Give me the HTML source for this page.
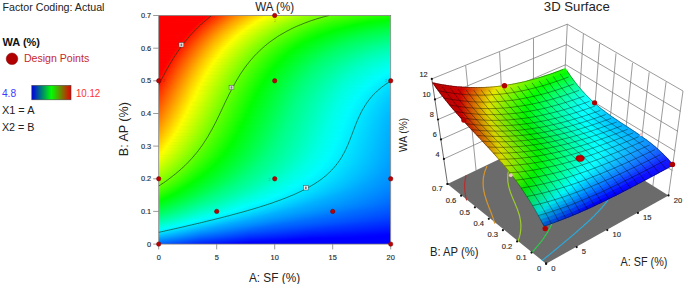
<!DOCTYPE html>
<html><head><meta charset="utf-8"><style>
html,body{margin:0;padding:0;background:#fff;}
body{width:685px;height:284px;overflow:hidden;}
svg{display:block;font-family:"Liberation Sans",sans-serif;}
</style></head><body>
<svg width="685" height="284" viewBox="0 0 685 284">
<defs><linearGradient id="g0"><stop offset="0.000" stop-color="#ff0000"/><stop offset="0.207" stop-color="#ff0000"/><stop offset="0.362" stop-color="#ffa200"/><stop offset="0.474" stop-color="#feff00"/><stop offset="0.621" stop-color="#9eff00"/><stop offset="0.776" stop-color="#57ff00"/><stop offset="0.948" stop-color="#29ff00"/><stop offset="1.000" stop-color="#20ff00"/></linearGradient><linearGradient id="g1"><stop offset="0.000" stop-color="#ff0000"/><stop offset="0.207" stop-color="#ff0400"/><stop offset="0.336" stop-color="#ff9000"/><stop offset="0.457" stop-color="#fffa00"/><stop offset="0.491" stop-color="#eaff00"/><stop offset="0.638" stop-color="#8eff00"/><stop offset="0.802" stop-color="#47ff00"/><stop offset="0.974" stop-color="#1cff00"/><stop offset="1.000" stop-color="#18ff00"/></linearGradient><linearGradient id="g2"><stop offset="0.000" stop-color="#ff0000"/><stop offset="0.198" stop-color="#ff0000"/><stop offset="0.328" stop-color="#ff8e00"/><stop offset="0.457" stop-color="#feff00"/><stop offset="0.603" stop-color="#9aff00"/><stop offset="0.759" stop-color="#4fff00"/><stop offset="0.931" stop-color="#1dff00"/><stop offset="1.000" stop-color="#10ff00"/></linearGradient><linearGradient id="g3"><stop offset="0.000" stop-color="#ff0000"/><stop offset="0.190" stop-color="#ff0000"/><stop offset="0.353" stop-color="#ffad00"/><stop offset="0.448" stop-color="#feff00"/><stop offset="0.595" stop-color="#98ff00"/><stop offset="0.750" stop-color="#4cff00"/><stop offset="0.922" stop-color="#17ff00"/><stop offset="1.000" stop-color="#09ff00"/></linearGradient><linearGradient id="g4"><stop offset="0.000" stop-color="#ff0000"/><stop offset="0.190" stop-color="#ff0200"/><stop offset="0.319" stop-color="#ff9200"/><stop offset="0.440" stop-color="#ffff00"/><stop offset="0.586" stop-color="#97ff00"/><stop offset="0.741" stop-color="#49ff00"/><stop offset="0.914" stop-color="#12ff00"/><stop offset="1.000" stop-color="#01ff00"/></linearGradient><linearGradient id="g5"><stop offset="0.000" stop-color="#ff0000"/><stop offset="0.181" stop-color="#ff0000"/><stop offset="0.328" stop-color="#ffa100"/><stop offset="0.431" stop-color="#ffff00"/><stop offset="0.578" stop-color="#96ff00"/><stop offset="0.733" stop-color="#45ff00"/><stop offset="0.905" stop-color="#0cff00"/><stop offset="0.991" stop-color="#00ff05"/><stop offset="1.000" stop-color="#00ff06"/></linearGradient><linearGradient id="g6"><stop offset="0.000" stop-color="#ff0000"/><stop offset="0.181" stop-color="#ff0400"/><stop offset="0.310" stop-color="#ff9600"/><stop offset="0.422" stop-color="#fffe00"/><stop offset="0.578" stop-color="#90ff00"/><stop offset="0.733" stop-color="#3fff00"/><stop offset="0.905" stop-color="#05ff00"/><stop offset="1.000" stop-color="#00ff0e"/></linearGradient><linearGradient id="g7"><stop offset="0.000" stop-color="#ff0000"/><stop offset="0.172" stop-color="#ff0000"/><stop offset="0.310" stop-color="#ff9c00"/><stop offset="0.414" stop-color="#fffc00"/><stop offset="0.578" stop-color="#89ff00"/><stop offset="0.733" stop-color="#38ff00"/><stop offset="0.897" stop-color="#01ff00"/><stop offset="1.000" stop-color="#00ff15"/></linearGradient><linearGradient id="g8"><stop offset="0.000" stop-color="#ff0000"/><stop offset="0.164" stop-color="#ff0000"/><stop offset="0.190" stop-color="#ff1a00"/><stop offset="0.319" stop-color="#ffaa00"/><stop offset="0.414" stop-color="#fcff00"/><stop offset="0.560" stop-color="#8eff00"/><stop offset="0.716" stop-color="#39ff00"/><stop offset="0.871" stop-color="#01ff00"/><stop offset="1.000" stop-color="#00ff1c"/></linearGradient><linearGradient id="g9"><stop offset="0.000" stop-color="#ff0000"/><stop offset="0.164" stop-color="#ff0000"/><stop offset="0.293" stop-color="#ff9600"/><stop offset="0.405" stop-color="#fdff00"/><stop offset="0.552" stop-color="#8eff00"/><stop offset="0.707" stop-color="#37ff00"/><stop offset="0.853" stop-color="#00ff01"/><stop offset="1.000" stop-color="#00ff23"/></linearGradient><linearGradient id="g10"><stop offset="0.000" stop-color="#ff0000"/><stop offset="0.155" stop-color="#ff0000"/><stop offset="0.198" stop-color="#ff3000"/><stop offset="0.336" stop-color="#ffc700"/><stop offset="0.397" stop-color="#ffff00"/><stop offset="0.543" stop-color="#8eff00"/><stop offset="0.698" stop-color="#35ff00"/><stop offset="0.836" stop-color="#00ff02"/><stop offset="1.000" stop-color="#00ff2a"/></linearGradient><linearGradient id="g11"><stop offset="0.000" stop-color="#ff0000"/><stop offset="0.155" stop-color="#ff0000"/><stop offset="0.284" stop-color="#ff9800"/><stop offset="0.388" stop-color="#fffd00"/><stop offset="0.552" stop-color="#82ff00"/><stop offset="0.707" stop-color="#2bff00"/><stop offset="0.819" stop-color="#00ff02"/><stop offset="1.000" stop-color="#00ff31"/></linearGradient><linearGradient id="g12"><stop offset="0.000" stop-color="#ff0000"/><stop offset="0.147" stop-color="#ff0000"/><stop offset="0.207" stop-color="#ff4600"/><stop offset="0.345" stop-color="#ffda00"/><stop offset="0.388" stop-color="#fbff00"/><stop offset="0.534" stop-color="#88ff00"/><stop offset="0.690" stop-color="#2dff00"/><stop offset="0.802" stop-color="#00ff02"/><stop offset="0.983" stop-color="#00ff34"/><stop offset="1.000" stop-color="#00ff38"/></linearGradient><linearGradient id="g13"><stop offset="0.000" stop-color="#ff0000"/><stop offset="0.147" stop-color="#ff0000"/><stop offset="0.276" stop-color="#ff9a00"/><stop offset="0.379" stop-color="#feff00"/><stop offset="0.526" stop-color="#88ff00"/><stop offset="0.681" stop-color="#2cff00"/><stop offset="0.784" stop-color="#00ff02"/><stop offset="0.966" stop-color="#00ff37"/><stop offset="1.000" stop-color="#00ff3e"/></linearGradient><linearGradient id="g14"><stop offset="0.000" stop-color="#ff0000"/><stop offset="0.138" stop-color="#ff0000"/><stop offset="0.172" stop-color="#ff2700"/><stop offset="0.302" stop-color="#ffba00"/><stop offset="0.371" stop-color="#fffe00"/><stop offset="0.526" stop-color="#83ff00"/><stop offset="0.681" stop-color="#26ff00"/><stop offset="0.767" stop-color="#00ff01"/><stop offset="0.948" stop-color="#00ff3a"/><stop offset="1.000" stop-color="#00ff45"/></linearGradient><linearGradient id="g15"><stop offset="0.000" stop-color="#ff0000"/><stop offset="0.138" stop-color="#ff0000"/><stop offset="0.267" stop-color="#ff9b00"/><stop offset="0.362" stop-color="#fffb00"/><stop offset="0.534" stop-color="#77ff00"/><stop offset="0.690" stop-color="#1cff00"/><stop offset="0.759" stop-color="#00ff03"/><stop offset="0.940" stop-color="#00ff3e"/><stop offset="1.000" stop-color="#00ff4b"/></linearGradient><linearGradient id="g16"><stop offset="0.000" stop-color="#ff0000"/><stop offset="0.129" stop-color="#ff0000"/><stop offset="0.155" stop-color="#ff1c00"/><stop offset="0.284" stop-color="#ffb300"/><stop offset="0.362" stop-color="#feff00"/><stop offset="0.509" stop-color="#84ff00"/><stop offset="0.664" stop-color="#24ff00"/><stop offset="0.741" stop-color="#00ff02"/><stop offset="0.914" stop-color="#00ff3e"/><stop offset="1.000" stop-color="#00ff51"/></linearGradient><linearGradient id="g17"><stop offset="0.000" stop-color="#ff0000"/><stop offset="0.129" stop-color="#ff0000"/><stop offset="0.267" stop-color="#ffa500"/><stop offset="0.353" stop-color="#fffd00"/><stop offset="0.509" stop-color="#7fff00"/><stop offset="0.664" stop-color="#1eff00"/><stop offset="0.733" stop-color="#00ff03"/><stop offset="0.905" stop-color="#00ff41"/><stop offset="1.000" stop-color="#00ff58"/></linearGradient><linearGradient id="g18"><stop offset="0.000" stop-color="#ff0000"/><stop offset="0.121" stop-color="#ff0000"/><stop offset="0.138" stop-color="#ff1000"/><stop offset="0.267" stop-color="#ffab00"/><stop offset="0.353" stop-color="#fcff00"/><stop offset="0.500" stop-color="#80ff00"/><stop offset="0.655" stop-color="#1eff00"/><stop offset="0.716" stop-color="#00ff01"/><stop offset="0.888" stop-color="#00ff42"/><stop offset="1.000" stop-color="#00ff5e"/></linearGradient><linearGradient id="g19"><stop offset="0.000" stop-color="#ff0000"/><stop offset="0.121" stop-color="#ff0000"/><stop offset="0.267" stop-color="#ffb000"/><stop offset="0.345" stop-color="#ffff00"/><stop offset="0.491" stop-color="#82ff00"/><stop offset="0.647" stop-color="#1dff00"/><stop offset="0.707" stop-color="#00ff02"/><stop offset="0.879" stop-color="#00ff45"/><stop offset="1.000" stop-color="#00ff64"/></linearGradient><linearGradient id="g20"><stop offset="0.000" stop-color="#ff0000"/><stop offset="0.121" stop-color="#ff0300"/><stop offset="0.250" stop-color="#ffa200"/><stop offset="0.336" stop-color="#fffc00"/><stop offset="0.509" stop-color="#70ff00"/><stop offset="0.664" stop-color="#0fff00"/><stop offset="0.698" stop-color="#00ff03"/><stop offset="0.871" stop-color="#00ff48"/><stop offset="1.000" stop-color="#00ff69"/></linearGradient><linearGradient id="g21"><stop offset="0.000" stop-color="#ff0000"/><stop offset="0.112" stop-color="#ff0000"/><stop offset="0.267" stop-color="#ffb900"/><stop offset="0.336" stop-color="#fdff00"/><stop offset="0.483" stop-color="#7eff00"/><stop offset="0.638" stop-color="#18ff00"/><stop offset="0.690" stop-color="#00ff04"/><stop offset="0.862" stop-color="#00ff4b"/><stop offset="1.000" stop-color="#00ff6f"/></linearGradient><linearGradient id="g22"><stop offset="0.000" stop-color="#ff0000"/><stop offset="0.112" stop-color="#ff0100"/><stop offset="0.241" stop-color="#ffa200"/><stop offset="0.328" stop-color="#fffd00"/><stop offset="0.491" stop-color="#73ff00"/><stop offset="0.647" stop-color="#0eff00"/><stop offset="0.681" stop-color="#00ff04"/><stop offset="0.853" stop-color="#00ff4d"/><stop offset="1.000" stop-color="#00ff75"/></linearGradient><linearGradient id="g23"><stop offset="0.000" stop-color="#ff0000"/><stop offset="0.103" stop-color="#ff0000"/><stop offset="0.138" stop-color="#ff2800"/><stop offset="0.267" stop-color="#ffc300"/><stop offset="0.328" stop-color="#fdff00"/><stop offset="0.474" stop-color="#7bff00"/><stop offset="0.629" stop-color="#13ff00"/><stop offset="0.672" stop-color="#00ff05"/><stop offset="0.845" stop-color="#00ff4f"/><stop offset="1.000" stop-color="#00ff7a"/></linearGradient><linearGradient id="g24"><stop offset="0.000" stop-color="#ff0000"/><stop offset="0.103" stop-color="#ff0000"/><stop offset="0.241" stop-color="#ffab00"/><stop offset="0.319" stop-color="#fffe00"/><stop offset="0.474" stop-color="#77ff00"/><stop offset="0.629" stop-color="#0eff00"/><stop offset="0.664" stop-color="#00ff05"/><stop offset="0.836" stop-color="#00ff51"/><stop offset="1.000" stop-color="#00ff80"/></linearGradient><linearGradient id="g25"><stop offset="0.000" stop-color="#ff0000"/><stop offset="0.103" stop-color="#ff0400"/><stop offset="0.233" stop-color="#ffa600"/><stop offset="0.319" stop-color="#fcff00"/><stop offset="0.466" stop-color="#79ff00"/><stop offset="0.621" stop-color="#0fff00"/><stop offset="0.655" stop-color="#00ff05"/><stop offset="0.828" stop-color="#00ff53"/><stop offset="1.000" stop-color="#00ff85"/></linearGradient><linearGradient id="g26"><stop offset="0.000" stop-color="#ff0000"/><stop offset="0.095" stop-color="#ff0000"/><stop offset="0.250" stop-color="#ffbe00"/><stop offset="0.310" stop-color="#fffe00"/><stop offset="0.466" stop-color="#75ff00"/><stop offset="0.621" stop-color="#0aff00"/><stop offset="0.647" stop-color="#00ff05"/><stop offset="0.819" stop-color="#00ff55"/><stop offset="1.000" stop-color="#00ff8a"/></linearGradient><linearGradient id="g27"><stop offset="0.000" stop-color="#ff0000"/><stop offset="0.095" stop-color="#ff0100"/><stop offset="0.224" stop-color="#ffa500"/><stop offset="0.310" stop-color="#fcff00"/><stop offset="0.457" stop-color="#77ff00"/><stop offset="0.612" stop-color="#0bff00"/><stop offset="0.638" stop-color="#00ff05"/><stop offset="0.810" stop-color="#00ff56"/><stop offset="1.000" stop-color="#00ff90"/></linearGradient><linearGradient id="g28"><stop offset="0.000" stop-color="#ff0000"/><stop offset="0.086" stop-color="#ff0000"/><stop offset="0.112" stop-color="#ff1d00"/><stop offset="0.241" stop-color="#ffbd00"/><stop offset="0.302" stop-color="#fffe00"/><stop offset="0.457" stop-color="#73ff00"/><stop offset="0.612" stop-color="#06ff00"/><stop offset="0.655" stop-color="#00ff13"/><stop offset="0.828" stop-color="#00ff62"/><stop offset="1.000" stop-color="#00ff95"/></linearGradient><linearGradient id="g29"><stop offset="0.000" stop-color="#ff0000"/><stop offset="0.086" stop-color="#ff0000"/><stop offset="0.233" stop-color="#ffb700"/><stop offset="0.302" stop-color="#fcff00"/><stop offset="0.448" stop-color="#75ff00"/><stop offset="0.603" stop-color="#07ff00"/><stop offset="0.638" stop-color="#00ff0d"/><stop offset="0.810" stop-color="#00ff60"/><stop offset="1.000" stop-color="#00ff9a"/></linearGradient><linearGradient id="g30"><stop offset="0.000" stop-color="#ff0000"/><stop offset="0.086" stop-color="#ff0300"/><stop offset="0.216" stop-color="#ffa800"/><stop offset="0.293" stop-color="#fffd00"/><stop offset="0.448" stop-color="#71ff00"/><stop offset="0.603" stop-color="#03ff00"/><stop offset="0.802" stop-color="#00ff61"/><stop offset="0.991" stop-color="#00ff9d"/><stop offset="1.000" stop-color="#00ff9f"/></linearGradient><linearGradient id="g31"><stop offset="0.000" stop-color="#ff0000"/><stop offset="0.078" stop-color="#ff0000"/><stop offset="0.241" stop-color="#ffca00"/><stop offset="0.293" stop-color="#fdff00"/><stop offset="0.440" stop-color="#74ff00"/><stop offset="0.595" stop-color="#04ff00"/><stop offset="0.802" stop-color="#00ff65"/><stop offset="0.991" stop-color="#00ffa1"/><stop offset="1.000" stop-color="#00ffa3"/></linearGradient><linearGradient id="g32"><stop offset="0.000" stop-color="#ff0000"/><stop offset="0.078" stop-color="#ff0000"/><stop offset="0.216" stop-color="#ffb000"/><stop offset="0.284" stop-color="#fffd00"/><stop offset="0.448" stop-color="#69ff00"/><stop offset="0.595" stop-color="#00ff00"/><stop offset="0.759" stop-color="#00ff57"/><stop offset="0.940" stop-color="#00ff98"/><stop offset="1.000" stop-color="#00ffa8"/></linearGradient><linearGradient id="g33"><stop offset="0.000" stop-color="#ff0000"/><stop offset="0.078" stop-color="#ff0400"/><stop offset="0.207" stop-color="#ffaa00"/><stop offset="0.284" stop-color="#fdff00"/><stop offset="0.431" stop-color="#73ff00"/><stop offset="0.586" stop-color="#01ff00"/><stop offset="0.767" stop-color="#00ff5f"/><stop offset="0.957" stop-color="#00ffa2"/><stop offset="1.000" stop-color="#00ffad"/></linearGradient><linearGradient id="g34"><stop offset="0.000" stop-color="#ff0000"/><stop offset="0.069" stop-color="#ff0000"/><stop offset="0.233" stop-color="#ffcc00"/><stop offset="0.276" stop-color="#fffb00"/><stop offset="0.448" stop-color="#61ff00"/><stop offset="0.578" stop-color="#03ff00"/><stop offset="0.776" stop-color="#00ff67"/><stop offset="0.966" stop-color="#00ffa8"/><stop offset="1.000" stop-color="#00ffb1"/></linearGradient><linearGradient id="g35"><stop offset="0.000" stop-color="#ff0000"/><stop offset="0.069" stop-color="#ff0000"/><stop offset="0.198" stop-color="#ffa800"/><stop offset="0.276" stop-color="#ffff00"/><stop offset="0.422" stop-color="#73ff00"/><stop offset="0.569" stop-color="#05ff00"/><stop offset="0.612" stop-color="#00ff16"/><stop offset="0.784" stop-color="#00ff6f"/><stop offset="0.974" stop-color="#00ffaf"/><stop offset="1.000" stop-color="#00ffb6"/></linearGradient><linearGradient id="g36"><stop offset="0.000" stop-color="#ff0000"/><stop offset="0.069" stop-color="#ff0400"/><stop offset="0.198" stop-color="#ffac00"/><stop offset="0.267" stop-color="#fffa00"/><stop offset="0.302" stop-color="#e0ff00"/><stop offset="0.448" stop-color="#5aff00"/><stop offset="0.569" stop-color="#01ff00"/><stop offset="0.750" stop-color="#00ff63"/><stop offset="0.940" stop-color="#00ffaa"/><stop offset="1.000" stop-color="#00ffba"/></linearGradient><linearGradient id="g37"><stop offset="0.000" stop-color="#ff0000"/><stop offset="0.060" stop-color="#ff0000"/><stop offset="0.224" stop-color="#ffce00"/><stop offset="0.267" stop-color="#fffe00"/><stop offset="0.422" stop-color="#6cff00"/><stop offset="0.560" stop-color="#03ff00"/><stop offset="0.759" stop-color="#00ff6b"/><stop offset="0.948" stop-color="#00ffb0"/><stop offset="1.000" stop-color="#00ffbe"/></linearGradient><linearGradient id="g38"><stop offset="0.000" stop-color="#ff0000"/><stop offset="0.060" stop-color="#ff0000"/><stop offset="0.190" stop-color="#ffa900"/><stop offset="0.267" stop-color="#fdff00"/><stop offset="0.414" stop-color="#6fff00"/><stop offset="0.560" stop-color="#00ff00"/><stop offset="0.724" stop-color="#00ff5f"/><stop offset="0.905" stop-color="#00ffa7"/><stop offset="1.000" stop-color="#00ffc2"/></linearGradient><linearGradient id="g39"><stop offset="0.000" stop-color="#ff0000"/><stop offset="0.060" stop-color="#ff0400"/><stop offset="0.190" stop-color="#ffad00"/><stop offset="0.259" stop-color="#fffc00"/><stop offset="0.431" stop-color="#5dff00"/><stop offset="0.552" stop-color="#02ff00"/><stop offset="0.733" stop-color="#00ff67"/><stop offset="0.914" stop-color="#00ffae"/><stop offset="1.000" stop-color="#00ffc7"/></linearGradient><linearGradient id="g40"><stop offset="0.000" stop-color="#ff0000"/><stop offset="0.052" stop-color="#ff0000"/><stop offset="0.216" stop-color="#ffcf00"/><stop offset="0.259" stop-color="#ffff00"/><stop offset="0.405" stop-color="#70ff00"/><stop offset="0.543" stop-color="#04ff00"/><stop offset="0.690" stop-color="#00ff54"/><stop offset="0.871" stop-color="#00ffa3"/><stop offset="1.000" stop-color="#00ffcb"/></linearGradient><linearGradient id="g41"><stop offset="0.000" stop-color="#ff0000"/><stop offset="0.052" stop-color="#ff0000"/><stop offset="0.190" stop-color="#ffb400"/><stop offset="0.259" stop-color="#fbff00"/><stop offset="0.405" stop-color="#6cff00"/><stop offset="0.543" stop-color="#01ff00"/><stop offset="0.716" stop-color="#00ff65"/><stop offset="0.897" stop-color="#00ffb0"/><stop offset="1.000" stop-color="#00ffcf"/></linearGradient><linearGradient id="g42"><stop offset="0.000" stop-color="#ff0000"/><stop offset="0.052" stop-color="#ff0400"/><stop offset="0.181" stop-color="#ffae00"/><stop offset="0.250" stop-color="#fffd00"/><stop offset="0.414" stop-color="#61ff00"/><stop offset="0.534" stop-color="#03ff00"/><stop offset="0.733" stop-color="#00ff71"/><stop offset="0.922" stop-color="#00ffbc"/><stop offset="1.000" stop-color="#00ffd2"/></linearGradient><linearGradient id="g43"><stop offset="0.000" stop-color="#ff0000"/><stop offset="0.043" stop-color="#ff0000"/><stop offset="0.207" stop-color="#ffd000"/><stop offset="0.250" stop-color="#fdff00"/><stop offset="0.397" stop-color="#6dff00"/><stop offset="0.534" stop-color="#00ff00"/><stop offset="0.698" stop-color="#00ff63"/><stop offset="0.879" stop-color="#00ffb1"/><stop offset="1.000" stop-color="#00ffd6"/></linearGradient><linearGradient id="g44"><stop offset="0.000" stop-color="#ff0000"/><stop offset="0.043" stop-color="#ff0000"/><stop offset="0.181" stop-color="#ffb500"/><stop offset="0.241" stop-color="#fffa00"/><stop offset="0.310" stop-color="#bbff00"/><stop offset="0.457" stop-color="#37ff00"/><stop offset="0.534" stop-color="#00ff03"/><stop offset="0.698" stop-color="#00ff66"/><stop offset="0.879" stop-color="#00ffb5"/><stop offset="1.000" stop-color="#00ffda"/></linearGradient><linearGradient id="g45"><stop offset="0.000" stop-color="#ff0000"/><stop offset="0.043" stop-color="#ff0300"/><stop offset="0.172" stop-color="#ffae00"/><stop offset="0.241" stop-color="#fffe00"/><stop offset="0.397" stop-color="#67ff00"/><stop offset="0.526" stop-color="#00ff00"/><stop offset="0.690" stop-color="#00ff65"/><stop offset="0.871" stop-color="#00ffb5"/><stop offset="1.000" stop-color="#00ffdd"/></linearGradient><linearGradient id="g46"><stop offset="0.000" stop-color="#ff0000"/><stop offset="0.034" stop-color="#ff0000"/><stop offset="0.060" stop-color="#ff1f00"/><stop offset="0.198" stop-color="#ffd000"/><stop offset="0.241" stop-color="#fdff00"/><stop offset="0.388" stop-color="#6bff00"/><stop offset="0.517" stop-color="#03ff00"/><stop offset="0.707" stop-color="#00ff71"/><stop offset="0.888" stop-color="#00ffbf"/><stop offset="1.000" stop-color="#00ffe1"/></linearGradient><linearGradient id="g47"><stop offset="0.000" stop-color="#ff0000"/><stop offset="0.034" stop-color="#ff0000"/><stop offset="0.190" stop-color="#ffc900"/><stop offset="0.233" stop-color="#fffb00"/><stop offset="0.405" stop-color="#59ff00"/><stop offset="0.517" stop-color="#00ff00"/><stop offset="0.681" stop-color="#00ff67"/><stop offset="0.862" stop-color="#00ffb8"/><stop offset="1.000" stop-color="#00ffe4"/></linearGradient><linearGradient id="g48"><stop offset="0.000" stop-color="#ff0000"/><stop offset="0.034" stop-color="#ff0100"/><stop offset="0.164" stop-color="#ffae00"/><stop offset="0.233" stop-color="#fffe00"/><stop offset="0.388" stop-color="#65ff00"/><stop offset="0.509" stop-color="#03ff00"/><stop offset="0.707" stop-color="#00ff77"/><stop offset="0.897" stop-color="#00ffc8"/><stop offset="1.000" stop-color="#00ffe8"/></linearGradient><linearGradient id="g49"><stop offset="0.000" stop-color="#ff0000"/><stop offset="0.034" stop-color="#ff0500"/><stop offset="0.164" stop-color="#ffb100"/><stop offset="0.233" stop-color="#fdff00"/><stop offset="0.379" stop-color="#6aff00"/><stop offset="0.509" stop-color="#00ff00"/><stop offset="0.672" stop-color="#00ff68"/><stop offset="0.853" stop-color="#00ffbb"/><stop offset="1.000" stop-color="#00ffeb"/></linearGradient><linearGradient id="g50"><stop offset="0.000" stop-color="#ff0000"/><stop offset="0.026" stop-color="#ff0000"/><stop offset="0.190" stop-color="#ffd300"/><stop offset="0.224" stop-color="#fffb00"/><stop offset="0.405" stop-color="#50ff00"/><stop offset="0.509" stop-color="#00ff03"/><stop offset="0.672" stop-color="#00ff6b"/><stop offset="0.853" stop-color="#00ffbe"/><stop offset="1.000" stop-color="#00ffee"/></linearGradient><linearGradient id="g51"><stop offset="0.000" stop-color="#ff0000"/><stop offset="0.026" stop-color="#ff0000"/><stop offset="0.164" stop-color="#ffb700"/><stop offset="0.224" stop-color="#fffe00"/><stop offset="0.379" stop-color="#64ff00"/><stop offset="0.500" stop-color="#01ff00"/><stop offset="0.672" stop-color="#00ff6e"/><stop offset="0.853" stop-color="#00ffc1"/><stop offset="1.000" stop-color="#00fff1"/></linearGradient><linearGradient id="g52"><stop offset="0.000" stop-color="#ff0000"/><stop offset="0.026" stop-color="#ff0300"/><stop offset="0.155" stop-color="#ffb000"/><stop offset="0.224" stop-color="#fdff00"/><stop offset="0.371" stop-color="#69ff00"/><stop offset="0.500" stop-color="#00ff02"/><stop offset="0.664" stop-color="#00ff6c"/><stop offset="0.845" stop-color="#00ffc1"/><stop offset="1.000" stop-color="#00fff5"/></linearGradient><linearGradient id="g53"><stop offset="0.000" stop-color="#ff0000"/><stop offset="0.017" stop-color="#ff0000"/><stop offset="0.043" stop-color="#ff1f00"/><stop offset="0.181" stop-color="#ffd200"/><stop offset="0.216" stop-color="#fffa00"/><stop offset="0.276" stop-color="#c2ff00"/><stop offset="0.422" stop-color="#39ff00"/><stop offset="0.491" stop-color="#02ff00"/><stop offset="0.672" stop-color="#00ff73"/><stop offset="0.853" stop-color="#00ffc7"/><stop offset="1.000" stop-color="#00fff8"/></linearGradient><linearGradient id="g54"><stop offset="0.000" stop-color="#ff0000"/><stop offset="0.017" stop-color="#ff0000"/><stop offset="0.172" stop-color="#ffcb00"/><stop offset="0.216" stop-color="#fffd00"/><stop offset="0.371" stop-color="#63ff00"/><stop offset="0.491" stop-color="#00ff01"/><stop offset="0.655" stop-color="#00ff6c"/><stop offset="0.836" stop-color="#00ffc3"/><stop offset="1.000" stop-color="#00fffb"/></linearGradient><linearGradient id="g55"><stop offset="0.000" stop-color="#ff0000"/><stop offset="0.017" stop-color="#ff0100"/><stop offset="0.147" stop-color="#ffaf00"/><stop offset="0.216" stop-color="#feff00"/><stop offset="0.362" stop-color="#68ff00"/><stop offset="0.483" stop-color="#03ff00"/><stop offset="0.681" stop-color="#00ff7d"/><stop offset="0.871" stop-color="#00ffd3"/><stop offset="1.000" stop-color="#00fffd"/></linearGradient><linearGradient id="g56"><stop offset="0.000" stop-color="#ff0000"/><stop offset="0.017" stop-color="#ff0400"/><stop offset="0.147" stop-color="#ffb200"/><stop offset="0.207" stop-color="#fffa00"/><stop offset="0.233" stop-color="#e8ff00"/><stop offset="0.379" stop-color="#56ff00"/><stop offset="0.483" stop-color="#01ff00"/><stop offset="0.655" stop-color="#00ff71"/><stop offset="0.836" stop-color="#00ffc8"/><stop offset="1.000" stop-color="#00feff"/></linearGradient><linearGradient id="g57"><stop offset="0.000" stop-color="#ff0000"/><stop offset="0.017" stop-color="#ff0800"/><stop offset="0.155" stop-color="#ffbf00"/><stop offset="0.207" stop-color="#fffc00"/><stop offset="0.371" stop-color="#5bff00"/><stop offset="0.483" stop-color="#00ff02"/><stop offset="0.647" stop-color="#00ff6f"/><stop offset="0.828" stop-color="#00ffc7"/><stop offset="0.991" stop-color="#00feff"/><stop offset="1.000" stop-color="#00fbff"/></linearGradient><linearGradient id="g58"><stop offset="0.000" stop-color="#ff0000"/><stop offset="0.009" stop-color="#ff0000"/><stop offset="0.155" stop-color="#ffc200"/><stop offset="0.207" stop-color="#ffff00"/><stop offset="0.353" stop-color="#68ff00"/><stop offset="0.474" stop-color="#02ff00"/><stop offset="0.664" stop-color="#00ff7b"/><stop offset="0.853" stop-color="#00ffd4"/><stop offset="0.983" stop-color="#00fdff"/><stop offset="1.000" stop-color="#00f8ff"/></linearGradient><linearGradient id="g59"><stop offset="0.000" stop-color="#ff0000"/><stop offset="0.009" stop-color="#ff0200"/><stop offset="0.147" stop-color="#ffbb00"/><stop offset="0.207" stop-color="#fcff00"/><stop offset="0.353" stop-color="#65ff00"/><stop offset="0.474" stop-color="#00ff00"/><stop offset="0.638" stop-color="#00ff6f"/><stop offset="0.819" stop-color="#00ffc9"/><stop offset="0.974" stop-color="#00fdff"/><stop offset="1.000" stop-color="#00f6ff"/></linearGradient><linearGradient id="g60"><stop offset="0.000" stop-color="#ff0000"/><stop offset="0.017" stop-color="#ff1200"/><stop offset="0.155" stop-color="#ffc800"/><stop offset="0.198" stop-color="#fffb00"/><stop offset="0.371" stop-color="#53ff00"/><stop offset="0.474" stop-color="#00ff03"/><stop offset="0.638" stop-color="#00ff71"/><stop offset="0.819" stop-color="#00ffcb"/><stop offset="0.966" stop-color="#00feff"/><stop offset="1.000" stop-color="#00f3ff"/></linearGradient><linearGradient id="g61"><stop offset="0.000" stop-color="#ff0000"/><stop offset="0.164" stop-color="#ffd600"/><stop offset="0.198" stop-color="#fffe00"/><stop offset="0.353" stop-color="#60ff00"/><stop offset="0.466" stop-color="#02ff00"/><stop offset="0.647" stop-color="#00ff78"/><stop offset="0.828" stop-color="#00ffd1"/><stop offset="0.957" stop-color="#00feff"/><stop offset="1.000" stop-color="#00f1ff"/></linearGradient><linearGradient id="g62"><stop offset="0.000" stop-color="#ff0000"/><stop offset="0.147" stop-color="#ffc400"/><stop offset="0.198" stop-color="#fdff00"/><stop offset="0.345" stop-color="#66ff00"/><stop offset="0.466" stop-color="#00ff01"/><stop offset="0.629" stop-color="#00ff70"/><stop offset="0.810" stop-color="#00ffcc"/><stop offset="0.948" stop-color="#00feff"/><stop offset="1.000" stop-color="#00eeff"/></linearGradient><linearGradient id="g63"><stop offset="0.000" stop-color="#ff0200"/><stop offset="0.138" stop-color="#ffbc00"/><stop offset="0.190" stop-color="#fff900"/><stop offset="0.216" stop-color="#e7ff00"/><stop offset="0.362" stop-color="#54ff00"/><stop offset="0.466" stop-color="#00ff03"/><stop offset="0.629" stop-color="#00ff72"/><stop offset="0.810" stop-color="#00ffce"/><stop offset="0.948" stop-color="#00fcff"/><stop offset="1.000" stop-color="#00ecff"/></linearGradient><linearGradient id="g64"><stop offset="0.000" stop-color="#ff0500"/><stop offset="0.138" stop-color="#ffbf00"/><stop offset="0.190" stop-color="#fffc00"/><stop offset="0.362" stop-color="#51ff00"/><stop offset="0.457" stop-color="#01ff00"/><stop offset="0.638" stop-color="#00ff7a"/><stop offset="0.819" stop-color="#00ffd4"/><stop offset="0.940" stop-color="#00fdff"/><stop offset="1.000" stop-color="#00eaff"/></linearGradient><linearGradient id="g65"><stop offset="0.000" stop-color="#ff0900"/><stop offset="0.138" stop-color="#ffc100"/><stop offset="0.190" stop-color="#ffff00"/><stop offset="0.336" stop-color="#67ff00"/><stop offset="0.457" stop-color="#00ff01"/><stop offset="0.621" stop-color="#00ff72"/><stop offset="0.802" stop-color="#00ffcf"/><stop offset="0.931" stop-color="#00fdff"/><stop offset="1.000" stop-color="#00e7ff"/></linearGradient><linearGradient id="g66"><stop offset="0.000" stop-color="#ff0c00"/><stop offset="0.138" stop-color="#ffc400"/><stop offset="0.190" stop-color="#fdff00"/><stop offset="0.336" stop-color="#64ff00"/><stop offset="0.457" stop-color="#00ff03"/><stop offset="0.621" stop-color="#00ff74"/><stop offset="0.802" stop-color="#00ffd1"/><stop offset="0.931" stop-color="#00fbff"/><stop offset="1.000" stop-color="#00e5ff"/></linearGradient><linearGradient id="g67"><stop offset="0.000" stop-color="#ff0f00"/><stop offset="0.138" stop-color="#ffc700"/><stop offset="0.181" stop-color="#fffa00"/><stop offset="0.224" stop-color="#d3ff00"/><stop offset="0.371" stop-color="#43ff00"/><stop offset="0.448" stop-color="#02ff00"/><stop offset="0.629" stop-color="#00ff7b"/><stop offset="0.819" stop-color="#00ffda"/><stop offset="0.922" stop-color="#00fcff"/><stop offset="1.000" stop-color="#00e3ff"/></linearGradient><linearGradient id="g68"><stop offset="0.000" stop-color="#ff1200"/><stop offset="0.138" stop-color="#ffca00"/><stop offset="0.181" stop-color="#fffd00"/><stop offset="0.345" stop-color="#58ff00"/><stop offset="0.448" stop-color="#00ff00"/><stop offset="0.612" stop-color="#00ff72"/><stop offset="0.793" stop-color="#00ffd1"/><stop offset="0.914" stop-color="#00fdff"/><stop offset="1.000" stop-color="#00e1ff"/></linearGradient><linearGradient id="g69"><stop offset="0.000" stop-color="#ff1500"/><stop offset="0.138" stop-color="#ffcc00"/><stop offset="0.181" stop-color="#ffff00"/><stop offset="0.328" stop-color="#66ff00"/><stop offset="0.448" stop-color="#00ff02"/><stop offset="0.612" stop-color="#00ff74"/><stop offset="0.793" stop-color="#00ffd3"/><stop offset="0.914" stop-color="#00fbff"/><stop offset="1.000" stop-color="#00dfff"/></linearGradient><linearGradient id="g70"><stop offset="0.000" stop-color="#ff1800"/><stop offset="0.138" stop-color="#ffcf00"/><stop offset="0.181" stop-color="#fcff00"/><stop offset="0.328" stop-color="#63ff00"/><stop offset="0.440" stop-color="#02ff00"/><stop offset="0.629" stop-color="#00ff80"/><stop offset="0.819" stop-color="#00ffe0"/><stop offset="0.905" stop-color="#00fdff"/><stop offset="1.000" stop-color="#00ddff"/></linearGradient><linearGradient id="g71"><stop offset="0.000" stop-color="#ff1b00"/><stop offset="0.138" stop-color="#ffd200"/><stop offset="0.172" stop-color="#fffb00"/><stop offset="0.250" stop-color="#aeff00"/><stop offset="0.397" stop-color="#24ff00"/><stop offset="0.440" stop-color="#00ff00"/><stop offset="0.612" stop-color="#00ff78"/><stop offset="0.802" stop-color="#00ffda"/><stop offset="0.897" stop-color="#00feff"/><stop offset="1.000" stop-color="#00dbff"/></linearGradient><linearGradient id="g72"><stop offset="0.000" stop-color="#ff1e00"/><stop offset="0.138" stop-color="#ffd400"/><stop offset="0.172" stop-color="#fffd00"/><stop offset="0.336" stop-color="#57ff00"/><stop offset="0.440" stop-color="#00ff02"/><stop offset="0.603" stop-color="#00ff74"/><stop offset="0.784" stop-color="#00ffd4"/><stop offset="0.897" stop-color="#00fcff"/><stop offset="1.000" stop-color="#00d9ff"/></linearGradient><linearGradient id="g73"><stop offset="0.000" stop-color="#ff2100"/><stop offset="0.138" stop-color="#ffd700"/><stop offset="0.172" stop-color="#feff00"/><stop offset="0.319" stop-color="#65ff00"/><stop offset="0.431" stop-color="#03ff00"/><stop offset="0.629" stop-color="#00ff86"/><stop offset="0.819" stop-color="#00ffe5"/><stop offset="0.897" stop-color="#00faff"/><stop offset="1.000" stop-color="#00d7ff"/></linearGradient><linearGradient id="g74"><stop offset="0.000" stop-color="#ff2500"/><stop offset="0.138" stop-color="#ffda00"/><stop offset="0.172" stop-color="#fcff00"/><stop offset="0.319" stop-color="#63ff00"/><stop offset="0.431" stop-color="#01ff00"/><stop offset="0.612" stop-color="#00ff7d"/><stop offset="0.802" stop-color="#00ffdf"/><stop offset="0.888" stop-color="#00fcff"/><stop offset="1.000" stop-color="#00d6ff"/></linearGradient><linearGradient id="g75"><stop offset="0.000" stop-color="#ff2800"/><stop offset="0.138" stop-color="#ffdc00"/><stop offset="0.164" stop-color="#fffb00"/><stop offset="0.250" stop-color="#a5ff00"/><stop offset="0.405" stop-color="#15ff00"/><stop offset="0.431" stop-color="#00ff01"/><stop offset="0.595" stop-color="#00ff74"/><stop offset="0.776" stop-color="#00ffd5"/><stop offset="0.879" stop-color="#00feff"/><stop offset="1.000" stop-color="#00d4ff"/></linearGradient><linearGradient id="g76"><stop offset="0.000" stop-color="#ff2b00"/><stop offset="0.138" stop-color="#ffdf00"/><stop offset="0.164" stop-color="#fffd00"/><stop offset="0.328" stop-color="#57ff00"/><stop offset="0.431" stop-color="#00ff02"/><stop offset="0.595" stop-color="#00ff76"/><stop offset="0.784" stop-color="#00ffdb"/><stop offset="0.879" stop-color="#00fcff"/><stop offset="1.000" stop-color="#00d2ff"/></linearGradient><linearGradient id="g77"><stop offset="0.000" stop-color="#ff2e00"/><stop offset="0.138" stop-color="#ffe100"/><stop offset="0.164" stop-color="#feff00"/><stop offset="0.310" stop-color="#65ff00"/><stop offset="0.422" stop-color="#03ff00"/><stop offset="0.612" stop-color="#00ff82"/><stop offset="0.802" stop-color="#00ffe4"/><stop offset="0.879" stop-color="#00faff"/><stop offset="1.000" stop-color="#00d1ff"/></linearGradient><linearGradient id="g78"><stop offset="0.000" stop-color="#ff3100"/><stop offset="0.138" stop-color="#ffe400"/><stop offset="0.164" stop-color="#fcff00"/><stop offset="0.310" stop-color="#63ff00"/><stop offset="0.422" stop-color="#01ff00"/><stop offset="0.595" stop-color="#00ff79"/><stop offset="0.784" stop-color="#00ffde"/><stop offset="0.871" stop-color="#00fcff"/><stop offset="1.000" stop-color="#00cfff"/></linearGradient><linearGradient id="g79"><stop offset="0.000" stop-color="#ff3300"/><stop offset="0.138" stop-color="#ffe600"/><stop offset="0.164" stop-color="#faff00"/><stop offset="0.310" stop-color="#61ff00"/><stop offset="0.422" stop-color="#00ff01"/><stop offset="0.586" stop-color="#00ff75"/><stop offset="0.776" stop-color="#00ffdb"/><stop offset="0.871" stop-color="#00fbff"/><stop offset="1.000" stop-color="#00ceff"/></linearGradient><linearGradient id="g80"><stop offset="0.000" stop-color="#ff3600"/><stop offset="0.138" stop-color="#ffe900"/><stop offset="0.155" stop-color="#fffd00"/><stop offset="0.319" stop-color="#57ff00"/><stop offset="0.422" stop-color="#00ff03"/><stop offset="0.586" stop-color="#00ff77"/><stop offset="0.776" stop-color="#00ffdd"/><stop offset="0.862" stop-color="#00fdff"/><stop offset="1.000" stop-color="#00ccff"/></linearGradient><linearGradient id="g81"><stop offset="0.000" stop-color="#ff3900"/><stop offset="0.138" stop-color="#ffeb00"/><stop offset="0.155" stop-color="#ffff00"/><stop offset="0.302" stop-color="#65ff00"/><stop offset="0.414" stop-color="#02ff00"/><stop offset="0.603" stop-color="#00ff83"/><stop offset="0.793" stop-color="#00ffe6"/><stop offset="0.862" stop-color="#00fbff"/><stop offset="1.000" stop-color="#00cbff"/></linearGradient><linearGradient id="g82"><stop offset="0.000" stop-color="#ff3c00"/><stop offset="0.138" stop-color="#ffee00"/><stop offset="0.155" stop-color="#fcff00"/><stop offset="0.302" stop-color="#63ff00"/><stop offset="0.414" stop-color="#01ff00"/><stop offset="0.586" stop-color="#00ff7a"/><stop offset="0.776" stop-color="#00ffdf"/><stop offset="0.853" stop-color="#00feff"/><stop offset="1.000" stop-color="#00c9ff"/></linearGradient><linearGradient id="g83"><stop offset="0.000" stop-color="#ff3f00"/><stop offset="0.138" stop-color="#fff000"/><stop offset="0.155" stop-color="#faff00"/><stop offset="0.302" stop-color="#61ff00"/><stop offset="0.414" stop-color="#00ff01"/><stop offset="0.586" stop-color="#00ff7b"/><stop offset="0.776" stop-color="#00ffe1"/><stop offset="0.853" stop-color="#00fcff"/><stop offset="1.000" stop-color="#00c8ff"/></linearGradient><linearGradient id="g84"><stop offset="0.000" stop-color="#ff4200"/><stop offset="0.138" stop-color="#fff200"/><stop offset="0.155" stop-color="#f8ff00"/><stop offset="0.302" stop-color="#5fff00"/><stop offset="0.414" stop-color="#00ff03"/><stop offset="0.586" stop-color="#00ff7d"/><stop offset="0.776" stop-color="#00ffe2"/><stop offset="0.853" stop-color="#00fbff"/><stop offset="1.000" stop-color="#00c7ff"/></linearGradient><linearGradient id="g85"><stop offset="0.000" stop-color="#ff4500"/><stop offset="0.138" stop-color="#fff500"/><stop offset="0.147" stop-color="#ffff00"/><stop offset="0.293" stop-color="#65ff00"/><stop offset="0.405" stop-color="#03ff00"/><stop offset="0.595" stop-color="#00ff83"/><stop offset="0.784" stop-color="#00ffe7"/><stop offset="0.845" stop-color="#00fdff"/><stop offset="1.000" stop-color="#00c5ff"/></linearGradient><linearGradient id="g86"><stop offset="0.000" stop-color="#ff4800"/><stop offset="0.138" stop-color="#fff700"/><stop offset="0.155" stop-color="#f3ff00"/><stop offset="0.302" stop-color="#5bff00"/><stop offset="0.405" stop-color="#01ff00"/><stop offset="0.586" stop-color="#00ff80"/><stop offset="0.776" stop-color="#00ffe4"/><stop offset="0.845" stop-color="#00fcff"/><stop offset="1.000" stop-color="#00c4ff"/></linearGradient><linearGradient id="g87"><stop offset="0.000" stop-color="#ff4b00"/><stop offset="0.138" stop-color="#fffa00"/><stop offset="0.172" stop-color="#ddff00"/><stop offset="0.319" stop-color="#49ff00"/><stop offset="0.405" stop-color="#00ff01"/><stop offset="0.578" stop-color="#00ff7c"/><stop offset="0.767" stop-color="#00ffe2"/><stop offset="0.845" stop-color="#00fbff"/><stop offset="1.000" stop-color="#00c3ff"/></linearGradient><linearGradient id="g88"><stop offset="0.000" stop-color="#ff4e00"/><stop offset="0.138" stop-color="#fffc00"/><stop offset="0.310" stop-color="#4fff00"/><stop offset="0.405" stop-color="#00ff02"/><stop offset="0.578" stop-color="#00ff7d"/><stop offset="0.767" stop-color="#00ffe3"/><stop offset="0.836" stop-color="#00fdff"/><stop offset="1.000" stop-color="#00c2ff"/></linearGradient><linearGradient id="g89"><stop offset="0.000" stop-color="#ff5100"/><stop offset="0.138" stop-color="#ffff00"/><stop offset="0.293" stop-color="#5dff00"/><stop offset="0.397" stop-color="#03ff00"/><stop offset="0.595" stop-color="#00ff89"/><stop offset="0.784" stop-color="#00ffec"/><stop offset="0.836" stop-color="#00fcff"/><stop offset="1.000" stop-color="#00c1ff"/></linearGradient><linearGradient id="g90"><stop offset="0.000" stop-color="#ff5400"/><stop offset="0.129" stop-color="#fff700"/><stop offset="0.138" stop-color="#fdff00"/><stop offset="0.284" stop-color="#64ff00"/><stop offset="0.397" stop-color="#01ff00"/><stop offset="0.578" stop-color="#00ff80"/><stop offset="0.767" stop-color="#00ffe5"/><stop offset="0.836" stop-color="#00fbff"/><stop offset="1.000" stop-color="#00c0ff"/></linearGradient><linearGradient id="g91"><stop offset="0.000" stop-color="#ff5700"/><stop offset="0.129" stop-color="#fff900"/><stop offset="0.155" stop-color="#e7ff00"/><stop offset="0.302" stop-color="#52ff00"/><stop offset="0.397" stop-color="#00ff00"/><stop offset="0.569" stop-color="#00ff7b"/><stop offset="0.759" stop-color="#00ffe2"/><stop offset="0.828" stop-color="#00feff"/><stop offset="1.000" stop-color="#00bfff"/></linearGradient><linearGradient id="g92"><stop offset="0.000" stop-color="#ff5a00"/><stop offset="0.129" stop-color="#fffc00"/><stop offset="0.302" stop-color="#50ff00"/><stop offset="0.397" stop-color="#00ff02"/><stop offset="0.569" stop-color="#00ff7d"/><stop offset="0.759" stop-color="#00ffe3"/><stop offset="0.828" stop-color="#00fdff"/><stop offset="1.000" stop-color="#00beff"/></linearGradient><linearGradient id="g93"><stop offset="0.000" stop-color="#ff5d00"/><stop offset="0.129" stop-color="#fffe00"/><stop offset="0.284" stop-color="#5eff00"/><stop offset="0.388" stop-color="#03ff00"/><stop offset="0.586" stop-color="#00ff89"/><stop offset="0.776" stop-color="#00ffec"/><stop offset="0.828" stop-color="#00fcff"/><stop offset="1.000" stop-color="#00bdff"/></linearGradient><linearGradient id="g94"><stop offset="0.000" stop-color="#ff5f00"/><stop offset="0.121" stop-color="#fff700"/><stop offset="0.129" stop-color="#fdff00"/><stop offset="0.276" stop-color="#64ff00"/><stop offset="0.388" stop-color="#02ff00"/><stop offset="0.578" stop-color="#00ff85"/><stop offset="0.767" stop-color="#00ffe9"/><stop offset="0.828" stop-color="#00fbff"/><stop offset="1.000" stop-color="#00bcff"/></linearGradient><linearGradient id="g95"><stop offset="0.000" stop-color="#ff6200"/><stop offset="0.121" stop-color="#fff900"/><stop offset="0.147" stop-color="#e7ff00"/><stop offset="0.293" stop-color="#52ff00"/><stop offset="0.388" stop-color="#00ff00"/><stop offset="0.560" stop-color="#00ff7b"/><stop offset="0.750" stop-color="#00ffe2"/><stop offset="0.819" stop-color="#00fdff"/><stop offset="1.000" stop-color="#00bbff"/></linearGradient><linearGradient id="g96"><stop offset="0.000" stop-color="#ff6500"/><stop offset="0.121" stop-color="#fffc00"/><stop offset="0.302" stop-color="#48ff00"/><stop offset="0.388" stop-color="#00ff02"/><stop offset="0.560" stop-color="#00ff7c"/><stop offset="0.750" stop-color="#00ffe3"/><stop offset="0.819" stop-color="#00fcff"/><stop offset="1.000" stop-color="#00baff"/></linearGradient><linearGradient id="g97"><stop offset="0.000" stop-color="#ff6800"/><stop offset="0.121" stop-color="#fffe00"/><stop offset="0.276" stop-color="#5eff00"/><stop offset="0.388" stop-color="#00ff03"/><stop offset="0.560" stop-color="#00ff7e"/><stop offset="0.750" stop-color="#00ffe4"/><stop offset="0.819" stop-color="#00fcff"/><stop offset="1.000" stop-color="#00b9ff"/></linearGradient><linearGradient id="g98"><stop offset="0.000" stop-color="#ff6b00"/><stop offset="0.121" stop-color="#fdff00"/><stop offset="0.267" stop-color="#64ff00"/><stop offset="0.379" stop-color="#02ff00"/><stop offset="0.569" stop-color="#00ff84"/><stop offset="0.767" stop-color="#00ffed"/><stop offset="0.819" stop-color="#00fbff"/><stop offset="1.000" stop-color="#00b8ff"/></linearGradient><linearGradient id="g99"><stop offset="0.000" stop-color="#ff6e00"/><stop offset="0.112" stop-color="#fff900"/><stop offset="0.138" stop-color="#e8ff00"/><stop offset="0.284" stop-color="#52ff00"/><stop offset="0.379" stop-color="#01ff00"/><stop offset="0.560" stop-color="#00ff80"/><stop offset="0.750" stop-color="#00ffe6"/><stop offset="0.810" stop-color="#00fdff"/><stop offset="1.000" stop-color="#00b8ff"/></linearGradient><linearGradient id="g100"><stop offset="0.000" stop-color="#ff7100"/><stop offset="0.112" stop-color="#fffc00"/><stop offset="0.293" stop-color="#49ff00"/><stop offset="0.379" stop-color="#00ff01"/><stop offset="0.552" stop-color="#00ff7c"/><stop offset="0.741" stop-color="#00ffe3"/><stop offset="0.810" stop-color="#00fdff"/><stop offset="1.000" stop-color="#00b7ff"/></linearGradient><linearGradient id="g101"><stop offset="0.000" stop-color="#ff7400"/><stop offset="0.112" stop-color="#fffe00"/><stop offset="0.267" stop-color="#5fff00"/><stop offset="0.379" stop-color="#00ff03"/><stop offset="0.552" stop-color="#00ff7d"/><stop offset="0.741" stop-color="#00ffe4"/><stop offset="0.810" stop-color="#00fcff"/><stop offset="1.000" stop-color="#00b6ff"/></linearGradient><linearGradient id="g102"><stop offset="0.000" stop-color="#ff7700"/><stop offset="0.112" stop-color="#fdff00"/><stop offset="0.259" stop-color="#65ff00"/><stop offset="0.371" stop-color="#03ff00"/><stop offset="0.569" stop-color="#00ff89"/><stop offset="0.767" stop-color="#00fff0"/><stop offset="0.810" stop-color="#00fbff"/><stop offset="1.000" stop-color="#00b5ff"/></linearGradient><linearGradient id="g103"><stop offset="0.000" stop-color="#ff7a00"/><stop offset="0.103" stop-color="#fff900"/><stop offset="0.129" stop-color="#e7ff00"/><stop offset="0.276" stop-color="#53ff00"/><stop offset="0.371" stop-color="#01ff00"/><stop offset="0.552" stop-color="#00ff7f"/><stop offset="0.750" stop-color="#00ffe9"/><stop offset="0.810" stop-color="#00faff"/><stop offset="1.000" stop-color="#00b5ff"/></linearGradient><linearGradient id="g104"><stop offset="0.000" stop-color="#ff7d00"/><stop offset="0.103" stop-color="#fffc00"/><stop offset="0.276" stop-color="#51ff00"/><stop offset="0.371" stop-color="#00ff01"/><stop offset="0.543" stop-color="#00ff7b"/><stop offset="0.733" stop-color="#00ffe2"/><stop offset="0.802" stop-color="#00fdff"/><stop offset="1.000" stop-color="#00b4ff"/></linearGradient><linearGradient id="g105"><stop offset="0.000" stop-color="#ff8000"/><stop offset="0.103" stop-color="#fffe00"/><stop offset="0.259" stop-color="#5fff00"/><stop offset="0.371" stop-color="#00ff02"/><stop offset="0.543" stop-color="#00ff7c"/><stop offset="0.741" stop-color="#00ffe7"/><stop offset="0.802" stop-color="#00fcff"/><stop offset="1.000" stop-color="#00b3ff"/></linearGradient><linearGradient id="g106"><stop offset="0.000" stop-color="#ff8300"/><stop offset="0.103" stop-color="#fdff00"/><stop offset="0.250" stop-color="#65ff00"/><stop offset="0.362" stop-color="#03ff00"/><stop offset="0.569" stop-color="#00ff8d"/><stop offset="0.767" stop-color="#00fff4"/><stop offset="0.802" stop-color="#00fbff"/><stop offset="1.000" stop-color="#00b3ff"/></linearGradient><linearGradient id="g107"><stop offset="0.000" stop-color="#ff8600"/><stop offset="0.095" stop-color="#fffa00"/><stop offset="0.129" stop-color="#ddff00"/><stop offset="0.284" stop-color="#43ff00"/><stop offset="0.362" stop-color="#01ff00"/><stop offset="0.552" stop-color="#00ff84"/><stop offset="0.750" stop-color="#00ffed"/><stop offset="0.802" stop-color="#00fbff"/><stop offset="1.000" stop-color="#00b2ff"/></linearGradient><linearGradient id="g108"><stop offset="0.000" stop-color="#ff8900"/><stop offset="0.095" stop-color="#fffc00"/><stop offset="0.267" stop-color="#51ff00"/><stop offset="0.362" stop-color="#00ff00"/><stop offset="0.534" stop-color="#00ff7b"/><stop offset="0.733" stop-color="#00ffe6"/><stop offset="0.793" stop-color="#00feff"/><stop offset="1.000" stop-color="#00b1ff"/></linearGradient><linearGradient id="g109"><stop offset="0.000" stop-color="#ff8d00"/><stop offset="0.095" stop-color="#ffff00"/><stop offset="0.241" stop-color="#67ff00"/><stop offset="0.362" stop-color="#00ff02"/><stop offset="0.534" stop-color="#00ff7c"/><stop offset="0.733" stop-color="#00ffe6"/><stop offset="0.793" stop-color="#00fdff"/><stop offset="1.000" stop-color="#00b1ff"/></linearGradient><linearGradient id="g110"><stop offset="0.000" stop-color="#ff9000"/><stop offset="0.095" stop-color="#fcff00"/><stop offset="0.241" stop-color="#65ff00"/><stop offset="0.353" stop-color="#03ff00"/><stop offset="0.560" stop-color="#00ff8d"/><stop offset="0.759" stop-color="#00fff3"/><stop offset="0.802" stop-color="#00f9ff"/><stop offset="1.000" stop-color="#00b0ff"/></linearGradient><linearGradient id="g111"><stop offset="0.000" stop-color="#ff9300"/><stop offset="0.086" stop-color="#fffb00"/><stop offset="0.241" stop-color="#63ff00"/><stop offset="0.353" stop-color="#02ff00"/><stop offset="0.543" stop-color="#00ff83"/><stop offset="0.741" stop-color="#00ffec"/><stop offset="0.793" stop-color="#00fbff"/><stop offset="1.000" stop-color="#00b0ff"/></linearGradient><linearGradient id="g112"><stop offset="0.000" stop-color="#ff9600"/><stop offset="0.086" stop-color="#fffe00"/><stop offset="0.250" stop-color="#58ff00"/><stop offset="0.353" stop-color="#00ff00"/><stop offset="0.526" stop-color="#00ff7a"/><stop offset="0.724" stop-color="#00ffe5"/><stop offset="0.793" stop-color="#00fbff"/><stop offset="1.000" stop-color="#00afff"/></linearGradient><linearGradient id="g113"><stop offset="0.000" stop-color="#ff9900"/><stop offset="0.086" stop-color="#feff00"/><stop offset="0.233" stop-color="#66ff00"/><stop offset="0.353" stop-color="#00ff02"/><stop offset="0.526" stop-color="#00ff7b"/><stop offset="0.724" stop-color="#00ffe6"/><stop offset="0.793" stop-color="#00faff"/><stop offset="1.000" stop-color="#00afff"/></linearGradient><linearGradient id="g114"><stop offset="0.000" stop-color="#ff9c00"/><stop offset="0.078" stop-color="#fff900"/><stop offset="0.103" stop-color="#e8ff00"/><stop offset="0.259" stop-color="#4cff00"/><stop offset="0.353" stop-color="#00ff04"/><stop offset="0.526" stop-color="#00ff7c"/><stop offset="0.724" stop-color="#00ffe6"/><stop offset="0.784" stop-color="#00fdff"/><stop offset="1.000" stop-color="#00aeff"/></linearGradient><linearGradient id="g115"><stop offset="0.000" stop-color="#ffa000"/><stop offset="0.078" stop-color="#fffc00"/><stop offset="0.250" stop-color="#52ff00"/><stop offset="0.345" stop-color="#01ff00"/><stop offset="0.534" stop-color="#00ff83"/><stop offset="0.733" stop-color="#00ffeb"/><stop offset="0.784" stop-color="#00fcff"/><stop offset="1.000" stop-color="#00aeff"/></linearGradient><linearGradient id="g116"><stop offset="0.000" stop-color="#ffa300"/><stop offset="0.078" stop-color="#ffff00"/><stop offset="0.224" stop-color="#68ff00"/><stop offset="0.345" stop-color="#00ff00"/><stop offset="0.517" stop-color="#00ff7a"/><stop offset="0.716" stop-color="#00ffe4"/><stop offset="0.784" stop-color="#00fcff"/><stop offset="1.000" stop-color="#00adff"/></linearGradient><linearGradient id="g117"><stop offset="0.000" stop-color="#ffa600"/><stop offset="0.078" stop-color="#fcff00"/><stop offset="0.233" stop-color="#5eff00"/><stop offset="0.345" stop-color="#00ff02"/><stop offset="0.517" stop-color="#00ff7b"/><stop offset="0.716" stop-color="#00ffe5"/><stop offset="0.784" stop-color="#00fbff"/><stop offset="1.000" stop-color="#00adff"/></linearGradient><linearGradient id="g118"><stop offset="0.000" stop-color="#ffaa00"/><stop offset="0.069" stop-color="#fffb00"/><stop offset="0.250" stop-color="#4cff00"/><stop offset="0.336" stop-color="#03ff00"/><stop offset="0.543" stop-color="#00ff8c"/><stop offset="0.750" stop-color="#00fff5"/><stop offset="0.793" stop-color="#00f7ff"/><stop offset="1.000" stop-color="#00acff"/></linearGradient><linearGradient id="g119"><stop offset="0.000" stop-color="#ffad00"/><stop offset="0.069" stop-color="#fffe00"/><stop offset="0.224" stop-color="#61ff00"/><stop offset="0.336" stop-color="#01ff00"/><stop offset="0.526" stop-color="#00ff83"/><stop offset="0.724" stop-color="#00ffea"/><stop offset="0.776" stop-color="#00fdff"/><stop offset="1.000" stop-color="#00acff"/></linearGradient><linearGradient id="g120"><stop offset="0.000" stop-color="#ffb000"/><stop offset="0.069" stop-color="#fdff00"/><stop offset="0.224" stop-color="#5fff00"/><stop offset="0.336" stop-color="#00ff01"/><stop offset="0.509" stop-color="#00ff79"/><stop offset="0.707" stop-color="#00ffe3"/><stop offset="0.776" stop-color="#00fcff"/><stop offset="1.000" stop-color="#00abff"/></linearGradient><linearGradient id="g121"><stop offset="0.000" stop-color="#ffb400"/><stop offset="0.060" stop-color="#fffb00"/><stop offset="0.155" stop-color="#9eff00"/><stop offset="0.310" stop-color="#12ff00"/><stop offset="0.336" stop-color="#00ff03"/><stop offset="0.509" stop-color="#00ff7b"/><stop offset="0.707" stop-color="#00ffe4"/><stop offset="0.776" stop-color="#00fcff"/><stop offset="1.000" stop-color="#00abff"/></linearGradient><linearGradient id="g122"><stop offset="0.000" stop-color="#ffb700"/><stop offset="0.060" stop-color="#fffe00"/><stop offset="0.224" stop-color="#5aff00"/><stop offset="0.328" stop-color="#02ff00"/><stop offset="0.526" stop-color="#00ff87"/><stop offset="0.724" stop-color="#00ffed"/><stop offset="0.776" stop-color="#00fbff"/><stop offset="1.000" stop-color="#00aaff"/></linearGradient><linearGradient id="g123"><stop offset="0.000" stop-color="#ffbb00"/><stop offset="0.060" stop-color="#fdff00"/><stop offset="0.216" stop-color="#5fff00"/><stop offset="0.328" stop-color="#00ff00"/><stop offset="0.500" stop-color="#00ff78"/><stop offset="0.698" stop-color="#00ffe2"/><stop offset="0.767" stop-color="#00feff"/><stop offset="1.000" stop-color="#00aaff"/></linearGradient><linearGradient id="g124"><stop offset="0.000" stop-color="#ffbe00"/><stop offset="0.052" stop-color="#fffa00"/><stop offset="0.112" stop-color="#c2ff00"/><stop offset="0.267" stop-color="#2fff00"/><stop offset="0.328" stop-color="#00ff02"/><stop offset="0.500" stop-color="#00ff7a"/><stop offset="0.698" stop-color="#00ffe3"/><stop offset="0.767" stop-color="#00fdff"/><stop offset="1.000" stop-color="#00aaff"/></linearGradient><linearGradient id="g125"><stop offset="0.000" stop-color="#ffc200"/><stop offset="0.052" stop-color="#fffe00"/><stop offset="0.216" stop-color="#5aff00"/><stop offset="0.319" stop-color="#03ff00"/><stop offset="0.526" stop-color="#00ff8b"/><stop offset="0.733" stop-color="#00fff3"/><stop offset="0.776" stop-color="#00f9ff"/><stop offset="1.000" stop-color="#00a9ff"/></linearGradient><linearGradient id="g126"><stop offset="0.000" stop-color="#ffc500"/><stop offset="0.052" stop-color="#fdff00"/><stop offset="0.207" stop-color="#60ff00"/><stop offset="0.319" stop-color="#01ff00"/><stop offset="0.500" stop-color="#00ff7d"/><stop offset="0.698" stop-color="#00ffe5"/><stop offset="0.767" stop-color="#00fcff"/><stop offset="1.000" stop-color="#00a9ff"/></linearGradient><linearGradient id="g127"><stop offset="0.000" stop-color="#ffc900"/><stop offset="0.043" stop-color="#fffb00"/><stop offset="0.147" stop-color="#96ff00"/><stop offset="0.302" stop-color="#0cff00"/><stop offset="0.319" stop-color="#00ff01"/><stop offset="0.491" stop-color="#00ff79"/><stop offset="0.690" stop-color="#00ffe2"/><stop offset="0.767" stop-color="#00fbff"/><stop offset="1.000" stop-color="#00a8ff"/></linearGradient><linearGradient id="g128"><stop offset="0.000" stop-color="#ffcc00"/><stop offset="0.043" stop-color="#fffe00"/><stop offset="0.207" stop-color="#5bff00"/><stop offset="0.310" stop-color="#03ff00"/><stop offset="0.517" stop-color="#00ff8a"/><stop offset="0.724" stop-color="#00fff2"/><stop offset="0.767" stop-color="#00faff"/><stop offset="1.000" stop-color="#00a8ff"/></linearGradient><linearGradient id="g129"><stop offset="0.000" stop-color="#ffd000"/><stop offset="0.043" stop-color="#fcff00"/><stop offset="0.198" stop-color="#60ff00"/><stop offset="0.310" stop-color="#01ff00"/><stop offset="0.500" stop-color="#00ff81"/><stop offset="0.698" stop-color="#00ffe7"/><stop offset="0.759" stop-color="#00fdff"/><stop offset="1.000" stop-color="#00a7ff"/></linearGradient><linearGradient id="g130"><stop offset="0.000" stop-color="#ffd400"/><stop offset="0.034" stop-color="#fffb00"/><stop offset="0.216" stop-color="#4eff00"/><stop offset="0.310" stop-color="#00ff01"/><stop offset="0.483" stop-color="#00ff78"/><stop offset="0.681" stop-color="#00ffe1"/><stop offset="0.759" stop-color="#00fcff"/><stop offset="1.000" stop-color="#00a7ff"/></linearGradient><linearGradient id="g131"><stop offset="0.000" stop-color="#ffd800"/><stop offset="0.034" stop-color="#ffff00"/><stop offset="0.190" stop-color="#62ff00"/><stop offset="0.302" stop-color="#03ff00"/><stop offset="0.509" stop-color="#00ff89"/><stop offset="0.716" stop-color="#00fff1"/><stop offset="0.759" stop-color="#00fbff"/><stop offset="1.000" stop-color="#00a7ff"/></linearGradient><linearGradient id="g132"><stop offset="0.000" stop-color="#ffdb00"/><stop offset="0.034" stop-color="#fbff00"/><stop offset="0.190" stop-color="#5fff00"/><stop offset="0.302" stop-color="#01ff00"/><stop offset="0.491" stop-color="#00ff80"/><stop offset="0.698" stop-color="#00ffea"/><stop offset="0.759" stop-color="#00faff"/><stop offset="1.000" stop-color="#00a6ff"/></linearGradient><linearGradient id="g133"><stop offset="0.000" stop-color="#ffdf00"/><stop offset="0.026" stop-color="#fffd00"/><stop offset="0.198" stop-color="#55ff00"/><stop offset="0.302" stop-color="#00ff01"/><stop offset="0.483" stop-color="#00ff7d"/><stop offset="0.681" stop-color="#00ffe4"/><stop offset="0.750" stop-color="#00fdff"/><stop offset="1.000" stop-color="#00a6ff"/></linearGradient><linearGradient id="g134"><stop offset="0.000" stop-color="#ffe300"/><stop offset="0.026" stop-color="#feff00"/><stop offset="0.181" stop-color="#61ff00"/><stop offset="0.293" stop-color="#03ff00"/><stop offset="0.500" stop-color="#00ff89"/><stop offset="0.707" stop-color="#00fff0"/><stop offset="0.750" stop-color="#00fcff"/><stop offset="1.000" stop-color="#00a5ff"/></linearGradient><linearGradient id="g135"><stop offset="0.000" stop-color="#ffe700"/><stop offset="0.026" stop-color="#faff00"/><stop offset="0.181" stop-color="#5eff00"/><stop offset="0.293" stop-color="#00ff00"/><stop offset="0.474" stop-color="#00ff7b"/><stop offset="0.672" stop-color="#00ffe2"/><stop offset="0.750" stop-color="#00fbff"/><stop offset="1.000" stop-color="#00a5ff"/></linearGradient><linearGradient id="g136"><stop offset="0.000" stop-color="#ffeb00"/><stop offset="0.017" stop-color="#fffe00"/><stop offset="0.172" stop-color="#63ff00"/><stop offset="0.293" stop-color="#00ff02"/><stop offset="0.474" stop-color="#00ff7d"/><stop offset="0.681" stop-color="#00ffe7"/><stop offset="0.750" stop-color="#00faff"/><stop offset="1.000" stop-color="#00a4ff"/></linearGradient><linearGradient id="g137"><stop offset="0.000" stop-color="#ffef00"/><stop offset="0.017" stop-color="#fcff00"/><stop offset="0.172" stop-color="#60ff00"/><stop offset="0.284" stop-color="#02ff00"/><stop offset="0.483" stop-color="#00ff84"/><stop offset="0.690" stop-color="#00ffec"/><stop offset="0.741" stop-color="#00fdff"/><stop offset="1.000" stop-color="#00a4ff"/></linearGradient><linearGradient id="g138"><stop offset="0.000" stop-color="#fff300"/><stop offset="0.017" stop-color="#f8ff00"/><stop offset="0.172" stop-color="#5dff00"/><stop offset="0.284" stop-color="#00ff01"/><stop offset="0.466" stop-color="#00ff7b"/><stop offset="0.672" stop-color="#00ffe5"/><stop offset="0.741" stop-color="#00fcff"/><stop offset="1.000" stop-color="#00a3ff"/></linearGradient><linearGradient id="g139"><stop offset="0.000" stop-color="#fff700"/><stop offset="0.017" stop-color="#f4ff00"/><stop offset="0.172" stop-color="#5aff00"/><stop offset="0.284" stop-color="#00ff03"/><stop offset="0.466" stop-color="#00ff7d"/><stop offset="0.672" stop-color="#00ffe7"/><stop offset="0.741" stop-color="#00fbff"/><stop offset="1.000" stop-color="#00a3ff"/></linearGradient><linearGradient id="g140"><stop offset="0.000" stop-color="#fffb00"/><stop offset="0.181" stop-color="#4fff00"/><stop offset="0.276" stop-color="#01ff00"/><stop offset="0.466" stop-color="#00ff7f"/><stop offset="0.672" stop-color="#00ffe8"/><stop offset="0.733" stop-color="#00fdff"/><stop offset="1.000" stop-color="#00a2ff"/></linearGradient><linearGradient id="g141"><stop offset="0.000" stop-color="#feff00"/><stop offset="0.155" stop-color="#63ff00"/><stop offset="0.276" stop-color="#00ff02"/><stop offset="0.457" stop-color="#00ff7c"/><stop offset="0.664" stop-color="#00ffe5"/><stop offset="0.733" stop-color="#00fcff"/><stop offset="1.000" stop-color="#00a2ff"/></linearGradient><linearGradient id="g142"><stop offset="0.000" stop-color="#faff00"/><stop offset="0.155" stop-color="#5fff00"/><stop offset="0.267" stop-color="#02ff00"/><stop offset="0.466" stop-color="#00ff83"/><stop offset="0.672" stop-color="#00ffea"/><stop offset="0.733" stop-color="#00fbff"/><stop offset="1.000" stop-color="#00a1ff"/></linearGradient><linearGradient id="g143"><stop offset="0.000" stop-color="#f6ff00"/><stop offset="0.155" stop-color="#5cff00"/><stop offset="0.267" stop-color="#00ff01"/><stop offset="0.448" stop-color="#00ff7b"/><stop offset="0.655" stop-color="#00ffe4"/><stop offset="0.724" stop-color="#00fdff"/><stop offset="1.000" stop-color="#00a1ff"/></linearGradient><linearGradient id="g144"><stop offset="0.000" stop-color="#f1ff00"/><stop offset="0.155" stop-color="#58ff00"/><stop offset="0.259" stop-color="#03ff00"/><stop offset="0.466" stop-color="#00ff87"/><stop offset="0.672" stop-color="#00ffed"/><stop offset="0.724" stop-color="#00fcff"/><stop offset="1.000" stop-color="#00a0ff"/></linearGradient><linearGradient id="g145"><stop offset="0.000" stop-color="#edff00"/><stop offset="0.155" stop-color="#55ff00"/><stop offset="0.259" stop-color="#00ff00"/><stop offset="0.440" stop-color="#00ff7a"/><stop offset="0.647" stop-color="#00ffe3"/><stop offset="0.724" stop-color="#00fbff"/><stop offset="1.000" stop-color="#00a0ff"/></linearGradient><linearGradient id="g146"><stop offset="0.000" stop-color="#e9ff00"/><stop offset="0.155" stop-color="#51ff00"/><stop offset="0.259" stop-color="#00ff03"/><stop offset="0.440" stop-color="#00ff7c"/><stop offset="0.647" stop-color="#00ffe5"/><stop offset="0.716" stop-color="#00fdff"/><stop offset="1.000" stop-color="#009fff"/></linearGradient><linearGradient id="g147"><stop offset="0.000" stop-color="#e4ff00"/><stop offset="0.155" stop-color="#4eff00"/><stop offset="0.250" stop-color="#00ff00"/><stop offset="0.431" stop-color="#00ff7a"/><stop offset="0.638" stop-color="#00ffe3"/><stop offset="0.716" stop-color="#00fcff"/><stop offset="1.000" stop-color="#009eff"/></linearGradient><linearGradient id="g148"><stop offset="0.000" stop-color="#dfff00"/><stop offset="0.155" stop-color="#4aff00"/><stop offset="0.250" stop-color="#00ff03"/><stop offset="0.431" stop-color="#00ff7c"/><stop offset="0.638" stop-color="#00ffe4"/><stop offset="0.716" stop-color="#00faff"/><stop offset="1.000" stop-color="#009eff"/></linearGradient><linearGradient id="g149"><stop offset="0.000" stop-color="#dbff00"/><stop offset="0.155" stop-color="#46ff00"/><stop offset="0.241" stop-color="#00ff00"/><stop offset="0.422" stop-color="#00ff79"/><stop offset="0.621" stop-color="#00ffde"/><stop offset="0.707" stop-color="#00fcff"/><stop offset="1.000" stop-color="#009dff"/></linearGradient><linearGradient id="g150"><stop offset="0.000" stop-color="#d6ff00"/><stop offset="0.155" stop-color="#43ff00"/><stop offset="0.241" stop-color="#00ff03"/><stop offset="0.422" stop-color="#00ff7c"/><stop offset="0.629" stop-color="#00ffe4"/><stop offset="0.707" stop-color="#00fbff"/><stop offset="1.000" stop-color="#009cff"/></linearGradient><linearGradient id="g151"><stop offset="0.000" stop-color="#d1ff00"/><stop offset="0.155" stop-color="#3fff00"/><stop offset="0.233" stop-color="#00ff00"/><stop offset="0.414" stop-color="#00ff79"/><stop offset="0.612" stop-color="#00ffde"/><stop offset="0.698" stop-color="#00fdff"/><stop offset="0.991" stop-color="#009eff"/><stop offset="1.000" stop-color="#009cff"/></linearGradient><linearGradient id="g152"><stop offset="0.000" stop-color="#cdff00"/><stop offset="0.155" stop-color="#3bff00"/><stop offset="0.233" stop-color="#00ff03"/><stop offset="0.414" stop-color="#00ff7c"/><stop offset="0.621" stop-color="#00ffe3"/><stop offset="0.698" stop-color="#00fbff"/><stop offset="0.991" stop-color="#009dff"/><stop offset="1.000" stop-color="#009bff"/></linearGradient><linearGradient id="g153"><stop offset="0.000" stop-color="#c8ff00"/><stop offset="0.155" stop-color="#37ff00"/><stop offset="0.224" stop-color="#00ff00"/><stop offset="0.397" stop-color="#00ff74"/><stop offset="0.595" stop-color="#00ffda"/><stop offset="0.690" stop-color="#00fdff"/><stop offset="0.983" stop-color="#009fff"/><stop offset="1.000" stop-color="#009aff"/></linearGradient><linearGradient id="g154"><stop offset="0.000" stop-color="#c3ff00"/><stop offset="0.155" stop-color="#33ff00"/><stop offset="0.224" stop-color="#00ff04"/><stop offset="0.405" stop-color="#00ff7c"/><stop offset="0.612" stop-color="#00ffe3"/><stop offset="0.690" stop-color="#00fbff"/><stop offset="0.983" stop-color="#009eff"/><stop offset="1.000" stop-color="#0099ff"/></linearGradient><linearGradient id="g155"><stop offset="0.000" stop-color="#beff00"/><stop offset="0.155" stop-color="#2fff00"/><stop offset="0.216" stop-color="#00ff01"/><stop offset="0.388" stop-color="#00ff75"/><stop offset="0.586" stop-color="#00ffda"/><stop offset="0.681" stop-color="#00fdff"/><stop offset="0.974" stop-color="#009fff"/><stop offset="1.000" stop-color="#0098ff"/></linearGradient><linearGradient id="g156"><stop offset="0.000" stop-color="#b9ff00"/><stop offset="0.155" stop-color="#2bff00"/><stop offset="0.207" stop-color="#02ff00"/><stop offset="0.405" stop-color="#00ff82"/><stop offset="0.612" stop-color="#00ffe7"/><stop offset="0.681" stop-color="#00fbff"/><stop offset="0.974" stop-color="#009fff"/><stop offset="1.000" stop-color="#0098ff"/></linearGradient><linearGradient id="g157"><stop offset="0.000" stop-color="#b4ff00"/><stop offset="0.155" stop-color="#27ff00"/><stop offset="0.207" stop-color="#00ff02"/><stop offset="0.379" stop-color="#00ff76"/><stop offset="0.578" stop-color="#00ffda"/><stop offset="0.672" stop-color="#00fdff"/><stop offset="0.966" stop-color="#00a0ff"/><stop offset="1.000" stop-color="#0097ff"/></linearGradient><linearGradient id="g158"><stop offset="0.000" stop-color="#aeff00"/><stop offset="0.155" stop-color="#22ff00"/><stop offset="0.198" stop-color="#00ff00"/><stop offset="0.379" stop-color="#00ff79"/><stop offset="0.578" stop-color="#00ffdd"/><stop offset="0.672" stop-color="#00fbff"/><stop offset="0.966" stop-color="#009fff"/><stop offset="1.000" stop-color="#0096ff"/></linearGradient><linearGradient id="g159"><stop offset="0.000" stop-color="#a9ff00"/><stop offset="0.155" stop-color="#1eff00"/><stop offset="0.198" stop-color="#00ff04"/><stop offset="0.371" stop-color="#00ff77"/><stop offset="0.569" stop-color="#00ffdb"/><stop offset="0.664" stop-color="#00fdff"/><stop offset="0.957" stop-color="#00a0ff"/><stop offset="1.000" stop-color="#0095ff"/></linearGradient><linearGradient id="g160"><stop offset="0.000" stop-color="#a4ff00"/><stop offset="0.155" stop-color="#1aff00"/><stop offset="0.190" stop-color="#00ff01"/><stop offset="0.362" stop-color="#00ff75"/><stop offset="0.560" stop-color="#00ffda"/><stop offset="0.655" stop-color="#00feff"/><stop offset="0.940" stop-color="#00a4ff"/><stop offset="1.000" stop-color="#0094ff"/></linearGradient><linearGradient id="g161"><stop offset="0.000" stop-color="#9eff00"/><stop offset="0.155" stop-color="#15ff00"/><stop offset="0.181" stop-color="#01ff00"/><stop offset="0.371" stop-color="#00ff7d"/><stop offset="0.569" stop-color="#00ffe0"/><stop offset="0.655" stop-color="#00fcff"/><stop offset="0.940" stop-color="#00a3ff"/><stop offset="1.000" stop-color="#0093ff"/></linearGradient><linearGradient id="g162"><stop offset="0.000" stop-color="#99ff00"/><stop offset="0.155" stop-color="#11ff00"/><stop offset="0.181" stop-color="#00ff03"/><stop offset="0.353" stop-color="#00ff76"/><stop offset="0.552" stop-color="#00ffdb"/><stop offset="0.647" stop-color="#00fdff"/><stop offset="0.931" stop-color="#00a4ff"/><stop offset="1.000" stop-color="#0092ff"/></linearGradient><linearGradient id="g163"><stop offset="0.000" stop-color="#94ff00"/><stop offset="0.155" stop-color="#0cff00"/><stop offset="0.172" stop-color="#00ff01"/><stop offset="0.345" stop-color="#00ff75"/><stop offset="0.543" stop-color="#00ffda"/><stop offset="0.647" stop-color="#00fbff"/><stop offset="0.931" stop-color="#00a3ff"/><stop offset="1.000" stop-color="#0091ff"/></linearGradient><linearGradient id="g164"><stop offset="0.000" stop-color="#8eff00"/><stop offset="0.155" stop-color="#08ff00"/><stop offset="0.172" stop-color="#00ff06"/><stop offset="0.345" stop-color="#00ff78"/><stop offset="0.543" stop-color="#00ffdc"/><stop offset="0.638" stop-color="#00fcff"/><stop offset="0.922" stop-color="#00a4ff"/><stop offset="1.000" stop-color="#0090ff"/></linearGradient><linearGradient id="g165"><stop offset="0.000" stop-color="#88ff00"/><stop offset="0.155" stop-color="#03ff00"/><stop offset="0.362" stop-color="#00ff86"/><stop offset="0.569" stop-color="#00ffea"/><stop offset="0.629" stop-color="#00fdff"/><stop offset="0.914" stop-color="#00a5ff"/><stop offset="1.000" stop-color="#008fff"/></linearGradient><linearGradient id="g166"><stop offset="0.000" stop-color="#83ff00"/><stop offset="0.147" stop-color="#05ff00"/><stop offset="0.190" stop-color="#00ff1b"/><stop offset="0.371" stop-color="#00ff8e"/><stop offset="0.578" stop-color="#00fff0"/><stop offset="0.629" stop-color="#00fbff"/><stop offset="0.914" stop-color="#00a3ff"/><stop offset="1.000" stop-color="#008dff"/></linearGradient><linearGradient id="g167"><stop offset="0.000" stop-color="#7dff00"/><stop offset="0.147" stop-color="#00ff00"/><stop offset="0.319" stop-color="#00ff74"/><stop offset="0.517" stop-color="#00ffd9"/><stop offset="0.621" stop-color="#00fbff"/><stop offset="0.905" stop-color="#00a4ff"/><stop offset="1.000" stop-color="#008cff"/></linearGradient><linearGradient id="g168"><stop offset="0.000" stop-color="#77ff00"/><stop offset="0.138" stop-color="#02ff00"/><stop offset="0.328" stop-color="#00ff7d"/><stop offset="0.526" stop-color="#00ffe0"/><stop offset="0.612" stop-color="#00fcff"/><stop offset="0.888" stop-color="#00a7ff"/><stop offset="1.000" stop-color="#008bff"/></linearGradient><linearGradient id="g169"><stop offset="0.000" stop-color="#71ff00"/><stop offset="0.129" stop-color="#03ff00"/><stop offset="0.336" stop-color="#00ff86"/><stop offset="0.534" stop-color="#00ffe6"/><stop offset="0.603" stop-color="#00fdff"/><stop offset="0.879" stop-color="#00a8ff"/><stop offset="1.000" stop-color="#008aff"/></linearGradient><linearGradient id="g170"><stop offset="0.000" stop-color="#6bff00"/><stop offset="0.129" stop-color="#00ff02"/><stop offset="0.302" stop-color="#00ff76"/><stop offset="0.500" stop-color="#00ffdb"/><stop offset="0.595" stop-color="#00fdff"/><stop offset="0.871" stop-color="#00a8ff"/><stop offset="1.000" stop-color="#0088ff"/></linearGradient><linearGradient id="g171"><stop offset="0.000" stop-color="#65ff00"/><stop offset="0.121" stop-color="#00ff01"/><stop offset="0.293" stop-color="#00ff75"/><stop offset="0.491" stop-color="#00ffda"/><stop offset="0.586" stop-color="#00feff"/><stop offset="0.862" stop-color="#00a9ff"/><stop offset="1.000" stop-color="#0087ff"/></linearGradient><linearGradient id="g172"><stop offset="0.000" stop-color="#5eff00"/><stop offset="0.112" stop-color="#01ff00"/><stop offset="0.293" stop-color="#00ff7a"/><stop offset="0.491" stop-color="#00ffde"/><stop offset="0.586" stop-color="#00fbff"/><stop offset="0.862" stop-color="#00a7ff"/><stop offset="1.000" stop-color="#0086ff"/></linearGradient><linearGradient id="g173"><stop offset="0.000" stop-color="#58ff00"/><stop offset="0.103" stop-color="#02ff00"/><stop offset="0.293" stop-color="#00ff7e"/><stop offset="0.491" stop-color="#00ffe1"/><stop offset="0.578" stop-color="#00fbff"/><stop offset="0.853" stop-color="#00a7ff"/><stop offset="1.000" stop-color="#0084ff"/></linearGradient><linearGradient id="g174"><stop offset="0.000" stop-color="#52ff00"/><stop offset="0.095" stop-color="#03ff00"/><stop offset="0.293" stop-color="#00ff83"/><stop offset="0.491" stop-color="#00ffe4"/><stop offset="0.569" stop-color="#00fbff"/><stop offset="0.836" stop-color="#00aaff"/><stop offset="1.000" stop-color="#0083ff"/></linearGradient><linearGradient id="g175"><stop offset="0.000" stop-color="#4bff00"/><stop offset="0.095" stop-color="#00ff03"/><stop offset="0.267" stop-color="#00ff78"/><stop offset="0.457" stop-color="#00ffd9"/><stop offset="0.560" stop-color="#00fbff"/><stop offset="0.828" stop-color="#00aaff"/><stop offset="1.000" stop-color="#0081ff"/></linearGradient><linearGradient id="g176"><stop offset="0.000" stop-color="#45ff00"/><stop offset="0.086" stop-color="#00ff02"/><stop offset="0.259" stop-color="#00ff78"/><stop offset="0.448" stop-color="#00ffd9"/><stop offset="0.552" stop-color="#00fbff"/><stop offset="0.819" stop-color="#00aaff"/><stop offset="1.000" stop-color="#0080ff"/></linearGradient><linearGradient id="g177"><stop offset="0.000" stop-color="#3eff00"/><stop offset="0.078" stop-color="#00ff02"/><stop offset="0.250" stop-color="#00ff78"/><stop offset="0.440" stop-color="#00ffd9"/><stop offset="0.543" stop-color="#00fbff"/><stop offset="0.810" stop-color="#00aaff"/><stop offset="1.000" stop-color="#007eff"/></linearGradient><linearGradient id="g178"><stop offset="0.000" stop-color="#38ff00"/><stop offset="0.069" stop-color="#00ff01"/><stop offset="0.241" stop-color="#00ff77"/><stop offset="0.431" stop-color="#00ffd9"/><stop offset="0.534" stop-color="#00fbff"/><stop offset="0.793" stop-color="#00acff"/><stop offset="1.000" stop-color="#007cff"/></linearGradient><linearGradient id="g179"><stop offset="0.000" stop-color="#31ff00"/><stop offset="0.060" stop-color="#00ff01"/><stop offset="0.233" stop-color="#00ff77"/><stop offset="0.422" stop-color="#00ffda"/><stop offset="0.517" stop-color="#00feff"/><stop offset="0.776" stop-color="#00aeff"/><stop offset="1.000" stop-color="#007aff"/></linearGradient><linearGradient id="g180"><stop offset="0.000" stop-color="#2aff00"/><stop offset="0.052" stop-color="#00ff00"/><stop offset="0.224" stop-color="#00ff78"/><stop offset="0.414" stop-color="#00ffda"/><stop offset="0.509" stop-color="#00fdff"/><stop offset="0.767" stop-color="#00adff"/><stop offset="1.000" stop-color="#0079ff"/></linearGradient><linearGradient id="g181"><stop offset="0.000" stop-color="#23ff00"/><stop offset="0.043" stop-color="#00ff00"/><stop offset="0.216" stop-color="#00ff78"/><stop offset="0.405" stop-color="#00ffdb"/><stop offset="0.500" stop-color="#00fdff"/><stop offset="0.750" stop-color="#00afff"/><stop offset="1.000" stop-color="#0077ff"/></linearGradient><linearGradient id="g182"><stop offset="0.000" stop-color="#1cff00"/><stop offset="0.034" stop-color="#00ff00"/><stop offset="0.207" stop-color="#00ff78"/><stop offset="0.397" stop-color="#00ffdb"/><stop offset="0.491" stop-color="#00fcff"/><stop offset="0.741" stop-color="#00afff"/><stop offset="1.000" stop-color="#0075ff"/></linearGradient><linearGradient id="g183"><stop offset="0.000" stop-color="#15ff00"/><stop offset="0.026" stop-color="#00ff00"/><stop offset="0.190" stop-color="#00ff73"/><stop offset="0.379" stop-color="#00ffd8"/><stop offset="0.483" stop-color="#00fbff"/><stop offset="0.733" stop-color="#00aeff"/><stop offset="1.000" stop-color="#0073ff"/></linearGradient><linearGradient id="g184"><stop offset="0.000" stop-color="#0eff00"/><stop offset="0.017" stop-color="#00ff00"/><stop offset="0.181" stop-color="#00ff74"/><stop offset="0.371" stop-color="#00ffd9"/><stop offset="0.466" stop-color="#00feff"/><stop offset="0.707" stop-color="#00b1ff"/><stop offset="1.000" stop-color="#0071ff"/></linearGradient><linearGradient id="g185"><stop offset="0.000" stop-color="#06ff00"/><stop offset="0.017" stop-color="#00ff08"/><stop offset="0.181" stop-color="#00ff7a"/><stop offset="0.371" stop-color="#00ffde"/><stop offset="0.457" stop-color="#00fdff"/><stop offset="0.698" stop-color="#00b1ff"/><stop offset="1.000" stop-color="#006fff"/></linearGradient><linearGradient id="g186"><stop offset="0.000" stop-color="#00ff01"/><stop offset="0.164" stop-color="#00ff75"/><stop offset="0.345" stop-color="#00ffd7"/><stop offset="0.448" stop-color="#00fbff"/><stop offset="0.690" stop-color="#00afff"/><stop offset="1.000" stop-color="#006dff"/></linearGradient><linearGradient id="g187"><stop offset="0.000" stop-color="#00ff09"/><stop offset="0.164" stop-color="#00ff7c"/><stop offset="0.353" stop-color="#00ffe0"/><stop offset="0.431" stop-color="#00feff"/><stop offset="0.672" stop-color="#00b1ff"/><stop offset="1.000" stop-color="#006bff"/></linearGradient><linearGradient id="g188"><stop offset="0.000" stop-color="#00ff10"/><stop offset="0.164" stop-color="#00ff82"/><stop offset="0.353" stop-color="#00ffe5"/><stop offset="0.422" stop-color="#00fcff"/><stop offset="0.655" stop-color="#00b2ff"/><stop offset="1.000" stop-color="#0068ff"/></linearGradient><linearGradient id="g189"><stop offset="0.000" stop-color="#00ff18"/><stop offset="0.164" stop-color="#00ff89"/><stop offset="0.353" stop-color="#00ffea"/><stop offset="0.414" stop-color="#00fbff"/><stop offset="0.647" stop-color="#00b0ff"/><stop offset="1.000" stop-color="#0066ff"/></linearGradient><linearGradient id="g190"><stop offset="0.000" stop-color="#00ff20"/><stop offset="0.164" stop-color="#00ff8f"/><stop offset="0.353" stop-color="#00fff0"/><stop offset="0.397" stop-color="#00fcff"/><stop offset="0.629" stop-color="#00b1ff"/><stop offset="1.000" stop-color="#0064ff"/></linearGradient><linearGradient id="g191"><stop offset="0.000" stop-color="#00ff28"/><stop offset="0.172" stop-color="#00ff9b"/><stop offset="0.362" stop-color="#00fff9"/><stop offset="0.405" stop-color="#00f4ff"/><stop offset="0.638" stop-color="#00abff"/><stop offset="1.000" stop-color="#0061ff"/></linearGradient><linearGradient id="g192"><stop offset="0.000" stop-color="#00ff30"/><stop offset="0.172" stop-color="#00ffa2"/><stop offset="0.362" stop-color="#00fffe"/><stop offset="0.595" stop-color="#00b2ff"/><stop offset="0.931" stop-color="#006bff"/><stop offset="1.000" stop-color="#005fff"/></linearGradient><linearGradient id="g193"><stop offset="0.000" stop-color="#00ff38"/><stop offset="0.172" stop-color="#00ffa8"/><stop offset="0.345" stop-color="#00fffd"/><stop offset="0.603" stop-color="#00abff"/><stop offset="0.948" stop-color="#0065ff"/><stop offset="1.000" stop-color="#005cff"/></linearGradient><linearGradient id="g194"><stop offset="0.000" stop-color="#00ff40"/><stop offset="0.172" stop-color="#00ffaf"/><stop offset="0.336" stop-color="#00ffff"/><stop offset="0.560" stop-color="#00b3ff"/><stop offset="0.871" stop-color="#0070ff"/><stop offset="1.000" stop-color="#005aff"/></linearGradient><linearGradient id="g195"><stop offset="0.000" stop-color="#00ff48"/><stop offset="0.172" stop-color="#00ffb6"/><stop offset="0.328" stop-color="#00fdff"/><stop offset="0.543" stop-color="#00b3ff"/><stop offset="0.845" stop-color="#0071ff"/><stop offset="1.000" stop-color="#0057ff"/></linearGradient><linearGradient id="g196"><stop offset="0.000" stop-color="#00ff50"/><stop offset="0.172" stop-color="#00ffbd"/><stop offset="0.310" stop-color="#00feff"/><stop offset="0.526" stop-color="#00b3ff"/><stop offset="0.819" stop-color="#0072ff"/><stop offset="1.000" stop-color="#0054ff"/></linearGradient><linearGradient id="g197"><stop offset="0.000" stop-color="#00ff59"/><stop offset="0.172" stop-color="#00ffc5"/><stop offset="0.293" stop-color="#00ffff"/><stop offset="0.509" stop-color="#00b3ff"/><stop offset="0.793" stop-color="#0073ff"/><stop offset="1.000" stop-color="#0052ff"/></linearGradient><linearGradient id="g198"><stop offset="0.000" stop-color="#00ff61"/><stop offset="0.172" stop-color="#00ffcc"/><stop offset="0.284" stop-color="#00fcff"/><stop offset="0.500" stop-color="#00b0ff"/><stop offset="0.784" stop-color="#0071ff"/><stop offset="1.000" stop-color="#004fff"/></linearGradient><linearGradient id="g199"><stop offset="0.000" stop-color="#00ff6a"/><stop offset="0.172" stop-color="#00ffd3"/><stop offset="0.267" stop-color="#00fdff"/><stop offset="0.474" stop-color="#00b2ff"/><stop offset="0.741" stop-color="#0075ff"/><stop offset="1.000" stop-color="#004cff"/></linearGradient><linearGradient id="g200"><stop offset="0.000" stop-color="#00ff73"/><stop offset="0.172" stop-color="#00ffdb"/><stop offset="0.250" stop-color="#00feff"/><stop offset="0.457" stop-color="#00b2ff"/><stop offset="0.724" stop-color="#0074ff"/><stop offset="1.000" stop-color="#0049ff"/></linearGradient><linearGradient id="g201"><stop offset="0.000" stop-color="#00ff7c"/><stop offset="0.172" stop-color="#00ffe2"/><stop offset="0.241" stop-color="#00fbff"/><stop offset="0.448" stop-color="#00afff"/><stop offset="0.707" stop-color="#0073ff"/><stop offset="1.000" stop-color="#0046ff"/></linearGradient><linearGradient id="g202"><stop offset="0.000" stop-color="#00ff85"/><stop offset="0.172" stop-color="#00ffea"/><stop offset="0.224" stop-color="#00fbff"/><stop offset="0.431" stop-color="#00aeff"/><stop offset="0.690" stop-color="#0071ff"/><stop offset="1.000" stop-color="#0043ff"/></linearGradient><linearGradient id="g203"><stop offset="0.000" stop-color="#00ff8e"/><stop offset="0.172" stop-color="#00fff2"/><stop offset="0.207" stop-color="#00fcff"/><stop offset="0.405" stop-color="#00b0ff"/><stop offset="0.655" stop-color="#0073ff"/><stop offset="1.000" stop-color="#003fff"/></linearGradient><linearGradient id="g204"><stop offset="0.000" stop-color="#00ff97"/><stop offset="0.172" stop-color="#00fffa"/><stop offset="0.233" stop-color="#00e9ff"/><stop offset="0.440" stop-color="#009fff"/><stop offset="0.707" stop-color="#0065ff"/><stop offset="1.000" stop-color="#003cff"/></linearGradient><linearGradient id="g205"><stop offset="0.000" stop-color="#00ffa0"/><stop offset="0.164" stop-color="#00fffd"/><stop offset="0.379" stop-color="#00abff"/><stop offset="0.621" stop-color="#0070ff"/><stop offset="1.000" stop-color="#0039ff"/></linearGradient><linearGradient id="g206"><stop offset="0.000" stop-color="#00ffaa"/><stop offset="0.147" stop-color="#00fffd"/><stop offset="0.362" stop-color="#00aaff"/><stop offset="0.603" stop-color="#006eff"/><stop offset="1.000" stop-color="#0035ff"/></linearGradient><linearGradient id="g207"><stop offset="0.000" stop-color="#00ffb3"/><stop offset="0.138" stop-color="#00fdff"/><stop offset="0.328" stop-color="#00aeff"/><stop offset="0.560" stop-color="#0071ff"/><stop offset="0.922" stop-color="#003bff"/><stop offset="1.000" stop-color="#0032ff"/></linearGradient><linearGradient id="g208"><stop offset="0.000" stop-color="#00ffbd"/><stop offset="0.121" stop-color="#00fdff"/><stop offset="0.310" stop-color="#00adff"/><stop offset="0.534" stop-color="#0070ff"/><stop offset="0.871" stop-color="#003dff"/><stop offset="1.000" stop-color="#002eff"/></linearGradient><linearGradient id="g209"><stop offset="0.000" stop-color="#00ffc7"/><stop offset="0.103" stop-color="#00fdff"/><stop offset="0.293" stop-color="#00abff"/><stop offset="0.517" stop-color="#006eff"/><stop offset="0.836" stop-color="#003dff"/><stop offset="1.000" stop-color="#002bff"/></linearGradient><linearGradient id="g210"><stop offset="0.000" stop-color="#00ffd1"/><stop offset="0.086" stop-color="#00fcff"/><stop offset="0.276" stop-color="#00aaff"/><stop offset="0.500" stop-color="#006bff"/><stop offset="0.810" stop-color="#003bff"/><stop offset="1.000" stop-color="#0027ff"/></linearGradient><linearGradient id="g211"><stop offset="0.000" stop-color="#00ffdb"/><stop offset="0.069" stop-color="#00fcff"/><stop offset="0.250" stop-color="#00abff"/><stop offset="0.466" stop-color="#006cff"/><stop offset="0.759" stop-color="#003cff"/><stop offset="1.000" stop-color="#0023ff"/></linearGradient><linearGradient id="g212"><stop offset="0.000" stop-color="#00ffe5"/><stop offset="0.052" stop-color="#00fcff"/><stop offset="0.233" stop-color="#00a9ff"/><stop offset="0.448" stop-color="#0069ff"/><stop offset="0.733" stop-color="#003aff"/><stop offset="1.000" stop-color="#001fff"/></linearGradient><linearGradient id="g213"><stop offset="0.000" stop-color="#00ffef"/><stop offset="0.034" stop-color="#00fbff"/><stop offset="0.216" stop-color="#00a8ff"/><stop offset="0.422" stop-color="#0068ff"/><stop offset="0.698" stop-color="#0039ff"/><stop offset="1.000" stop-color="#001bff"/></linearGradient><linearGradient id="g214"><stop offset="0.000" stop-color="#00fffa"/><stop offset="0.043" stop-color="#00edff"/><stop offset="0.224" stop-color="#009cff"/><stop offset="0.440" stop-color="#005dff"/><stop offset="0.724" stop-color="#0031ff"/><stop offset="1.000" stop-color="#0017ff"/></linearGradient><linearGradient id="g215"><stop offset="0.000" stop-color="#00faff"/><stop offset="0.181" stop-color="#00a3ff"/><stop offset="0.388" stop-color="#0062ff"/><stop offset="0.647" stop-color="#0034ff"/><stop offset="1.000" stop-color="#0013ff"/></linearGradient><linearGradient id="g216"><stop offset="0.000" stop-color="#00efff"/><stop offset="0.181" stop-color="#009aff"/><stop offset="0.388" stop-color="#005bff"/><stop offset="0.647" stop-color="#002eff"/><stop offset="1.000" stop-color="#000fff"/></linearGradient><linearGradient id="g217"><stop offset="0.000" stop-color="#00e5ff"/><stop offset="0.181" stop-color="#0091ff"/><stop offset="0.388" stop-color="#0053ff"/><stop offset="0.655" stop-color="#0027ff"/><stop offset="1.000" stop-color="#000aff"/></linearGradient><linearGradient id="g218"><stop offset="0.000" stop-color="#00daff"/><stop offset="0.181" stop-color="#0088ff"/><stop offset="0.388" stop-color="#004bff"/><stop offset="0.655" stop-color="#0021ff"/><stop offset="1.000" stop-color="#0006ff"/></linearGradient><linearGradient id="g219"><stop offset="0.000" stop-color="#00cfff"/><stop offset="0.181" stop-color="#007eff"/><stop offset="0.388" stop-color="#0043ff"/><stop offset="0.655" stop-color="#001bff"/><stop offset="1.000" stop-color="#0001ff"/></linearGradient><linearGradient id="g220"><stop offset="0.000" stop-color="#00c4ff"/><stop offset="0.181" stop-color="#0075ff"/><stop offset="0.388" stop-color="#003bff"/><stop offset="0.655" stop-color="#0015ff"/><stop offset="1.000" stop-color="#0000ff"/></linearGradient><linearGradient id="g221"><stop offset="0.000" stop-color="#00b8ff"/><stop offset="0.181" stop-color="#006bff"/><stop offset="0.388" stop-color="#0033ff"/><stop offset="0.655" stop-color="#000eff"/><stop offset="0.940" stop-color="#0000ff"/><stop offset="1.000" stop-color="#0000ff"/></linearGradient><linearGradient id="g222"><stop offset="0.000" stop-color="#00adff"/><stop offset="0.181" stop-color="#0061ff"/><stop offset="0.388" stop-color="#002bff"/><stop offset="0.664" stop-color="#0007ff"/><stop offset="0.905" stop-color="#0000ff"/><stop offset="1.000" stop-color="#0000ff"/></linearGradient><linearGradient id="g223"><stop offset="0.000" stop-color="#00a2ff"/><stop offset="0.181" stop-color="#0057ff"/><stop offset="0.388" stop-color="#0022ff"/><stop offset="0.664" stop-color="#0000ff"/><stop offset="1.000" stop-color="#0000ff"/></linearGradient><linearGradient id="g224"><stop offset="0.000" stop-color="#0096ff"/><stop offset="0.181" stop-color="#004dff"/><stop offset="0.397" stop-color="#0018ff"/><stop offset="0.612" stop-color="#0000ff"/><stop offset="1.000" stop-color="#0000ff"/></linearGradient><linearGradient id="g225"><stop offset="0.000" stop-color="#008aff"/><stop offset="0.181" stop-color="#0043ff"/><stop offset="0.397" stop-color="#0010ff"/><stop offset="0.543" stop-color="#0000ff"/><stop offset="1.000" stop-color="#0000ff"/></linearGradient><linearGradient id="g226"><stop offset="0.000" stop-color="#007eff"/><stop offset="0.181" stop-color="#0039ff"/><stop offset="0.397" stop-color="#0007ff"/><stop offset="0.509" stop-color="#0000ff"/><stop offset="1.000" stop-color="#0000ff"/></linearGradient><linearGradient id="g227"><stop offset="0.000" stop-color="#0072ff"/><stop offset="0.181" stop-color="#002eff"/><stop offset="0.388" stop-color="#0000ff"/><stop offset="1.000" stop-color="#0000ff"/></linearGradient><linearGradient id="g228"><stop offset="0.000" stop-color="#0066ff"/><stop offset="0.181" stop-color="#0024ff"/><stop offset="0.345" stop-color="#0000ff"/><stop offset="1.000" stop-color="#0000ff"/></linearGradient><clipPath id="c2"><rect x="158.7" y="15.5" width="232.0" height="228.6"/></clipPath><linearGradient id="lg"><stop offset="0" stop-color="#0000e6"/><stop offset=".5" stop-color="#00ff00"/><stop offset="1" stop-color="#e60000"/></linearGradient></defs>
<g clip-path="url(#c2)"><rect x="158.7" y="15" width="232.0" height="1" fill="url(#g0)"/><rect x="158.7" y="16" width="232.0" height="1" fill="url(#g1)"/><rect x="158.7" y="17" width="232.0" height="1" fill="url(#g2)"/><rect x="158.7" y="18" width="232.0" height="1" fill="url(#g3)"/><rect x="158.7" y="19" width="232.0" height="1" fill="url(#g4)"/><rect x="158.7" y="20" width="232.0" height="1" fill="url(#g5)"/><rect x="158.7" y="21" width="232.0" height="1" fill="url(#g6)"/><rect x="158.7" y="22" width="232.0" height="1" fill="url(#g7)"/><rect x="158.7" y="23" width="232.0" height="1" fill="url(#g8)"/><rect x="158.7" y="24" width="232.0" height="1" fill="url(#g9)"/><rect x="158.7" y="25" width="232.0" height="1" fill="url(#g10)"/><rect x="158.7" y="26" width="232.0" height="1" fill="url(#g11)"/><rect x="158.7" y="27" width="232.0" height="1" fill="url(#g12)"/><rect x="158.7" y="28" width="232.0" height="1" fill="url(#g13)"/><rect x="158.7" y="29" width="232.0" height="1" fill="url(#g14)"/><rect x="158.7" y="30" width="232.0" height="1" fill="url(#g15)"/><rect x="158.7" y="31" width="232.0" height="1" fill="url(#g16)"/><rect x="158.7" y="32" width="232.0" height="1" fill="url(#g17)"/><rect x="158.7" y="33" width="232.0" height="1" fill="url(#g18)"/><rect x="158.7" y="34" width="232.0" height="1" fill="url(#g19)"/><rect x="158.7" y="35" width="232.0" height="1" fill="url(#g20)"/><rect x="158.7" y="36" width="232.0" height="1" fill="url(#g21)"/><rect x="158.7" y="37" width="232.0" height="1" fill="url(#g22)"/><rect x="158.7" y="38" width="232.0" height="1" fill="url(#g23)"/><rect x="158.7" y="39" width="232.0" height="1" fill="url(#g24)"/><rect x="158.7" y="40" width="232.0" height="1" fill="url(#g25)"/><rect x="158.7" y="41" width="232.0" height="1" fill="url(#g26)"/><rect x="158.7" y="42" width="232.0" height="1" fill="url(#g27)"/><rect x="158.7" y="43" width="232.0" height="1" fill="url(#g28)"/><rect x="158.7" y="44" width="232.0" height="1" fill="url(#g29)"/><rect x="158.7" y="45" width="232.0" height="1" fill="url(#g30)"/><rect x="158.7" y="46" width="232.0" height="1" fill="url(#g31)"/><rect x="158.7" y="47" width="232.0" height="1" fill="url(#g32)"/><rect x="158.7" y="48" width="232.0" height="1" fill="url(#g33)"/><rect x="158.7" y="49" width="232.0" height="1" fill="url(#g34)"/><rect x="158.7" y="50" width="232.0" height="1" fill="url(#g35)"/><rect x="158.7" y="51" width="232.0" height="1" fill="url(#g36)"/><rect x="158.7" y="52" width="232.0" height="1" fill="url(#g37)"/><rect x="158.7" y="53" width="232.0" height="1" fill="url(#g38)"/><rect x="158.7" y="54" width="232.0" height="1" fill="url(#g39)"/><rect x="158.7" y="55" width="232.0" height="1" fill="url(#g40)"/><rect x="158.7" y="56" width="232.0" height="1" fill="url(#g41)"/><rect x="158.7" y="57" width="232.0" height="1" fill="url(#g42)"/><rect x="158.7" y="58" width="232.0" height="1" fill="url(#g43)"/><rect x="158.7" y="59" width="232.0" height="1" fill="url(#g44)"/><rect x="158.7" y="60" width="232.0" height="1" fill="url(#g45)"/><rect x="158.7" y="61" width="232.0" height="1" fill="url(#g46)"/><rect x="158.7" y="62" width="232.0" height="1" fill="url(#g47)"/><rect x="158.7" y="63" width="232.0" height="1" fill="url(#g48)"/><rect x="158.7" y="64" width="232.0" height="1" fill="url(#g49)"/><rect x="158.7" y="65" width="232.0" height="1" fill="url(#g50)"/><rect x="158.7" y="66" width="232.0" height="1" fill="url(#g51)"/><rect x="158.7" y="67" width="232.0" height="1" fill="url(#g52)"/><rect x="158.7" y="68" width="232.0" height="1" fill="url(#g53)"/><rect x="158.7" y="69" width="232.0" height="1" fill="url(#g54)"/><rect x="158.7" y="70" width="232.0" height="1" fill="url(#g55)"/><rect x="158.7" y="71" width="232.0" height="1" fill="url(#g56)"/><rect x="158.7" y="72" width="232.0" height="1" fill="url(#g57)"/><rect x="158.7" y="73" width="232.0" height="1" fill="url(#g58)"/><rect x="158.7" y="74" width="232.0" height="1" fill="url(#g59)"/><rect x="158.7" y="75" width="232.0" height="1" fill="url(#g60)"/><rect x="158.7" y="76" width="232.0" height="1" fill="url(#g61)"/><rect x="158.7" y="77" width="232.0" height="1" fill="url(#g62)"/><rect x="158.7" y="78" width="232.0" height="1" fill="url(#g63)"/><rect x="158.7" y="79" width="232.0" height="1" fill="url(#g64)"/><rect x="158.7" y="80" width="232.0" height="1" fill="url(#g65)"/><rect x="158.7" y="81" width="232.0" height="1" fill="url(#g66)"/><rect x="158.7" y="82" width="232.0" height="1" fill="url(#g67)"/><rect x="158.7" y="83" width="232.0" height="1" fill="url(#g68)"/><rect x="158.7" y="84" width="232.0" height="1" fill="url(#g69)"/><rect x="158.7" y="85" width="232.0" height="1" fill="url(#g70)"/><rect x="158.7" y="86" width="232.0" height="1" fill="url(#g71)"/><rect x="158.7" y="87" width="232.0" height="1" fill="url(#g72)"/><rect x="158.7" y="88" width="232.0" height="1" fill="url(#g73)"/><rect x="158.7" y="89" width="232.0" height="1" fill="url(#g74)"/><rect x="158.7" y="90" width="232.0" height="1" fill="url(#g75)"/><rect x="158.7" y="91" width="232.0" height="1" fill="url(#g76)"/><rect x="158.7" y="92" width="232.0" height="1" fill="url(#g77)"/><rect x="158.7" y="93" width="232.0" height="1" fill="url(#g78)"/><rect x="158.7" y="94" width="232.0" height="1" fill="url(#g79)"/><rect x="158.7" y="95" width="232.0" height="1" fill="url(#g80)"/><rect x="158.7" y="96" width="232.0" height="1" fill="url(#g81)"/><rect x="158.7" y="97" width="232.0" height="1" fill="url(#g82)"/><rect x="158.7" y="98" width="232.0" height="1" fill="url(#g83)"/><rect x="158.7" y="99" width="232.0" height="1" fill="url(#g84)"/><rect x="158.7" y="100" width="232.0" height="1" fill="url(#g85)"/><rect x="158.7" y="101" width="232.0" height="1" fill="url(#g86)"/><rect x="158.7" y="102" width="232.0" height="1" fill="url(#g87)"/><rect x="158.7" y="103" width="232.0" height="1" fill="url(#g88)"/><rect x="158.7" y="104" width="232.0" height="1" fill="url(#g89)"/><rect x="158.7" y="105" width="232.0" height="1" fill="url(#g90)"/><rect x="158.7" y="106" width="232.0" height="1" fill="url(#g91)"/><rect x="158.7" y="107" width="232.0" height="1" fill="url(#g92)"/><rect x="158.7" y="108" width="232.0" height="1" fill="url(#g93)"/><rect x="158.7" y="109" width="232.0" height="1" fill="url(#g94)"/><rect x="158.7" y="110" width="232.0" height="1" fill="url(#g95)"/><rect x="158.7" y="111" width="232.0" height="1" fill="url(#g96)"/><rect x="158.7" y="112" width="232.0" height="1" fill="url(#g97)"/><rect x="158.7" y="113" width="232.0" height="1" fill="url(#g98)"/><rect x="158.7" y="114" width="232.0" height="1" fill="url(#g99)"/><rect x="158.7" y="115" width="232.0" height="1" fill="url(#g100)"/><rect x="158.7" y="116" width="232.0" height="1" fill="url(#g101)"/><rect x="158.7" y="117" width="232.0" height="1" fill="url(#g102)"/><rect x="158.7" y="118" width="232.0" height="1" fill="url(#g103)"/><rect x="158.7" y="119" width="232.0" height="1" fill="url(#g104)"/><rect x="158.7" y="120" width="232.0" height="1" fill="url(#g105)"/><rect x="158.7" y="121" width="232.0" height="1" fill="url(#g106)"/><rect x="158.7" y="122" width="232.0" height="1" fill="url(#g107)"/><rect x="158.7" y="123" width="232.0" height="1" fill="url(#g108)"/><rect x="158.7" y="124" width="232.0" height="1" fill="url(#g109)"/><rect x="158.7" y="125" width="232.0" height="1" fill="url(#g110)"/><rect x="158.7" y="126" width="232.0" height="1" fill="url(#g111)"/><rect x="158.7" y="127" width="232.0" height="1" fill="url(#g112)"/><rect x="158.7" y="128" width="232.0" height="1" fill="url(#g113)"/><rect x="158.7" y="129" width="232.0" height="1" fill="url(#g114)"/><rect x="158.7" y="130" width="232.0" height="1" fill="url(#g115)"/><rect x="158.7" y="131" width="232.0" height="1" fill="url(#g116)"/><rect x="158.7" y="132" width="232.0" height="1" fill="url(#g117)"/><rect x="158.7" y="133" width="232.0" height="1" fill="url(#g118)"/><rect x="158.7" y="134" width="232.0" height="1" fill="url(#g119)"/><rect x="158.7" y="135" width="232.0" height="1" fill="url(#g120)"/><rect x="158.7" y="136" width="232.0" height="1" fill="url(#g121)"/><rect x="158.7" y="137" width="232.0" height="1" fill="url(#g122)"/><rect x="158.7" y="138" width="232.0" height="1" fill="url(#g123)"/><rect x="158.7" y="139" width="232.0" height="1" fill="url(#g124)"/><rect x="158.7" y="140" width="232.0" height="1" fill="url(#g125)"/><rect x="158.7" y="141" width="232.0" height="1" fill="url(#g126)"/><rect x="158.7" y="142" width="232.0" height="1" fill="url(#g127)"/><rect x="158.7" y="143" width="232.0" height="1" fill="url(#g128)"/><rect x="158.7" y="144" width="232.0" height="1" fill="url(#g129)"/><rect x="158.7" y="145" width="232.0" height="1" fill="url(#g130)"/><rect x="158.7" y="146" width="232.0" height="1" fill="url(#g131)"/><rect x="158.7" y="147" width="232.0" height="1" fill="url(#g132)"/><rect x="158.7" y="148" width="232.0" height="1" fill="url(#g133)"/><rect x="158.7" y="149" width="232.0" height="1" fill="url(#g134)"/><rect x="158.7" y="150" width="232.0" height="1" fill="url(#g135)"/><rect x="158.7" y="151" width="232.0" height="1" fill="url(#g136)"/><rect x="158.7" y="152" width="232.0" height="1" fill="url(#g137)"/><rect x="158.7" y="153" width="232.0" height="1" fill="url(#g138)"/><rect x="158.7" y="154" width="232.0" height="1" fill="url(#g139)"/><rect x="158.7" y="155" width="232.0" height="1" fill="url(#g140)"/><rect x="158.7" y="156" width="232.0" height="1" fill="url(#g141)"/><rect x="158.7" y="157" width="232.0" height="1" fill="url(#g142)"/><rect x="158.7" y="158" width="232.0" height="1" fill="url(#g143)"/><rect x="158.7" y="159" width="232.0" height="1" fill="url(#g144)"/><rect x="158.7" y="160" width="232.0" height="1" fill="url(#g145)"/><rect x="158.7" y="161" width="232.0" height="1" fill="url(#g146)"/><rect x="158.7" y="162" width="232.0" height="1" fill="url(#g147)"/><rect x="158.7" y="163" width="232.0" height="1" fill="url(#g148)"/><rect x="158.7" y="164" width="232.0" height="1" fill="url(#g149)"/><rect x="158.7" y="165" width="232.0" height="1" fill="url(#g150)"/><rect x="158.7" y="166" width="232.0" height="1" fill="url(#g151)"/><rect x="158.7" y="167" width="232.0" height="1" fill="url(#g152)"/><rect x="158.7" y="168" width="232.0" height="1" fill="url(#g153)"/><rect x="158.7" y="169" width="232.0" height="1" fill="url(#g154)"/><rect x="158.7" y="170" width="232.0" height="1" fill="url(#g155)"/><rect x="158.7" y="171" width="232.0" height="1" fill="url(#g156)"/><rect x="158.7" y="172" width="232.0" height="1" fill="url(#g157)"/><rect x="158.7" y="173" width="232.0" height="1" fill="url(#g158)"/><rect x="158.7" y="174" width="232.0" height="1" fill="url(#g159)"/><rect x="158.7" y="175" width="232.0" height="1" fill="url(#g160)"/><rect x="158.7" y="176" width="232.0" height="1" fill="url(#g161)"/><rect x="158.7" y="177" width="232.0" height="1" fill="url(#g162)"/><rect x="158.7" y="178" width="232.0" height="1" fill="url(#g163)"/><rect x="158.7" y="179" width="232.0" height="1" fill="url(#g164)"/><rect x="158.7" y="180" width="232.0" height="1" fill="url(#g165)"/><rect x="158.7" y="181" width="232.0" height="1" fill="url(#g166)"/><rect x="158.7" y="182" width="232.0" height="1" fill="url(#g167)"/><rect x="158.7" y="183" width="232.0" height="1" fill="url(#g168)"/><rect x="158.7" y="184" width="232.0" height="1" fill="url(#g169)"/><rect x="158.7" y="185" width="232.0" height="1" fill="url(#g170)"/><rect x="158.7" y="186" width="232.0" height="1" fill="url(#g171)"/><rect x="158.7" y="187" width="232.0" height="1" fill="url(#g172)"/><rect x="158.7" y="188" width="232.0" height="1" fill="url(#g173)"/><rect x="158.7" y="189" width="232.0" height="1" fill="url(#g174)"/><rect x="158.7" y="190" width="232.0" height="1" fill="url(#g175)"/><rect x="158.7" y="191" width="232.0" height="1" fill="url(#g176)"/><rect x="158.7" y="192" width="232.0" height="1" fill="url(#g177)"/><rect x="158.7" y="193" width="232.0" height="1" fill="url(#g178)"/><rect x="158.7" y="194" width="232.0" height="1" fill="url(#g179)"/><rect x="158.7" y="195" width="232.0" height="1" fill="url(#g180)"/><rect x="158.7" y="196" width="232.0" height="1" fill="url(#g181)"/><rect x="158.7" y="197" width="232.0" height="1" fill="url(#g182)"/><rect x="158.7" y="198" width="232.0" height="1" fill="url(#g183)"/><rect x="158.7" y="199" width="232.0" height="1" fill="url(#g184)"/><rect x="158.7" y="200" width="232.0" height="1" fill="url(#g185)"/><rect x="158.7" y="201" width="232.0" height="1" fill="url(#g186)"/><rect x="158.7" y="202" width="232.0" height="1" fill="url(#g187)"/><rect x="158.7" y="203" width="232.0" height="1" fill="url(#g188)"/><rect x="158.7" y="204" width="232.0" height="1" fill="url(#g189)"/><rect x="158.7" y="205" width="232.0" height="1" fill="url(#g190)"/><rect x="158.7" y="206" width="232.0" height="1" fill="url(#g191)"/><rect x="158.7" y="207" width="232.0" height="1" fill="url(#g192)"/><rect x="158.7" y="208" width="232.0" height="1" fill="url(#g193)"/><rect x="158.7" y="209" width="232.0" height="1" fill="url(#g194)"/><rect x="158.7" y="210" width="232.0" height="1" fill="url(#g195)"/><rect x="158.7" y="211" width="232.0" height="1" fill="url(#g196)"/><rect x="158.7" y="212" width="232.0" height="1" fill="url(#g197)"/><rect x="158.7" y="213" width="232.0" height="1" fill="url(#g198)"/><rect x="158.7" y="214" width="232.0" height="1" fill="url(#g199)"/><rect x="158.7" y="215" width="232.0" height="1" fill="url(#g200)"/><rect x="158.7" y="216" width="232.0" height="1" fill="url(#g201)"/><rect x="158.7" y="217" width="232.0" height="1" fill="url(#g202)"/><rect x="158.7" y="218" width="232.0" height="1" fill="url(#g203)"/><rect x="158.7" y="219" width="232.0" height="1" fill="url(#g204)"/><rect x="158.7" y="220" width="232.0" height="1" fill="url(#g205)"/><rect x="158.7" y="221" width="232.0" height="1" fill="url(#g206)"/><rect x="158.7" y="222" width="232.0" height="1" fill="url(#g207)"/><rect x="158.7" y="223" width="232.0" height="1" fill="url(#g208)"/><rect x="158.7" y="224" width="232.0" height="1" fill="url(#g209)"/><rect x="158.7" y="225" width="232.0" height="1" fill="url(#g210)"/><rect x="158.7" y="226" width="232.0" height="1" fill="url(#g211)"/><rect x="158.7" y="227" width="232.0" height="1" fill="url(#g212)"/><rect x="158.7" y="228" width="232.0" height="1" fill="url(#g213)"/><rect x="158.7" y="229" width="232.0" height="1" fill="url(#g214)"/><rect x="158.7" y="230" width="232.0" height="1" fill="url(#g215)"/><rect x="158.7" y="231" width="232.0" height="1" fill="url(#g216)"/><rect x="158.7" y="232" width="232.0" height="1" fill="url(#g217)"/><rect x="158.7" y="233" width="232.0" height="1" fill="url(#g218)"/><rect x="158.7" y="234" width="232.0" height="1" fill="url(#g219)"/><rect x="158.7" y="235" width="232.0" height="1" fill="url(#g220)"/><rect x="158.7" y="236" width="232.0" height="1" fill="url(#g221)"/><rect x="158.7" y="237" width="232.0" height="1" fill="url(#g222)"/><rect x="158.7" y="238" width="232.0" height="1" fill="url(#g223)"/><rect x="158.7" y="239" width="232.0" height="1" fill="url(#g224)"/><rect x="158.7" y="240" width="232.0" height="1" fill="url(#g225)"/><rect x="158.7" y="241" width="232.0" height="1" fill="url(#g226)"/><rect x="158.7" y="242" width="232.0" height="1" fill="url(#g227)"/><rect x="158.7" y="243" width="232.0" height="1" fill="url(#g228)"/></g>
<path d="M158.7,232.4 L161.6,231.7 L163.6,231.3 L166.1,230.7 L168.4,230.2 L170.4,229.8 L173.3,229.1 L175.2,228.7 L178.1,228.0 L180.1,227.6 L183.0,226.9 L184.9,226.5 L187.2,225.9 L189.8,225.3 L191.7,224.9 L194.6,224.2 L196.6,223.7 L199.5,223.1 L201.4,222.6 L203.5,222.1 L206.3,221.4 L208.2,220.9 L211.1,220.2 L213.1,219.8 L215.2,219.2 L217.9,218.5 L219.9,218.1 L222.8,217.3 L224.7,216.8 L226.6,216.3 L229.6,215.6 L231.5,215.0 L233.8,214.4 L236.4,213.7 L238.3,213.2 L240.8,212.5 L243.2,211.9 L245.1,211.3 L247.6,210.6 L249.9,209.9 L251.9,209.4 L254.1,208.7 L256.7,207.9 L258.7,207.3 L260.6,206.7 L263.4,205.8 L265.5,205.2 L267.4,204.5 L269.4,203.9 L272.1,203.0 L274.2,202.2 L276.2,201.5 L278.1,200.8 L280.1,200.1 L282.7,199.1 L284.9,198.3 L286.8,197.5 L288.8,196.7 L290.7,195.9 L292.7,195.1 L294.6,194.3 L296.5,193.4 L298.6,192.4 L300.6,191.5 L302.5,190.5 L304.4,189.6 L306.2,188.6 L308.2,187.6 L310.1,186.5 L312.1,185.3 L314.0,184.2 L316.0,182.9 L317.5,181.9 L318.9,181.0 L320.8,179.6 L322.8,178.1 L324.0,177.1 L325.7,175.8 L327.4,174.3 L328.6,173.2 L330.4,171.4 L331.5,170.3 L333.2,168.5 L334.4,167.1 L335.6,165.7 L337.1,163.8 L338.3,162.2 L339.3,160.8 L340.5,159.0 L341.7,157.1 L342.8,155.1 L343.9,153.2 L344.9,151.3 L345.8,149.4 L346.7,147.5 L347.5,145.6 L348.4,143.7 L349.1,141.8 L349.9,139.8 L350.9,137.3 L351.7,135.1 L352.5,133.1 L353.2,131.2 L353.9,129.3 L354.8,127.0 L355.7,124.5 L356.5,122.6 L357.3,120.7 L358.1,118.8 L359.0,116.9 L359.9,115.0 L360.8,113.1 L361.8,111.1 L362.9,109.2 L364.0,107.3 L365.2,105.4 L366.4,103.5 L367.4,102.1 L368.5,100.6 L370.0,98.7 L371.3,97.1 L372.4,95.8 L374.2,93.9 L375.2,93.0 L377.1,91.1 L378.2,90.1 L380.0,88.6 L381.7,87.2 L382.9,86.3 L384.9,84.8 L386.8,83.5 L388.5,82.5 L390.0,81.5" fill="none" stroke="#143214" stroke-opacity=".8" stroke-width=".8"/>
<path d="M158.7,186.0 L160.6,184.8 L162.0,183.8 L163.6,182.8 L165.5,181.5 L167.4,180.1 L168.8,179.1 L170.3,177.9 L172.3,176.4 L173.8,175.2 L175.2,174.1 L177.1,172.5 L178.5,171.4 L180.1,170.0 L181.7,168.5 L183.0,167.4 L184.8,165.7 L185.9,164.6 L187.7,162.8 L188.8,161.6 L190.4,159.9 L191.7,158.5 L193.0,157.1 L194.6,155.1 L195.6,154.0 L197.0,152.3 L198.5,150.4 L199.5,149.0 L200.6,147.5 L202.0,145.6 L203.3,143.7 L204.3,142.1 L205.3,140.6 L206.4,138.9 L207.6,137.0 L208.7,135.1 L209.8,133.1 L210.9,131.2 L212.0,129.3 L213.0,127.4 L214.0,125.5 L215.0,123.6 L216.0,121.7 L216.9,119.8 L217.8,117.8 L218.8,115.9 L219.7,114.0 L220.6,112.1 L221.5,110.2 L222.4,108.3 L223.3,106.4 L224.2,104.5 L225.1,102.5 L226.0,100.6 L227.0,98.7 L227.9,96.8 L228.8,94.9 L229.8,93.0 L230.8,91.1 L231.8,89.1 L232.8,87.2 L233.8,85.3 L234.9,83.4 L235.9,81.5 L237.1,79.6 L238.2,77.7 L239.3,75.9 L240.2,74.4 L241.2,72.9 L242.5,71.0 L243.8,69.1 L245.1,67.3 L246.1,66.0 L247.4,64.3 L248.9,62.4 L249.9,61.1 L251.3,59.5 L252.9,57.7 L253.8,56.6 L255.6,54.7 L256.7,53.6 L258.5,51.8 L259.7,50.7 L261.5,49.0 L262.6,48.0 L264.5,46.3 L265.9,45.2 L267.4,43.9 L269.4,42.4 L270.8,41.3 L272.3,40.3 L274.2,38.9 L276.2,37.6 L277.7,36.5 L279.3,35.6 L281.0,34.5 L283.0,33.4 L284.9,32.3 L286.8,31.2 L288.8,30.2 L290.7,29.2 L292.7,28.2 L294.6,27.3 L296.5,26.4 L298.5,25.6 L300.4,24.8 L302.4,24.0 L304.4,23.2 L307.0,22.2 L309.2,21.4 L311.1,20.7 L313.0,20.1 L315.4,19.3 L317.9,18.5 L319.8,18.0 L321.8,17.4 L324.7,16.6 L326.6,16.1 L329.0,15.5" fill="none" stroke="#143214" stroke-opacity=".8" stroke-width=".8"/>
<path d="M158.7,85.1 L159.7,83.1 L160.6,81.2 L161.6,79.3 L162.6,77.4 L163.6,75.6 L164.5,73.7 L165.5,71.9 L166.5,70.0 L167.6,68.1 L168.7,66.2 L169.8,64.3 L170.9,62.4 L172.0,60.5 L173.2,58.5 L174.2,56.9 L175.2,55.4 L176.3,53.8 L177.6,51.8 L178.9,49.9 L180.1,48.3 L181.0,46.9 L182.3,45.2 L183.8,43.2 L184.9,41.8 L186.1,40.4 L187.7,38.5 L188.8,37.1 L190.1,35.6 L191.7,33.8 L192.7,32.7 L194.5,30.8 L195.6,29.7 L197.4,27.9 L198.5,26.8 L200.4,25.1 L201.4,24.1 L203.4,22.4 L204.6,21.2 L206.3,19.9 L208.1,18.4 L209.3,17.4 L211.1,16.0" fill="none" stroke="#143214" stroke-opacity=".8" stroke-width=".8"/>
<rect x="179.0" y="42.6" width="4.8" height="4.4" fill="#f6f6f6" stroke="#444" stroke-width=".5"/><rect x="180.5" y="43.6" width="1.8" height="2.4" fill="#777"/>
<rect x="229.1" y="85.3" width="4.8" height="4.4" fill="#f6f6f6" stroke="#444" stroke-width=".5"/><rect x="230.6" y="86.3" width="1.8" height="2.4" fill="#777"/>
<rect x="303.4" y="185.6" width="4.8" height="4.4" fill="#f6f6f6" stroke="#444" stroke-width=".5"/><rect x="304.9" y="186.6" width="1.8" height="2.4" fill="#777"/>
<rect x="158.7" y="15.5" width="232.0" height="228.6" fill="none" stroke="#808080" stroke-width=".8"/>
<text x="151.2" y="246.7" font-size="7.4" fill="#2a2a2a" text-anchor="end" stroke="#2a2a2a" stroke-width=".15">0</text>
<text x="151.2" y="214.043" font-size="7.4" fill="#2a2a2a" text-anchor="end" stroke="#2a2a2a" stroke-width=".15">0.1</text>
<text x="151.2" y="181.386" font-size="7.4" fill="#2a2a2a" text-anchor="end" stroke="#2a2a2a" stroke-width=".15">0.2</text>
<text x="151.2" y="148.729" font-size="7.4" fill="#2a2a2a" text-anchor="end" stroke="#2a2a2a" stroke-width=".15">0.3</text>
<text x="151.2" y="116.071" font-size="7.4" fill="#2a2a2a" text-anchor="end" stroke="#2a2a2a" stroke-width=".15">0.4</text>
<text x="151.2" y="83.4143" font-size="7.4" fill="#2a2a2a" text-anchor="end" stroke="#2a2a2a" stroke-width=".15">0.5</text>
<text x="151.2" y="50.7571" font-size="7.4" fill="#2a2a2a" text-anchor="end" stroke="#2a2a2a" stroke-width=".15">0.6</text>
<text x="151.2" y="18.1" font-size="7.4" fill="#2a2a2a" text-anchor="end" stroke="#2a2a2a" stroke-width=".15">0.7</text>
<text x="158.7" y="260.2" font-size="7.4" fill="#2a2a2a" text-anchor="middle" stroke="#2a2a2a" stroke-width=".15">0</text>
<text x="216.7" y="260.2" font-size="7.4" fill="#2a2a2a" text-anchor="middle" stroke="#2a2a2a" stroke-width=".15">5</text>
<text x="274.7" y="260.2" font-size="7.4" fill="#2a2a2a" text-anchor="middle" stroke="#2a2a2a" stroke-width=".15">10</text>
<text x="332.7" y="260.2" font-size="7.4" fill="#2a2a2a" text-anchor="middle" stroke="#2a2a2a" stroke-width=".15">15</text>
<text x="390.7" y="260.2" font-size="7.4" fill="#2a2a2a" text-anchor="middle" stroke="#2a2a2a" stroke-width=".15">20</text>
<path d="M153.2,244.1H158.7M153.2,211.4H158.7M153.2,178.8H158.7M153.2,146.1H158.7M153.2,113.5H158.7M153.2,80.8H158.7M153.2,48.2H158.7M153.2,15.5H158.7M158.7,244.1V249.4M216.7,244.1V249.4M274.7,244.1V249.4M332.7,244.1V249.4M390.7,244.1V249.4" stroke="#808080" stroke-width=".8" fill="none"/>
<circle cx="274.7" cy="15.5" r="2.2" fill="#c00000" stroke="#6a0000" stroke-width=".5"/>
<circle cx="158.7" cy="80.8" r="2.2" fill="#c00000" stroke="#6a0000" stroke-width=".5"/>
<circle cx="274.7" cy="80.8" r="2.2" fill="#c00000" stroke="#6a0000" stroke-width=".5"/>
<circle cx="390.7" cy="80.8" r="2.2" fill="#c00000" stroke="#6a0000" stroke-width=".5"/>
<circle cx="158.7" cy="178.8" r="2.2" fill="#c00000" stroke="#6a0000" stroke-width=".5"/>
<circle cx="274.7" cy="178.8" r="2.2" fill="#c00000" stroke="#6a0000" stroke-width=".5"/>
<circle cx="390.7" cy="178.8" r="2.2" fill="#c00000" stroke="#6a0000" stroke-width=".5"/>
<circle cx="216.7" cy="211.4" r="2.2" fill="#c00000" stroke="#6a0000" stroke-width=".5"/>
<circle cx="332.7" cy="211.4" r="2.2" fill="#c00000" stroke="#6a0000" stroke-width=".5"/>
<circle cx="158.7" cy="244.1" r="2.2" fill="#c00000" stroke="#6a0000" stroke-width=".5"/>
<circle cx="390.7" cy="244.1" r="2.2" fill="#c00000" stroke="#6a0000" stroke-width=".5"/>
<text x="275" y="21.8" font-size="4" fill="#000" fill-opacity=".35" text-anchor="middle">2</text>
<text x="269.6" y="180.5" font-size="4" fill="#000" fill-opacity=".35" text-anchor="middle">2</text>
<text x="386.2" y="81.5" font-size="4" fill="#000" fill-opacity=".35" text-anchor="middle">2</text>
<text x="164.2" y="82.2" font-size="4" fill="#000" fill-opacity=".35" text-anchor="middle">2</text>
<text x="274.7" y="10.8" font-size="12" fill="#222" text-anchor="middle" textLength="39" lengthAdjust="spacingAndGlyphs">WA (%)</text>
<text x="274.5" y="281.5" font-size="12.3" fill="#222" text-anchor="middle" textLength="51.2" lengthAdjust="spacingAndGlyphs">A: SF (%)</text>
<text transform="translate(127.8,129.2) rotate(-90)" font-size="12.5" fill="#222" text-anchor="middle" textLength="54" lengthAdjust="spacingAndGlyphs">B: AP (%)</text>
<text x="2.5" y="11.1" font-size="11.2" fill="#222" textLength="102" lengthAdjust="spacingAndGlyphs">Factor Coding: Actual</text>
<text x="2.5" y="46" font-size="11" fill="#111" font-weight="bold" textLength="37.5" lengthAdjust="spacingAndGlyphs">WA (%)</text>
<circle cx="12" cy="58.8" r="5.8" fill="#b00000" stroke="#800000" stroke-width=".5"/>
<text x="23.9" y="62" font-size="10.7" fill="#c8282d" textLength="65.3" lengthAdjust="spacingAndGlyphs">Design Points</text>
<rect x="31.8" y="85.4" width="39.2" height="14.4" fill="url(#lg)" stroke="#444" stroke-width=".6"/>
<text x="1.9" y="96.5" font-size="10" fill="#3c3cff" textLength="14.2" lengthAdjust="spacingAndGlyphs">4.8</text>
<text x="75.9" y="96.5" font-size="10" fill="#ff3232" textLength="24.4" lengthAdjust="spacingAndGlyphs">10.12</text>
<text x="1.9" y="113.9" font-size="10" fill="#222" textLength="32.6" lengthAdjust="spacingAndGlyphs">X1 = A</text>
<text x="1.9" y="130.7" font-size="10" fill="#222" textLength="32.6" lengthAdjust="spacingAndGlyphs">X2 = B</text>
<line x1="476.1" y1="170.7" x2="465.7" y2="65.7" stroke="#7a7a7a" stroke-width="0.75"/>
<line x1="504.8" y1="157.1" x2="499.6" y2="52.1" stroke="#7a7a7a" stroke-width="0.75"/>
<line x1="533.4" y1="143.2" x2="533.5" y2="38.3" stroke="#7a7a7a" stroke-width="0.75"/>
<line x1="652.8" y1="186.2" x2="666.1" y2="81.8" stroke="#7a7a7a" stroke-width="0.75"/>
<line x1="637.3" y1="176.9" x2="649.2" y2="72.4" stroke="#7a7a7a" stroke-width="0.75"/>
<line x1="622.0" y1="167.5" x2="632.5" y2="63.0" stroke="#7a7a7a" stroke-width="0.75"/>
<line x1="606.8" y1="158.0" x2="616.0" y2="53.4" stroke="#7a7a7a" stroke-width="0.75"/>
<line x1="591.7" y1="148.4" x2="599.6" y2="43.8" stroke="#7a7a7a" stroke-width="0.75"/>
<line x1="576.8" y1="138.7" x2="583.4" y2="34.0" stroke="#7a7a7a" stroke-width="0.75"/>
<line x1="443.9" y1="158.9" x2="563.6" y2="103.9" stroke="#7a7a7a" stroke-width="0.75"/>
<line x1="563.6" y1="103.9" x2="672.4" y2="170.5" stroke="#7a7a7a" stroke-width="0.75"/>
<line x1="441.0" y1="139.4" x2="564.7" y2="84.5" stroke="#7a7a7a" stroke-width="0.75"/>
<line x1="564.7" y1="84.5" x2="675.2" y2="151.1" stroke="#7a7a7a" stroke-width="0.75"/>
<line x1="438.0" y1="119.5" x2="565.7" y2="64.7" stroke="#7a7a7a" stroke-width="0.75"/>
<line x1="565.7" y1="64.7" x2="677.9" y2="131.4" stroke="#7a7a7a" stroke-width="0.75"/>
<line x1="435.0" y1="99.4" x2="566.6" y2="44.6" stroke="#7a7a7a" stroke-width="0.75"/>
<line x1="566.6" y1="44.6" x2="680.5" y2="111.4" stroke="#7a7a7a" stroke-width="0.75"/>
<line x1="431.8" y1="78.9" x2="567.3" y2="24.2" stroke="#7a7a7a" stroke-width="0.75"/>
<line x1="567.3" y1="24.2" x2="683.0" y2="91.0" stroke="#7a7a7a" stroke-width="0.75"/>
<line x1="562.1" y1="128.9" x2="567.3" y2="24.2" stroke="#7a7a7a" stroke-width="0.75"/>
<line x1="668.5" y1="195.4" x2="683.0" y2="91.0" stroke="#7a7a7a" stroke-width="0.75"/>
<line x1="447.5" y1="184.0" x2="431.8" y2="78.9" stroke="#444" stroke-width="0.8"/>
<polygon points="546.1,263.7 668.5,195.4 562.1,128.9 447.5,184.0" fill="#6b6b6b"/>
<path d="M542.0,260.6 L543.0,259.8 L544.5,258.6 L545.5,257.7 L547.0,256.6 L548.1,255.7 L549.4,254.6 L550.6,253.6 L551.8,252.7 L553.1,251.6 L554.1,250.7 L555.6,249.5 L556.6,248.7 L558.1,247.5 L559.1,246.6 L560.6,245.4 L561.6,244.6 L563.1,243.3 L564.1,242.5 L565.5,241.3 L566.6,240.4 L567.7,239.5 L569.0,238.4 L570.0,237.5 L571.5,236.3 L572.5,235.4 L573.9,234.2 L574.9,233.4 L576.2,232.3 L577.3,231.3 L578.3,230.4 L579.7,229.1 L580.7,228.3 L582.0,227.1 L583.1,226.2 L584.0,225.3 L585.5,224.0 L586.4,223.2 L587.4,222.3 L588.7,221.0 L589.6,220.2 L590.7,219.2 L591.9,218.0 L592.8,217.1 L593.8,216.2 L595.1,214.9 L595.9,214.0 L596.8,213.1 L597.9,212.0 L599.0,210.8 L599.8,209.9 L600.7,209.0 L601.5,208.1 L602.5,206.9 L603.5,205.7 L604.3,204.8 L605.0,203.8 L605.8,202.9 L606.5,201.9 L607.2,200.9 L607.9,199.9 L608.6,198.9 L609.2,197.8 L609.8,196.8 L610.4,195.7 L610.9,194.6 L611.3,193.8 L611.7,192.9 L612.1,191.7 L612.4,190.6 L612.6,189.8 L612.9,188.7 L613.0,187.7 L613.1,186.7 L613.1,185.8 L613.1,184.5 L613.0,183.7 L612.9,182.7 L612.6,181.6 L612.3,180.5 L611.9,179.5 L611.5,178.5 L611.0,177.5 L610.5,176.5 L609.9,175.5 L609.3,174.6 L608.7,173.7 L608.1,172.8 L607.2,171.6 L606.5,170.5 L605.8,169.6 L605.2,168.7 L604.5,167.7 L603.6,166.5 L603.0,165.5 L602.4,164.5 L601.9,163.6 L601.4,162.6 L600.9,161.6 L600.5,160.6 L600.1,159.5 L599.8,158.5 L599.7,157.7 L599.5,156.8 L599.4,155.6 L599.4,154.7 L599.4,153.7" fill="none" stroke="#2ea8d8" stroke-width="1.2"/>
<path d="M531.7,252.8 L532.6,251.9 L533.4,250.9 L534.2,250.0 L535.1,249.0 L536.0,247.9 L537.0,246.7 L537.9,245.7 L538.7,244.7 L539.4,243.7 L540.2,242.7 L541.0,241.8 L541.7,240.8 L542.5,239.8 L543.2,238.8 L543.9,237.8 L544.6,236.7 L545.3,235.7 L546.0,234.7 L546.7,233.6 L547.3,232.6 L548.0,231.5 L548.6,230.4 L549.2,229.3 L549.8,228.2 L550.2,227.3 L550.6,226.4 L551.1,225.4 L551.6,224.2 L552.0,223.1 L552.3,222.3 L552.7,221.2 L553.1,220.0 L553.3,219.2 L553.6,218.1 L553.8,217.0 L554.0,216.1 L554.1,214.9 L554.2,214.0 L554.3,212.9 L554.4,211.9 L554.4,210.9 L554.3,209.7 L554.2,208.8 L554.1,207.8 L554.0,206.6 L553.8,205.5 L553.6,204.6 L553.3,203.7 L553.0,202.6 L552.7,201.5 L552.3,200.5 L551.9,199.4 L551.5,198.3 L551.1,197.3 L550.6,196.2 L550.1,195.2 L549.7,194.2 L549.2,193.2 L548.7,192.2 L548.1,191.1 L547.6,189.9 L547.0,188.8 L546.5,187.7 L546.0,186.6 L545.5,185.6 L545.0,184.6 L544.6,183.5 L544.2,182.5 L543.7,181.4 L543.4,180.4 L543.0,179.4 L542.8,178.5 L542.5,177.6 L542.3,176.5 L542.0,175.4 L541.8,174.2 L541.7,173.4 L541.6,172.5 L541.6,171.2 L541.5,170.4 L541.6,169.4 L541.6,168.3 L541.7,167.4 L541.9,166.3 L542.1,165.4 L542.3,164.5 L542.6,163.3 L542.8,162.5 L543.2,161.6 L543.6,160.4 L544.1,159.4 L544.5,158.6 L544.9,157.8 L545.4,156.8 L546.0,155.8 L546.6,154.8 L547.3,153.9 L548.0,153.0 L548.6,152.0 L549.4,151.1 L550.2,150.1 L551.2,149.0 L552.0,148.1 L552.8,147.3 L553.7,146.5 L554.8,145.4 L555.8,144.5 L556.6,143.7 L557.9,142.6 L558.9,141.8 L559.8,141.0 L561.2,139.9 L562.1,139.2 L563.5,138.1 L564.5,137.4 L566.0,136.3 L567.2,135.4 L568.5,134.6" fill="none" stroke="#2ec84a" stroke-width="1.2"/>
<path d="M517.7,241.9 L518.2,240.8 L518.4,240.0 L518.8,238.8 L519.2,237.7 L519.4,236.9 L519.7,235.6 L520.0,234.7 L520.2,233.6 L520.4,232.5 L520.5,231.6 L520.7,230.4 L520.7,229.4 L520.8,228.3 L520.9,227.2 L520.9,226.4 L520.9,225.1 L520.8,224.1 L520.8,223.2 L520.6,222.0 L520.5,220.7 L520.3,219.9 L520.2,219.0 L519.9,217.8 L519.7,216.6 L519.4,215.5 L519.1,214.4 L518.7,213.3 L518.4,212.3 L518.1,211.2 L517.7,210.2 L517.3,209.1 L516.9,208.1 L516.4,207.0 L516.0,205.9 L515.5,204.7 L515.1,203.6 L514.6,202.5 L514.1,201.5 L513.7,200.4 L513.3,199.4 L512.8,198.3 L512.4,197.3 L511.9,196.2 L511.5,195.1 L511.1,194.1 L510.7,193.0 L510.3,191.9 L510.0,190.8 L509.6,189.7 L509.3,188.7 L509.1,187.8 L508.9,186.9 L508.6,185.8 L508.4,184.7 L508.2,183.5 L508.0,182.5 L507.9,181.7 L507.8,180.5 L507.8,179.4 L507.7,178.6 L507.7,177.5 L507.8,176.4 L507.8,175.5 L507.9,174.4 L508.0,173.5 L508.2,172.4 L508.4,171.5 L508.6,170.5 L508.9,169.4 L509.1,168.6 L509.5,167.5 L509.9,166.4 L510.2,165.6 L510.6,164.8 L511.1,163.7 L511.6,162.7 L512.2,161.6 L512.7,160.7 L513.2,159.8 L513.8,158.9 L514.5,158.0 L515.1,157.0 L515.9,156.0 L516.6,155.0 L517.4,154.1 L518.1,153.3 L518.9,152.4 L519.7,151.6 L520.5,150.7 L521.7,149.5 L522.5,148.7" fill="none" stroke="#9ccc2c" stroke-width="1.2"/>
<path d="M494.8,223.6 L494.5,222.6 L494.2,221.6 L493.9,220.6 L493.5,219.5 L493.2,218.4 L492.8,217.3 L492.4,216.2 L492.0,215.1 L491.6,214.0 L491.2,212.9 L490.8,211.8 L490.3,210.7 L489.9,209.6 L489.4,208.5 L489.0,207.4 L488.6,206.3 L488.2,205.1 L487.7,204.0 L487.3,203.0 L487.0,201.9 L486.6,200.8 L486.2,199.8 L485.9,198.7 L485.6,197.7 L485.3,196.6 L484.9,195.5 L484.6,194.4 L484.4,193.2 L484.1,192.1 L483.9,191.1 L483.7,190.2 L483.6,189.2 L483.4,188.0 L483.3,186.8 L483.2,186.0 L483.2,185.0 L483.1,183.7 L483.1,182.9 L483.1,181.8 L483.2,180.7 L483.2,179.9 L483.3,178.6 L483.4,177.9 L483.6,176.6 L483.8,175.9 L484.0,174.7 L484.2,173.8 L484.5,172.9 L484.8,171.7 L485.1,170.8 L485.4,169.9 L485.9,168.8 L486.3,167.8 L486.6,167.0 L487.1,166.1" fill="none" stroke="#d8952a" stroke-width="1.2"/>
<path d="M466.7,200.4 L466.4,199.3 L466.1,198.2 L465.8,197.0 L465.6,195.9 L465.4,194.8 L465.3,193.9 L465.1,192.9 L465.0,191.7 L464.8,190.5 L464.8,189.7 L464.7,188.7 L464.7,187.4 L464.6,186.5 L464.6,185.5 L464.7,184.3 L464.7,183.6 L464.8,182.3 L464.9,181.4 L465.1,180.3 L465.2,179.4 L465.4,178.2 L465.6,177.5 L465.9,176.2 L466.1,175.4" fill="none" stroke="#b43030" stroke-width="1.2"/>
<path d="M571.8,82.3 574.6,81.1 572.5,78.2 569.7,79.4" fill="#08ff5f"/>
<path d="M570.0,80.0 572.8,78.8 570.8,75.8 567.9,76.9" fill="#06ff45"/>
<path d="M573.5,84.6 576.3,83.4 574.2,80.5 571.4,81.7" fill="#0aff77"/>
<path d="M575.2,86.7 578.1,85.6 576.0,82.8 573.2,84.0" fill="#0cff8e"/>
<path d="M568.3,77.5 571.1,76.4 569.0,73.2 566.2,74.4" fill="#04ff29"/>
<path d="M577.0,88.8 579.8,87.7 577.7,85.0 574.9,86.2" fill="#0dffa3"/>
<path d="M566.6,75.0 569.4,73.9 567.3,70.7 564.5,71.8" fill="#01ff0b"/>
<path d="M578.7,90.9 581.6,89.7 579.5,87.1 576.6,88.3" fill="#0effb6"/>
<path d="M564.8,72.4 567.6,71.3 565.6,68.0 562.7,69.1" fill="#12fd00"/>
<path d="M580.5,92.9 583.3,91.7 581.2,89.1 578.4,90.3" fill="#0fffc8"/>
<path d="M582.2,94.8 585.1,93.6 583.0,91.1 580.1,92.3" fill="#10ffd8"/>
<path d="M569.4,83.2 572.3,82.0 570.2,79.1 567.3,80.2" fill="#08ff5b"/>
<path d="M567.7,80.8 570.5,79.7 568.4,76.7 565.6,77.8" fill="#06ff41"/>
<path d="M571.2,85.4 574.0,84.3 571.9,81.4 569.1,82.6" fill="#0aff73"/>
<path d="M566.0,78.4 568.8,77.3 566.7,74.2 563.9,75.3" fill="#03ff25"/>
<path d="M572.9,87.6 575.8,86.4 573.7,83.7 570.8,84.8" fill="#0cff89"/>
<path d="M564.2,75.9 567.0,74.8 565.0,71.6 562.1,72.7" fill="#01ff08"/>
<path d="M574.7,89.7 577.5,88.5 575.4,85.9 572.6,87.0" fill="#0dff9e"/>
<path d="M584.0,96.6 586.8,95.4 584.7,93.0 581.9,94.2" fill="#10ffe7"/>
<path d="M562.5,73.3 565.3,72.2 563.2,68.9 560.4,70.0" fill="#15fd00"/>
<path d="M576.4,91.7 579.3,90.6 577.2,88.0 574.3,89.1" fill="#0effb1"/>
<path d="M585.8,98.4 588.6,97.2 586.5,94.9 583.7,96.1" fill="#10fff4"/>
<path d="M578.2,93.7 581.0,92.5 578.9,90.0 576.1,91.2" fill="#0fffc2"/>
<path d="M579.9,95.6 582.8,94.4 580.7,92.0 577.8,93.1" fill="#0fffd2"/>
<path d="M567.1,84.0 569.9,82.9 567.9,79.9 565.0,81.1" fill="#08ff56"/>
<path d="M565.4,81.7 568.2,80.5 566.1,77.5 563.3,78.7" fill="#06ff3d"/>
<path d="M568.8,86.3 571.7,85.1 569.6,82.3 566.8,83.4" fill="#0aff6e"/>
<path d="M587.5,100.1 590.4,98.9 588.3,96.7 585.4,97.9" fill="#10ffff"/>
<path d="M563.6,79.3 566.4,78.1 564.4,75.0 561.5,76.2" fill="#03ff21"/>
<path d="M570.6,88.4 573.4,87.3 571.3,84.5 568.5,85.7" fill="#0bff84"/>
<path d="M561.9,76.8 564.7,75.7 562.6,72.5 559.8,73.6" fill="#01ff04"/>
<path d="M572.3,90.5 575.2,89.4 573.1,86.7 570.2,87.9" fill="#0dff99"/>
<path d="M581.7,97.4 584.5,96.3 582.4,93.9 579.6,95.1" fill="#0fffe1"/>
<path d="M560.1,74.2 563.0,73.1 560.9,69.8 558.1,70.9" fill="#19fd00"/>
<path d="M574.1,92.6 576.9,91.4 574.8,88.8 572.0,90.0" fill="#0dffac"/>
<path d="M589.3,101.8 592.1,100.6 590.0,98.4 587.2,99.6" fill="#10ffff"/>
<path d="M583.4,99.2 586.3,98.1 584.2,95.7 581.3,96.9" fill="#0fffee"/>
<path d="M575.8,94.5 578.7,93.4 576.6,90.8 573.7,92.0" fill="#0effbd"/>
<path d="M564.8,84.8 567.6,83.7 565.5,80.8 562.7,81.9" fill="#08ff52"/>
<path d="M563.0,82.5 565.9,81.4 563.8,78.4 560.9,79.5" fill="#05ff38"/>
<path d="M591.1,103.4 593.9,102.3 591.8,100.1 588.9,101.3" fill="#0fffff"/>
<path d="M577.6,96.4 580.4,95.3 578.3,92.8 575.5,94.0" fill="#0fffcd"/>
<path d="M566.5,87.1 569.4,86.0 567.3,83.1 564.4,84.3" fill="#09ff69"/>
<path d="M561.3,80.1 564.1,79.0 562.0,75.9 559.2,77.0" fill="#03ff1d"/>
<path d="M585.2,101.0 588.1,99.8 585.9,97.5 583.1,98.7" fill="#0ffffa"/>
<path d="M568.3,89.3 571.1,88.1 569.0,85.4 566.2,86.5" fill="#0bff7f"/>
<path d="M559.5,77.6 562.4,76.5 560.3,73.3 557.5,74.5" fill="#01ff00"/>
<path d="M570.0,91.3 572.9,90.2 570.8,87.5 567.9,88.7" fill="#0cff93"/>
<path d="M579.4,98.3 582.2,97.1 580.1,94.7 577.3,95.9" fill="#0fffdb"/>
<path d="M557.8,75.1 560.6,74.0 558.5,70.7 555.7,71.8" fill="#1cfd00"/>
<path d="M571.8,93.4 574.6,92.2 572.5,89.6 569.7,90.8" fill="#0dffa6"/>
<path d="M592.8,105.0 595.7,103.8 593.6,101.7 590.7,102.9" fill="#0efdff"/>
<path d="M587.0,102.6 589.8,101.5 587.7,99.3 584.9,100.4" fill="#0fffff"/>
<path d="M581.1,100.1 584.0,98.9 581.9,96.6 579.0,97.7" fill="#0fffe8"/>
<path d="M573.5,95.3 576.4,94.2 574.3,91.7 571.4,92.8" fill="#0effb7"/>
<path d="M560.7,83.3 563.5,82.2 561.4,79.2 558.6,80.3" fill="#05ff33"/>
<path d="M562.4,85.7 565.3,84.6 563.2,81.6 560.3,82.7" fill="#07ff4c"/>
<path d="M588.8,104.3 591.6,103.1 589.5,100.9 586.6,102.1" fill="#0effff"/>
<path d="M575.3,97.2 578.1,96.1 576.0,93.6 573.2,94.8" fill="#0effc7"/>
<path d="M558.9,80.9 561.8,79.8 559.7,76.8 556.9,77.9" fill="#03ff18"/>
<path d="M564.2,87.9 567.0,86.8 564.9,84.0 562.1,85.1" fill="#09ff64"/>
<path d="M594.6,106.6 597.5,105.4 595.4,103.3 592.5,104.5" fill="#0ef4ff"/>
<path d="M582.9,101.8 585.7,100.6 583.6,98.4 580.8,99.5" fill="#0ffff4"/>
<path d="M557.2,78.5 560.0,77.4 557.9,74.2 555.1,75.3" fill="#05ff00"/>
<path d="M565.9,90.1 568.8,89.0 566.7,86.2 563.8,87.3" fill="#0aff79"/>
<path d="M567.7,92.1 570.5,91.0 568.4,88.4 565.6,89.5" fill="#0cff8e"/>
<path d="M555.5,75.9 558.3,74.8 556.2,71.5 553.4,72.6" fill="#20fc00"/>
<path d="M577.0,99.1 579.9,97.9 577.8,95.5 574.9,96.7" fill="#0effd5"/>
<path d="M569.4,94.2 572.3,93.1 570.2,90.5 567.3,91.6" fill="#0cffa0"/>
<path d="M590.5,105.9 593.4,104.7 591.3,102.6 588.4,103.8" fill="#0effff"/>
<path d="M584.7,103.5 587.5,102.3 585.4,100.1 582.6,101.3" fill="#0effff"/>
<path d="M596.4,108.1 599.3,106.9 597.1,104.9 594.3,106.1" fill="#0decff"/>
<path d="M578.8,100.9 581.7,99.7 579.6,97.4 576.7,98.5" fill="#0effe2"/>
<path d="M571.2,96.1 574.1,95.0 571.9,92.5 569.1,93.6" fill="#0dffb1"/>
<path d="M558.4,84.1 561.2,83.1 559.1,80.1 556.3,81.2" fill="#05ff2e"/>
<path d="M560.1,86.5 562.9,85.4 560.9,82.5 558.0,83.5" fill="#07ff47"/>
<path d="M556.6,81.8 559.4,80.7 557.4,77.6 554.5,78.7" fill="#03ff13"/>
<path d="M561.9,88.7 564.7,87.6 562.6,84.8 559.8,85.9" fill="#09ff5e"/>
<path d="M586.4,105.1 589.3,103.9 587.2,101.8 584.3,102.9" fill="#0effff"/>
<path d="M573.0,98.0 575.8,96.9 573.7,94.5 570.9,95.6" fill="#0effc0"/>
<path d="M592.3,107.4 595.2,106.2 593.0,104.2 590.2,105.3" fill="#0df9ff"/>
<path d="M554.9,79.3 557.7,78.2 555.6,75.0 552.8,76.1" fill="#09ff00"/>
<path d="M580.6,102.6 583.4,101.4 581.3,99.2 578.5,100.3" fill="#0effee"/>
<path d="M563.6,90.8 566.5,89.8 564.4,87.0 561.5,88.1" fill="#0aff74"/>
<path d="M598.2,109.5 601.1,108.3 598.9,106.3 596.1,107.6" fill="#0ce4ff"/>
<path d="M553.1,76.7 555.9,75.7 553.9,72.4 551.0,73.5" fill="#24fc00"/>
<path d="M565.4,92.9 568.2,91.8 566.1,89.2 563.3,90.3" fill="#0bff87"/>
<path d="M574.7,99.9 577.6,98.8 575.5,96.4 572.6,97.5" fill="#0effce"/>
<path d="M567.1,95.0 570.0,93.9 567.9,91.3 565.0,92.4" fill="#0cff9a"/>
<path d="M588.2,106.7 591.1,105.5 589.0,103.4 586.1,104.6" fill="#0dffff"/>
<path d="M582.4,104.3 585.2,103.1 583.1,100.9 580.2,102.1" fill="#0efff8"/>
<path d="M594.1,108.9 597.0,107.7 594.8,105.7 592.0,106.9" fill="#0cf1ff"/>
<path d="M576.5,101.7 579.3,100.5 577.2,98.2 574.4,99.3" fill="#0effdb"/>
<path d="M568.9,96.9 571.7,95.8 569.6,93.3 566.8,94.4" fill="#0dffaa"/>
<path d="M600.0,110.9 602.9,109.7 600.7,107.8 597.9,109.0" fill="#0bddff"/>
<path d="M556.0,84.9 558.9,83.9 556.8,80.9 553.9,81.9" fill="#04ff29"/>
<path d="M557.8,87.2 560.6,86.2 558.5,83.3 555.7,84.3" fill="#06ff41"/>
<path d="M554.3,82.5 557.1,81.5 555.0,78.4 552.2,79.5" fill="#02ff0e"/>
<path d="M559.5,89.5 562.4,88.4 560.3,85.6 557.4,86.6" fill="#08ff58"/>
<path d="M584.1,105.9 587.0,104.7 584.9,102.6 582.0,103.7" fill="#0dffff"/>
<path d="M570.6,98.8 573.5,97.7 571.4,95.3 568.5,96.4" fill="#0dffba"/>
<path d="M590.0,108.2 592.9,107.0 590.7,105.0 587.9,106.2" fill="#0dffff"/>
<path d="M552.5,80.1 555.3,79.0 553.3,75.8 550.4,76.9" fill="#0eff00"/>
<path d="M561.3,91.6 564.1,90.5 562.0,87.8 559.2,88.9" fill="#09ff6d"/>
<path d="M578.3,103.4 581.1,102.3 579.0,100.0 576.1,101.1" fill="#0dffe7"/>
<path d="M595.9,110.4 598.8,109.2 596.6,107.2 593.8,108.4" fill="#0ce9ff"/>
<path d="M550.8,77.5 553.6,76.5 551.5,73.2 548.7,74.3" fill="#29fc00"/>
<path d="M563.0,93.7 565.9,92.6 563.8,90.0 560.9,91.0" fill="#0aff81"/>
<path d="M572.4,100.6 575.3,99.5 573.2,97.2 570.3,98.3" fill="#0dffc8"/>
<path d="M601.8,112.3 604.7,111.1 602.5,109.2 599.7,110.5" fill="#0ad7ff"/>
<path d="M564.8,95.7 567.6,94.6 565.5,92.1 562.7,93.1" fill="#0bff93"/>
<path d="M585.9,107.5 588.8,106.3 586.6,104.2 583.8,105.4" fill="#0dffff"/>
<path d="M580.0,105.1 582.9,103.9 580.8,101.7 577.9,102.8" fill="#0dfff1"/>
<path d="M591.8,109.7 594.6,108.5 592.5,106.5 589.7,107.7" fill="#0cf7ff"/>
<path d="M574.2,102.4 577.0,101.3 574.9,99.0 572.1,100.1" fill="#0dffd4"/>
<path d="M566.6,97.7 569.4,96.6 567.3,94.1 564.5,95.2" fill="#0cffa4"/>
<path d="M597.7,111.8 600.5,110.6 598.4,108.7 595.5,109.9" fill="#0be3ff"/>
<path d="M553.7,85.7 556.5,84.7 554.4,81.7 551.6,82.7" fill="#04ff23"/>
<path d="M555.4,88.0 558.3,86.9 556.2,84.0 553.3,85.1" fill="#06ff3b"/>
<path d="M551.9,83.3 554.8,82.3 552.7,79.2 549.8,80.2" fill="#02ff08"/>
<path d="M557.2,90.2 560.0,89.2 557.9,86.3 555.1,87.4" fill="#08ff52"/>
<path d="M550.2,80.9 553.0,79.8 550.9,76.6 548.1,77.7" fill="#13fe00"/>
<path d="M581.8,106.7 584.7,105.6 582.5,103.4 579.7,104.5" fill="#0dfffb"/>
<path d="M568.3,99.6 571.2,98.5 569.1,96.0 566.2,97.1" fill="#0cffb3"/>
<path d="M587.7,109.0 590.5,107.9 588.4,105.8 585.6,107.0" fill="#0cffff"/>
<path d="M603.6,113.7 606.5,112.5 604.3,110.6 601.5,111.8" fill="#0ad1ff"/>
<path d="M559.0,92.4 561.8,91.3 559.7,88.6 556.9,89.6" fill="#09ff67"/>
<path d="M575.9,104.2 578.8,103.0 576.7,100.8 573.8,101.9" fill="#0dffe0"/>
<path d="M548.4,78.3 551.2,77.3 549.2,74.0 546.3,75.1" fill="#2efc00"/>
<path d="M593.6,111.2 596.4,110.0 594.3,108.0 591.4,109.2" fill="#0befff"/>
<path d="M560.7,94.5 563.6,93.4 561.5,90.7 558.6,91.8" fill="#0aff7a"/>
<path d="M570.1,101.4 572.9,100.3 570.8,97.9 568.0,99.0" fill="#0cffc1"/>
<path d="M599.5,113.2 602.3,112.0 600.2,110.1 597.3,111.3" fill="#0adcff"/>
<path d="M562.5,96.5 565.3,95.4 563.2,92.8 560.4,93.9" fill="#0bff8c"/>
<path d="M583.6,108.3 586.4,107.1 584.3,105.0 581.5,106.2" fill="#0cffff"/>
<path d="M577.7,105.8 580.6,104.7 578.5,102.5 575.6,103.6" fill="#0cffea"/>
<path d="M589.5,110.5 592.3,109.4 590.2,107.3 587.3,108.5" fill="#0bfcff"/>
<path d="M605.4,115.0 608.3,113.8 606.1,112.0 603.3,113.2" fill="#09ccff"/>
<path d="M571.9,103.2 574.7,102.1 572.6,99.8 569.7,100.9" fill="#0cffcd"/>
<path d="M564.2,98.4 567.1,97.4 565.0,94.8 562.1,95.9" fill="#0bff9d"/>
<path d="M595.4,112.6 598.2,111.4 596.1,109.5 593.2,110.7" fill="#0ae8ff"/>
<path d="M551.3,86.4 554.2,85.4 552.1,82.4 549.2,83.5" fill="#04ff1c"/>
<path d="M549.6,84.1 552.4,83.0 550.3,80.0 547.5,81.0" fill="#01ff02"/>
<path d="M553.1,88.7 555.9,87.7 553.8,84.8 551.0,85.8" fill="#05ff34"/>
<path d="M547.8,81.6 550.7,80.6 548.6,77.4 545.7,78.5" fill="#18fe00"/>
<path d="M554.9,91.0 557.7,89.9 555.6,87.1 552.8,88.1" fill="#07ff4b"/>
<path d="M579.5,107.5 582.3,106.3 580.2,104.2 577.4,105.3" fill="#0cfff3"/>
<path d="M566.0,100.3 568.8,99.3 566.7,96.8 563.9,97.9" fill="#0cffac"/>
<path d="M601.3,114.5 604.1,113.3 602.0,111.5 599.1,112.7" fill="#09d7ff"/>
<path d="M585.4,109.8 588.2,108.7 586.1,106.6 583.2,107.8" fill="#0bffff"/>
<path d="M556.6,93.1 559.5,92.1 557.4,89.3 554.5,90.4" fill="#08ff60"/>
<path d="M546.1,79.1 548.9,78.1 546.8,74.8 544.0,75.8" fill="#33fb00"/>
<path d="M573.6,104.9 576.5,103.8 574.4,101.6 571.5,102.6" fill="#0cffd9"/>
<path d="M591.3,112.0 594.1,110.8 592.0,108.8 589.1,110.0" fill="#0af5ff"/>
<path d="M558.4,95.2 561.2,94.2 559.1,91.5 556.3,92.5" fill="#09ff73"/>
<path d="M567.8,102.2 570.6,101.1 568.5,98.7 565.7,99.8" fill="#0cffb9"/>
<path d="M607.2,116.3 610.1,115.1 607.9,113.3 605.1,114.5" fill="#08c7ff"/>
<path d="M597.2,114.0 600.0,112.8 597.9,110.9 595.0,112.1" fill="#09e2ff"/>
<path d="M560.1,97.2 563.0,96.2 560.9,93.6 558.0,94.6" fill="#0aff85"/>
<path d="M581.3,109.1 584.1,107.9 582.0,105.8 579.1,106.9" fill="#0bfffc"/>
<path d="M575.4,106.6 578.3,105.5 576.1,103.3 573.3,104.4" fill="#0cffe3"/>
<path d="M587.2,111.3 590.0,110.2 587.9,108.1 585.0,109.3" fill="#0bffff"/>
<path d="M603.1,115.9 606.0,114.6 603.8,112.8 600.9,114.0" fill="#08d1ff"/>
<path d="M569.5,103.9 572.4,102.9 570.3,100.5 567.4,101.6" fill="#0cffc6"/>
<path d="M561.9,99.2 564.8,98.1 562.7,95.6 559.8,96.6" fill="#0bff95"/>
<path d="M593.1,113.4 595.9,112.2 593.8,110.3 590.9,111.5" fill="#0aeeff"/>
<path d="M549.0,87.2 551.8,86.2 549.7,83.2 546.9,84.2" fill="#03ff16"/>
<path d="M547.2,84.8 550.1,83.8 548.0,80.7 545.1,81.7" fill="#06ff01"/>
<path d="M550.8,89.5 553.6,88.5 551.5,85.6 548.7,86.6" fill="#05ff2e"/>
<path d="M545.5,82.3 548.3,81.3 546.2,78.2 543.4,79.2" fill="#1efe00"/>
<path d="M552.5,91.7 555.4,90.7 553.3,87.9 550.4,88.9" fill="#06ff44"/>
<path d="M599.0,115.4 601.8,114.2 599.7,112.3 596.8,113.5" fill="#08dcff"/>
<path d="M577.2,108.2 580.0,107.1 577.9,105.0 575.0,106.1" fill="#0bffec"/>
<path d="M583.0,110.6 585.9,109.5 583.8,107.4 580.9,108.5" fill="#0bffff"/>
<path d="M563.7,101.1 566.5,100.0 564.4,97.5 561.6,98.6" fill="#0bffa4"/>
<path d="M609.0,117.6 611.9,116.4 609.7,114.6 606.9,115.8" fill="#07c3ff"/>
<path d="M543.7,79.8 546.6,78.8 544.5,75.6 541.6,76.6" fill="#38fb00"/>
<path d="M554.3,93.8 557.1,92.8 555.0,90.1 552.2,91.1" fill="#08ff58"/>
<path d="M571.3,105.7 574.2,104.6 572.0,102.3 569.2,103.4" fill="#0bffd1"/>
<path d="M588.9,112.8 591.8,111.6 589.7,109.6 586.8,110.8" fill="#0afbff"/>
<path d="M556.0,95.9 558.9,94.9 556.8,92.2 553.9,93.2" fill="#09ff6c"/>
<path d="M604.9,117.2 607.8,115.9 605.6,114.1 602.7,115.4" fill="#07cdff"/>
<path d="M594.8,114.8 597.7,113.6 595.6,111.7 592.7,112.9" fill="#09e8ff"/>
<path d="M565.4,102.9 568.3,101.8 566.2,99.4 563.3,100.5" fill="#0bffb2"/>
<path d="M557.8,97.9 560.7,96.9 558.6,94.3 555.7,95.3" fill="#09ff7d"/>
<path d="M578.9,109.8 581.8,108.7 579.7,106.6 576.8,107.7" fill="#0bfff4"/>
<path d="M573.1,107.3 575.9,106.3 573.8,104.0 571.0,105.1" fill="#0bffdb"/>
<path d="M584.8,112.1 587.7,111.0 585.6,108.9 582.7,110.1" fill="#0affff"/>
<path d="M600.8,116.7 603.6,115.5 601.5,113.7 598.6,114.9" fill="#08d7ff"/>
<path d="M567.2,104.7 570.1,103.6 568.0,101.3 565.1,102.3" fill="#0bffbe"/>
<path d="M590.7,114.2 593.6,113.0 591.5,111.1 588.6,112.3" fill="#09f4ff"/>
<path d="M559.6,99.9 562.4,98.8 560.3,96.3 557.5,97.3" fill="#0aff8d"/>
<path d="M610.8,118.9 613.7,117.6 611.6,115.9 608.7,117.1" fill="#07c0ff"/>
<path d="M546.7,87.9 549.5,86.9 547.4,83.9 544.6,84.9" fill="#02ff0e"/>
<path d="M544.9,85.5 547.7,84.5 545.6,81.5 542.8,82.4" fill="#0cff00"/>
<path d="M548.4,90.2 551.3,89.2 549.2,86.3 546.3,87.3" fill="#04ff26"/>
<path d="M543.1,83.1 546.0,82.1 543.9,78.9 541.0,79.9" fill="#24fd00"/>
<path d="M550.2,92.4 553.0,91.4 550.9,88.6 548.1,89.6" fill="#06ff3c"/>
<path d="M596.6,116.2 599.5,115.0 597.4,113.1 594.5,114.3" fill="#08e2ff"/>
<path d="M574.8,109.0 577.7,107.9 575.6,105.7 572.7,106.8" fill="#0affe4"/>
<path d="M606.7,118.5 609.6,117.2 607.4,115.5 604.6,116.7" fill="#07c9ff"/>
<path d="M580.7,111.4 583.6,110.2 581.5,108.2 578.6,109.3" fill="#0afffc"/>
<path d="M541.4,80.5 544.2,79.6 542.1,76.3 539.3,77.3" fill="#3efb00"/>
<path d="M561.3,101.8 564.2,100.7 562.1,98.3 559.2,99.3" fill="#0aff9c"/>
<path d="M551.9,94.5 554.8,93.5 552.7,90.8 549.8,91.8" fill="#07ff51"/>
<path d="M569.0,106.4 571.8,105.3 569.7,103.1 566.9,104.1" fill="#0bffc9"/>
<path d="M586.6,113.6 589.5,112.4 587.4,110.4 584.5,111.6" fill="#09ffff"/>
<path d="M553.7,96.6 556.6,95.6 554.5,92.9 551.6,93.9" fill="#08ff64"/>
<path d="M602.6,118.0 605.4,116.8 603.3,115.0 600.4,116.2" fill="#07d3ff"/>
<path d="M592.5,115.6 595.4,114.4 593.3,112.5 590.4,113.7" fill="#08eeff"/>
<path d="M563.1,103.6 566.0,102.6 563.9,100.2 561.0,101.2" fill="#0affa9"/>
<path d="M612.7,120.1 615.5,118.9 613.4,117.1 610.5,118.4" fill="#06bcff"/>
<path d="M555.5,98.6 558.3,97.6 556.2,95.0 553.4,96.0" fill="#09ff75"/>
<path d="M576.6,110.6 579.5,109.5 577.4,107.4 574.5,108.4" fill="#0affec"/>
<path d="M570.7,108.1 573.6,107.0 571.5,104.8 568.6,105.9" fill="#0affd3"/>
<path d="M582.5,112.9 585.4,111.7 583.3,109.7 580.4,110.8" fill="#09ffff"/>
<path d="M598.4,117.5 601.3,116.3 599.2,114.5 596.3,115.7" fill="#07ddff"/>
<path d="M608.5,119.7 611.4,118.5 609.2,116.7 606.4,118.0" fill="#06c5ff"/>
<path d="M588.4,115.0 591.3,113.8 589.1,111.9 586.3,113.1" fill="#08faff"/>
<path d="M564.9,105.4 567.7,104.3 565.6,102.0 562.8,103.0" fill="#0affb6"/>
<path d="M557.2,100.6 560.1,99.6 558.0,97.0 555.1,98.0" fill="#09ff85"/>
<path d="M544.3,88.6 547.2,87.6 545.1,84.6 542.2,85.6" fill="#02ff07"/>
<path d="M542.5,86.2 545.4,85.2 543.3,82.2 540.4,83.1" fill="#12ff00"/>
<path d="M546.1,90.8 548.9,89.9 546.8,87.0 544.0,88.0" fill="#04ff1e"/>
<path d="M540.8,83.8 543.6,82.8 541.5,79.6 538.7,80.6" fill="#2bfd00"/>
<path d="M547.8,93.1 550.7,92.1 548.6,89.3 545.7,90.2" fill="#05ff34"/>
<path d="M594.3,117.0 597.2,115.8 595.1,113.9 592.2,115.1" fill="#07e8ff"/>
<path d="M604.4,119.3 607.3,118.1 605.1,116.3 602.2,117.5" fill="#06cfff"/>
<path d="M539.0,81.2 541.8,80.3 539.7,77.0 536.9,78.0" fill="#44fa00"/>
<path d="M572.5,109.7 575.4,108.6 573.3,106.5 570.4,107.5" fill="#0affdc"/>
<path d="M578.4,112.1 581.3,111.0 579.1,108.9 576.3,110.0" fill="#09fff4"/>
<path d="M559.0,102.5 561.9,101.4 559.8,99.0 556.9,100.0" fill="#09ff94"/>
<path d="M549.6,95.2 552.5,94.2 550.4,91.5 547.5,92.5" fill="#06ff49"/>
<path d="M584.3,114.3 587.2,113.2 585.0,111.2 582.2,112.4" fill="#08ffff"/>
<path d="M566.6,107.1 569.5,106.1 567.4,103.8 564.5,104.8" fill="#0affc1"/>
<path d="M614.5,121.3 617.4,120.1 615.2,118.4 612.3,119.6" fill="#06baff"/>
<path d="M551.4,97.3 554.2,96.3 552.1,93.6 549.3,94.6" fill="#07ff5b"/>
<path d="M600.3,118.8 603.1,117.6 601.0,115.8 598.1,117.0" fill="#06d9ff"/>
<path d="M590.2,116.4 593.1,115.2 590.9,113.3 588.1,114.5" fill="#08f4ff"/>
<path d="M560.8,104.3 563.6,103.3 561.5,100.9 558.7,101.9" fill="#09ffa1"/>
<path d="M610.3,121.0 613.2,119.7 611.0,118.0 608.2,119.2" fill="#06c2ff"/>
<path d="M553.1,99.3 556.0,98.3 553.9,95.7 551.0,96.7" fill="#08ff6d"/>
<path d="M574.3,111.3 577.2,110.2 575.0,108.1 572.2,109.2" fill="#09ffe4"/>
<path d="M580.2,113.6 583.1,112.5 580.9,110.5 578.1,111.6" fill="#08fffa"/>
<path d="M568.4,108.8 571.3,107.7 569.2,105.5 566.3,106.6" fill="#09ffcb"/>
<path d="M596.1,118.3 599.0,117.1 596.9,115.3 594.0,116.5" fill="#07e3ff"/>
<path d="M606.2,120.6 609.1,119.3 606.9,117.6 604.0,118.8" fill="#06cbff"/>
<path d="M586.1,115.8 589.0,114.6 586.8,112.7 584.0,113.8" fill="#08ffff"/>
<path d="M562.5,106.1 565.4,105.1 563.3,102.7 560.4,103.7" fill="#09ffad"/>
<path d="M554.9,101.2 557.8,100.3 555.7,97.7 552.8,98.7" fill="#08ff7d"/>
<path d="M542.0,89.2 544.8,88.3 542.7,85.3 539.9,86.3" fill="#03ff01"/>
<path d="M540.2,86.9 543.0,85.9 540.9,82.9 538.1,83.8" fill="#19fe00"/>
<path d="M616.3,122.6 619.2,121.3 617.0,119.6 614.1,120.9" fill="#05b7ff"/>
<path d="M543.7,91.5 546.6,90.6 544.5,87.7 541.6,88.6" fill="#03ff16"/>
<path d="M538.4,84.4 541.3,83.5 539.2,80.3 536.3,81.3" fill="#32fc00"/>
<path d="M592.0,117.8 594.9,116.6 592.7,114.7 589.9,115.9" fill="#07eeff"/>
<path d="M602.1,120.1 604.9,118.9 602.8,117.1 599.9,118.3" fill="#06d5ff"/>
<path d="M545.5,93.7 548.3,92.8 546.2,90.0 543.4,90.9" fill="#04ff2c"/>
<path d="M536.6,81.9 539.5,81.0 537.4,77.7 534.5,78.7" fill="#4bfa00"/>
<path d="M576.1,112.8 578.9,111.8 576.8,109.7 574.0,110.8" fill="#08ffec"/>
<path d="M570.2,110.4 573.1,109.4 570.9,107.2 568.1,108.3" fill="#09ffd4"/>
<path d="M556.7,103.1 559.5,102.1 557.4,99.7 554.6,100.7" fill="#08ff8b"/>
<path d="M612.2,122.2 615.0,120.9 612.9,119.2 610.0,120.5" fill="#05bfff"/>
<path d="M547.3,95.9 550.1,94.9 548.0,92.2 545.2,93.1" fill="#05ff40"/>
<path d="M582.0,115.1 584.8,114.0 582.7,112.0 579.8,113.1" fill="#08ffff"/>
<path d="M564.3,107.8 567.2,106.8 565.1,104.5 562.2,105.5" fill="#09ffb8"/>
<path d="M597.9,119.7 600.8,118.5 598.7,116.6 595.8,117.8" fill="#06dfff"/>
<path d="M549.0,97.9 551.9,97.0 549.8,94.3 546.9,95.3" fill="#06ff53"/>
<path d="M587.9,117.2 590.8,116.0 588.6,114.1 585.7,115.3" fill="#07faff"/>
<path d="M608.0,121.8 610.9,120.6 608.7,118.9 605.9,120.1" fill="#05c8ff"/>
<path d="M558.4,105.0 561.3,104.0 559.2,101.6 556.3,102.6" fill="#08ff98"/>
<path d="M572.0,112.0 574.8,111.0 572.7,108.8 569.8,109.9" fill="#08ffdc"/>
<path d="M550.8,100.0 553.7,99.0 551.6,96.4 548.7,97.4" fill="#07ff64"/>
<path d="M577.9,114.4 580.7,113.3 578.6,111.2 575.7,112.3" fill="#08fff2"/>
<path d="M618.1,123.8 621.0,122.5 618.8,120.8 616.0,122.1" fill="#05b5ff"/>
<path d="M566.1,109.5 569.0,108.5 566.8,106.2 564.0,107.3" fill="#09ffc2"/>
<path d="M593.8,119.1 596.7,118.0 594.5,116.1 591.7,117.3" fill="#06e9ff"/>
<path d="M603.9,121.4 606.7,120.2 604.6,118.4 601.7,119.6" fill="#05d1ff"/>
<path d="M583.8,116.5 586.6,115.4 584.5,113.5 581.6,114.6" fill="#07ffff"/>
<path d="M560.2,106.8 563.1,105.8 561.0,103.4 558.1,104.4" fill="#08ffa4"/>
<path d="M552.6,101.9 555.4,100.9 553.3,98.4 550.5,99.4" fill="#07ff74"/>
<path d="M614.0,123.4 616.9,122.2 614.7,120.5 611.8,121.7" fill="#05bdff"/>
<path d="M537.8,87.5 540.7,86.6 538.6,83.5 535.7,84.5" fill="#21fe00"/>
<path d="M539.6,89.9 542.5,89.0 540.4,86.0 537.5,86.9" fill="#0aff00"/>
<path d="M536.1,85.1 538.9,84.2 536.8,81.0 534.0,81.9" fill="#39fb00"/>
<path d="M541.4,92.2 544.2,91.2 542.1,88.3 539.3,89.3" fill="#02ff0e"/>
<path d="M599.7,120.9 602.6,119.7 600.5,118.0 597.6,119.2" fill="#05dbff"/>
<path d="M589.7,118.6 592.5,117.4 590.4,115.5 587.5,116.7" fill="#06f5ff"/>
<path d="M534.3,82.6 537.1,81.7 535.0,78.4 532.2,79.3" fill="#52f900"/>
<path d="M543.1,94.4 546.0,93.4 543.9,90.6 541.0,91.6" fill="#03ff23"/>
<path d="M573.7,113.6 576.6,112.5 574.5,110.4 571.6,111.5" fill="#08ffe3"/>
<path d="M567.9,111.1 570.7,110.1 568.6,107.9 565.7,108.9" fill="#08ffcb"/>
<path d="M609.8,123.1 612.7,121.8 610.5,120.1 607.7,121.3" fill="#05c5ff"/>
<path d="M554.3,103.8 557.2,102.8 555.1,100.4 552.2,101.3" fill="#07ff82"/>
<path d="M579.6,115.8 582.5,114.7 580.4,112.7 577.5,113.8" fill="#07fff8"/>
<path d="M544.9,96.5 547.8,95.6 545.7,92.8 542.8,93.8" fill="#05ff37"/>
<path d="M562.0,108.5 564.8,107.5 562.7,105.2 559.9,106.2" fill="#08ffaf"/>
<path d="M595.6,120.5 598.5,119.3 596.3,117.5 593.5,118.6" fill="#05e5ff"/>
<path d="M620.0,125.0 622.8,123.7 620.7,122.0 617.8,123.3" fill="#05b3ff"/>
<path d="M585.5,117.9 588.4,116.8 586.3,114.9 583.4,116.0" fill="#06ffff"/>
<path d="M546.7,98.6 549.5,97.6 547.4,95.0 544.6,95.9" fill="#05ff4a"/>
<path d="M605.7,122.7 608.6,121.4 606.4,119.7 603.5,120.9" fill="#05ceff"/>
<path d="M556.1,105.6 559.0,104.7 556.9,102.3 554.0,103.2" fill="#08ff8f"/>
<path d="M615.8,124.7 618.7,123.4 616.5,121.7 613.6,123.0" fill="#05bbff"/>
<path d="M569.6,112.7 572.5,111.7 570.4,109.5 567.5,110.6" fill="#07ffd3"/>
<path d="M548.4,100.6 551.3,99.7 549.2,97.1 546.3,98.0" fill="#06ff5b"/>
<path d="M575.5,115.1 578.4,114.0 576.3,112.0 573.4,113.0" fill="#07ffea"/>
<path d="M591.5,119.9 594.3,118.8 592.2,116.9 589.3,118.1" fill="#06f0ff"/>
<path d="M563.7,110.2 566.6,109.2 564.5,106.9 561.6,107.9" fill="#08ffb9"/>
<path d="M601.5,122.2 604.4,121.0 602.3,119.3 599.4,120.5" fill="#05d7ff"/>
<path d="M581.4,117.3 584.3,116.2 582.2,114.2 579.3,115.3" fill="#06fffd"/>
<path d="M611.6,124.3 614.5,123.0 612.4,121.3 609.5,122.6" fill="#05c3ff"/>
<path d="M557.9,107.4 560.7,106.4 558.6,104.1 555.8,105.1" fill="#07ff9b"/>
<path d="M550.2,102.5 553.1,101.6 551.0,99.1 548.1,100.0" fill="#06ff6b"/>
<path d="M535.5,88.1 538.3,87.3 536.2,84.2 533.4,85.1" fill="#28fd00"/>
<path d="M537.3,90.5 540.1,89.6 538.0,86.6 535.1,87.5" fill="#12ff00"/>
<path d="M533.7,85.7 536.6,84.8 534.4,81.7 531.6,82.6" fill="#40fb00"/>
<path d="M597.4,121.8 600.3,120.6 598.1,118.8 595.3,120.0" fill="#05e1ff"/>
<path d="M539.0,92.8 541.9,91.9 539.8,89.0 536.9,89.9" fill="#01ff05"/>
<path d="M587.3,119.3 590.2,118.2 588.1,116.3 585.2,117.4" fill="#06fbff"/>
<path d="M531.9,83.2 534.8,82.3 532.7,79.1 529.8,80.0" fill="#59f800"/>
<path d="M540.8,95.0 543.7,94.1 541.6,91.3 538.7,92.2" fill="#03ff1a"/>
<path d="M621.8,126.2 624.7,124.9 622.5,123.2 619.6,124.5" fill="#05b2ff"/>
<path d="M607.5,123.9 610.4,122.7 608.2,121.0 605.3,122.2" fill="#05cbff"/>
<path d="M571.4,114.3 574.3,113.2 572.2,111.1 569.3,112.2" fill="#07ffdb"/>
<path d="M565.5,111.8 568.4,110.8 566.3,108.6 563.4,109.6" fill="#07ffc2"/>
<path d="M552.0,104.4 554.9,103.5 552.8,101.0 549.9,102.0" fill="#07ff79"/>
<path d="M577.3,116.6 580.2,115.5 578.1,113.5 575.2,114.6" fill="#06ffef"/>
<path d="M542.6,97.1 545.4,96.2 543.3,93.5 540.5,94.4" fill="#04ff2e"/>
<path d="M559.6,109.1 562.5,108.2 560.4,105.9 557.5,106.9" fill="#07ffa6"/>
<path d="M593.3,121.2 596.2,120.1 594.0,118.3 591.1,119.4" fill="#05ecff"/>
<path d="M617.6,125.9 620.5,124.6 618.3,122.9 615.5,124.2" fill="#05b9ff"/>
<path d="M603.4,123.5 606.2,122.3 604.1,120.5 601.2,121.7" fill="#05d4ff"/>
<path d="M583.2,118.7 586.1,117.6 584.0,115.7 581.1,116.8" fill="#06ffff"/>
<path d="M544.3,99.2 547.2,98.3 545.1,95.6 542.2,96.5" fill="#04ff40"/>
<path d="M553.8,106.3 556.6,105.3 554.5,102.9 551.7,103.9" fill="#07ff86"/>
<path d="M613.5,125.5 616.4,124.3 614.2,122.6 611.3,123.8" fill="#05c1ff"/>
<path d="M567.3,113.4 570.2,112.4 568.1,110.2 565.2,111.3" fill="#07ffca"/>
<path d="M589.1,120.7 592.0,119.5 589.9,117.7 587.0,118.8" fill="#05f7ff"/>
<path d="M546.1,101.2 549.0,100.3 546.9,97.7 544.0,98.6" fill="#05ff51"/>
<path d="M573.2,115.8 576.1,114.7 574.0,112.7 571.1,113.8" fill="#06ffe1"/>
<path d="M599.2,123.0 602.1,121.8 599.9,120.1 597.1,121.3" fill="#04deff"/>
<path d="M561.4,110.8 564.3,109.8 562.2,107.6 559.3,108.6" fill="#07ffb0"/>
<path d="M579.1,118.0 582.0,116.9 579.9,115.0 577.0,116.1" fill="#06fff5"/>
<path d="M609.3,125.2 612.2,123.9 610.0,122.2 607.2,123.4" fill="#04c9ff"/>
<path d="M623.6,127.4 626.5,126.1 624.3,124.4 621.4,125.7" fill="#05b0ff"/>
<path d="M555.5,108.1 558.4,107.1 556.3,104.8 553.4,105.7" fill="#06ff92"/>
<path d="M547.9,103.2 550.7,102.2 548.6,99.7 545.8,100.6" fill="#05ff61"/>
<path d="M533.1,88.7 536.0,87.9 533.9,84.8 531.0,85.7" fill="#31fc00"/>
<path d="M534.9,91.1 537.8,90.2 535.6,87.3 532.8,88.1" fill="#1afe00"/>
<path d="M595.1,122.6 598.0,121.4 595.8,119.6 592.9,120.8" fill="#04e8ff"/>
<path d="M531.3,86.3 534.2,85.5 532.1,82.3 529.2,83.2" fill="#48fa00"/>
<path d="M585.0,120.1 587.9,119.0 585.8,117.1 582.9,118.2" fill="#05ffff"/>
<path d="M536.7,93.4 539.5,92.5 537.4,89.6 534.6,90.5" fill="#05ff00"/>
<path d="M619.5,127.1 622.3,125.8 620.2,124.1 617.3,125.4" fill="#05b7ff"/>
<path d="M605.2,124.8 608.1,123.5 605.9,121.8 603.0,123.0" fill="#04d1ff"/>
<path d="M529.6,83.8 532.4,83.0 530.3,79.7 527.4,80.6" fill="#60f800"/>
<path d="M538.4,95.6 541.3,94.7 539.2,91.9 536.3,92.8" fill="#02ff11"/>
<path d="M569.1,115.0 572.0,113.9 569.8,111.8 567.0,112.9" fill="#06ffd2"/>
<path d="M563.2,112.5 566.1,111.5 564.0,109.3 561.1,110.3" fill="#06ffb9"/>
<path d="M575.0,117.3 577.9,116.2 575.7,114.2 572.9,115.3" fill="#06ffe7"/>
<path d="M549.6,105.1 552.5,104.1 550.4,101.7 547.5,102.6" fill="#06ff6f"/>
<path d="M615.3,126.7 618.2,125.5 616.0,123.8 613.1,125.0" fill="#05bfff"/>
<path d="M540.2,97.7 543.1,96.8 541.0,94.1 538.1,95.0" fill="#03ff24"/>
<path d="M590.9,122.0 593.8,120.9 591.7,119.0 588.8,120.2" fill="#04f2ff"/>
<path d="M557.3,109.8 560.2,108.8 558.1,106.5 555.2,107.5" fill="#06ff9d"/>
<path d="M601.0,124.3 603.9,123.1 601.8,121.4 598.9,122.6" fill="#04dbff"/>
<path d="M580.9,119.4 583.8,118.3 581.6,116.4 578.8,117.5" fill="#05fff9"/>
<path d="M542.0,99.8 544.9,98.9 542.8,96.2 539.9,97.1" fill="#03ff37"/>
<path d="M611.1,126.4 614.0,125.1 611.9,123.4 609.0,124.7" fill="#04c7ff"/>
<path d="M625.5,128.6 628.3,127.2 626.2,125.6 623.3,126.9" fill="#05afff"/>
<path d="M551.4,106.9 554.3,106.0 552.2,103.6 549.3,104.5" fill="#06ff7c"/>
<path d="M586.8,121.4 589.7,120.3 587.6,118.5 584.7,119.6" fill="#04fdff"/>
<path d="M596.9,123.8 599.8,122.7 597.6,120.9 594.7,122.1" fill="#04e4ff"/>
<path d="M565.0,114.1 567.8,113.1 565.7,110.9 562.9,111.9" fill="#06ffc1"/>
<path d="M570.9,116.5 573.7,115.4 571.6,113.4 568.7,114.4" fill="#05ffd8"/>
<path d="M543.8,101.8 546.6,100.9 544.5,98.3 541.7,99.2" fill="#04ff47"/>
<path d="M559.1,111.5 562.0,110.5 559.8,108.3 557.0,109.2" fill="#06ffa7"/>
<path d="M621.3,128.3 624.2,127.0 622.0,125.3 619.1,126.6" fill="#05b6ff"/>
<path d="M607.0,126.0 609.9,124.8 607.7,123.0 604.8,124.3" fill="#04cfff"/>
<path d="M576.8,118.7 579.6,117.7 577.5,115.7 574.6,116.8" fill="#05ffec"/>
<path d="M553.2,108.7 556.1,107.7 554.0,105.4 551.1,106.3" fill="#05ff88"/>
<path d="M592.7,123.3 595.6,122.2 593.5,120.4 590.6,121.5" fill="#04eeff"/>
<path d="M545.5,103.8 548.4,102.9 546.3,100.3 543.4,101.2" fill="#04ff57"/>
<path d="M530.8,89.3 533.6,88.5 531.5,85.4 528.6,86.3" fill="#39fb00"/>
<path d="M617.1,128.0 620.0,126.7 617.8,125.0 615.0,126.3" fill="#05bdff"/>
<path d="M532.5,91.7 535.4,90.8 533.3,87.9 530.4,88.7" fill="#23fd00"/>
<path d="M582.7,120.8 585.6,119.7 583.4,117.8 580.6,118.9" fill="#04fffd"/>
<path d="M529.0,86.9 531.8,86.1 529.7,82.9 526.9,83.8" fill="#50f900"/>
<path d="M602.8,125.6 605.7,124.4 603.6,122.6 600.7,123.8" fill="#04d8ff"/>
<path d="M534.3,94.0 537.2,93.1 535.1,90.2 532.2,91.1" fill="#0eff00"/>
<path d="M527.2,84.4 530.0,83.6 527.9,80.3 525.1,81.2" fill="#68f700"/>
<path d="M566.7,115.6 569.6,114.6 567.5,112.5 564.6,113.5" fill="#05ffc8"/>
<path d="M536.1,96.2 538.9,95.3 536.8,92.5 534.0,93.4" fill="#01ff07"/>
<path d="M560.8,113.1 563.7,112.1 561.6,110.0 558.7,110.9" fill="#05ffaf"/>
<path d="M613.0,127.6 615.9,126.3 613.7,124.6 610.8,125.9" fill="#04c5ff"/>
<path d="M572.6,118.0 575.5,116.9 573.4,114.9 570.5,116.0" fill="#05ffde"/>
<path d="M627.3,129.8 630.2,128.4 628.0,126.8 625.1,128.1" fill="#06adff"/>
<path d="M547.3,105.7 550.2,104.7 548.1,102.3 545.2,103.2" fill="#05ff65"/>
<path d="M588.6,122.8 591.5,121.6 589.4,119.8 586.5,120.9" fill="#04f9ff"/>
<path d="M598.7,125.1 601.6,123.9 599.4,122.2 596.5,123.4" fill="#04e1ff"/>
<path d="M537.9,98.3 540.7,97.4 538.6,94.7 535.8,95.6" fill="#02ff1a"/>
<path d="M555.0,110.4 557.8,109.5 555.7,107.2 552.9,108.1" fill="#05ff93"/>
<path d="M578.6,120.2 581.4,119.1 579.3,117.1 576.4,118.2" fill="#04fff1"/>
<path d="M623.1,129.5 626.0,128.2 623.8,126.5 620.9,127.8" fill="#05b4ff"/>
<path d="M608.8,127.2 611.7,126.0 609.5,124.3 606.6,125.5" fill="#04cdff"/>
<path d="M539.6,100.4 542.5,99.5 540.4,96.8 537.5,97.7" fill="#03ff2c"/>
<path d="M549.1,107.5 551.9,106.6 549.8,104.2 547.0,105.1" fill="#05ff72"/>
<path d="M594.5,124.6 597.4,123.5 595.3,121.7 592.4,122.8" fill="#04ebff"/>
<path d="M584.5,122.2 587.4,121.1 585.2,119.2 582.3,120.3" fill="#04ffff"/>
<path d="M562.6,114.7 565.5,113.7 563.4,111.6 560.5,112.6" fill="#05ffb7"/>
<path d="M619.0,129.2 621.8,127.9 619.7,126.2 616.8,127.5" fill="#05bcff"/>
<path d="M568.5,117.2 571.4,116.1 569.3,114.1 566.4,115.1" fill="#05ffcf"/>
<path d="M604.7,126.8 607.5,125.6 605.4,123.9 602.5,125.1" fill="#04d5ff"/>
<path d="M541.4,102.4 544.3,101.5 542.2,98.9 539.3,99.8" fill="#03ff3d"/>
<path d="M556.7,112.1 559.6,111.2 557.5,108.9 554.6,109.9" fill="#05ff9d"/>
<path d="M574.4,119.4 577.3,118.4 575.2,116.4 572.3,117.5" fill="#04ffe3"/>
<path d="M614.8,128.8 617.7,127.5 615.5,125.9 612.6,127.1" fill="#04c3ff"/>
<path d="M590.4,124.1 593.3,123.0 591.2,121.1 588.3,122.3" fill="#03f5ff"/>
<path d="M629.1,131.0 632.0,129.6 629.8,128.0 627.0,129.3" fill="#06acff"/>
<path d="M550.8,109.3 553.7,108.4 551.6,106.0 548.7,106.9" fill="#04ff7e"/>
<path d="M600.5,126.4 603.4,125.2 601.2,123.4 598.4,124.6" fill="#03deff"/>
<path d="M580.3,121.6 583.2,120.5 581.1,118.6 578.2,119.6" fill="#04fff5"/>
<path d="M543.2,104.3 546.0,103.5 543.9,100.9 541.1,101.8" fill="#03ff4c"/>
<path d="M528.4,89.9 531.2,89.1 529.1,86.0 526.3,86.8" fill="#42fa00"/>
<path d="M530.2,92.2 533.0,91.4 530.9,88.4 528.1,89.3" fill="#2cfc00"/>
<path d="M526.6,87.5 529.5,86.7 527.4,83.5 524.5,84.3" fill="#58f900"/>
<path d="M531.9,94.5 534.8,93.7 532.7,90.8 529.8,91.6" fill="#17fe00"/>
<path d="M524.8,85.0 527.7,84.2 525.6,80.9 522.7,81.7" fill="#70f600"/>
<path d="M610.6,128.5 613.5,127.2 611.4,125.5 608.5,126.8" fill="#04cbff"/>
<path d="M625.0,130.7 627.8,129.4 625.7,127.7 622.8,129.0" fill="#06b3ff"/>
<path d="M564.4,116.3 567.3,115.3 565.2,113.2 562.3,114.2" fill="#04ffbf"/>
<path d="M533.7,96.7 536.6,95.9 534.5,93.1 531.6,93.9" fill="#03ff00"/>
<path d="M558.5,113.8 561.4,112.8 559.3,110.6 556.4,111.6" fill="#04ffa5"/>
<path d="M570.3,118.7 573.2,117.6 571.1,115.6 568.2,116.6" fill="#04ffd5"/>
<path d="M586.3,123.5 589.2,122.4 587.0,120.6 584.1,121.7" fill="#03ffff"/>
<path d="M596.4,125.9 599.2,124.7 597.1,123.0 594.2,124.1" fill="#03e8ff"/>
<path d="M544.9,106.2 547.8,105.4 545.7,102.9 542.8,103.8" fill="#04ff5b"/>
<path d="M535.5,98.9 538.4,98.0 536.3,95.3 533.4,96.1" fill="#01ff10"/>
<path d="M552.6,111.0 555.5,110.1 553.4,107.8 550.5,108.7" fill="#04ff89"/>
<path d="M620.8,130.4 623.7,129.1 621.5,127.4 618.6,128.7" fill="#05baff"/>
<path d="M576.2,120.9 579.1,119.8 577.0,117.9 574.1,118.9" fill="#03ffe8"/>
<path d="M606.5,128.1 609.4,126.8 607.2,125.1 604.3,126.3" fill="#04d3ff"/>
<path d="M537.3,100.9 540.1,100.1 538.0,97.4 535.2,98.3" fill="#01ff22"/>
<path d="M592.2,125.4 595.1,124.3 593.0,122.5 590.1,123.6" fill="#03f2ff"/>
<path d="M582.1,122.9 585.0,121.8 582.9,120.0 580.0,121.0" fill="#03fff9"/>
<path d="M616.6,130.0 619.5,128.8 617.3,127.1 614.4,128.4" fill="#05c1ff"/>
<path d="M631.0,132.2 633.9,130.8 631.7,129.2 628.8,130.5" fill="#07abff"/>
<path d="M546.7,108.1 549.6,107.2 547.5,104.8 544.6,105.7" fill="#04ff67"/>
<path d="M602.3,127.7 605.2,126.4 603.1,124.7 600.2,125.9" fill="#03dcff"/>
<path d="M560.3,115.4 563.2,114.4 561.1,112.3 558.2,113.2" fill="#04ffad"/>
<path d="M566.2,117.8 569.1,116.8 567.0,114.8 564.1,115.8" fill="#04ffc5"/>
<path d="M539.0,102.9 541.9,102.1 539.8,99.5 536.9,100.3" fill="#02ff32"/>
<path d="M554.4,112.7 557.3,111.8 555.2,109.5 552.3,110.5" fill="#04ff92"/>
<path d="M572.1,120.1 575.0,119.1 572.9,117.1 570.0,118.1" fill="#03ffda"/>
<path d="M612.5,129.7 615.3,128.4 613.2,126.7 610.3,128.0" fill="#04c9ff"/>
<path d="M626.8,131.9 629.7,130.6 627.5,128.9 624.6,130.2" fill="#06b2ff"/>
<path d="M588.1,124.9 591.0,123.7 588.8,121.9 585.9,123.0" fill="#03fcff"/>
<path d="M598.2,127.2 601.1,126.0 598.9,124.3 596.0,125.4" fill="#03e5ff"/>
<path d="M578.0,122.3 580.9,121.2 578.8,119.3 575.9,120.4" fill="#03ffec"/>
<path d="M548.5,109.9 551.4,109.0 549.3,106.6 546.4,107.5" fill="#03ff73"/>
<path d="M526.0,90.4 528.9,89.6 526.8,86.6 523.9,87.4" fill="#4bfa00"/>
<path d="M540.8,104.9 543.7,104.0 541.6,101.5 538.7,102.4" fill="#02ff42"/>
<path d="M524.2,88.0 527.1,87.2 525.0,84.1 522.1,84.9" fill="#61f800"/>
<path d="M527.8,92.8 530.7,92.0 528.6,89.0 525.7,89.8" fill="#35fb00"/>
<path d="M622.6,131.6 625.5,130.3 623.3,128.6 620.4,129.9" fill="#06b9ff"/>
<path d="M608.3,129.3 611.2,128.1 609.0,126.4 606.1,127.6" fill="#04d1ff"/>
<path d="M522.4,85.5 525.3,84.7 523.2,81.5 520.3,82.3" fill="#79f600"/>
<path d="M529.6,95.0 532.4,94.2 530.3,91.4 527.5,92.2" fill="#21fd00"/>
<path d="M562.1,116.9 564.9,116.0 562.8,113.9 559.9,114.8" fill="#03ffb5"/>
<path d="M583.9,124.3 586.8,123.2 584.7,121.3 581.8,122.4" fill="#03fffc"/>
<path d="M594.0,126.7 596.9,125.5 594.8,123.8 591.9,124.9" fill="#03eeff"/>
<path d="M568.0,119.3 570.9,118.3 568.7,116.3 565.8,117.3" fill="#03ffcb"/>
<path d="M556.2,114.4 559.0,113.4 556.9,111.2 554.1,112.2" fill="#03ff9b"/>
<path d="M531.4,97.3 534.2,96.4 532.1,93.6 529.2,94.4" fill="#0dfe00"/>
<path d="M618.4,131.3 621.3,130.0 619.2,128.3 616.3,129.6" fill="#05c0ff"/>
<path d="M632.8,133.4 635.7,132.1 633.5,130.4 630.6,131.7" fill="#08a9ff"/>
<path d="M604.1,128.9 607.0,127.7 604.9,126.0 602.0,127.2" fill="#03daff"/>
<path d="M542.6,106.8 545.5,105.9 543.4,103.5 540.5,104.3" fill="#02ff50"/>
<path d="M573.9,121.6 576.8,120.5 574.7,118.6 571.8,119.6" fill="#03ffdf"/>
<path d="M533.1,99.4 536.0,98.6 533.9,95.8 531.0,96.7" fill="#00ff05"/>
<path d="M550.3,111.6 553.1,110.7 551.0,108.4 548.2,109.3" fill="#03ff7e"/>
<path d="M628.6,133.1 631.5,131.8 629.3,130.1 626.4,131.4" fill="#07b0ff"/>
<path d="M614.3,130.9 617.2,129.6 615.0,128.0 612.1,129.2" fill="#05c7ff"/>
<path d="M589.9,126.2 592.8,125.0 590.6,123.2 587.7,124.4" fill="#03f9ff"/>
<path d="M579.8,123.6 582.7,122.6 580.6,120.7 577.7,121.8" fill="#02fff0"/>
<path d="M534.9,101.5 537.8,100.6 535.7,98.0 532.8,98.8" fill="#00ff17"/>
<path d="M600.0,128.5 602.9,127.3 600.7,125.5 597.8,126.7" fill="#03e2ff"/>
<path d="M544.4,108.6 547.2,107.8 545.1,105.4 542.3,106.2" fill="#02ff5d"/>
<path d="M563.8,118.5 566.7,117.5 564.6,115.4 561.7,116.4" fill="#03ffbb"/>
<path d="M557.9,116.0 560.8,115.0 558.7,112.9 555.8,113.8" fill="#03ffa3"/>
<path d="M624.5,132.8 627.3,131.5 625.2,129.8 622.3,131.1" fill="#06b7ff"/>
<path d="M610.1,130.6 613.0,129.3 610.8,127.6 608.0,128.8" fill="#04cfff"/>
<path d="M569.7,120.8 572.6,119.8 570.5,117.8 567.6,118.8" fill="#02ffd0"/>
<path d="M552.0,113.3 554.9,112.4 552.8,110.1 549.9,111.1" fill="#03ff88"/>
<path d="M536.7,103.5 539.6,102.7 537.5,100.1 534.6,100.9" fill="#01ff27"/>
<path d="M585.7,125.6 588.6,124.5 586.5,122.7 583.6,123.8" fill="#02ffff"/>
<path d="M595.8,128.0 598.7,126.8 596.6,125.1 593.7,126.2" fill="#03ecff"/>
<path d="M634.6,134.7 637.5,133.3 635.4,131.6 632.5,133.0" fill="#09a7ff"/>
<path d="M575.7,123.0 578.6,121.9 576.4,120.0 573.5,121.0" fill="#02ffe3"/>
<path d="M620.3,132.5 623.2,131.2 621.0,129.5 618.1,130.8" fill="#06beff"/>
<path d="M606.0,130.2 608.8,128.9 606.7,127.2 603.8,128.4" fill="#04d7ff"/>
<path d="M546.1,110.4 549.0,109.6 546.9,107.2 544.0,108.1" fill="#02ff68"/>
<path d="M523.6,90.9 526.5,90.2 524.4,87.1 521.5,87.9" fill="#54f900"/>
<path d="M538.5,105.4 541.3,104.6 539.2,102.1 536.4,102.9" fill="#01ff36"/>
<path d="M521.8,88.5 524.7,87.8 522.6,84.6 519.7,85.4" fill="#6af700"/>
<path d="M525.4,93.3 528.3,92.5 526.2,89.5 523.3,90.3" fill="#3ffa00"/>
<path d="M520.0,86.0 522.9,85.3 520.8,82.0 517.9,82.8" fill="#82f500"/>
<path d="M527.2,95.6 530.1,94.8 528.0,91.9 525.1,92.7" fill="#2afc00"/>
<path d="M591.7,127.5 594.6,126.3 592.4,124.5 589.5,125.7" fill="#02f5ff"/>
<path d="M630.5,134.4 633.4,133.0 631.2,131.3 628.3,132.7" fill="#08aeff"/>
<path d="M581.6,125.0 584.5,123.9 582.4,122.1 579.5,123.1" fill="#02fff3"/>
<path d="M616.1,132.2 619.0,130.9 616.8,129.2 613.9,130.4" fill="#05c6ff"/>
<path d="M559.7,117.6 562.6,116.6 560.5,114.5 557.6,115.4" fill="#02ffaa"/>
<path d="M565.6,120.0 568.5,119.0 566.4,117.0 563.5,117.9" fill="#02ffc1"/>
<path d="M553.8,115.0 556.7,114.0 554.6,111.8 551.7,112.8" fill="#02ff91"/>
<path d="M601.8,129.7 604.7,128.5 602.5,126.8 599.6,128.0" fill="#03e0ff"/>
<path d="M529.0,97.8 531.9,97.0 529.8,94.2 526.9,94.9" fill="#17fd00"/>
<path d="M571.5,122.2 574.4,121.2 572.3,119.2 569.4,120.3" fill="#02ffd5"/>
<path d="M540.2,107.3 543.1,106.5 541.0,104.0 538.1,104.9" fill="#01ff44"/>
<path d="M626.3,134.1 629.2,132.7 627.0,131.0 624.1,132.4" fill="#07b6ff"/>
<path d="M547.9,112.2 550.8,111.3 548.7,109.0 545.8,109.9" fill="#02ff73"/>
<path d="M611.9,131.8 614.8,130.5 612.7,128.8 609.8,130.1" fill="#04ceff"/>
<path d="M530.8,99.9 533.6,99.1 531.5,96.4 528.7,97.2" fill="#05fe00"/>
<path d="M587.5,126.9 590.4,125.8 588.3,124.0 585.4,125.1" fill="#02ffff"/>
<path d="M597.6,129.3 600.5,128.1 598.4,126.3 595.5,127.5" fill="#03e9ff"/>
<path d="M577.5,124.4 580.4,123.3 578.2,121.4 575.3,122.5" fill="#02ffe7"/>
<path d="M636.5,135.9 639.4,134.6 637.2,132.8 634.3,134.2" fill="#0aa5ff"/>
<path d="M532.5,102.0 535.4,101.2 533.3,98.5 530.4,99.3" fill="#00fe0c"/>
<path d="M622.1,133.7 625.0,132.4 622.8,130.7 619.9,132.0" fill="#06bdff"/>
<path d="M607.8,131.4 610.7,130.2 608.5,128.4 605.6,129.7" fill="#04d6ff"/>
<path d="M542.0,109.2 544.9,108.3 542.8,105.9 539.9,106.8" fill="#01ff51"/>
<path d="M561.5,119.1 564.4,118.1 562.3,116.1 559.4,117.0" fill="#02ffb1"/>
<path d="M555.6,116.6 558.5,115.7 556.4,113.5 553.5,114.4" fill="#02ff99"/>
<path d="M567.4,121.4 570.3,120.4 568.2,118.5 565.3,119.5" fill="#02ffc6"/>
<path d="M583.4,126.4 586.3,125.2 584.2,123.4 581.3,124.5" fill="#02fff7"/>
<path d="M593.5,128.8 596.4,127.6 594.2,125.8 591.3,127.0" fill="#02f3ff"/>
<path d="M632.3,135.6 635.2,134.3 633.0,132.6 630.1,133.9" fill="#09adff"/>
<path d="M549.7,113.9 552.6,113.0 550.5,110.7 547.6,111.6" fill="#02ff7d"/>
<path d="M534.3,104.0 537.2,103.2 535.1,100.6 532.2,101.4" fill="#00ff1c"/>
<path d="M617.9,133.4 620.8,132.1 618.7,130.4 615.8,131.7" fill="#06c4ff"/>
<path d="M603.6,131.0 606.5,129.8 604.4,128.0 601.5,129.2" fill="#03deff"/>
<path d="M573.3,123.6 576.2,122.6 574.1,120.7 571.2,121.7" fill="#01ffd9"/>
<path d="M628.1,135.3 631.0,134.0 628.8,132.3 625.9,133.6" fill="#08b4ff"/>
<path d="M543.8,111.0 546.7,110.1 544.6,107.8 541.7,108.6" fill="#01ff5d"/>
<path d="M613.8,133.0 616.7,131.8 614.5,130.1 611.6,131.3" fill="#05ccff"/>
<path d="M521.2,91.4 524.1,90.7 522.0,87.6 519.1,88.4" fill="#5ef800"/>
<path d="M519.5,89.0 522.3,88.3 520.2,85.1 517.3,85.9" fill="#74f600"/>
<path d="M536.1,106.0 539.0,105.1 536.9,102.6 534.0,103.4" fill="#00ff2b"/>
<path d="M589.3,128.2 592.2,127.1 590.1,125.3 587.2,126.4" fill="#02fdff"/>
<path d="M523.0,93.8 525.9,93.0 523.8,90.1 520.9,90.8" fill="#49f900"/>
<path d="M579.2,125.7 582.2,124.6 580.0,122.8 577.1,123.8" fill="#01ffea"/>
<path d="M517.7,86.5 520.5,85.8 518.4,82.5 515.5,83.3" fill="#8bf400"/>
<path d="M599.4,130.5 602.3,129.3 600.2,127.6 597.3,128.8" fill="#03e7ff"/>
<path d="M524.8,96.0 527.7,95.3 525.6,92.4 522.7,93.2" fill="#35fa00"/>
<path d="M557.4,118.2 560.3,117.2 558.2,115.1 555.3,116.0" fill="#01ffa0"/>
<path d="M638.3,137.2 641.2,135.8 639.0,134.1 636.1,135.5" fill="#0ba3ff"/>
<path d="M563.3,120.6 566.2,119.6 564.1,117.6 561.2,118.6" fill="#01ffb7"/>
<path d="M551.5,115.5 554.4,114.6 552.3,112.4 549.4,113.3" fill="#01ff86"/>
<path d="M623.9,135.0 626.8,133.7 624.7,132.0 621.8,133.3" fill="#07bbff"/>
<path d="M526.6,98.3 529.5,97.5 527.4,94.7 524.5,95.4" fill="#22fc00"/>
<path d="M609.6,132.7 612.5,131.4 610.3,129.7 607.4,130.9" fill="#04d4ff"/>
<path d="M569.2,122.9 572.1,121.9 570.0,119.9 567.1,120.9" fill="#01ffcb"/>
<path d="M537.9,107.9 540.8,107.0 538.7,104.6 535.8,105.4" fill="#00ff39"/>
<path d="M585.2,127.7 588.1,126.6 586.0,124.7 583.1,125.9" fill="#01fffa"/>
<path d="M545.5,112.7 548.4,111.9 546.3,109.6 543.4,110.4" fill="#01ff68"/>
<path d="M634.1,136.9 637.0,135.5 634.8,133.8 632.0,135.2" fill="#0aaaff"/>
<path d="M595.3,130.1 598.2,128.9 596.0,127.1 593.2,128.3" fill="#02f0ff"/>
<path d="M528.4,100.4 531.3,99.6 529.2,96.9 526.3,97.6" fill="#10fc00"/>
<path d="M619.8,134.6 622.7,133.3 620.5,131.6 617.6,132.9" fill="#06c3ff"/>
<path d="M575.1,125.0 578.0,124.0 575.9,122.1 573.0,123.1" fill="#01ffdd"/>
<path d="M605.4,132.2 608.3,131.0 606.2,129.3 603.3,130.5" fill="#04dcff"/>
<path d="M530.2,102.5 533.1,101.7 531.0,99.0 528.1,99.8" fill="#00fd01"/>
<path d="M630.0,136.6 632.9,135.2 630.7,133.5 627.8,134.8" fill="#09b2ff"/>
<path d="M559.1,119.7 562.0,118.8 559.9,116.7 557.0,117.6" fill="#01ffa6"/>
<path d="M553.2,117.2 556.1,116.3 554.0,114.1 551.1,115.0" fill="#01ff8e"/>
<path d="M539.6,109.7 542.5,108.9 540.4,106.5 537.5,107.3" fill="#00ff45"/>
<path d="M615.6,134.3 618.5,133.0 616.3,131.3 613.4,132.6" fill="#05caff"/>
<path d="M591.1,129.5 594.0,128.4 591.9,126.6 589.0,127.8" fill="#02faff"/>
<path d="M581.0,127.1 583.9,126.0 581.8,124.1 578.9,125.2" fill="#01ffee"/>
<path d="M565.1,122.1 568.0,121.1 565.8,119.1 562.9,120.1" fill="#01ffbc"/>
<path d="M640.2,138.5 643.1,137.1 640.9,135.4 638.0,136.8" fill="#0ca0ff"/>
<path d="M601.3,131.8 604.2,130.6 602.0,128.9 599.1,130.1" fill="#03e5ff"/>
<path d="M547.3,114.4 550.2,113.6 548.1,111.3 545.2,112.2" fill="#01ff71"/>
<path d="M531.9,104.5 534.8,103.7 532.7,101.1 529.8,101.9" fill="#00fe11"/>
<path d="M571.0,124.3 573.9,123.3 571.8,121.4 568.9,122.4" fill="#01ffd0"/>
<path d="M625.8,136.3 628.7,134.9 626.5,133.2 623.6,134.5" fill="#08b9ff"/>
<path d="M611.4,133.9 614.3,132.6 612.2,130.9 609.3,132.2" fill="#05d2ff"/>
<path d="M587.0,129.0 589.9,127.9 587.8,126.1 584.9,127.2" fill="#01fffd"/>
<path d="M636.0,138.2 638.9,136.8 636.7,135.1 633.8,136.4" fill="#0ba8ff"/>
<path d="M541.4,111.5 544.3,110.7 542.2,108.3 539.3,109.1" fill="#00ff51"/>
<path d="M597.1,131.3 600.0,130.2 597.9,128.4 595.0,129.6" fill="#02eeff"/>
<path d="M576.9,126.4 579.8,125.4 577.7,123.5 574.8,124.5" fill="#01ffe1"/>
<path d="M518.9,91.9 521.7,91.2 519.6,88.1 516.7,88.8" fill="#68f700"/>
<path d="M517.1,89.5 519.9,88.8 517.8,85.6 515.0,86.3" fill="#7df500"/>
<path d="M533.7,106.4 536.6,105.7 534.5,103.1 531.6,103.9" fill="#00fe20"/>
<path d="M621.6,135.9 624.5,134.6 622.3,132.9 619.4,134.2" fill="#07c1ff"/>
<path d="M520.7,94.2 523.5,93.5 521.4,90.5 518.5,91.3" fill="#53f800"/>
<path d="M515.3,87.0 518.1,86.3 516.0,83.0 513.1,83.7" fill="#94f300"/>
<path d="M555.0,118.7 557.9,117.8 555.8,115.7 552.9,116.6" fill="#00ff95"/>
<path d="M560.9,121.2 563.8,120.3 561.7,118.2 558.8,119.2" fill="#00ffac"/>
<path d="M607.2,133.5 610.1,132.3 608.0,130.5 605.1,131.8" fill="#04daff"/>
<path d="M522.4,96.5 525.3,95.8 523.2,92.9 520.3,93.6" fill="#3ff900"/>
<path d="M549.1,116.1 552.0,115.2 549.9,113.0 547.0,113.9" fill="#00ff7a"/>
<path d="M631.8,137.9 634.7,136.5 632.5,134.8 629.6,136.1" fill="#0ab0ff"/>
<path d="M566.8,123.5 569.7,122.5 567.6,120.6 564.7,121.6" fill="#00ffc1"/>
<path d="M524.2,98.7 527.1,98.0 525.0,95.2 522.1,95.9" fill="#2cfa00"/>
<path d="M582.8,128.4 585.7,127.3 583.6,125.5 580.7,126.6" fill="#01fff1"/>
<path d="M617.4,135.5 620.3,134.2 618.1,132.5 615.2,133.8" fill="#06c8ff"/>
<path d="M592.9,130.8 595.9,129.7 593.7,127.9 590.8,129.1" fill="#02f7ff"/>
<path d="M642.0,139.9 644.9,138.4 642.7,136.7 639.8,138.1" fill="#0d9dff"/>
<path d="M535.5,108.3 538.4,107.6 536.3,105.1 533.4,105.9" fill="#00fe2d"/>
<path d="M543.2,113.3 546.1,112.4 544.0,110.1 541.1,110.9" fill="#00ff5c"/>
<path d="M603.1,133.1 606.0,131.9 603.8,130.1 600.9,131.3" fill="#03e3ff"/>
<path d="M572.8,125.7 575.7,124.7 573.6,122.8 570.6,123.8" fill="#00ffd4"/>
<path d="M526.0,100.9 528.9,100.1 526.8,97.4 523.9,98.1" fill="#1afb00"/>
<path d="M627.6,137.5 630.5,136.2 628.3,134.4 625.4,135.8" fill="#09b7ff"/>
<path d="M613.2,135.2 616.1,133.9 614.0,132.2 611.1,133.4" fill="#05d0ff"/>
<path d="M637.8,139.5 640.7,138.1 638.5,136.3 635.6,137.7" fill="#0ca5ff"/>
<path d="M588.8,130.3 591.7,129.2 589.6,127.4 586.7,128.5" fill="#01ffff"/>
<path d="M527.8,102.9 530.7,102.2 528.6,99.5 525.7,100.3" fill="#0afc00"/>
<path d="M556.8,120.3 559.7,119.4 557.6,117.3 554.7,118.2" fill="#00ff9c"/>
<path d="M578.7,127.8 581.6,126.7 579.5,124.9 576.6,125.9" fill="#00ffe5"/>
<path d="M550.9,117.7 553.8,116.8 551.7,114.7 548.8,115.6" fill="#00ff82"/>
<path d="M598.9,132.6 601.8,131.4 599.7,129.7 596.8,130.9" fill="#03ebff"/>
<path d="M562.7,122.7 565.6,121.7 563.5,119.7 560.6,120.7" fill="#00ffb2"/>
<path d="M537.3,110.2 540.2,109.4 538.1,107.0 535.2,107.8" fill="#00fe3a"/>
<path d="M623.4,137.2 626.3,135.9 624.1,134.1 621.2,135.4" fill="#08bfff"/>
<path d="M545.0,115.0 547.9,114.1 545.8,111.9 542.9,112.7" fill="#00fe66"/>
<path d="M609.1,134.8 612.0,133.5 609.8,131.8 606.9,133.0" fill="#04d8ff"/>
<path d="M568.6,125.0 571.5,124.0 569.4,122.0 566.5,123.0" fill="#00ffc6"/>
<path d="M633.6,139.2 636.5,137.8 634.3,136.0 631.4,137.4" fill="#0badff"/>
<path d="M529.6,105.0 532.5,104.2 530.4,101.6 527.5,102.3" fill="#00fc06"/>
<path d="M643.8,141.2 646.7,139.8 644.5,138.0 641.6,139.4" fill="#0e99ff"/>
<path d="M584.6,129.7 587.6,128.6 585.4,126.8 582.5,127.9" fill="#01fff4"/>
<path d="M619.2,136.8 622.1,135.5 620.0,133.8 617.1,135.1" fill="#07c7ff"/>
<path d="M594.8,132.1 597.7,131.0 595.5,129.2 592.6,130.3" fill="#02f5ff"/>
<path d="M574.6,127.1 577.5,126.1 575.3,124.2 572.4,125.2" fill="#00ffd8"/>
<path d="M539.0,112.0 541.9,111.2 539.9,108.8 536.9,109.6" fill="#00fe46"/>
<path d="M604.9,134.3 607.8,133.1 605.6,131.4 602.7,132.6" fill="#04e1ff"/>
<path d="M629.4,138.8 632.3,137.5 630.2,135.7 627.3,137.1" fill="#0ab5ff"/>
<path d="M516.5,92.3 519.4,91.6 517.2,88.6 514.4,89.3" fill="#72f500"/>
<path d="M514.7,89.9 517.6,89.2 515.4,86.1 512.6,86.8" fill="#88f400"/>
<path d="M531.3,106.9 534.2,106.2 532.2,103.6 529.2,104.4" fill="#00fd14"/>
<path d="M518.3,94.7 521.2,94.0 519.0,91.0 516.2,91.7" fill="#5df700"/>
<path d="M552.6,119.3 555.6,118.4 553.5,116.3 550.5,117.2" fill="#00fe8a"/>
<path d="M558.6,121.8 561.5,120.9 559.4,118.8 556.5,119.8" fill="#00fea2"/>
<path d="M512.9,87.4 515.8,86.7 513.6,83.5 510.7,84.2" fill="#9ef200"/>
<path d="M639.6,140.9 642.5,139.5 640.4,137.7 637.5,139.1" fill="#0da2ff"/>
<path d="M615.1,136.4 618.0,135.2 615.8,133.4 612.9,134.7" fill="#06ceff"/>
<path d="M520.1,96.9 522.9,96.2 520.8,93.4 517.9,94.1" fill="#4af800"/>
<path d="M546.7,116.6 549.6,115.8 547.5,113.6 544.6,114.4" fill="#00fe6f"/>
<path d="M564.5,124.2 567.4,123.2 565.3,121.2 562.4,122.2" fill="#00feb7"/>
<path d="M590.6,131.6 593.5,130.5 591.4,128.7 588.5,129.8" fill="#01feff"/>
<path d="M580.5,129.1 583.4,128.0 581.3,126.2 578.4,127.3" fill="#00ffe8"/>
<path d="M600.7,133.9 603.6,132.7 601.5,130.9 598.6,132.1" fill="#03e9ff"/>
<path d="M521.8,99.2 524.7,98.5 522.6,95.6 519.7,96.3" fill="#37f900"/>
<path d="M625.2,138.5 628.2,137.1 626.0,135.4 623.1,136.7" fill="#09bdff"/>
<path d="M570.4,126.4 573.3,125.4 571.2,123.4 568.3,124.5" fill="#00ffca"/>
<path d="M533.1,108.8 536.0,108.1 533.9,105.6 531.0,106.3" fill="#00fd22"/>
<path d="M540.8,113.8 543.7,113.0 541.6,110.6 538.7,111.4" fill="#00fe51"/>
<path d="M635.4,140.5 638.4,139.1 636.2,137.3 633.3,138.7" fill="#0caaff"/>
<path d="M610.9,136.0 613.8,134.8 611.6,133.0 608.7,134.3" fill="#05d7ff"/>
<path d="M645.7,142.6 648.6,141.2 646.4,139.3 643.5,140.7" fill="#0f95ff"/>
<path d="M523.6,101.3 526.5,100.6 524.4,97.8 521.5,98.5" fill="#26fa00"/>
<path d="M586.4,131.0 589.4,129.9 587.2,128.1 584.3,129.2" fill="#01fff7"/>
<path d="M621.1,138.1 624.0,136.8 621.8,135.0 618.9,136.3" fill="#08c5ff"/>
<path d="M596.6,133.4 599.5,132.2 597.3,130.5 594.4,131.6" fill="#02f2ff"/>
<path d="M576.3,128.5 579.3,127.4 577.1,125.5 574.2,126.6" fill="#00ffdb"/>
<path d="M554.4,120.9 557.3,120.0 555.2,117.9 552.3,118.8" fill="#00fe91"/>
<path d="M525.4,103.4 528.3,102.7 526.2,100.0 523.3,100.7" fill="#15fb00"/>
<path d="M560.3,123.3 563.3,122.4 561.2,120.4 558.2,121.3" fill="#00fea7"/>
<path d="M548.5,118.3 551.4,117.4 549.3,115.2 546.4,116.1" fill="#00fe77"/>
<path d="M631.3,140.2 634.2,138.8 632.0,137.0 629.1,138.4" fill="#0bb2ff"/>
<path d="M606.7,135.6 609.6,134.4 607.5,132.6 604.6,133.9" fill="#04dfff"/>
<path d="M641.5,142.2 644.4,140.8 642.2,139.0 639.3,140.4" fill="#0e9eff"/>
<path d="M534.9,110.7 537.8,109.9 535.7,107.5 532.8,108.2" fill="#00fd2f"/>
<path d="M566.3,125.6 569.2,124.6 567.1,122.7 564.2,123.6" fill="#00febc"/>
<path d="M616.9,137.7 619.8,136.4 617.6,134.7 614.7,136.0" fill="#07ccff"/>
<path d="M542.6,115.5 545.5,114.7 543.4,112.4 540.5,113.2" fill="#00fd5a"/>
<path d="M582.3,130.5 585.2,129.4 583.1,127.5 580.2,128.6" fill="#00ffeb"/>
<path d="M592.4,132.9 595.3,131.7 593.2,130.0 590.3,131.1" fill="#02fcff"/>
<path d="M527.2,105.4 530.1,104.7 528.0,102.1 525.1,102.8" fill="#06fb00"/>
<path d="M627.1,139.8 630.0,138.4 627.8,136.7 624.9,138.0" fill="#0abaff"/>
<path d="M602.5,135.2 605.5,134.0 603.3,132.2 600.4,133.4" fill="#03e7ff"/>
<path d="M572.2,127.8 575.1,126.7 573.0,124.8 570.1,125.9" fill="#00fece"/>
<path d="M647.5,144.0 650.4,142.6 648.2,140.7 645.3,142.1" fill="#1190ff"/>
<path d="M637.3,141.9 640.2,140.5 638.0,138.6 635.1,140.0" fill="#0da7ff"/>
<path d="M612.7,137.3 615.6,136.0 613.5,134.3 610.5,135.6" fill="#06d5ff"/>
<path d="M536.7,112.5 539.6,111.7 537.5,109.3 534.6,110.1" fill="#00fd3a"/>
<path d="M514.1,92.7 517.0,92.1 514.9,89.0 512.0,89.7" fill="#7df400"/>
<path d="M512.3,90.3 515.2,89.7 513.0,86.5 510.2,87.2" fill="#92f300"/>
<path d="M556.2,122.4 559.1,121.5 557.0,119.4 554.1,120.3" fill="#00fd97"/>
<path d="M550.3,119.9 553.2,119.0 551.1,116.9 548.2,117.7" fill="#00fd7f"/>
<path d="M529.0,107.4 531.9,106.6 529.8,104.1 526.9,104.8" fill="#00fb09"/>
<path d="M515.9,95.1 518.8,94.4 516.7,91.4 513.8,92.1" fill="#68f600"/>
<path d="M588.3,132.4 591.2,131.2 589.0,129.4 586.1,130.6" fill="#01fffa"/>
<path d="M622.9,139.4 625.8,138.1 623.6,136.3 620.7,137.6" fill="#09c2ff"/>
<path d="M510.5,87.8 513.4,87.2 511.2,83.9 508.3,84.6" fill="#a8f100"/>
<path d="M578.1,129.8 581.1,128.8 578.9,126.9 576.0,128.0" fill="#00ffdf"/>
<path d="M562.1,124.8 565.0,123.8 562.9,121.8 560.0,122.8" fill="#00fead"/>
<path d="M598.4,134.7 601.3,133.5 599.1,131.7 596.2,132.9" fill="#03f0ff"/>
<path d="M544.4,117.2 547.3,116.3 545.2,114.1 542.3,114.9" fill="#00fd64"/>
<path d="M517.7,97.4 520.6,96.7 518.5,93.8 515.6,94.5" fill="#55f700"/>
<path d="M633.1,141.5 636.0,140.1 633.8,138.3 630.9,139.7" fill="#0cafff"/>
<path d="M643.3,143.7 646.2,142.2 644.0,140.3 641.1,141.8" fill="#0f99ff"/>
<path d="M608.5,136.9 611.4,135.6 609.3,133.9 606.4,135.1" fill="#05ddff"/>
<path d="M568.1,127.0 571.0,126.0 568.9,124.1 565.9,125.1" fill="#00fec0"/>
<path d="M519.5,99.6 522.4,98.9 520.3,96.1 517.3,96.7" fill="#42f800"/>
<path d="M618.7,139.0 621.6,137.7 619.5,135.9 616.5,137.2" fill="#08caff"/>
<path d="M530.7,109.3 533.7,108.5 531.6,106.0 528.6,106.8" fill="#00fb16"/>
<path d="M538.4,114.3 541.4,113.5 539.3,111.1 536.4,111.9" fill="#00fc45"/>
<path d="M649.3,145.5 652.2,144.0 650.0,142.1 647.1,143.6" fill="#128aff"/>
<path d="M584.1,131.8 587.0,130.7 584.9,128.9 582.0,130.0" fill="#00ffee"/>
<path d="M594.2,134.2 597.1,133.0 595.0,131.3 592.1,132.4" fill="#02faff"/>
<path d="M628.9,141.1 631.8,139.8 629.6,138.0 626.7,139.3" fill="#0bb7ff"/>
<path d="M521.2,101.7 524.1,101.0 522.0,98.3 519.1,99.0" fill="#31f900"/>
<path d="M639.1,143.3 642.0,141.8 639.8,140.0 636.9,141.4" fill="#0ea3ff"/>
<path d="M574.0,129.1 576.9,128.1 574.8,126.2 571.9,127.3" fill="#00fed2"/>
<path d="M604.4,136.5 607.3,135.2 605.1,133.5 602.2,134.7" fill="#04e5ff"/>
<path d="M552.1,121.4 555.0,120.5 552.9,118.4 550.0,119.3" fill="#00fd86"/>
<path d="M558.0,123.9 560.9,123.0 558.8,121.0 555.9,121.9" fill="#00fd9d"/>
<path d="M614.5,138.6 617.4,137.3 615.3,135.6 612.4,136.8" fill="#07d2ff"/>
<path d="M546.1,118.8 549.1,118.0 547.0,115.8 544.0,116.6" fill="#00fd6c"/>
<path d="M523.0,103.8 525.9,103.1 523.8,100.4 520.9,101.1" fill="#21f900"/>
<path d="M532.5,111.1 535.4,110.4 533.3,108.0 530.4,108.7" fill="#00fb23"/>
<path d="M563.9,126.2 566.8,125.3 564.7,123.3 561.8,124.3" fill="#00fdb1"/>
<path d="M645.1,145.1 648.0,143.6 645.8,141.7 642.9,143.2" fill="#1194ff"/>
<path d="M624.7,140.7 627.6,139.4 625.5,137.6 622.6,138.9" fill="#0ac0ff"/>
<path d="M590.1,133.7 593.0,132.5 590.8,130.7 587.9,131.9" fill="#01fffd"/>
<path d="M579.9,131.2 582.9,130.1 580.7,128.3 577.8,129.3" fill="#00ffe2"/>
<path d="M634.9,142.9 637.8,141.5 635.6,139.6 632.7,141.0" fill="#0dabff"/>
<path d="M540.2,116.0 543.1,115.2 541.0,112.9 538.1,113.7" fill="#00fc4f"/>
<path d="M600.2,136.0 603.1,134.8 601.0,133.0 598.0,134.2" fill="#03eeff"/>
<path d="M569.8,128.4 572.8,127.4 570.6,125.5 567.7,126.5" fill="#00fec4"/>
<path d="M610.4,138.2 613.3,136.9 611.1,135.2 608.2,136.4" fill="#06dbff"/>
<path d="M524.8,105.8 527.7,105.1 525.6,102.5 522.7,103.2" fill="#11fa00"/>
<path d="M651.1,147.0 654.0,145.5 651.9,143.6 648.9,145.0" fill="#1384ff"/>
<path d="M620.5,140.3 623.4,139.0 621.3,137.2 618.4,138.5" fill="#09c8ff"/>
<path d="M640.9,144.7 643.8,143.3 641.7,141.4 638.8,142.8" fill="#109eff"/>
<path d="M630.7,142.5 633.6,141.1 631.5,139.3 628.6,140.6" fill="#0cb4ff"/>
<path d="M585.9,133.1 588.8,132.0 586.7,130.2 583.8,131.3" fill="#00fff1"/>
<path d="M534.3,112.9 537.2,112.2 535.1,109.8 532.2,110.6" fill="#00fb2e"/>
<path d="M596.0,135.5 598.9,134.3 596.8,132.5 593.9,133.7" fill="#02f7ff"/>
<path d="M553.8,123.0 556.8,122.1 554.7,120.0 551.7,120.9" fill="#00fc8c"/>
<path d="M575.8,130.5 578.7,129.5 576.6,127.6 573.7,128.6" fill="#00fed5"/>
<path d="M547.9,120.4 550.8,119.5 548.7,117.4 545.8,118.2" fill="#00fc73"/>
<path d="M511.7,93.1 514.6,92.5 512.5,89.4 509.6,90.1" fill="#87f300"/>
<path d="M509.9,90.7 512.8,90.1 510.6,86.9 507.7,87.6" fill="#9df100"/>
<path d="M559.8,125.4 562.7,124.4 560.6,122.4 557.7,123.4" fill="#00fda2"/>
<path d="M526.6,107.8 529.5,107.1 527.4,104.5 524.5,105.2" fill="#03fa00"/>
<path d="M606.2,137.8 609.1,136.5 606.9,134.7 604.0,136.0" fill="#05e3ff"/>
<path d="M513.5,95.5 516.4,94.8 514.3,91.9 511.4,92.5" fill="#73f400"/>
<path d="M508.1,88.2 511.0,87.6 508.8,84.4 505.9,85.0" fill="#b2ef00"/>
<path d="M646.9,146.6 649.8,145.1 647.7,143.2 644.8,144.6" fill="#128eff"/>
<path d="M542.0,117.7 544.9,116.8 542.8,114.6 539.9,115.4" fill="#00fc58"/>
<path d="M616.4,139.9 619.3,138.6 617.1,136.8 614.2,138.1" fill="#08d0ff"/>
<path d="M515.3,97.7 518.2,97.1 516.1,94.2 513.2,94.8" fill="#60f600"/>
<path d="M565.7,127.6 568.6,126.7 566.5,124.7 563.6,125.7" fill="#00fdb6"/>
<path d="M626.5,142.1 629.5,140.7 627.3,138.9 624.4,140.3" fill="#0bbdff"/>
<path d="M636.7,144.3 639.7,142.9 637.5,141.0 634.6,142.4" fill="#0ea7ff"/>
<path d="M652.9,148.5 655.8,147.1 653.7,145.0 650.8,146.5" fill="#147cff"/>
<path d="M591.9,135.0 594.8,133.8 592.6,132.0 589.7,133.2" fill="#02ffff"/>
<path d="M581.7,132.5 584.7,131.4 582.5,129.6 579.6,130.7" fill="#00ffe5"/>
<path d="M517.1,100.0 520.0,99.3 517.9,96.5 515.0,97.1" fill="#4ef700"/>
<path d="M602.0,137.3 604.9,136.1 602.8,134.3 599.9,135.5" fill="#04ecff"/>
<path d="M536.1,114.7 539.0,114.0 536.9,111.6 534.0,112.4" fill="#00fb39"/>
<path d="M528.4,109.7 531.3,109.0 529.2,106.5 526.3,107.2" fill="#00fa0a"/>
<path d="M571.6,129.8 574.6,128.8 572.4,126.9 569.5,127.9" fill="#00fdc8"/>
<path d="M612.2,139.5 615.1,138.2 612.9,136.4 610.0,137.7" fill="#07d9ff"/>
<path d="M642.8,146.1 645.7,144.7 643.5,142.8 640.6,144.2" fill="#1199ff"/>
<path d="M518.8,102.1 521.8,101.4 519.7,98.7 516.7,99.3" fill="#3df700"/>
<path d="M622.4,141.7 625.3,140.3 623.1,138.5 620.2,139.9" fill="#0ac5ff"/>
<path d="M632.6,143.9 635.5,142.5 633.3,140.6 630.4,142.0" fill="#0db0ff"/>
<path d="M549.7,122.0 552.6,121.1 550.5,119.0 547.6,119.9" fill="#00fc7a"/>
<path d="M555.6,124.5 558.5,123.6 556.4,121.5 553.5,122.4" fill="#00fc92"/>
<path d="M543.8,119.3 546.7,118.5 544.6,116.3 541.7,117.1" fill="#00fb60"/>
<path d="M587.7,134.4 590.6,133.3 588.5,131.5 585.6,132.6" fill="#01fff4"/>
<path d="M648.8,148.1 651.7,146.6 649.5,144.6 646.6,146.1" fill="#1388ff"/>
<path d="M597.8,136.8 600.8,135.6 598.6,133.8 595.7,135.0" fill="#03f5ff"/>
<path d="M561.6,126.8 564.5,125.9 562.4,123.9 559.4,124.8" fill="#00fca7"/>
<path d="M577.6,131.9 580.5,130.8 578.4,129.0 575.5,130.0" fill="#00fed9"/>
<path d="M520.6,104.2 523.5,103.5 521.4,100.8 518.5,101.5" fill="#2df800"/>
<path d="M530.1,111.6 533.1,110.8 531.0,108.4 528.0,109.1" fill="#00fa17"/>
<path d="M654.7,150.1 657.6,148.6 655.5,146.6 652.6,148.1" fill="#1474ff"/>
<path d="M608.0,139.1 610.9,137.8 608.8,136.0 605.8,137.3" fill="#06e1ff"/>
<path d="M638.6,145.7 641.5,144.3 639.3,142.4 636.4,143.8" fill="#10a2ff"/>
<path d="M537.8,116.4 540.8,115.7 538.7,113.4 535.8,114.2" fill="#00fb43"/>
<path d="M618.2,141.3 621.1,139.9 618.9,138.1 616.0,139.4" fill="#09ceff"/>
<path d="M567.5,129.1 570.4,128.1 568.3,126.2 565.4,127.1" fill="#00fdba"/>
<path d="M628.4,143.5 631.3,142.1 629.1,140.2 626.2,141.6" fill="#0cb9ff"/>
<path d="M522.4,106.2 525.3,105.5 523.2,102.9 520.3,103.6" fill="#1df800"/>
<path d="M583.5,133.8 586.5,132.7 584.3,130.9 581.4,132.0" fill="#00ffe8"/>
<path d="M593.7,136.3 596.6,135.1 594.4,133.3 591.5,134.5" fill="#02ffff"/>
<path d="M644.6,147.6 647.5,146.2 645.3,144.2 642.4,145.7" fill="#1292ff"/>
<path d="M603.8,138.6 606.7,137.4 604.6,135.6 601.7,136.8" fill="#05eaff"/>
<path d="M573.4,131.2 576.4,130.1 574.2,128.3 571.3,129.3" fill="#00fdcc"/>
<path d="M551.5,123.5 554.4,122.6 552.3,120.6 549.4,121.4" fill="#00fb81"/>
<path d="M614.0,140.8 616.9,139.5 614.7,137.7 611.8,139.0" fill="#08d6ff"/>
<path d="M531.9,113.4 534.8,112.7 532.7,110.3 529.8,111.0" fill="#00fa22"/>
<path d="M634.4,145.3 637.3,143.9 635.1,142.0 632.2,143.4" fill="#0facff"/>
<path d="M650.6,149.6 653.5,148.2 651.3,146.1 648.4,147.6" fill="#1480ff"/>
<path d="M545.5,120.9 548.5,120.1 546.4,117.9 543.5,118.7" fill="#00fb68"/>
<path d="M624.2,143.0 627.1,141.7 624.9,139.9 622.0,141.2" fill="#0bc2ff"/>
<path d="M557.4,126.0 560.3,125.0 558.2,123.0 555.3,123.9" fill="#00fc97"/>
<path d="M656.5,151.8 659.5,150.2 657.3,148.1 654.4,149.6" fill="#156aff"/>
<path d="M507.5,91.1 510.4,90.5 508.2,87.3 505.3,87.9" fill="#a7f000"/>
<path d="M509.3,93.5 512.2,92.9 510.1,89.8 507.1,90.4" fill="#93f200"/>
<path d="M524.2,108.2 527.1,107.5 525.0,104.9 522.1,105.6" fill="#0ff900"/>
<path d="M505.6,88.6 508.5,88.0 506.4,84.8 503.5,85.3" fill="#bdee00"/>
<path d="M511.1,95.8 514.0,95.2 511.9,92.2 509.0,92.9" fill="#7ff300"/>
<path d="M539.6,118.1 542.5,117.3 540.5,115.1 537.5,115.9" fill="#00fb4c"/>
<path d="M563.3,128.3 566.3,127.3 564.2,125.4 561.2,126.3" fill="#00fcab"/>
<path d="M589.5,135.7 592.4,134.6 590.3,132.8 587.4,133.9" fill="#01fff8"/>
<path d="M579.4,133.2 582.3,132.1 580.2,130.3 577.3,131.4" fill="#00fedc"/>
<path d="M599.7,138.1 602.6,136.9 600.4,135.1 597.5,136.3" fill="#04f3ff"/>
<path d="M512.9,98.1 515.8,97.5 513.7,94.6 510.8,95.2" fill="#6cf400"/>
<path d="M640.4,147.2 643.3,145.7 641.1,143.8 638.2,145.2" fill="#119dff"/>
<path d="M609.8,140.4 612.7,139.1 610.6,137.3 607.7,138.6" fill="#07dfff"/>
<path d="M630.2,144.9 633.1,143.5 630.9,141.6 628.0,143.0" fill="#0db5ff"/>
<path d="M620.0,142.6 622.9,141.3 620.7,139.5 617.8,140.8" fill="#0acbff"/>
<path d="M569.3,130.4 572.2,129.4 570.1,127.6 567.2,128.5" fill="#00fdbe"/>
<path d="M514.7,100.3 517.6,99.7 515.5,96.9 512.5,97.5" fill="#5af500"/>
<path d="M646.4,149.2 649.3,147.7 647.1,145.7 644.2,147.1" fill="#138bff"/>
<path d="M533.7,115.2 536.6,114.4 534.5,112.1 531.6,112.8" fill="#00fa2d"/>
<path d="M526.0,110.1 528.9,109.4 526.8,106.9 523.9,107.6" fill="#02f900"/>
<path d="M658.3,153.4 661.2,151.9 659.1,149.8 656.2,151.3" fill="#1660ff"/>
<path d="M652.4,151.2 655.3,149.7 653.1,147.7 650.2,149.1" fill="#1577ff"/>
<path d="M585.3,135.2 588.3,134.0 586.1,132.2 583.2,133.3" fill="#00ffec"/>
<path d="M516.4,102.5 519.4,101.8 517.3,99.1 514.3,99.7" fill="#49f600"/>
<path d="M595.5,137.6 598.4,136.4 596.3,134.6 593.3,135.8" fill="#03fcff"/>
<path d="M547.3,122.5 550.3,121.6 548.2,119.5 545.2,120.4" fill="#00fb6f"/>
<path d="M553.3,125.0 556.2,124.1 554.1,122.1 551.2,123.0" fill="#00fb87"/>
<path d="M636.2,146.7 639.1,145.3 636.9,143.4 634.0,144.8" fill="#10a7ff"/>
<path d="M605.6,139.9 608.6,138.7 606.4,136.9 603.5,138.1" fill="#05e8ff"/>
<path d="M575.2,132.5 578.1,131.5 576.0,129.6 573.1,130.7" fill="#00fdcf"/>
<path d="M559.2,127.4 562.1,126.5 560.0,124.5 557.1,125.4" fill="#00fb9c"/>
<path d="M615.8,142.2 618.7,140.9 616.6,139.1 613.7,140.3" fill="#09d3ff"/>
<path d="M541.4,119.8 544.3,119.0 542.2,116.8 539.3,117.6" fill="#00fa54"/>
<path d="M626.0,144.4 628.9,143.1 626.8,141.2 623.8,142.6" fill="#0cbeff"/>
<path d="M518.2,104.6 521.2,103.9 519.1,101.2 516.1,101.9" fill="#39f600"/>
<path d="M642.2,148.7 645.1,147.2 642.9,145.3 640.0,146.7" fill="#1296ff"/>
<path d="M527.7,112.0 530.7,111.3 528.6,108.8 525.7,109.5" fill="#00f90a"/>
<path d="M565.1,129.7 568.1,128.7 565.9,126.8 563.0,127.7" fill="#00fcb0"/>
<path d="M660.1,155.2 663.0,153.6 660.9,151.4 658.0,152.9" fill="#1654ff"/>
<path d="M535.5,116.9 538.4,116.1 536.3,113.8 533.4,114.6" fill="#00fa37"/>
<path d="M591.3,137.1 594.2,135.9 592.1,134.1 589.2,135.2" fill="#02fffb"/>
<path d="M648.2,150.7 651.1,149.3 648.9,147.2 646.0,148.7" fill="#1483ff"/>
<path d="M581.2,134.5 584.1,133.5 582.0,131.6 579.1,132.7" fill="#00fedf"/>
<path d="M601.5,139.4 604.4,138.2 602.2,136.4 599.3,137.6" fill="#04f1ff"/>
<path d="M654.2,152.9 657.1,151.4 654.9,149.3 652.0,150.7" fill="#156dff"/>
<path d="M632.0,146.3 634.9,144.9 632.8,143.0 629.9,144.4" fill="#0fb0ff"/>
<path d="M611.6,141.7 614.6,140.4 612.4,138.6 609.5,139.9" fill="#08dcff"/>
<path d="M621.8,144.0 624.7,142.6 622.6,140.8 619.7,142.1" fill="#0bc7ff"/>
<path d="M520.0,106.6 522.9,105.9 520.8,103.3 517.9,104.0" fill="#2af700"/>
<path d="M571.1,131.8 574.0,130.8 571.9,128.9 569.0,129.9" fill="#00fdc2"/>
<path d="M549.1,124.0 552.0,123.2 549.9,121.1 547.0,121.9" fill="#00fa75"/>
<path d="M638.0,148.2 640.9,146.8 638.8,144.8 635.9,146.2" fill="#11a1ff"/>
<path d="M555.0,126.5 558.0,125.6 555.9,123.6 552.9,124.5" fill="#00fb8c"/>
<path d="M661.9,157.0 664.8,155.4 662.7,153.1 659.8,154.7" fill="#1647ff"/>
<path d="M543.2,121.4 546.1,120.6 544.0,118.4 541.1,119.2" fill="#00fa5c"/>
<path d="M529.5,113.8 532.5,113.1 530.4,110.7 527.4,111.4" fill="#00f916"/>
<path d="M587.2,136.5 590.1,135.4 587.9,133.5 585.0,134.7" fill="#01ffef"/>
<path d="M597.3,138.9 600.2,137.7 598.1,135.9 595.2,137.1" fill="#03faff"/>
<path d="M627.8,145.8 630.7,144.5 628.6,142.6 625.7,143.9" fill="#0dbaff"/>
<path d="M607.5,141.2 610.4,140.0 608.2,138.2 605.3,139.4" fill="#06e5ff"/>
<path d="M561.0,128.9 563.9,127.9 561.8,126.0 558.9,126.9" fill="#00fba1"/>
<path d="M505.0,91.4 508.0,90.8 505.8,87.7 502.9,88.3" fill="#b3ef00"/>
<path d="M577.0,133.9 579.9,132.8 577.8,131.0 574.9,132.0" fill="#00fed3"/>
<path d="M644.0,150.2 646.9,148.8 644.8,146.7 641.9,148.2" fill="#138fff"/>
<path d="M506.8,93.8 509.8,93.2 507.6,90.2 504.7,90.8" fill="#9ef000"/>
<path d="M617.6,143.5 620.6,142.2 618.4,140.4 615.5,141.7" fill="#0ad0ff"/>
<path d="M521.8,108.6 524.7,107.9 522.6,105.3 519.7,106.0" fill="#1cf700"/>
<path d="M656.0,154.6 658.9,153.1 656.7,150.9 653.8,152.4" fill="#1662ff"/>
<path d="M503.2,88.9 506.1,88.3 504.0,85.1 501.1,85.7" fill="#c8ed00"/>
<path d="M537.2,118.6 540.2,117.8 538.1,115.6 535.2,116.3" fill="#00f940"/>
<path d="M508.7,96.2 511.6,95.6 509.5,92.6 506.5,93.2" fill="#8bf200"/>
<path d="M650.0,152.4 652.9,150.9 650.8,148.8 647.8,150.2" fill="#157aff"/>
<path d="M510.5,98.4 513.4,97.9 511.3,95.0 508.3,95.5" fill="#78f300"/>
<path d="M566.9,131.1 569.8,130.1 567.7,128.2 564.8,129.2" fill="#00fcb4"/>
<path d="M663.7,158.8 666.6,157.2 664.5,154.9 661.6,156.5" fill="#1638ff"/>
<path d="M633.8,147.7 636.7,146.3 634.6,144.4 631.7,145.8" fill="#10abff"/>
<path d="M593.1,138.4 596.0,137.2 593.9,135.4 591.0,136.6" fill="#02ffff"/>
<path d="M512.2,100.7 515.2,100.1 513.1,97.2 510.1,97.8" fill="#66f400"/>
<path d="M583.0,135.9 585.9,134.8 583.8,133.0 580.9,134.0" fill="#00ffe3"/>
<path d="M603.3,140.8 606.2,139.5 604.0,137.7 601.1,138.9" fill="#05eeff"/>
<path d="M623.7,145.4 626.6,144.0 624.4,142.2 621.5,143.5" fill="#0cc3ff"/>
<path d="M531.3,115.6 534.2,114.9 532.1,112.5 529.2,113.2" fill="#00f820"/>
<path d="M613.5,143.1 616.4,141.8 614.2,139.9 611.3,141.2" fill="#09d9ff"/>
<path d="M523.6,110.5 526.5,109.8 524.4,107.3 521.5,108.0" fill="#0ff700"/>
<path d="M639.8,149.7 642.7,148.3 640.6,146.3 637.7,147.7" fill="#129aff"/>
<path d="M657.8,156.3 660.7,154.8 658.5,152.6 655.6,154.1" fill="#1656ff"/>
<path d="M572.9,133.2 575.8,132.2 573.7,130.3 570.8,131.3" fill="#00fdc5"/>
<path d="M550.9,125.5 553.8,124.7 551.7,122.6 548.8,123.5" fill="#00fa7b"/>
<path d="M545.0,123.0 547.9,122.2 545.8,120.0 542.9,120.8" fill="#00fa63"/>
<path d="M665.5,160.7 668.4,159.1 666.2,156.7 663.3,158.3" fill="#1628ff"/>
<path d="M514.0,102.8 517.0,102.2 514.9,99.4 511.9,100.0" fill="#55f400"/>
<path d="M645.8,151.8 648.7,150.3 646.6,148.3 643.7,149.7" fill="#1487ff"/>
<path d="M556.8,128.0 559.8,127.1 557.7,125.1 554.7,126.0" fill="#00fb91"/>
<path d="M651.8,154.0 654.7,152.5 652.6,150.4 649.6,151.9" fill="#1570ff"/>
<path d="M539.0,120.2 542.0,119.5 539.9,117.3 536.9,118.0" fill="#00f948"/>
<path d="M629.7,147.3 632.6,145.9 630.4,144.0 627.5,145.3" fill="#0fb5ff"/>
<path d="M562.8,130.3 565.7,129.3 563.6,127.4 560.7,128.3" fill="#00fba5"/>
<path d="M589.0,137.8 591.9,136.7 589.7,134.9 586.8,136.0" fill="#01fff3"/>
<path d="M599.1,140.2 602.0,139.0 599.9,137.2 597.0,138.4" fill="#04f8ff"/>
<path d="M619.5,144.9 622.4,143.6 620.2,141.7 617.3,143.0" fill="#0bcdff"/>
<path d="M609.3,142.6 612.2,141.3 610.0,139.5 607.1,140.8" fill="#07e2ff"/>
<path d="M667.2,162.7 670.1,161.1 668.0,158.6 665.1,160.2" fill="#1517ff"/>
<path d="M578.8,135.2 581.7,134.2 579.6,132.3 576.7,133.4" fill="#00fed6"/>
<path d="M515.8,104.9 518.8,104.3 516.7,101.6 513.7,102.2" fill="#45f500"/>
<path d="M525.4,112.4 528.3,111.7 526.2,109.2 523.3,109.9" fill="#02f700"/>
<path d="M659.5,158.1 662.4,156.6 660.3,154.3 657.4,155.8" fill="#1649ff"/>
<path d="M533.1,117.3 536.0,116.6 533.9,114.3 531.0,115.0" fill="#00f82a"/>
<path d="M635.7,149.2 638.6,147.8 636.4,145.9 633.5,147.3" fill="#11a5ff"/>
<path d="M568.7,132.5 571.6,131.5 569.5,129.6 566.6,130.6" fill="#00fcb8"/>
<path d="M669.0,164.7 671.9,163.1 669.8,160.6 666.9,162.2" fill="#1414ff"/>
<path d="M653.6,155.7 656.5,154.2 654.4,152.0 651.4,153.5" fill="#1665ff"/>
<path d="M641.6,151.3 644.6,149.8 642.4,147.8 639.5,149.2" fill="#1393ff"/>
<path d="M625.5,146.8 628.4,145.4 626.2,143.5 623.3,144.9" fill="#0dbfff"/>
<path d="M647.6,153.5 650.5,152.0 648.4,149.9 645.5,151.3" fill="#157eff"/>
<path d="M517.6,106.9 520.5,106.3 518.4,103.7 515.5,104.3" fill="#36f500"/>
<path d="M670.7,166.8 673.6,165.2 671.5,162.6 668.6,164.2" fill="#1313ff"/>
<path d="M594.9,139.7 597.9,138.5 595.7,136.7 592.8,137.9" fill="#03ffff"/>
<path d="M615.3,144.4 618.2,143.1 616.0,141.3 613.1,142.6" fill="#0ad6ff"/>
<path d="M605.1,142.1 608.0,140.9 605.9,139.0 603.0,140.3" fill="#06ecff"/>
<path d="M584.8,137.2 587.7,136.1 585.6,134.3 582.7,135.4" fill="#00ffe6"/>
<path d="M546.7,124.5 549.7,123.7 547.6,121.6 544.6,122.4" fill="#00f969"/>
<path d="M661.3,160.0 664.2,158.4 662.1,156.1 659.2,157.6" fill="#163aff"/>
<path d="M552.7,127.0 555.6,126.2 553.5,124.2 550.6,125.0" fill="#00fa81"/>
<path d="M540.8,121.9 543.7,121.1 541.6,118.9 538.7,119.7" fill="#00f950"/>
<path d="M574.7,134.6 577.6,133.5 575.5,131.7 572.5,132.7" fill="#00fdc9"/>
<path d="M527.1,114.2 530.1,113.5 528.0,111.1 525.0,111.8" fill="#00f709"/>
<path d="M558.6,129.4 561.5,128.5 559.4,126.5 556.5,127.5" fill="#00fa96"/>
<path d="M631.5,148.8 634.4,147.4 632.2,145.4 629.3,146.8" fill="#10b0ff"/>
<path d="M502.6,91.7 505.5,91.2 503.4,88.0 500.5,88.6" fill="#beed00"/>
<path d="M504.4,94.1 507.3,93.6 505.2,90.5 502.3,91.1" fill="#aaef00"/>
<path d="M534.9,119.0 537.8,118.3 535.7,116.0 532.8,116.8" fill="#00f833"/>
<path d="M655.4,157.5 658.3,156.0 656.1,153.7 653.2,155.2" fill="#1659ff"/>
<path d="M519.4,108.9 522.3,108.3 520.2,105.7 517.3,106.3" fill="#28f600"/>
<path d="M621.3,146.3 624.2,145.0 622.0,143.1 619.1,144.4" fill="#0cc9ff"/>
<path d="M663.1,161.9 666.0,160.3 663.9,157.9 661.0,159.5" fill="#152aff"/>
<path d="M500.8,89.2 503.7,88.7 501.6,85.4 498.7,86.0" fill="#d3ec00"/>
<path d="M564.6,131.7 567.5,130.7 565.4,128.8 562.4,129.8" fill="#00fba9"/>
<path d="M506.2,96.5 509.2,95.9 507.0,92.9 504.1,93.5" fill="#97f000"/>
<path d="M637.5,150.8 640.4,149.4 638.2,147.3 635.3,148.8" fill="#129eff"/>
<path d="M611.1,144.0 614.0,142.7 611.9,140.8 608.9,142.1" fill="#08dfff"/>
<path d="M600.9,141.6 603.8,140.4 601.7,138.6 598.8,139.8" fill="#05f5ff"/>
<path d="M590.8,139.2 593.7,138.0 591.5,136.2 588.6,137.3" fill="#02fff7"/>
<path d="M649.4,155.1 652.3,153.6 650.2,151.5 647.3,153.0" fill="#1573ff"/>
<path d="M580.6,136.6 583.6,135.5 581.4,133.7 578.5,134.7" fill="#00feda"/>
<path d="M643.5,152.9 646.4,151.4 644.2,149.4 641.3,150.8" fill="#148aff"/>
<path d="M508.0,98.8 511.0,98.2 508.9,95.3 505.9,95.8" fill="#84f100"/>
<path d="M664.8,163.9 667.7,162.3 665.6,159.8 662.7,161.4" fill="#1518ff"/>
<path d="M570.5,133.9 573.4,132.8 571.3,131.0 568.4,132.0" fill="#00fcbb"/>
<path d="M627.3,148.3 630.2,146.9 628.0,145.0 625.1,146.3" fill="#0fbaff"/>
<path d="M528.9,116.0 531.8,115.3 529.8,112.9 526.8,113.6" fill="#00f714"/>
<path d="M509.8,101.0 512.8,100.4 510.7,97.6 507.7,98.1" fill="#72f200"/>
<path d="M657.2,159.3 660.1,157.8 657.9,155.5 655.0,157.0" fill="#164bff"/>
<path d="M521.2,110.8 524.1,110.2 522.0,107.7 519.1,108.3" fill="#1bf600"/>
<path d="M548.5,126.1 551.4,125.2 549.4,123.2 546.4,124.0" fill="#00f96f"/>
<path d="M617.1,145.9 620.0,144.5 617.9,142.7 614.9,144.0" fill="#0bd2ff"/>
<path d="M542.6,123.5 545.5,122.7 543.4,120.5 540.5,121.3" fill="#00f857"/>
<path d="M554.4,128.5 557.4,127.6 555.3,125.6 552.4,126.5" fill="#00fa86"/>
<path d="M666.6,166.0 669.5,164.4 667.4,161.8 664.5,163.4" fill="#1414ff"/>
<path d="M606.9,143.5 609.8,142.2 607.7,140.4 604.8,141.6" fill="#07e9ff"/>
<path d="M596.8,141.1 599.7,139.9 597.5,138.0 594.6,139.2" fill="#04ffff"/>
<path d="M586.6,138.6 589.5,137.4 587.4,135.6 584.5,136.7" fill="#01ffea"/>
<path d="M633.3,150.3 636.2,148.9 634.0,146.9 631.1,148.3" fill="#11a9ff"/>
<path d="M511.6,103.1 514.6,102.6 512.5,99.8 509.5,100.4" fill="#62f300"/>
<path d="M536.6,120.7 539.6,119.9 537.5,117.7 534.5,118.5" fill="#00f83c"/>
<path d="M651.2,156.9 654.1,155.4 652.0,153.1 649.1,154.6" fill="#1668ff"/>
<path d="M668.3,168.1 671.2,166.5 669.1,163.8 666.2,165.4" fill="#1212ff"/>
<path d="M560.4,130.9 563.3,129.9 561.2,128.0 558.3,128.9" fill="#00fa9a"/>
<path d="M576.5,135.9 579.4,134.9 577.3,133.0 574.3,134.1" fill="#00fdcd"/>
<path d="M639.3,152.4 642.2,150.9 640.0,148.9 637.1,150.3" fill="#1397ff"/>
<path d="M645.3,154.6 648.2,153.1 646.0,150.9 643.1,152.4" fill="#1581ff"/>
<path d="M658.9,161.2 661.8,159.6 659.7,157.3 656.8,158.8" fill="#163cff"/>
<path d="M623.1,147.8 626.0,146.4 623.9,144.5 620.9,145.8" fill="#0dc4ff"/>
<path d="M513.4,105.2 516.3,104.6 514.3,101.9 511.3,102.5" fill="#52f400"/>
<path d="M523.0,112.7 525.9,112.1 523.8,109.6 520.9,110.3" fill="#0ff600"/>
<path d="M566.3,133.1 569.3,132.1 567.2,130.2 564.2,131.2" fill="#00fbad"/>
<path d="M612.9,145.4 615.8,144.1 613.7,142.2 610.8,143.5" fill="#0adcff"/>
<path d="M530.7,117.7 533.6,117.0 531.5,114.7 528.6,115.4" fill="#00f71e"/>
<path d="M602.7,142.9 605.7,141.7 603.5,139.9 600.6,141.1" fill="#06f2ff"/>
<path d="M592.6,140.5 595.5,139.3 593.4,137.5 590.4,138.7" fill="#03fffb"/>
<path d="M582.4,137.9 585.4,136.9 583.2,135.0 580.3,136.1" fill="#00ffdd"/>
<path d="M629.1,149.8 632.0,148.4 629.9,146.4 626.9,147.8" fill="#10b4ff"/>
<path d="M660.7,163.2 663.6,161.6 661.5,159.1 658.6,160.7" fill="#152bff"/>
<path d="M653.0,158.7 655.9,157.1 653.8,154.9 650.9,156.4" fill="#165bff"/>
<path d="M544.3,125.0 547.3,124.2 545.2,122.1 542.3,122.9" fill="#00f85d"/>
<path d="M572.3,135.2 575.2,134.2 573.1,132.3 570.2,133.3" fill="#00fcbf"/>
<path d="M550.3,127.6 553.2,126.7 551.1,124.7 548.2,125.5" fill="#00f975"/>
<path d="M515.2,107.3 518.1,106.7 516.0,104.0 513.1,104.6" fill="#43f400"/>
<path d="M635.1,151.8 638.0,150.4 635.8,148.4 632.9,149.8" fill="#12a2ff"/>
<path d="M618.9,147.3 621.8,145.9 619.7,144.0 616.8,145.4" fill="#0cceff"/>
<path d="M647.1,156.3 650.0,154.8 647.8,152.6 644.9,154.1" fill="#1576ff"/>
<path d="M641.1,154.0 644.0,152.5 641.8,150.4 638.9,151.9" fill="#148eff"/>
<path d="M556.2,130.0 559.2,129.1 557.1,127.1 554.1,128.0" fill="#00f98b"/>
<path d="M538.4,122.3 541.4,121.6 539.3,119.4 536.3,120.1" fill="#00f743"/>
<path d="M662.4,165.2 665.4,163.6 663.2,161.1 660.3,162.6" fill="#1419ff"/>
<path d="M608.7,144.8 611.7,143.6 609.5,141.7 606.6,143.0" fill="#08e6ff"/>
<path d="M598.6,142.4 601.5,141.2 599.3,139.4 596.4,140.6" fill="#05fcff"/>
<path d="M524.7,114.6 527.7,113.9 525.6,111.5 522.7,112.1" fill="#04f600"/>
<path d="M588.4,139.9 591.3,138.8 589.2,136.9 586.3,138.1" fill="#02ffee"/>
<path d="M654.8,160.5 657.7,159.0 655.6,156.6 652.7,158.2" fill="#164dff"/>
<path d="M562.2,132.3 565.1,131.3 563.0,129.4 560.1,130.3" fill="#00fa9f"/>
<path d="M664.2,167.2 667.1,165.6 665.0,163.0 662.1,164.6" fill="#1313ff"/>
<path d="M624.9,149.3 627.8,147.9 625.7,145.9 622.8,147.3" fill="#0fbfff"/>
<path d="M578.3,137.3 581.2,136.2 579.1,134.4 576.1,135.4" fill="#00fed0"/>
<path d="M532.5,119.4 535.4,118.7 533.3,116.5 530.4,117.2" fill="#00f727"/>
<path d="M500.2,92.0 503.1,91.5 501.0,88.3 498.1,88.8" fill="#caec00"/>
<path d="M502.0,94.4 504.9,93.9 502.8,90.8 499.9,91.3" fill="#b6ee00"/>
<path d="M517.0,109.2 519.9,108.7 517.8,106.1 514.9,106.7" fill="#35f400"/>
<path d="M498.4,89.5 501.3,89.0 499.2,85.7 496.2,86.2" fill="#dfea00"/>
<path d="M665.9,169.4 668.8,167.7 666.7,165.1 663.8,166.7" fill="#1212ff"/>
<path d="M503.8,96.8 506.7,96.2 504.6,93.2 501.7,93.8" fill="#a3ef00"/>
<path d="M614.7,146.8 617.7,145.5 615.5,143.6 612.6,144.9" fill="#0bd8ff"/>
<path d="M630.9,151.3 633.8,149.9 631.7,147.9 628.8,149.3" fill="#11aeff"/>
<path d="M648.8,158.0 651.8,156.5 649.6,154.3 646.7,155.8" fill="#156aff"/>
<path d="M568.1,134.5 571.1,133.5 569.0,131.6 566.0,132.6" fill="#00fbb1"/>
<path d="M604.6,144.3 607.5,143.1 605.3,141.2 602.4,142.5" fill="#07efff"/>
<path d="M505.6,99.0 508.5,98.5 506.4,95.6 503.5,96.1" fill="#90f000"/>
<path d="M656.6,162.4 659.5,160.8 657.3,158.4 654.4,160.0" fill="#153dff"/>
<path d="M594.4,141.9 597.3,140.7 595.2,138.8 592.2,140.0" fill="#04ffff"/>
<path d="M636.9,153.4 639.8,152.0 637.7,149.9 634.7,151.3" fill="#139aff"/>
<path d="M642.9,155.7 645.8,154.2 643.6,152.0 640.7,153.5" fill="#1484ff"/>
<path d="M584.2,139.3 587.2,138.2 585.0,136.4 582.1,137.4" fill="#00ffe1"/>
<path d="M526.5,116.4 529.5,115.7 527.4,113.3 524.4,114.0" fill="#00f607"/>
<path d="M546.1,126.6 549.1,125.7 547.0,123.7 544.0,124.5" fill="#00f863"/>
<path d="M507.4,101.3 510.3,100.7 508.2,97.9 505.3,98.4" fill="#7ff100"/>
<path d="M552.1,129.1 555.0,128.2 552.9,126.2 550.0,127.0" fill="#00f97a"/>
<path d="M540.2,123.9 543.1,123.1 541.0,121.0 538.1,121.8" fill="#00f74b"/>
<path d="M620.7,148.7 623.7,147.4 621.5,145.5 618.6,146.8" fill="#0dc9ff"/>
<path d="M518.8,111.2 521.7,110.6 519.6,108.1 516.7,108.7" fill="#28f400"/>
<path d="M574.1,136.6 577.0,135.6 574.9,133.7 572.0,134.7" fill="#00fdc3"/>
<path d="M558.0,131.4 561.0,130.5 558.9,128.6 555.9,129.5" fill="#00f98f"/>
<path d="M658.3,164.4 661.2,162.8 659.1,160.3 656.2,161.9" fill="#152cff"/>
<path d="M610.6,146.3 613.5,145.0 611.3,143.1 608.4,144.4" fill="#0ae2ff"/>
<path d="M650.6,159.8 653.5,158.3 651.4,156.0 648.5,157.5" fill="#165dff"/>
<path d="M534.2,121.1 537.2,120.4 535.1,118.2 532.2,118.9" fill="#00f62f"/>
<path d="M509.2,103.4 512.1,102.9 510.0,100.1 507.1,100.6" fill="#6ff100"/>
<path d="M600.4,143.8 603.3,142.6 601.1,140.7 598.2,141.9" fill="#06f9ff"/>
<path d="M626.7,150.8 629.6,149.4 627.5,147.4 624.6,148.8" fill="#10b9ff"/>
<path d="M590.2,141.3 593.1,140.1 591.0,138.3 588.1,139.4" fill="#02fff3"/>
<path d="M564.0,133.7 566.9,132.7 564.8,130.8 561.9,131.8" fill="#00faa3"/>
<path d="M660.1,166.4 663.0,164.8 660.9,162.3 658.0,163.8" fill="#1419ff"/>
<path d="M644.7,157.4 647.6,155.9 645.4,153.7 642.5,155.2" fill="#1579ff"/>
<path d="M632.7,152.9 635.6,151.4 633.5,149.4 630.6,150.8" fill="#12a6ff"/>
<path d="M580.1,138.7 583.0,137.6 580.9,135.7 577.9,136.8" fill="#00fed4"/>
<path d="M638.7,155.1 641.6,153.6 639.5,151.5 636.6,152.9" fill="#1491ff"/>
<path d="M616.6,148.2 619.5,146.9 617.3,145.0 614.4,146.3" fill="#0cd4ff"/>
<path d="M520.6,113.1 523.5,112.4 521.4,110.0 518.5,110.6" fill="#1cf400"/>
<path d="M511.0,105.5 513.9,105.0 511.8,102.3 508.9,102.8" fill="#5ff200"/>
<path d="M528.3,118.1 531.2,117.4 529.2,115.1 526.2,115.8" fill="#00f511"/>
<path d="M661.8,168.5 664.7,166.9 662.6,164.3 659.7,165.9" fill="#1313ff"/>
<path d="M652.4,161.7 655.3,160.1 653.2,157.8 650.3,159.3" fill="#164fff"/>
<path d="M569.9,135.9 572.9,134.9 570.7,133.0 567.8,134.0" fill="#00fcb5"/>
<path d="M606.4,145.7 609.3,144.5 607.1,142.6 604.2,143.8" fill="#08ecff"/>
<path d="M663.5,170.7 666.4,169.0 664.4,166.3 661.5,168.0" fill="#1111ff"/>
<path d="M596.2,143.2 599.1,142.0 597.0,140.2 594.1,141.4" fill="#04ffff"/>
<path d="M547.9,128.1 550.9,127.2 548.8,125.2 545.8,126.0" fill="#00f869"/>
<path d="M542.0,125.5 544.9,124.7 542.8,122.6 539.9,123.4" fill="#00f751"/>
<path d="M622.6,150.2 625.5,148.9 623.3,146.9 620.4,148.2" fill="#0fc4ff"/>
<path d="M553.9,130.5 556.8,129.7 554.7,127.7 551.8,128.5" fill="#00f97f"/>
<path d="M586.0,140.7 589.0,139.5 586.8,137.7 583.9,138.8" fill="#01ffe6"/>
<path d="M512.8,107.6 515.7,107.0 513.6,104.4 510.7,104.9" fill="#50f200"/>
<path d="M646.5,159.2 649.4,157.6 647.2,155.4 644.3,156.9" fill="#156dff"/>
<path d="M536.0,122.7 539.0,122.0 536.9,119.8 533.9,120.5" fill="#00f637"/>
<path d="M654.2,163.6 657.1,162.0 655.0,159.6 652.1,161.2" fill="#153fff"/>
<path d="M628.5,152.3 631.5,150.9 629.3,148.9 626.4,150.3" fill="#11b2ff"/>
<path d="M575.9,138.0 578.8,136.9 576.7,135.1 573.8,136.1" fill="#00fdc7"/>
<path d="M612.4,147.7 615.3,146.4 613.1,144.5 610.2,145.8" fill="#0bdeff"/>
<path d="M559.8,132.9 562.7,131.9 560.6,130.0 557.7,130.9" fill="#00f994"/>
<path d="M522.3,114.9 525.3,114.3 523.2,111.9 520.2,112.5" fill="#11f400"/>
<path d="M640.5,156.8 643.4,155.3 641.3,153.1 638.4,154.6" fill="#1487ff"/>
<path d="M634.5,154.5 637.4,153.0 635.3,151.0 632.4,152.4" fill="#139eff"/>
<path d="M602.2,145.2 605.1,143.9 603.0,142.1 600.0,143.3" fill="#07f6ff"/>
<path d="M530.1,119.8 533.0,119.1 530.9,116.9 528.0,117.5" fill="#00f51a"/>
<path d="M592.0,142.6 594.9,141.5 592.8,139.6 589.9,140.8" fill="#03fff7"/>
<path d="M655.9,165.6 658.8,164.0 656.7,161.5 653.8,163.1" fill="#152dff"/>
<path d="M565.8,135.1 568.7,134.1 566.6,132.2 563.7,133.2" fill="#00fba7"/>
<path d="M497.7,92.2 500.7,91.7 498.6,88.6 495.6,89.1" fill="#d6eb00"/>
<path d="M514.6,109.6 517.5,109.0 515.4,106.4 512.5,107.0" fill="#43f300"/>
<path d="M499.6,94.7 502.5,94.2 500.4,91.1 497.4,91.6" fill="#c2ec00"/>
<path d="M618.4,149.7 621.3,148.4 619.1,146.4 616.2,147.7" fill="#0dcfff"/>
<path d="M495.9,89.7 498.9,89.3 496.7,86.0 493.8,86.5" fill="#e9e700"/>
<path d="M648.3,161.0 651.2,159.5 649.0,157.1 646.1,158.6" fill="#155fff"/>
<path d="M581.9,140.0 584.8,138.9 582.7,137.1 579.7,138.2" fill="#00ffd8"/>
<path d="M501.4,97.0 504.3,96.5 502.2,93.5 499.3,94.0" fill="#afed00"/>
<path d="M657.7,167.6 660.6,166.0 658.5,163.5 655.6,165.1" fill="#141aff"/>
<path d="M608.2,147.1 611.1,145.9 608.9,144.0 606.0,145.2" fill="#09e8ff"/>
<path d="M503.2,99.3 506.1,98.8 504.0,95.9 501.1,96.4" fill="#9dee00"/>
<path d="M624.4,151.8 627.3,150.4 625.1,148.4 622.2,149.7" fill="#10beff"/>
<path d="M543.7,127.0 546.7,126.2 544.6,124.2 541.7,124.9" fill="#00f757"/>
<path d="M571.7,137.3 574.7,136.2 572.5,134.4 569.6,135.4" fill="#00fcb9"/>
<path d="M549.7,129.6 552.6,128.7 550.5,126.7 547.6,127.5" fill="#00f86e"/>
<path d="M642.3,158.5 645.2,157.0 643.1,154.8 640.2,156.3" fill="#157cff"/>
<path d="M524.1,116.7 527.1,116.1 525.0,113.7 522.0,114.3" fill="#06f400"/>
<path d="M598.0,144.6 600.9,143.4 598.8,141.5 595.9,142.7" fill="#06ffff"/>
<path d="M537.8,124.3 540.7,123.6 538.7,121.4 535.7,122.2" fill="#00f63e"/>
<path d="M630.4,153.9 633.3,152.5 631.1,150.4 628.2,151.8" fill="#12abff"/>
<path d="M659.4,169.8 662.3,168.1 660.2,165.5 657.3,167.1" fill="#1212ff"/>
<path d="M636.3,156.1 639.2,154.7 637.1,152.5 634.2,154.0" fill="#1495ff"/>
<path d="M555.6,132.0 558.6,131.1 556.5,129.1 553.5,130.0" fill="#00f984"/>
<path d="M505.0,101.5 507.9,101.0 505.8,98.2 502.9,98.7" fill="#8cef00"/>
<path d="M516.4,111.5 519.3,110.9 517.2,108.4 514.3,109.0" fill="#36f300"/>
<path d="M650.0,162.9 652.9,161.3 650.8,158.9 647.9,160.5" fill="#1551ff"/>
<path d="M587.8,142.0 590.8,140.9 588.6,139.0 585.7,140.2" fill="#02ffea"/>
<path d="M661.2,171.9 664.1,170.3 662.0,167.6 659.1,169.2" fill="#1111ff"/>
<path d="M614.2,149.1 617.1,147.8 614.9,145.9 612.0,147.2" fill="#0cd9ff"/>
<path d="M531.8,121.5 534.8,120.8 532.7,118.6 529.8,119.2" fill="#00f522"/>
<path d="M561.6,134.3 564.5,133.4 562.4,131.4 559.5,132.3" fill="#00fa98"/>
<path d="M577.7,139.3 580.6,138.3 578.5,136.4 575.6,137.5" fill="#00fecb"/>
<path d="M506.8,103.7 509.7,103.2 507.6,100.4 504.7,100.9" fill="#7cf000"/>
<path d="M604.0,146.6 606.9,145.3 604.8,143.5 601.9,144.7" fill="#08f2ff"/>
<path d="M620.2,151.2 623.1,149.9 620.9,147.9 618.0,149.2" fill="#0ec9ff"/>
<path d="M644.1,160.3 647.0,158.8 644.9,156.5 642.0,158.0" fill="#1570ff"/>
<path d="M651.8,164.8 654.7,163.2 652.6,160.8 649.7,162.3" fill="#1540ff"/>
<path d="M593.8,144.0 596.8,142.9 594.6,141.0 591.7,142.1" fill="#04fffc"/>
<path d="M567.6,136.5 570.5,135.5 568.4,133.6 565.4,134.6" fill="#00fbab"/>
<path d="M518.1,113.4 521.1,112.8 519.0,110.3 516.1,110.9" fill="#2af300"/>
<path d="M525.9,118.5 528.8,117.8 526.8,115.5 523.8,116.1" fill="#00f403"/>
<path d="M626.2,153.3 629.1,151.9 626.9,149.9 624.0,151.3" fill="#11b7ff"/>
<path d="M638.1,157.9 641.0,156.4 638.9,154.2 636.0,155.6" fill="#148aff"/>
<path d="M508.6,105.8 511.5,105.3 509.4,102.5 506.5,103.1" fill="#6cf000"/>
<path d="M583.7,141.4 586.6,140.3 584.5,138.4 581.5,139.5" fill="#01ffdd"/>
<path d="M632.2,155.5 635.1,154.1 632.9,152.0 630.0,153.4" fill="#13a2ff"/>
<path d="M610.0,148.6 612.9,147.3 610.8,145.4 607.8,146.6" fill="#0be4ff"/>
<path d="M545.5,128.6 548.5,127.7 546.4,125.7 543.4,126.5" fill="#00f75d"/>
<path d="M653.6,166.8 656.5,165.2 654.3,162.7 651.4,164.3" fill="#142eff"/>
<path d="M539.6,125.9 542.5,125.2 540.4,123.0 537.5,123.8" fill="#00f645"/>
<path d="M551.5,131.0 554.4,130.2 552.3,128.2 549.4,129.0" fill="#00f873"/>
<path d="M573.5,138.6 576.5,137.6 574.3,135.7 571.4,136.7" fill="#00fdbd"/>
<path d="M599.8,146.0 602.7,144.8 600.6,142.9 597.7,144.1" fill="#07fdff"/>
<path d="M645.9,162.1 648.8,160.6 646.6,158.3 643.7,159.8" fill="#1562ff"/>
<path d="M533.6,123.1 536.6,122.4 534.5,120.2 531.5,120.9" fill="#00f52a"/>
<path d="M557.4,133.4 560.4,132.5 558.3,130.6 555.3,131.5" fill="#00f988"/>
<path d="M655.3,168.9 658.2,167.3 656.1,164.7 653.2,166.3" fill="#131bff"/>
<path d="M616.0,150.6 618.9,149.3 616.8,147.3 613.8,148.7" fill="#0dd4ff"/>
<path d="M510.4,107.8 513.3,107.3 511.2,104.6 508.3,105.2" fill="#5ef100"/>
<path d="M589.7,143.4 592.6,142.3 590.4,140.4 587.5,141.5" fill="#03ffef"/>
<path d="M657.0,171.0 660.0,169.4 657.9,166.8 655.0,168.3" fill="#1212ff"/>
<path d="M519.9,115.2 522.9,114.6 520.8,112.2 517.8,112.8" fill="#1ef300"/>
<path d="M639.9,159.6 642.8,158.1 640.7,155.9 637.8,157.3" fill="#157fff"/>
<path d="M563.4,135.7 566.3,134.8 564.2,132.8 561.3,133.8" fill="#00fa9c"/>
<path d="M622.0,152.7 624.9,151.4 622.7,149.4 619.8,150.7" fill="#10c2ff"/>
<path d="M579.5,140.7 582.4,139.7 580.3,137.8 577.4,138.8" fill="#00fecf"/>
<path d="M658.8,173.2 661.7,171.6 659.6,168.9 656.7,170.5" fill="#1010ff"/>
<path d="M605.8,148.0 608.7,146.8 606.6,144.8 603.7,146.1" fill="#09eeff"/>
<path d="M527.7,120.2 530.6,119.5 528.5,117.2 525.6,117.9" fill="#00f40c"/>
<path d="M647.6,164.0 650.6,162.5 648.4,160.1 645.5,161.6" fill="#1552ff"/>
<path d="M634.0,157.2 636.9,155.8 634.7,153.6 631.8,155.0" fill="#1398ff"/>
<path d="M628.0,154.9 630.9,153.5 628.7,151.4 625.8,152.8" fill="#12afff"/>
<path d="M512.2,109.8 515.1,109.3 513.0,106.7 510.1,107.2" fill="#50f100"/>
<path d="M495.3,92.4 498.2,92.0 496.1,88.8 493.2,89.3" fill="#e2e900"/>
<path d="M595.6,145.4 598.6,144.2 596.4,142.4 593.5,143.5" fill="#05ffff"/>
<path d="M497.1,94.9 500.1,94.4 497.9,91.3 495.0,91.8" fill="#cfeb00"/>
<path d="M493.5,89.9 496.4,89.5 494.3,86.3 491.3,86.7" fill="#e8d800"/>
<path d="M569.3,137.9 572.3,136.9 570.2,135.0 567.2,136.0" fill="#00fbaf"/>
<path d="M498.9,97.2 501.9,96.8 499.8,93.8 496.8,94.2" fill="#bcec00"/>
<path d="M611.8,150.1 614.7,148.8 612.6,146.8 609.7,148.1" fill="#0cdfff"/>
<path d="M547.3,130.1 550.3,129.2 548.2,127.2 545.2,128.0" fill="#00f762"/>
<path d="M541.4,127.5 544.3,126.7 542.2,124.6 539.3,125.4" fill="#00f64b"/>
<path d="M585.5,142.8 588.4,141.7 586.3,139.8 583.3,140.9" fill="#02ffe1"/>
<path d="M649.4,166.0 652.3,164.4 650.2,162.0 647.3,163.5" fill="#1542ff"/>
<path d="M641.7,161.4 644.6,159.9 642.5,157.6 639.6,159.1" fill="#1572ff"/>
<path d="M500.7,99.5 503.7,99.1 501.6,96.1 498.6,96.6" fill="#aaed00"/>
<path d="M553.3,132.5 556.2,131.6 554.1,129.7 551.2,130.5" fill="#00f878"/>
<path d="M535.4,124.8 538.4,124.0 536.3,121.9 533.3,122.6" fill="#00f531"/>
<path d="M521.7,117.0 524.7,116.4 522.6,114.0 519.6,114.6" fill="#14f300"/>
<path d="M617.8,152.2 620.7,150.8 618.6,148.8 615.7,150.1" fill="#0eceff"/>
<path d="M601.6,147.4 604.6,146.2 602.4,144.3 599.5,145.5" fill="#08f9ff"/>
<path d="M575.3,140.0 578.3,139.0 576.1,137.1 573.2,138.1" fill="#00fdc1"/>
<path d="M559.2,134.9 562.2,133.9 560.1,132.0 557.1,132.9" fill="#00f98d"/>
<path d="M635.8,158.9 638.7,157.5 636.5,155.3 633.6,156.7" fill="#148eff"/>
<path d="M502.5,101.8 505.5,101.3 503.4,98.4 500.4,98.9" fill="#99ee00"/>
<path d="M513.9,111.8 516.9,111.2 514.8,108.7 511.9,109.2" fill="#43f100"/>
<path d="M651.2,168.0 654.1,166.5 652.0,163.9 649.1,165.5" fill="#1430ff"/>
<path d="M623.8,154.3 626.7,152.9 624.6,150.9 621.6,152.2" fill="#11bbff"/>
<path d="M629.8,156.6 632.7,155.2 630.5,153.0 627.6,154.4" fill="#13a6ff"/>
<path d="M529.4,121.9 532.4,121.2 530.3,119.0 527.4,119.6" fill="#00f415"/>
<path d="M591.5,144.8 594.4,143.7 592.2,141.8 589.3,142.9" fill="#04fff4"/>
<path d="M607.6,149.5 610.6,148.2 608.4,146.3 605.5,147.5" fill="#0aeaff"/>
<path d="M643.5,163.3 646.4,161.8 644.3,159.4 641.4,160.9" fill="#1564ff"/>
<path d="M565.2,137.1 568.1,136.2 566.0,134.2 563.1,135.2" fill="#00faa0"/>
<path d="M652.9,170.1 655.8,168.5 653.7,165.9 650.8,167.5" fill="#131cff"/>
<path d="M504.3,103.9 507.3,103.4 505.2,100.6 502.2,101.1" fill="#89ee00"/>
<path d="M581.3,142.1 584.2,141.0 582.1,139.2 579.2,140.2" fill="#00ffd4"/>
<path d="M654.7,172.3 657.6,170.7 655.5,168.0 652.6,169.6" fill="#1111ff"/>
<path d="M597.5,146.8 600.4,145.6 598.2,143.7 595.3,144.9" fill="#06ffff"/>
<path d="M613.6,151.6 616.5,150.3 614.4,148.3 611.5,149.6" fill="#0dd9ff"/>
<path d="M656.4,174.5 659.3,172.9 657.2,170.1 654.3,171.7" fill="#1010ff"/>
<path d="M523.5,118.8 526.4,118.2 524.4,115.8 521.4,116.5" fill="#0af300"/>
<path d="M515.7,113.7 518.7,113.1 516.6,110.6 513.6,111.2" fill="#37f100"/>
<path d="M637.6,160.7 640.5,159.2 638.3,157.0 635.4,158.4" fill="#1582ff"/>
<path d="M571.1,139.3 574.1,138.3 572.0,136.4 569.0,137.4" fill="#00fcb3"/>
<path d="M543.1,129.0 546.1,128.2 544.0,126.2 541.0,126.9" fill="#00f551"/>
<path d="M549.1,131.5 552.0,130.7 550.0,128.7 547.0,129.5" fill="#00f768"/>
<path d="M506.1,106.0 509.1,105.5 507.0,102.8 504.0,103.3" fill="#7aef00"/>
<path d="M645.3,165.2 648.2,163.7 646.1,161.3 643.1,162.8" fill="#1554ff"/>
<path d="M537.2,126.3 540.1,125.6 538.1,123.5 535.1,124.2" fill="#00f438"/>
<path d="M619.6,153.7 622.5,152.4 620.4,150.3 617.5,151.7" fill="#0fc7ff"/>
<path d="M587.3,144.2 590.2,143.0 588.1,141.2 585.1,142.3" fill="#03ffe6"/>
<path d="M631.6,158.3 634.5,156.8 632.3,154.7 629.4,156.1" fill="#139cff"/>
<path d="M555.0,134.0 558.0,133.1 555.9,131.1 552.9,132.0" fill="#00f87d"/>
<path d="M625.6,156.0 628.5,154.6 626.4,152.4 623.5,153.8" fill="#12b3ff"/>
<path d="M603.4,148.9 606.4,147.7 604.2,145.7 601.3,146.9" fill="#09f5ff"/>
<path d="M531.2,123.5 534.2,122.8 532.1,120.6 529.1,121.3" fill="#00f31d"/>
<path d="M577.1,141.4 580.1,140.4 577.9,138.5 575.0,139.5" fill="#00fec6"/>
<path d="M561.0,136.3 564.0,135.4 561.8,133.4 558.9,134.3" fill="#00f991"/>
<path d="M647.0,167.2 649.9,165.6 647.8,163.2 644.9,164.7" fill="#1443ff"/>
<path d="M507.9,108.1 510.9,107.6 508.8,104.9 505.8,105.4" fill="#6bef00"/>
<path d="M593.3,146.2 596.2,145.1 594.1,143.2 591.1,144.3" fill="#05fffa"/>
<path d="M639.3,162.5 642.2,161.1 640.1,158.7 637.2,160.2" fill="#1575ff"/>
<path d="M609.4,151.0 612.4,149.7 610.2,147.7 607.3,149.0" fill="#0ce5ff"/>
<path d="M517.5,115.5 520.5,114.9 518.4,112.5 515.4,113.1" fill="#2cf100"/>
<path d="M525.3,120.5 528.2,119.9 526.1,117.6 523.2,118.2" fill="#01f200"/>
<path d="M567.0,138.5 569.9,137.5 567.8,135.6 564.9,136.6" fill="#00fba4"/>
<path d="M648.8,169.2 651.7,167.7 649.6,165.1 646.7,166.7" fill="#1331ff"/>
<path d="M583.1,143.5 586.0,142.4 583.9,140.5 581.0,141.6" fill="#01ffd8"/>
<path d="M615.4,153.1 618.4,151.8 616.2,149.8 613.3,151.1" fill="#0ed3ff"/>
<path d="M633.4,160.0 636.3,158.6 634.1,156.3 631.2,157.8" fill="#1491ff"/>
<path d="M599.3,148.3 602.2,147.1 600.0,145.1 597.1,146.3" fill="#08ffff"/>
<path d="M621.4,155.3 624.3,154.0 622.2,151.9 619.3,153.2" fill="#10c0ff"/>
<path d="M627.4,157.6 630.3,156.2 628.2,154.1 625.3,155.4" fill="#12aaff"/>
<path d="M509.7,110.1 512.7,109.6 510.6,107.0 507.6,107.5" fill="#5eef00"/>
<path d="M492.8,92.6 495.8,92.2 493.7,89.1 490.7,89.5" fill="#e8e000"/>
<path d="M650.5,171.3 653.5,169.8 651.3,167.1 648.4,168.7" fill="#121dff"/>
<path d="M544.9,130.5 547.9,129.7 545.8,127.7 542.8,128.5" fill="#00f556"/>
<path d="M494.7,95.1 497.6,94.6 495.5,91.6 492.5,92.0" fill="#dce900"/>
<path d="M539.0,127.9 541.9,127.2 539.8,125.1 536.9,125.8" fill="#00f43e"/>
<path d="M491.0,90.1 494.0,89.7 491.8,86.5 488.9,86.9" fill="#e6c900"/>
<path d="M641.1,164.4 644.0,162.9 641.9,160.5 639.0,162.0" fill="#1566ff"/>
<path d="M550.9,133.0 553.8,132.2 551.7,130.2 548.8,131.0" fill="#00f76c"/>
<path d="M572.9,140.7 575.9,139.7 573.8,137.8 570.8,138.8" fill="#00fdb7"/>
<path d="M496.5,97.4 499.4,97.0 497.3,94.0 494.4,94.4" fill="#c9ea00"/>
<path d="M652.3,173.5 655.2,171.9 653.1,169.2 650.2,170.8" fill="#1111ff"/>
<path d="M589.1,145.6 592.0,144.4 589.9,142.5 586.9,143.7" fill="#04ffec"/>
<path d="M533.0,125.1 536.0,124.4 533.9,122.3 530.9,123.0" fill="#00f324"/>
<path d="M654.0,175.8 656.9,174.2 654.8,171.4 651.9,173.0" fill="#0f0fff"/>
<path d="M605.3,150.4 608.2,149.1 606.0,147.2 603.1,148.4" fill="#0af0ff"/>
<path d="M556.8,135.4 559.8,134.5 557.7,132.6 554.7,133.4" fill="#00f881"/>
<path d="M498.3,99.7 501.3,99.3 499.1,96.4 496.2,96.8" fill="#b7eb00"/>
<path d="M519.3,117.3 522.3,116.7 520.2,114.4 517.2,114.9" fill="#21f100"/>
<path d="M635.2,161.8 638.1,160.3 635.9,158.1 633.0,159.5" fill="#1485ff"/>
<path d="M642.9,166.4 645.8,164.8 643.7,162.4 640.8,163.9" fill="#1456ff"/>
<path d="M578.9,142.8 581.9,141.8 579.7,139.9 576.8,140.9" fill="#00ffca"/>
<path d="M511.5,112.0 514.5,111.5 512.4,109.0 509.4,109.5" fill="#51f000"/>
<path d="M611.3,152.5 614.2,151.2 612.0,149.2 609.1,150.5" fill="#0ddfff"/>
<path d="M562.8,137.7 565.7,136.8 563.6,134.8 560.7,135.8" fill="#00fa95"/>
<path d="M500.1,102.0 503.1,101.5 501.0,98.7 498.0,99.1" fill="#a6ec00"/>
<path d="M527.0,122.2 530.0,121.6 527.9,119.3 525.0,120.0" fill="#00f207"/>
<path d="M595.1,147.7 598.0,146.5 595.9,144.6 592.9,145.7" fill="#06ffff"/>
<path d="M629.2,159.3 632.1,157.9 630.0,155.7 627.1,157.1" fill="#13a0ff"/>
<path d="M617.2,154.7 620.2,153.4 618.0,151.3 615.1,152.6" fill="#0fccff"/>
<path d="M623.2,157.0 626.1,155.6 624.0,153.5 621.1,154.8" fill="#11b7ff"/>
<path d="M644.7,168.4 647.6,166.8 645.4,164.3 642.5,165.8" fill="#1445ff"/>
<path d="M568.8,139.9 571.7,138.9 569.6,137.0 566.7,138.0" fill="#00fba9"/>
<path d="M501.9,104.1 504.9,103.7 502.8,100.9 499.8,101.3" fill="#96ed00"/>
<path d="M584.9,144.9 587.8,143.8 585.7,141.9 582.8,143.0" fill="#02ffde"/>
<path d="M601.1,149.8 604.0,148.5 601.8,146.6 598.9,147.8" fill="#09fbff"/>
<path d="M637.0,163.7 639.9,162.2 637.7,159.8 634.8,161.3" fill="#1477ff"/>
<path d="M540.7,129.5 543.7,128.7 541.6,126.6 538.7,127.4" fill="#00f444"/>
<path d="M546.7,132.0 549.7,131.2 547.6,129.2 544.6,130.0" fill="#00f55b"/>
<path d="M521.1,119.1 524.0,118.5 522.0,116.2 519.0,116.8" fill="#18f100"/>
<path d="M513.3,113.9 516.3,113.4 514.2,110.9 511.2,111.4" fill="#45f000"/>
<path d="M646.4,170.4 649.3,168.9 647.2,166.3 644.3,167.8" fill="#1332ff"/>
<path d="M534.8,126.7 537.7,126.0 535.7,123.9 532.7,124.6" fill="#00f32b"/>
<path d="M552.7,134.5 555.6,133.6 553.5,131.6 550.6,132.5" fill="#00f771"/>
<path d="M574.7,142.1 577.7,141.1 575.6,139.2 572.6,140.2" fill="#00fdbc"/>
<path d="M607.1,151.9 610.0,150.6 607.8,148.6 604.9,149.9" fill="#0bebff"/>
<path d="M503.7,106.2 506.7,105.8 504.6,103.0 501.6,103.5" fill="#87ed00"/>
<path d="M590.9,147.0 593.8,145.9 591.7,143.9 588.8,145.1" fill="#05fff2"/>
<path d="M631.0,161.1 633.9,159.7 631.8,157.4 628.9,158.8" fill="#1494ff"/>
<path d="M648.2,172.6 651.1,171.0 649.0,168.3 646.1,169.9" fill="#121dff"/>
<path d="M558.6,136.8 561.6,135.9 559.5,134.0 556.5,134.9" fill="#00f886"/>
<path d="M528.8,123.9 531.8,123.2 529.7,121.0 526.7,121.6" fill="#00f20f"/>
<path d="M613.1,154.1 616.0,152.7 613.8,150.7 610.9,152.0" fill="#0ed9ff"/>
<path d="M638.7,165.6 641.6,164.1 639.5,161.7 636.6,163.1" fill="#1468ff"/>
<path d="M649.9,174.8 652.8,173.2 650.7,170.5 647.8,172.0" fill="#1010ff"/>
<path d="M625.0,158.7 627.9,157.3 625.8,155.1 622.9,156.5" fill="#12aeff"/>
<path d="M619.1,156.3 622.0,155.0 619.8,152.8 616.9,154.2" fill="#10c4ff"/>
<path d="M651.6,177.0 654.5,175.4 652.5,172.6 649.5,174.2" fill="#0f0fff"/>
<path d="M580.7,144.2 583.7,143.2 581.5,141.2 578.6,142.3" fill="#01ffcf"/>
<path d="M596.9,149.1 599.8,147.9 597.7,146.0 594.7,147.2" fill="#07ffff"/>
<path d="M564.6,139.1 567.5,138.2 565.4,136.2 562.5,137.2" fill="#00fa9a"/>
<path d="M505.5,108.3 508.5,107.8 506.4,105.2 503.4,105.6" fill="#79ed00"/>
<path d="M515.1,115.8 518.1,115.2 516.0,112.8 513.0,113.3" fill="#3af000"/>
<path d="M522.8,120.8 525.8,120.2 523.7,117.9 520.8,118.5" fill="#0ff100"/>
<path d="M640.5,167.5 643.4,166.0 641.3,163.5 638.4,165.0" fill="#1458ff"/>
<path d="M602.9,151.3 605.8,150.0 603.7,148.0 600.7,149.3" fill="#0af6ff"/>
<path d="M632.8,162.9 635.7,161.5 633.6,159.1 630.7,160.6" fill="#1488ff"/>
<path d="M570.6,141.3 573.5,140.3 571.4,138.4 568.4,139.4" fill="#00fcad"/>
<path d="M586.7,146.4 589.6,145.2 587.5,143.3 584.6,144.4" fill="#03ffe3"/>
<path d="M542.5,131.0 545.5,130.2 543.4,128.2 540.4,128.9" fill="#00f44a"/>
<path d="M548.5,133.5 551.4,132.7 549.4,130.7 546.4,131.5" fill="#00f660"/>
<path d="M536.6,128.3 539.5,127.6 537.4,125.5 534.5,126.2" fill="#00f331"/>
<path d="M608.9,153.4 611.8,152.1 609.6,150.1 606.7,151.4" fill="#0de5ff"/>
<path d="M507.3,110.3 510.3,109.8 508.2,107.2 505.2,107.7" fill="#6cee00"/>
<path d="M626.8,160.4 629.7,159.0 627.6,156.7 624.7,158.1" fill="#13a3ff"/>
<path d="M490.4,92.8 493.3,92.4 491.2,89.3 488.3,89.6" fill="#e6d000"/>
<path d="M554.4,135.9 557.4,135.1 555.3,133.1 552.3,134.0" fill="#00f776"/>
<path d="M492.2,95.2 495.2,94.8 493.1,91.8 490.1,92.1" fill="#e7e600"/>
<path d="M642.3,169.6 645.2,168.0 643.1,165.5 640.2,167.0" fill="#1346ff"/>
<path d="M488.6,90.3 491.5,89.9 489.4,86.7 486.4,87.0" fill="#e4b900"/>
<path d="M614.9,155.7 617.8,154.3 615.6,152.2 612.7,153.6" fill="#0fd1ff"/>
<path d="M530.6,125.5 533.6,124.8 531.5,122.7 528.5,123.3" fill="#00f217"/>
<path d="M620.9,158.0 623.8,156.6 621.6,154.4 618.7,155.8" fill="#11bcff"/>
<path d="M576.5,143.5 579.5,142.5 577.4,140.6 574.4,141.6" fill="#00fec1"/>
<path d="M592.7,148.5 595.6,147.3 593.5,145.4 590.6,146.5" fill="#06fff8"/>
<path d="M494.0,97.6 497.0,97.2 494.9,94.2 491.9,94.6" fill="#d6e800"/>
<path d="M560.4,138.3 563.4,137.4 561.3,135.4 558.3,136.3" fill="#00f98a"/>
<path d="M634.6,164.8 637.5,163.3 635.4,160.9 632.4,162.4" fill="#147aff"/>
<path d="M516.9,117.6 519.8,117.1 517.8,114.7 514.8,115.2" fill="#2ff000"/>
<path d="M495.8,99.9 498.8,99.5 496.7,96.6 493.7,97.0" fill="#c5e900"/>
<path d="M644.0,171.6 646.9,170.1 644.8,167.5 641.9,169.0" fill="#1233ff"/>
<path d="M598.7,150.6 601.6,149.4 599.5,147.4 596.6,148.6" fill="#09ffff"/>
<path d="M524.6,122.5 527.6,121.9 525.5,119.7 522.5,120.3" fill="#06f100"/>
<path d="M582.5,145.7 585.5,144.6 583.3,142.6 580.4,143.7" fill="#02ffd5"/>
<path d="M509.1,112.3 512.1,111.8 510.0,109.2 507.0,109.7" fill="#5fee00"/>
<path d="M645.8,173.8 648.7,172.2 646.6,169.6 643.7,171.1" fill="#111eff"/>
<path d="M566.4,140.5 569.3,139.6 567.2,137.7 564.3,138.6" fill="#00fb9e"/>
<path d="M497.7,102.1 500.6,101.7 498.5,98.9 495.5,99.3" fill="#b4ea00"/>
<path d="M628.6,162.2 631.5,160.7 629.4,158.5 626.5,159.9" fill="#1398ff"/>
<path d="M647.5,176.0 650.4,174.4 648.3,171.7 645.4,173.3" fill="#1010ff"/>
<path d="M649.3,178.3 652.2,176.7 650.1,173.9 647.2,175.5" fill="#0e0eff"/>
<path d="M604.7,152.8 607.6,151.5 605.5,149.5 602.5,150.7" fill="#0bf1ff"/>
<path d="M636.4,166.7 639.3,165.2 637.1,162.8 634.2,164.3" fill="#146bff"/>
<path d="M588.5,147.8 591.5,146.7 589.3,144.7 586.4,145.8" fill="#04ffe9"/>
<path d="M622.7,159.7 625.6,158.3 623.4,156.1 620.5,157.5" fill="#12b2ff"/>
<path d="M610.7,155.0 613.6,153.7 611.5,151.6 608.5,152.9" fill="#0edeff"/>
<path d="M544.3,132.5 547.3,131.7 545.2,129.7 542.2,130.4" fill="#00f44f"/>
<path d="M572.4,142.8 575.3,141.7 573.2,139.8 570.2,140.8" fill="#00fdb2"/>
<path d="M538.3,129.9 541.3,129.1 539.2,127.0 536.3,127.8" fill="#00f337"/>
<path d="M499.5,104.3 502.4,103.9 500.3,101.1 497.4,101.5" fill="#a4eb00"/>
<path d="M616.7,157.3 619.6,155.9 617.4,153.8 614.5,155.2" fill="#10c9ff"/>
<path d="M550.3,135.0 553.2,134.2 551.1,132.2 548.2,133.0" fill="#00f665"/>
<path d="M518.6,119.4 521.6,118.8 519.5,116.5 516.6,117.0" fill="#26ef00"/>
<path d="M532.4,127.1 535.3,126.4 533.3,124.3 530.3,125.0" fill="#00f21e"/>
<path d="M556.2,137.4 559.2,136.5 557.1,134.5 554.1,135.4" fill="#00f77a"/>
<path d="M510.9,114.2 513.8,113.7 511.8,111.2 508.8,111.7" fill="#53ee00"/>
<path d="M638.1,168.7 641.0,167.2 638.9,164.7 636.0,166.2" fill="#145aff"/>
<path d="M594.5,149.9 597.4,148.8 595.3,146.8 592.4,148.0" fill="#07ffff"/>
<path d="M578.3,144.9 581.3,143.9 579.2,142.0 576.2,143.0" fill="#00ffc6"/>
<path d="M630.4,164.0 633.3,162.6 631.2,160.2 628.3,161.7" fill="#148bff"/>
<path d="M501.3,106.4 504.2,106.0 502.1,103.3 499.2,103.7" fill="#95eb00"/>
<path d="M526.4,124.2 529.4,123.6 527.3,121.4 524.3,122.0" fill="#00f102"/>
<path d="M562.2,139.7 565.2,138.8 563.0,136.8 560.1,137.8" fill="#00f98f"/>
<path d="M600.5,152.1 603.4,150.9 601.3,148.9 598.4,150.1" fill="#0afdff"/>
<path d="M639.9,170.7 642.8,169.2 640.7,166.7 637.8,168.2" fill="#1348ff"/>
<path d="M624.5,161.4 627.4,160.0 625.2,157.8 622.3,159.2" fill="#13a7ff"/>
<path d="M584.3,147.1 587.3,146.0 585.1,144.1 582.2,145.2" fill="#03ffdb"/>
<path d="M606.5,154.3 609.4,153.1 607.3,151.0 604.3,152.3" fill="#0ceaff"/>
<path d="M568.2,142.0 571.1,141.0 569.0,139.1 566.1,140.0" fill="#00fba3"/>
<path d="M618.5,159.0 621.4,157.6 619.2,155.4 616.3,156.8" fill="#11c0ff"/>
<path d="M612.5,156.6 615.4,155.3 613.3,153.2 610.3,154.5" fill="#0fd6ff"/>
<path d="M503.1,108.5 506.0,108.0 503.9,105.4 501.0,105.8" fill="#87ec00"/>
<path d="M641.7,172.8 644.6,171.3 642.4,168.7 639.5,170.2" fill="#1234ff"/>
<path d="M632.2,165.9 635.1,164.4 633.0,162.0 630.1,163.5" fill="#147dff"/>
<path d="M512.6,116.0 515.6,115.5 513.6,113.1 510.6,113.6" fill="#48ee00"/>
<path d="M520.4,121.1 523.4,120.6 521.3,118.2 518.3,118.8" fill="#1def00"/>
<path d="M590.3,149.3 593.3,148.1 591.1,146.1 588.2,147.3" fill="#05fff0"/>
<path d="M540.1,131.4 543.1,130.7 541.0,128.6 538.0,129.3" fill="#00f33d"/>
<path d="M643.4,175.0 646.3,173.5 644.2,170.8 641.3,172.3" fill="#111fff"/>
<path d="M546.1,134.0 549.0,133.2 547.0,131.2 544.0,132.0" fill="#00f554"/>
<path d="M574.2,144.2 577.1,143.2 575.0,141.2 572.0,142.3" fill="#00feb7"/>
<path d="M534.1,128.7 537.1,128.0 535.0,125.9 532.1,126.6" fill="#00f224"/>
<path d="M645.1,177.3 648.0,175.7 645.9,172.9 643.0,174.5" fill="#0f0fff"/>
<path d="M646.9,179.6 649.8,178.0 647.7,175.1 644.8,176.7" fill="#0d0dff"/>
<path d="M552.1,136.5 555.0,135.6 552.9,133.6 550.0,134.5" fill="#00f66a"/>
<path d="M596.3,151.4 599.2,150.2 597.1,148.3 594.2,149.4" fill="#08ffff"/>
<path d="M626.2,163.2 629.2,161.8 627.0,159.5 624.1,160.9" fill="#139bff"/>
<path d="M634.0,167.8 636.9,166.4 634.8,163.9 631.8,165.4" fill="#146dff"/>
<path d="M504.8,110.5 507.8,110.0 505.7,107.4 502.8,107.9" fill="#7aec00"/>
<path d="M558.0,138.8 561.0,137.9 558.9,136.0 555.9,136.9" fill="#00f87f"/>
<path d="M528.2,125.9 531.2,125.2 529.1,123.0 526.1,123.6" fill="#00f109"/>
<path d="M487.9,92.9 490.9,92.6 488.8,89.4 485.8,89.8" fill="#e4c000"/>
<path d="M580.1,146.4 583.1,145.3 581.0,143.4 578.0,144.4" fill="#01ffcb"/>
<path d="M489.7,95.4 492.7,95.0 490.6,91.9 487.6,92.3" fill="#e6d500"/>
<path d="M486.1,90.4 489.0,90.1 486.9,86.8 483.9,87.2" fill="#e3a900"/>
<path d="M602.3,153.7 605.2,152.4 603.1,150.4 600.2,151.6" fill="#0bf7ff"/>
<path d="M620.3,160.7 623.2,159.3 621.0,157.1 618.1,158.5" fill="#12b6ff"/>
<path d="M491.6,97.7 494.5,97.4 492.4,94.4 489.5,94.7" fill="#e4e700"/>
<path d="M564.0,141.2 566.9,140.2 564.8,138.3 561.9,139.2" fill="#00fa93"/>
<path d="M608.3,155.9 611.2,154.6 609.1,152.6 606.2,153.8" fill="#0ee3ff"/>
<path d="M514.4,117.9 517.4,117.3 515.3,114.9 512.4,115.4" fill="#3dee00"/>
<path d="M614.3,158.3 617.2,156.9 615.1,154.8 612.1,156.1" fill="#10ceff"/>
<path d="M635.7,169.8 638.7,168.3 636.5,165.8 633.6,167.3" fill="#135cff"/>
<path d="M493.4,100.0 496.4,99.7 494.3,96.7 491.3,97.1" fill="#d2e800"/>
<path d="M586.1,148.6 589.1,147.4 586.9,145.5 584.0,146.6" fill="#04ffe1"/>
<path d="M522.2,122.8 525.2,122.3 523.1,120.0 520.1,120.6" fill="#14ef00"/>
<path d="M628.0,165.1 630.9,163.6 628.8,161.3 625.9,162.7" fill="#138eff"/>
<path d="M570.0,143.4 572.9,142.4 570.8,140.5 567.9,141.5" fill="#00fca8"/>
<path d="M506.6,112.5 509.6,112.0 507.5,109.4 504.6,109.9" fill="#6dec00"/>
<path d="M495.2,102.3 498.2,101.9 496.1,99.0 493.1,99.4" fill="#c2e800"/>
<path d="M637.5,171.9 640.4,170.4 638.3,167.8 635.4,169.3" fill="#1249ff"/>
<path d="M592.1,150.8 595.1,149.6 592.9,147.6 590.0,148.8" fill="#07fff7"/>
<path d="M541.9,132.9 544.9,132.2 542.8,130.1 539.8,130.9" fill="#00f342"/>
<path d="M547.9,135.5 550.8,134.7 548.7,132.7 545.8,133.5" fill="#00f559"/>
<path d="M535.9,130.3 538.9,129.6 536.8,127.5 533.9,128.2" fill="#00f22a"/>
<path d="M576.0,145.6 578.9,144.6 576.8,142.6 573.8,143.7" fill="#00ffbc"/>
<path d="M622.1,162.5 625.0,161.1 622.8,158.8 619.9,160.2" fill="#12abff"/>
<path d="M553.8,137.9 556.8,137.1 554.7,135.1 551.7,135.9" fill="#00f76f"/>
<path d="M598.1,153.0 601.1,151.8 598.9,149.7 596.0,150.9" fill="#09ffff"/>
<path d="M639.3,174.0 642.2,172.5 640.1,169.9 637.2,171.4" fill="#1135ff"/>
<path d="M497.0,104.5 500.0,104.1 497.9,101.3 494.9,101.6" fill="#b2e900"/>
<path d="M530.0,127.5 532.9,126.8 530.9,124.7 527.9,125.3" fill="#00f110"/>
<path d="M629.8,167.0 632.7,165.5 630.6,163.1 627.7,164.6" fill="#137fff"/>
<path d="M516.2,119.6 519.2,119.1 517.1,116.7 514.1,117.3" fill="#34ee00"/>
<path d="M616.1,160.0 619.0,158.6 616.9,156.4 613.9,157.8" fill="#11c5ff"/>
<path d="M604.1,155.2 607.0,154.0 604.9,151.9 602.0,153.2" fill="#0cf0ff"/>
<path d="M641.0,176.2 643.9,174.7 641.8,172.0 638.9,173.5" fill="#101fff"/>
<path d="M559.8,140.3 562.8,139.4 560.7,137.4 557.7,138.3" fill="#00f984"/>
<path d="M610.1,157.6 613.0,156.3 610.9,154.1 608.0,155.4" fill="#0fdcff"/>
<path d="M644.5,180.9 647.4,179.3 645.3,176.4 642.4,178.0" fill="#0c0cff"/>
<path d="M642.8,178.5 645.7,176.9 643.6,174.1 640.7,175.7" fill="#0e0eff"/>
<path d="M582.0,147.8 584.9,146.7 582.8,144.8 579.8,145.9" fill="#02ffd2"/>
<path d="M508.4,114.4 511.4,113.9 509.3,111.4 506.3,111.9" fill="#61ec00"/>
<path d="M524.0,124.5 527.0,123.9 524.9,121.7 521.9,122.3" fill="#0cef00"/>
<path d="M498.8,106.6 501.8,106.2 499.7,103.4 496.7,103.8" fill="#a3ea00"/>
<path d="M565.8,142.6 568.7,141.6 566.6,139.7 563.7,140.6" fill="#00fb98"/>
<path d="M587.9,150.0 590.9,148.9 588.7,146.9 585.8,148.1" fill="#05ffe8"/>
<path d="M631.6,169.0 634.5,167.5 632.4,165.0 629.5,166.5" fill="#136fff"/>
<path d="M623.9,164.3 626.8,162.9 624.6,160.6 621.7,162.0" fill="#139fff"/>
<path d="M571.8,144.9 574.7,143.8 572.6,141.9 569.7,142.9" fill="#00fdad"/>
<path d="M593.9,152.3 596.9,151.1 594.7,149.1 591.8,150.2" fill="#08fffe"/>
<path d="M543.7,134.4 546.7,133.7 544.6,131.6 541.6,132.4" fill="#00f447"/>
<path d="M617.9,161.7 620.8,160.3 618.7,158.1 615.7,159.5" fill="#12baff"/>
<path d="M537.7,131.8 540.7,131.1 538.6,129.0 535.6,129.7" fill="#00f230"/>
<path d="M500.6,108.6 503.6,108.2 501.5,105.6 498.5,106.0" fill="#95ea00"/>
<path d="M633.4,171.0 636.3,169.5 634.1,167.0 631.2,168.4" fill="#135eff"/>
<path d="M518.0,121.4 521.0,120.8 518.9,118.5 515.9,119.1" fill="#2bee00"/>
<path d="M510.2,116.3 513.2,115.8 511.1,113.3 508.1,113.8" fill="#56ec00"/>
<path d="M549.7,137.0 552.6,136.1 550.5,134.1 547.6,134.9" fill="#00f55e"/>
<path d="M599.9,154.5 602.9,153.3 600.7,151.2 597.8,152.5" fill="#0bfdff"/>
<path d="M611.9,159.2 614.8,157.9 612.7,155.7 609.8,157.1" fill="#10d3ff"/>
<path d="M531.7,129.1 534.7,128.4 532.6,126.3 529.7,126.9" fill="#00f117"/>
<path d="M577.8,147.1 580.7,146.0 578.6,144.1 575.6,145.1" fill="#01ffc2"/>
<path d="M605.9,156.9 608.9,155.6 606.7,153.5 603.8,154.7" fill="#0de9ff"/>
<path d="M555.6,139.4 558.6,138.5 556.5,136.5 553.5,137.4" fill="#00f773"/>
<path d="M625.7,166.2 628.6,164.7 626.4,162.4 623.5,163.8" fill="#1391ff"/>
<path d="M635.1,173.1 638.0,171.6 635.9,169.0 633.0,170.5" fill="#124bff"/>
<path d="M561.6,141.7 564.6,140.8 562.5,138.9 559.5,139.8" fill="#00f988"/>
<path d="M525.8,126.2 528.7,125.6 526.7,123.4 523.7,124.0" fill="#05ef00"/>
<path d="M583.8,149.3 586.7,148.2 584.6,146.2 581.6,147.3" fill="#04ffd8"/>
<path d="M502.4,110.7 505.4,110.2 503.3,107.6 500.3,108.0" fill="#88ea00"/>
<path d="M636.9,175.2 639.8,173.7 637.7,171.0 634.8,172.5" fill="#1136ff"/>
<path d="M485.4,93.0 488.4,92.7 486.3,89.5 483.3,89.9" fill="#e3af00"/>
<path d="M487.3,95.5 490.2,95.1 488.1,92.1 485.1,92.4" fill="#e4c500"/>
<path d="M619.7,163.5 622.6,162.1 620.5,159.8 617.5,161.2" fill="#12afff"/>
<path d="M483.6,90.5 486.6,90.2 484.4,87.0 481.5,87.3" fill="#e19900"/>
<path d="M589.7,151.6 592.7,150.4 590.5,148.4 587.6,149.5" fill="#06ffef"/>
<path d="M567.6,144.0 570.5,143.1 568.4,141.1 565.5,142.1" fill="#00fc9d"/>
<path d="M638.6,177.5 641.5,175.9 639.4,173.2 636.5,174.7" fill="#0f20ff"/>
<path d="M642.1,182.1 645.0,180.5 642.9,177.6 640.0,179.2" fill="#0c0cff"/>
<path d="M627.4,168.1 630.3,166.6 628.2,164.2 625.3,165.6" fill="#1382ff"/>
<path d="M640.4,179.8 643.3,178.2 641.2,175.4 638.3,176.9" fill="#0e0eff"/>
<path d="M489.1,97.8 492.1,97.5 490.0,94.5 487.0,94.8" fill="#e5d900"/>
<path d="M512.0,118.1 515.0,117.6 512.9,115.2 509.9,115.7" fill="#4cec00"/>
<path d="M595.7,153.8 598.7,152.6 596.5,150.6 593.6,151.8" fill="#09ffff"/>
<path d="M519.8,123.1 522.8,122.6 520.7,120.3 517.7,120.8" fill="#22ee00"/>
<path d="M613.7,161.0 616.6,159.6 614.5,157.4 611.6,158.7" fill="#11c9ff"/>
<path d="M490.9,100.1 493.9,99.8 491.8,96.9 488.8,97.2" fill="#e0e600"/>
<path d="M573.6,146.3 576.5,145.3 574.4,143.3 571.5,144.3" fill="#00feb2"/>
<path d="M601.7,156.1 604.7,154.9 602.5,152.8 599.6,154.0" fill="#0cf6ff"/>
<path d="M607.7,158.5 610.7,157.2 608.5,155.1 605.6,156.3" fill="#0ee1ff"/>
<path d="M539.5,133.3 542.5,132.6 540.4,130.5 537.4,131.3" fill="#00f235"/>
<path d="M545.5,135.9 548.4,135.2 546.4,133.1 543.4,133.9" fill="#00f44d"/>
<path d="M504.2,112.6 507.2,112.2 505.1,109.6 502.1,110.1" fill="#7bea00"/>
<path d="M533.5,130.6 536.5,130.0 534.4,127.8 531.4,128.5" fill="#00f11d"/>
<path d="M551.4,138.4 554.4,137.6 552.3,135.6 549.3,136.4" fill="#00f663"/>
<path d="M629.2,170.1 632.1,168.6 630.0,166.1 627.1,167.6" fill="#1372ff"/>
<path d="M492.7,102.4 495.7,102.0 493.6,99.2 490.6,99.5" fill="#d0e700"/>
<path d="M579.6,148.6 582.5,147.5 580.4,145.5 577.4,146.6" fill="#02ffc8"/>
<path d="M621.5,165.4 624.4,163.9 622.3,161.6 619.3,163.0" fill="#12a2ff"/>
<path d="M557.4,140.8 560.4,140.0 558.3,138.0 555.3,138.9" fill="#00f878"/>
<path d="M527.5,127.8 530.5,127.2 528.5,125.0 525.5,125.6" fill="#00ef02"/>
<path d="M585.6,150.8 588.5,149.7 586.4,147.7 583.4,148.8" fill="#05ffdf"/>
<path d="M513.8,119.9 516.8,119.4 514.7,117.0 511.7,117.5" fill="#42ec00"/>
<path d="M631.0,172.1 633.9,170.6 631.8,168.1 628.9,169.6" fill="#1260ff"/>
<path d="M494.5,104.6 497.5,104.2 495.4,101.4 492.4,101.8" fill="#c0e700"/>
<path d="M563.4,143.2 566.4,142.3 564.2,140.3 561.3,141.2" fill="#00fa8d"/>
<path d="M615.5,162.7 618.4,161.4 616.3,159.1 613.4,160.4" fill="#11bfff"/>
<path d="M591.6,153.1 594.5,151.9 592.3,149.9 589.4,151.0" fill="#08fff7"/>
<path d="M506.0,114.6 509.0,114.1 506.9,111.6 503.9,112.0" fill="#70ea00"/>
<path d="M521.6,124.8 524.5,124.2 522.5,122.0 519.5,122.5" fill="#1aee00"/>
<path d="M569.4,145.5 572.3,144.5 570.2,142.5 567.3,143.5" fill="#00fda2"/>
<path d="M609.5,160.2 612.5,158.9 610.3,156.7 607.4,158.0" fill="#0fd8ff"/>
<path d="M632.7,174.3 635.7,172.7 633.5,170.1 630.6,171.6" fill="#114cff"/>
<path d="M623.3,167.2 626.2,165.8 624.0,163.4 621.1,164.8" fill="#1394ff"/>
<path d="M597.6,155.4 600.5,154.2 598.3,152.1 595.4,153.3" fill="#0affff"/>
<path d="M603.5,157.8 606.5,156.5 604.3,154.4 601.4,155.6" fill="#0defff"/>
<path d="M496.3,106.7 499.3,106.3 497.2,103.6 494.2,104.0" fill="#b2e800"/>
<path d="M634.5,176.4 637.4,174.9 635.3,172.2 632.4,173.7" fill="#1037ff"/>
<path d="M575.4,147.8 578.3,146.7 576.2,144.8 573.3,145.8" fill="#00ffb8"/>
<path d="M639.7,183.4 642.6,181.8 640.5,178.9 637.6,180.4" fill="#0b0bff"/>
<path d="M541.3,134.9 544.3,134.1 542.2,132.1 539.2,132.8" fill="#00f23b"/>
<path d="M636.3,178.7 639.2,177.1 637.0,174.4 634.1,175.9" fill="#0f21ff"/>
<path d="M547.3,137.4 550.2,136.6 548.1,134.6 545.2,135.4" fill="#00f452"/>
<path d="M638.0,181.0 640.9,179.4 638.8,176.6 635.9,178.1" fill="#0d0dff"/>
<path d="M535.3,132.2 538.3,131.5 536.2,129.4 533.2,130.1" fill="#00f123"/>
<path d="M617.3,164.5 620.2,163.1 618.1,160.8 615.2,162.2" fill="#12b3ff"/>
<path d="M553.2,139.9 556.2,139.1 554.1,137.1 551.1,137.9" fill="#00f668"/>
<path d="M625.0,169.2 628.0,167.8 625.8,165.3 622.9,166.7" fill="#1385ff"/>
<path d="M581.4,150.1 584.3,149.0 582.2,147.0 579.2,148.0" fill="#03ffcf"/>
<path d="M515.6,121.6 518.6,121.1 516.5,118.8 513.5,119.3" fill="#39ec00"/>
<path d="M529.3,129.4 532.3,128.8 530.2,126.6 527.2,127.2" fill="#00ef09"/>
<path d="M507.8,116.4 510.8,116.0 508.7,113.5 505.7,114.0" fill="#65eb00"/>
<path d="M498.1,108.8 501.1,108.4 499.1,105.7 496.1,106.1" fill="#a4e800"/>
<path d="M559.2,142.3 562.2,141.4 560.1,139.4 557.1,140.3" fill="#00f97d"/>
<path d="M587.4,152.3 590.3,151.2 588.2,149.2 585.2,150.3" fill="#06ffe7"/>
<path d="M611.3,161.9 614.3,160.6 612.1,158.4 609.2,159.7" fill="#10ceff"/>
<path d="M593.4,154.7 596.3,153.5 594.2,151.4 591.2,152.6" fill="#09ffff"/>
<path d="M565.2,144.7 568.2,143.7 566.0,141.7 563.1,142.7" fill="#00fb92"/>
<path d="M523.3,126.5 526.3,125.9 524.3,123.7 521.3,124.2" fill="#13ee00"/>
<path d="M626.8,171.2 629.7,169.7 627.6,167.2 624.7,168.7" fill="#1274ff"/>
<path d="M605.3,159.4 608.3,158.1 606.1,156.0 603.2,157.2" fill="#0ee7ff"/>
<path d="M599.4,157.0 602.3,155.8 600.1,153.7 597.2,154.9" fill="#0cfdff"/>
<path d="M619.1,166.4 622.0,165.0 619.9,162.6 617.0,164.0" fill="#12a6ff"/>
<path d="M499.9,110.8 502.9,110.4 500.9,107.8 497.9,108.2" fill="#96e800"/>
<path d="M571.2,147.0 574.1,146.0 572.0,144.0 569.1,145.0" fill="#00fea8"/>
<path d="M482.9,93.1 485.9,92.8 483.8,89.6 480.8,89.9" fill="#e19f00"/>
<path d="M628.6,173.3 631.5,171.8 629.4,169.2 626.5,170.7" fill="#1262ff"/>
<path d="M484.8,95.5 487.8,95.2 485.7,92.2 482.7,92.4" fill="#e2b300"/>
<path d="M481.1,90.6 484.1,90.3 482.0,87.0 479.0,87.3" fill="#df8900"/>
<path d="M509.5,118.3 512.5,117.8 510.5,115.4 507.5,115.8" fill="#5aeb00"/>
<path d="M577.2,149.3 580.1,148.2 578.0,146.2 575.1,147.3" fill="#01ffbf"/>
<path d="M486.6,97.9 489.6,97.6 487.5,94.6 484.5,94.9" fill="#e3c700"/>
<path d="M517.3,123.4 520.3,122.8 518.3,120.5 515.3,121.1" fill="#30ec00"/>
<path d="M543.1,136.4 546.0,135.6 544.0,133.6 541.0,134.3" fill="#00f340"/>
<path d="M537.1,133.7 540.1,133.0 538.0,131.0 535.0,131.7" fill="#00f128"/>
<path d="M613.1,163.7 616.0,162.4 613.9,160.1 611.0,161.4" fill="#11c3ff"/>
<path d="M549.0,138.9 552.0,138.1 549.9,136.1 546.9,136.9" fill="#00f557"/>
<path d="M630.4,175.4 633.3,173.9 631.1,171.3 628.2,172.7" fill="#114eff"/>
<path d="M583.2,151.6 586.1,150.5 584.0,148.4 581.0,149.5" fill="#04ffd6"/>
<path d="M531.1,131.0 534.1,130.3 532.0,128.2 529.0,128.9" fill="#00ef0f"/>
<path d="M488.4,100.2 491.4,99.9 489.3,97.0 486.3,97.3" fill="#e4da00"/>
<path d="M555.0,141.4 558.0,140.5 555.9,138.5 552.9,139.4" fill="#00f76d"/>
<path d="M620.9,168.3 623.8,166.9 621.7,164.5 618.7,165.9" fill="#1297ff"/>
<path d="M501.7,112.8 504.7,112.4 502.7,109.8 499.6,110.2" fill="#8ae900"/>
<path d="M632.1,177.6 635.0,176.1 632.9,173.4 630.0,174.9" fill="#0f39ff"/>
<path d="M607.1,161.1 610.1,159.8 607.9,157.6 605.0,158.9" fill="#0fddff"/>
<path d="M637.3,184.6 640.2,183.1 638.2,180.1 635.3,181.7" fill="#0a0aff"/>
<path d="M589.2,153.9 592.1,152.7 590.0,150.7 587.0,151.8" fill="#07ffef"/>
<path d="M561.0,143.8 564.0,142.9 561.9,140.9 558.9,141.8" fill="#00f982"/>
<path d="M633.9,179.9 636.8,178.3 634.7,175.5 631.8,177.1" fill="#0e22ff"/>
<path d="M635.6,182.2 638.5,180.7 636.4,177.8 633.5,179.3" fill="#0c0cff"/>
<path d="M595.2,156.3 598.1,155.0 596.0,152.9 593.0,154.1" fill="#0affff"/>
<path d="M601.2,158.7 604.1,157.4 601.9,155.3 599.0,156.5" fill="#0df5ff"/>
<path d="M490.2,102.5 493.2,102.2 491.1,99.3 488.1,99.6" fill="#dee500"/>
<path d="M525.1,128.1 528.1,127.5 526.0,125.3 523.0,125.9" fill="#0cee00"/>
<path d="M567.0,146.1 570.0,145.2 567.8,143.2 564.9,144.1" fill="#00fc98"/>
<path d="M622.7,170.3 625.6,168.8 623.4,166.4 620.5,167.8" fill="#1288ff"/>
<path d="M511.3,120.1 514.3,119.6 512.3,117.2 509.3,117.7" fill="#51eb00"/>
<path d="M614.9,165.5 617.8,164.2 615.7,161.8 612.8,163.2" fill="#11b7ff"/>
<path d="M492.1,104.7 495.1,104.3 493.0,101.5 490.0,101.8" fill="#cfe500"/>
<path d="M573.0,148.5 575.9,147.4 573.8,145.4 570.9,146.5" fill="#00ffae"/>
<path d="M519.1,125.1 522.1,124.5 520.1,122.3 517.1,122.8" fill="#28ec00"/>
<path d="M503.5,114.7 506.5,114.3 504.5,111.8 501.4,112.2" fill="#7ee900"/>
<path d="M579.0,150.8 581.9,149.7 579.8,147.7 576.9,148.8" fill="#03ffc6"/>
<path d="M608.9,162.9 611.9,161.6 609.7,159.3 606.8,160.6" fill="#10d3ff"/>
<path d="M624.4,172.3 627.4,170.9 625.2,168.3 622.3,169.7" fill="#1277ff"/>
<path d="M544.8,137.9 547.8,137.1 545.7,135.1 542.8,135.8" fill="#00f345"/>
<path d="M538.9,135.3 541.8,134.6 539.8,132.5 536.8,133.2" fill="#00f12e"/>
<path d="M493.9,106.8 496.9,106.5 494.8,103.7 491.8,104.0" fill="#c0e600"/>
<path d="M585.0,153.1 587.9,152.0 585.8,149.9 582.8,151.1" fill="#06ffde"/>
<path d="M550.8,140.4 553.8,139.6 551.7,137.6 548.7,138.4" fill="#00f55c"/>
<path d="M532.9,132.6 535.9,131.9 533.8,129.8 530.8,130.4" fill="#00f015"/>
<path d="M603.0,160.4 605.9,159.1 603.7,156.9 600.8,158.1" fill="#0eecff"/>
<path d="M616.7,167.4 619.6,166.0 617.5,163.7 614.6,165.0" fill="#12a9ff"/>
<path d="M591.0,155.5 593.9,154.3 591.8,152.2 588.8,153.4" fill="#08fff7"/>
<path d="M597.0,157.9 599.9,156.7 597.8,154.5 594.8,155.7" fill="#0bffff"/>
<path d="M556.8,142.9 559.8,142.0 557.7,140.0 554.7,140.9" fill="#00f872"/>
<path d="M626.2,174.4 629.1,172.9 627.0,170.3 624.1,171.8" fill="#1164ff"/>
<path d="M526.9,129.7 529.9,129.1 527.8,126.9 524.8,127.5" fill="#05ee00"/>
<path d="M562.8,145.3 565.8,144.3 563.7,142.3 560.7,143.3" fill="#00fa88"/>
<path d="M513.1,121.9 516.1,121.4 514.1,119.0 511.0,119.5" fill="#47eb00"/>
<path d="M505.3,116.6 508.3,116.2 506.2,113.7 503.2,114.1" fill="#73e900"/>
<path d="M628.0,176.6 630.9,175.1 628.8,172.4 625.9,173.9" fill="#1050ff"/>
<path d="M495.7,108.9 498.7,108.5 496.6,105.8 493.6,106.2" fill="#b2e600"/>
<path d="M568.8,147.6 571.7,146.6 569.6,144.6 566.7,145.6" fill="#00fd9e"/>
<path d="M635.0,185.9 637.9,184.3 635.8,181.3 632.9,182.9" fill="#0909ff"/>
<path d="M610.7,164.7 613.7,163.4 611.5,161.1 608.6,162.4" fill="#10c8ff"/>
<path d="M629.7,178.8 632.6,177.3 630.5,174.5 627.6,176.0" fill="#0f3aff"/>
<path d="M618.5,169.4 621.4,168.0 619.3,165.5 616.4,166.9" fill="#129bff"/>
<path d="M520.9,126.7 523.9,126.2 521.8,124.0 518.8,124.5" fill="#21ec00"/>
<path d="M633.2,183.5 636.1,181.9 634.0,179.0 631.1,180.5" fill="#0b0bff"/>
<path d="M631.5,181.1 634.4,179.6 632.3,176.7 629.4,178.2" fill="#0d22ff"/>
<path d="M574.8,150.0 577.7,148.9 575.6,146.9 572.7,147.9" fill="#01ffb5"/>
<path d="M604.8,162.1 607.7,160.8 605.5,158.6 602.6,159.8" fill="#0fe3ff"/>
<path d="M580.8,152.3 583.7,151.2 581.6,149.2 578.7,150.3" fill="#04ffcd"/>
<path d="M497.5,110.9 500.5,110.6 498.4,107.9 495.4,108.3" fill="#a5e700"/>
<path d="M586.8,154.7 589.7,153.5 587.6,151.5 584.6,152.6" fill="#07ffe6"/>
<path d="M598.8,159.6 601.7,158.3 599.6,156.1 596.6,157.4" fill="#0cfbff"/>
<path d="M540.6,136.8 543.6,136.1 541.5,134.0 538.6,134.7" fill="#00f233"/>
<path d="M546.6,139.4 549.6,138.6 547.5,136.6 544.5,137.4" fill="#00f44a"/>
<path d="M592.8,157.1 595.7,155.9 593.6,153.8 590.6,155.0" fill="#0affff"/>
<path d="M620.3,171.4 623.2,169.9 621.1,167.4 618.1,168.8" fill="#128bff"/>
<path d="M534.7,134.1 537.6,133.4 535.6,131.3 532.6,132.0" fill="#00f01b"/>
<path d="M552.6,141.9 555.6,141.1 553.5,139.0 550.5,139.9" fill="#00f661"/>
<path d="M507.1,118.5 510.1,118.0 508.0,115.6 505.0,116.0" fill="#69e900"/>
<path d="M480.4,93.1 483.4,92.9 481.3,89.7 478.3,89.9" fill="#df8d00"/>
<path d="M612.5,166.6 615.5,165.2 613.3,162.8 610.4,164.2" fill="#11bbff"/>
<path d="M514.9,123.6 517.9,123.1 515.8,120.8 512.8,121.3" fill="#3feb00"/>
<path d="M482.3,95.6 485.3,95.3 483.2,92.2 480.2,92.5" fill="#e0a200"/>
<path d="M478.6,90.6 481.6,90.4 479.5,87.1 476.5,87.4" fill="#de7800"/>
<path d="M558.6,144.3 561.6,143.4 559.5,141.4 556.5,142.3" fill="#00f977"/>
<path d="M528.7,131.3 531.7,130.7 529.6,128.6 526.6,129.2" fill="#00ee01"/>
<path d="M484.1,98.0 487.1,97.7 485.0,94.7 482.0,94.9" fill="#e1b500"/>
<path d="M564.6,146.7 567.6,145.8 565.4,143.8 562.5,144.7" fill="#00fb8d"/>
<path d="M622.1,173.4 625.0,172.0 622.8,169.4 619.9,170.8" fill="#1179ff"/>
<path d="M485.9,100.3 488.9,100.0 486.8,97.0 483.8,97.3" fill="#e2c800"/>
<path d="M499.3,112.9 502.3,112.5 500.2,109.9 497.2,110.3" fill="#99e700"/>
<path d="M606.6,163.9 609.5,162.5 607.3,160.3 604.4,161.6" fill="#0fd8ff"/>
<path d="M522.7,128.4 525.7,127.8 523.6,125.6 520.6,126.2" fill="#1aec00"/>
<path d="M570.6,149.1 573.5,148.1 571.4,146.1 568.5,147.1" fill="#00fea4"/>
<path d="M623.8,175.5 626.7,174.1 624.6,171.4 621.7,172.9" fill="#1066ff"/>
<path d="M614.3,168.5 617.2,167.1 615.1,164.7 612.2,166.0" fill="#11adff"/>
<path d="M487.8,102.5 490.8,102.2 488.7,99.4 485.7,99.6" fill="#e3d900"/>
<path d="M576.6,151.5 579.5,150.4 577.4,148.4 574.5,149.4" fill="#02ffbc"/>
<path d="M600.6,161.3 603.5,160.0 601.4,157.8 598.4,159.0" fill="#0df2ff"/>
<path d="M582.6,153.9 585.5,152.8 583.4,150.7 580.5,151.8" fill="#05ffd5"/>
<path d="M508.9,120.3 511.9,119.8 509.8,117.4 506.8,117.9" fill="#5fe900"/>
<path d="M594.6,158.7 597.5,157.5 595.4,155.4 592.4,156.6" fill="#0bffff"/>
<path d="M588.6,156.3 591.5,155.1 589.4,153.0 586.4,154.2" fill="#08ffef"/>
<path d="M625.6,177.7 628.5,176.2 626.4,173.5 623.5,175.0" fill="#0f51ff"/>
<path d="M632.6,187.1 635.5,185.6 633.4,182.6 630.5,184.1" fill="#0808ff"/>
<path d="M516.7,125.3 519.7,124.8 517.6,122.5 514.6,123.0" fill="#37eb00"/>
<path d="M489.6,104.7 492.6,104.4 490.5,101.6 487.5,101.9" fill="#dde300"/>
<path d="M627.3,180.0 630.3,178.5 628.1,175.7 625.2,177.2" fill="#0e3bff"/>
<path d="M630.8,184.7 633.7,183.1 631.6,180.2 628.7,181.7" fill="#0a0aff"/>
<path d="M542.4,138.3 545.4,137.6 543.3,135.5 540.3,136.3" fill="#00f238"/>
<path d="M629.1,182.3 632.0,180.8 629.9,177.9 627.0,179.4" fill="#0c23ff"/>
<path d="M548.4,140.9 551.4,140.1 549.3,138.1 546.3,138.9" fill="#00f44f"/>
<path d="M536.4,135.7 539.4,135.0 537.4,132.9 534.4,133.6" fill="#00f020"/>
<path d="M501.1,114.8 504.1,114.5 502.0,111.9 499.0,112.3" fill="#8de700"/>
<path d="M608.4,165.7 611.3,164.4 609.1,162.0 606.2,163.3" fill="#10ccff"/>
<path d="M616.1,170.4 619.0,169.0 616.9,166.6 614.0,167.9" fill="#119eff"/>
<path d="M554.4,143.4 557.4,142.5 555.3,140.5 552.3,141.4" fill="#00f766"/>
<path d="M530.5,132.9 533.4,132.3 531.4,130.1 528.4,130.8" fill="#00ee07"/>
<path d="M560.4,145.8 563.4,144.9 561.3,142.9 558.3,143.8" fill="#00fa7c"/>
<path d="M491.4,106.9 494.4,106.6 492.3,103.8 489.3,104.1" fill="#cfe400"/>
<path d="M566.4,148.3 569.4,147.3 567.2,145.3 564.3,146.2" fill="#00fc93"/>
<path d="M602.4,163.0 605.3,161.7 603.2,159.5 600.2,160.7" fill="#0ee8ff"/>
<path d="M524.5,130.0 527.5,129.4 525.4,127.3 522.4,127.8" fill="#13ec00"/>
<path d="M617.9,172.4 620.8,171.0 618.7,168.5 615.8,169.9" fill="#118eff"/>
<path d="M572.4,150.6 575.3,149.6 573.2,147.6 570.3,148.6" fill="#00ffab"/>
<path d="M510.7,122.0 513.7,121.6 511.6,119.2 508.6,119.7" fill="#56e900"/>
<path d="M596.4,160.4 599.3,159.2 597.2,157.0 594.2,158.2" fill="#0cffff"/>
<path d="M578.4,153.0 581.3,152.0 579.2,149.9 576.3,151.0" fill="#03ffc4"/>
<path d="M610.2,167.6 613.1,166.2 610.9,163.8 608.0,165.2" fill="#10bfff"/>
<path d="M502.8,116.7 505.9,116.3 503.8,113.9 500.8,114.2" fill="#82e700"/>
<path d="M584.4,155.5 587.3,154.3 585.2,152.2 582.3,153.4" fill="#06ffde"/>
<path d="M590.4,157.9 593.3,156.7 591.2,154.6 588.3,155.8" fill="#09fff9"/>
<path d="M493.2,109.0 496.2,108.6 494.1,105.9 491.1,106.3" fill="#c1e400"/>
<path d="M518.5,127.0 521.5,126.5 519.4,124.2 516.4,124.7" fill="#2feb00"/>
<path d="M619.7,174.5 622.6,173.1 620.5,170.5 617.5,171.9" fill="#117cff"/>
<path d="M544.2,139.8 547.2,139.1 545.1,137.0 542.1,137.8" fill="#00f33d"/>
<path d="M538.2,137.2 541.2,136.5 539.1,134.4 536.1,135.1" fill="#00f126"/>
<path d="M550.2,142.4 553.2,141.6 551.1,139.6 548.1,140.4" fill="#00f554"/>
<path d="M604.2,164.8 607.1,163.5 605.0,161.2 602.0,162.5" fill="#0fddff"/>
<path d="M621.4,176.7 624.3,175.2 622.2,172.5 619.3,174.0" fill="#1068ff"/>
<path d="M532.2,134.5 535.2,133.8 533.2,131.7 530.2,132.4" fill="#00ef0d"/>
<path d="M556.2,144.9 559.2,144.0 557.1,142.0 554.1,142.9" fill="#00f86b"/>
<path d="M611.9,169.5 614.9,168.1 612.7,165.7 609.8,167.0" fill="#11b1ff"/>
<path d="M630.2,188.4 633.1,186.8 631.0,183.8 628.1,185.3" fill="#0707ff"/>
<path d="M495.0,111.0 498.0,110.7 495.9,108.0 492.9,108.3" fill="#b4e500"/>
<path d="M562.2,147.3 565.2,146.4 563.1,144.4 560.1,145.3" fill="#00fb82"/>
<path d="M623.2,178.9 626.1,177.4 624.0,174.7 621.1,176.1" fill="#0f53ff"/>
<path d="M628.5,185.9 631.4,184.4 629.3,181.4 626.4,182.9" fill="#0a0aff"/>
<path d="M598.2,162.2 601.1,160.9 599.0,158.7 596.0,159.9" fill="#0df8ff"/>
<path d="M526.2,131.6 529.2,131.0 527.2,128.9 524.2,129.5" fill="#0ded00"/>
<path d="M512.4,123.8 515.5,123.3 513.4,121.0 510.4,121.5" fill="#4ee900"/>
<path d="M504.6,118.6 507.6,118.2 505.6,115.8 502.6,116.1" fill="#78e700"/>
<path d="M625.0,181.1 627.9,179.6 625.8,176.8 622.9,178.3" fill="#0d3cff"/>
<path d="M568.2,149.8 571.2,148.8 569.0,146.8 566.1,147.7" fill="#00fe9a"/>
<path d="M626.7,183.5 629.6,182.0 627.5,179.1 624.6,180.6" fill="#0c24ff"/>
<path d="M477.9,93.1 480.9,92.9 478.8,89.7 475.8,89.9" fill="#dd7c00"/>
<path d="M476.1,90.6 479.1,90.4 477.0,87.1 473.9,87.3" fill="#dc6700"/>
<path d="M479.8,95.6 482.8,95.4 480.7,92.3 477.7,92.5" fill="#de9000"/>
<path d="M574.2,152.2 577.1,151.1 575.0,149.1 572.1,150.1" fill="#02ffb2"/>
<path d="M592.2,159.6 595.1,158.4 593.0,156.2 590.1,157.4" fill="#0affff"/>
<path d="M580.2,154.6 583.1,153.5 581.0,151.4 578.1,152.5" fill="#05ffcc"/>
<path d="M586.2,157.1 589.1,155.9 587.0,153.8 584.1,154.9" fill="#08ffe7"/>
<path d="M481.6,98.0 484.6,97.7 482.5,94.7 479.5,94.9" fill="#dfa300"/>
<path d="M613.7,171.5 616.6,170.1 614.5,167.6 611.6,168.9" fill="#11a2ff"/>
<path d="M606.0,166.7 608.9,165.3 606.8,163.0 603.8,164.3" fill="#10d1ff"/>
<path d="M520.2,128.7 523.2,128.1 521.2,125.9 518.2,126.4" fill="#28eb00"/>
<path d="M483.4,100.3 486.5,100.1 484.4,97.1 481.3,97.3" fill="#e0b600"/>
<path d="M496.8,113.0 499.8,112.7 497.7,110.1 494.7,110.4" fill="#a8e500"/>
<path d="M615.5,173.5 618.4,172.1 616.3,169.5 613.4,170.9" fill="#1091ff"/>
<path d="M485.3,102.6 488.3,102.3 486.2,99.4 483.2,99.7" fill="#e1c700"/>
<path d="M546.0,141.4 549.0,140.6 546.9,138.5 543.9,139.3" fill="#00f343"/>
<path d="M600.0,163.9 602.9,162.7 600.8,160.4 597.8,161.6" fill="#0eedff"/>
<path d="M540.0,138.7 543.0,138.0 540.9,136.0 537.9,136.7" fill="#00f12b"/>
<path d="M506.4,120.4 509.4,120.0 507.4,117.6 504.4,118.0" fill="#6ee700"/>
<path d="M552.0,143.9 555.0,143.1 552.9,141.0 549.9,141.9" fill="#00f65a"/>
<path d="M534.0,136.0 537.0,135.4 534.9,133.3 531.9,133.9" fill="#00ef13"/>
<path d="M558.0,146.4 561.0,145.5 558.9,143.5 555.9,144.4" fill="#00f971"/>
<path d="M514.2,125.5 517.2,125.0 515.2,122.7 512.2,123.2" fill="#46e900"/>
<path d="M607.8,168.5 610.7,167.2 608.5,164.8 605.6,166.1" fill="#10c4ff"/>
<path d="M564.0,148.9 567.0,147.9 564.8,145.9 561.9,146.8" fill="#00fc88"/>
<path d="M594.0,161.3 596.9,160.1 594.8,157.9 591.9,159.1" fill="#0cffff"/>
<path d="M617.3,175.6 620.2,174.2 618.1,171.6 615.2,173.0" fill="#107eff"/>
<path d="M528.0,133.2 531.0,132.6 529.0,130.5 526.0,131.1" fill="#07ed00"/>
<path d="M487.1,104.8 490.1,104.5 488.0,101.7 485.0,101.9" fill="#e1d700"/>
<path d="M570.0,151.3 573.0,150.3 570.8,148.3 567.9,149.2" fill="#00ffa0"/>
<path d="M498.6,114.9 501.6,114.6 499.5,112.0 496.5,112.4" fill="#9ce500"/>
<path d="M588.0,158.7 590.9,157.6 588.8,155.4 585.9,156.6" fill="#09fff1"/>
<path d="M576.0,153.8 578.9,152.7 576.8,150.6 573.9,151.7" fill="#03ffba"/>
<path d="M582.0,156.2 584.9,155.1 582.8,153.0 579.9,154.1" fill="#06ffd5"/>
<path d="M627.8,189.6 630.7,188.1 628.6,185.0 625.7,186.5" fill="#0606ff"/>
<path d="M619.1,177.8 622.0,176.3 619.8,173.6 616.9,175.1" fill="#0f6aff"/>
<path d="M522.0,130.3 525.0,129.7 523.0,127.5 520.0,128.1" fill="#21eb00"/>
<path d="M601.8,165.7 604.7,164.5 602.6,162.1 599.6,163.4" fill="#0fe2ff"/>
<path d="M626.1,187.1 629.0,185.6 626.9,182.6 624.0,184.1" fill="#090aff"/>
<path d="M620.8,180.0 623.7,178.5 621.6,175.8 618.7,177.2" fill="#0e55ff"/>
<path d="M488.9,106.9 491.9,106.6 489.8,103.9 486.8,104.1" fill="#dde200"/>
<path d="M609.6,170.5 612.5,169.1 610.3,166.7 607.4,168.0" fill="#10b5ff"/>
<path d="M624.3,184.7 627.2,183.2 625.1,180.3 622.2,181.7" fill="#0b25ff"/>
<path d="M622.6,182.3 625.5,180.8 623.4,178.0 620.5,179.4" fill="#0c3eff"/>
<path d="M508.2,122.2 511.2,121.8 509.2,119.4 506.1,119.8" fill="#65e700"/>
<path d="M500.4,116.9 503.4,116.5 501.3,114.0 498.3,114.3" fill="#91e500"/>
<path d="M595.8,163.0 598.7,161.8 596.6,159.6 593.7,160.8" fill="#0cfeff"/>
<path d="M516.0,127.2 519.0,126.7 517.0,124.5 513.9,124.9" fill="#3ee900"/>
<path d="M541.8,140.3 544.8,139.5 542.7,137.5 539.7,138.2" fill="#00f231"/>
<path d="M547.8,142.9 550.8,142.1 548.7,140.0 545.7,140.8" fill="#00f448"/>
<path d="M553.8,145.4 556.8,144.6 554.7,142.5 551.7,143.4" fill="#00f75f"/>
<path d="M490.7,109.0 493.7,108.7 491.6,106.0 488.6,106.3" fill="#d0e200"/>
<path d="M535.8,137.6 538.8,136.9 536.7,134.8 533.7,135.5" fill="#00ef18"/>
<path d="M611.3,172.5 614.3,171.1 612.1,168.6 609.2,170.0" fill="#10a5ff"/>
<path d="M559.8,147.9 562.8,147.0 560.7,145.0 557.7,145.9" fill="#00fa77"/>
<path d="M589.8,160.4 592.7,159.2 590.6,157.0 587.7,158.2" fill="#0afffb"/>
<path d="M565.8,150.4 568.8,149.4 566.6,147.4 563.7,148.3" fill="#00fd8f"/>
<path d="M603.6,167.6 606.5,166.3 604.4,163.9 601.4,165.2" fill="#0fd6ff"/>
<path d="M529.8,134.8 532.8,134.2 530.7,132.1 527.7,132.7" fill="#01ed00"/>
<path d="M583.8,157.9 586.7,156.7 584.6,154.6 581.7,155.7" fill="#07ffde"/>
<path d="M571.8,152.9 574.8,151.8 572.6,149.8 569.7,150.8" fill="#01ffa8"/>
<path d="M577.8,155.4 580.7,154.3 578.6,152.2 575.7,153.2" fill="#04ffc3"/>
<path d="M613.1,174.6 616.0,173.2 613.9,170.6 611.0,172.0" fill="#1094ff"/>
<path d="M523.8,131.9 526.8,131.3 524.7,129.2 521.7,129.7" fill="#1beb00"/>
<path d="M492.5,111.1 495.5,110.8 493.5,108.1 490.4,108.4" fill="#c3e300"/>
<path d="M510.0,124.0 513.0,123.5 511.0,121.2 507.9,121.6" fill="#5ce700"/>
<path d="M502.2,118.7 505.2,118.3 503.1,115.9 500.1,116.3" fill="#87e500"/>
<path d="M597.6,164.8 600.5,163.6 598.4,161.3 595.5,162.5" fill="#0df3ff"/>
<path d="M614.9,176.7 617.8,175.3 615.7,172.6 612.8,174.0" fill="#0f81ff"/>
<path d="M605.4,169.5 608.3,168.2 606.2,165.8 603.2,167.1" fill="#0fc8ff"/>
<path d="M475.4,93.1 478.4,92.9 476.3,89.7 473.3,89.9" fill="#db6a00"/>
<path d="M625.4,190.9 628.3,189.3 626.2,186.2 623.3,187.7" fill="#0505ff"/>
<path d="M473.6,90.6 476.6,90.4 474.4,87.1 471.4,87.3" fill="#da5500"/>
<path d="M477.3,95.6 480.3,95.4 478.2,92.3 475.1,92.4" fill="#dc7e00"/>
<path d="M517.8,128.9 520.8,128.4 518.7,126.1 515.7,126.6" fill="#37e900"/>
<path d="M591.6,162.1 594.5,160.9 592.4,158.7 589.5,159.9" fill="#0bffff"/>
<path d="M479.1,98.0 482.1,97.8 480.0,94.7 477.0,94.9" fill="#dd9100"/>
<path d="M616.7,178.9 619.6,177.4 617.5,174.7 614.5,176.1" fill="#0e6dff"/>
<path d="M623.7,188.3 626.6,186.8 624.5,183.8 621.6,185.3" fill="#080bff"/>
<path d="M543.6,141.8 546.6,141.0 544.5,139.0 541.5,139.7" fill="#00f236"/>
<path d="M549.6,144.4 552.6,143.6 550.5,141.5 547.5,142.3" fill="#00f54e"/>
<path d="M555.6,146.9 558.6,146.1 556.5,144.0 553.5,144.9" fill="#00f865"/>
<path d="M537.6,139.1 540.6,138.4 538.5,136.4 535.5,137.0" fill="#00f01e"/>
<path d="M618.4,181.1 621.3,179.7 619.2,176.9 616.3,178.3" fill="#0d57ff"/>
<path d="M494.3,113.1 497.3,112.8 495.3,110.1 492.2,110.4" fill="#b7e300"/>
<path d="M585.6,159.5 588.5,158.4 586.4,156.2 583.5,157.3" fill="#08ffe9"/>
<path d="M621.9,185.8 624.8,184.3 622.7,181.4 619.8,182.9" fill="#0a26ff"/>
<path d="M480.9,100.3 484.0,100.1 481.9,97.1 478.8,97.3" fill="#dea300"/>
<path d="M561.6,149.5 564.6,148.5 562.4,146.5 559.5,147.4" fill="#00fb7d"/>
<path d="M620.2,183.5 623.1,182.0 621.0,179.1 618.1,180.6" fill="#0c3fff"/>
<path d="M579.6,157.0 582.5,155.9 580.4,153.7 577.5,154.8" fill="#05ffcc"/>
<path d="M567.6,152.0 570.6,151.0 568.4,148.9 565.5,149.9" fill="#00fe96"/>
<path d="M573.6,154.5 576.6,153.4 574.4,151.3 571.5,152.3" fill="#02ffb0"/>
<path d="M531.6,136.4 534.6,135.7 532.5,133.6 529.5,134.3" fill="#00ee05"/>
<path d="M607.2,171.5 610.1,170.2 607.9,167.7 605.0,169.0" fill="#10b9ff"/>
<path d="M599.4,166.7 602.3,165.4 600.2,163.0 597.3,164.3" fill="#0ee7ff"/>
<path d="M503.9,120.6 507.0,120.2 504.9,117.7 501.9,118.1" fill="#7de500"/>
<path d="M482.8,102.6 485.8,102.3 483.7,99.4 480.7,99.6" fill="#dfb400"/>
<path d="M511.8,125.7 514.8,125.2 512.7,122.9 509.7,123.4" fill="#54e700"/>
<path d="M525.6,133.5 528.6,132.9 526.5,130.8 523.5,131.4" fill="#15ec00"/>
<path d="M608.9,173.5 611.9,172.2 609.7,169.6 606.8,171.0" fill="#0fa9ff"/>
<path d="M593.4,163.9 596.3,162.7 594.2,160.4 591.3,161.6" fill="#0cffff"/>
<path d="M496.1,115.0 499.1,114.7 497.1,112.1 494.0,112.4" fill="#abe300"/>
<path d="M484.6,104.8 487.6,104.5 485.5,101.7 482.5,101.9" fill="#dfc400"/>
<path d="M519.6,130.5 522.6,130.0 520.5,127.8 517.5,128.3" fill="#30e900"/>
<path d="M601.2,168.6 604.1,167.3 602.0,164.9 599.1,166.1" fill="#0fdbff"/>
<path d="M587.4,161.2 590.3,160.1 588.2,157.9 585.3,159.0" fill="#09fff3"/>
<path d="M610.7,175.6 613.6,174.2 611.5,171.6 608.6,173.0" fill="#0f97ff"/>
<path d="M581.4,158.6 584.3,157.5 582.2,155.4 579.3,156.4" fill="#07ffd6"/>
<path d="M486.4,106.9 489.4,106.7 487.3,103.9 484.3,104.1" fill="#e0d400"/>
<path d="M545.4,143.3 548.4,142.6 546.3,140.5 543.3,141.3" fill="#00f33b"/>
<path d="M551.4,145.9 554.4,145.1 552.3,143.0 549.3,143.9" fill="#00f653"/>
<path d="M557.4,148.5 560.4,147.6 558.3,145.5 555.3,146.4" fill="#00f96b"/>
<path d="M505.7,122.4 508.8,122.0 506.7,119.6 503.7,120.0" fill="#74e500"/>
<path d="M539.4,140.7 542.4,140.0 540.3,137.9 537.3,138.6" fill="#00f123"/>
<path d="M575.4,156.1 578.4,155.0 576.2,152.9 573.3,153.9" fill="#04ffb9"/>
<path d="M563.4,151.0 566.4,150.1 564.2,148.0 561.3,148.9" fill="#00fc84"/>
<path d="M569.4,153.5 572.4,152.5 570.2,150.4 567.3,151.4" fill="#00ff9e"/>
<path d="M623.0,192.1 625.9,190.5 623.8,187.4 621.0,188.9" fill="#0404ff"/>
<path d="M533.4,137.9 536.4,137.3 534.3,135.2 531.3,135.8" fill="#00ee0b"/>
<path d="M612.5,177.8 615.4,176.4 613.3,173.7 610.4,175.1" fill="#0e84ff"/>
<path d="M513.5,127.4 516.6,126.9 514.5,124.7 511.5,125.1" fill="#4de800"/>
<path d="M595.2,165.7 598.1,164.5 596.0,162.2 593.1,163.4" fill="#0df9ff"/>
<path d="M497.9,116.9 500.9,116.6 498.9,114.1 495.8,114.4" fill="#a0e300"/>
<path d="M603.0,170.5 605.9,169.2 603.8,166.7 600.8,168.0" fill="#0fcdff"/>
<path d="M621.3,189.5 624.2,188.0 622.1,185.0 619.2,186.4" fill="#070bff"/>
<path d="M527.4,135.1 530.4,134.5 528.3,132.4 525.3,133.0" fill="#0fec00"/>
<path d="M614.3,180.0 617.2,178.6 615.1,175.8 612.2,177.2" fill="#0d6fff"/>
<path d="M488.2,109.0 491.2,108.8 489.2,106.1 486.1,106.3" fill="#dfe000"/>
<path d="M619.6,187.0 622.5,185.5 620.4,182.6 617.5,184.0" fill="#0927ff"/>
<path d="M616.0,182.3 619.0,180.8 616.8,178.0 613.9,179.4" fill="#0c59ff"/>
<path d="M617.8,184.6 620.7,183.1 618.6,180.2 615.7,181.7" fill="#0b41ff"/>
<path d="M589.2,163.0 592.1,161.8 590.0,159.5 587.1,160.7" fill="#0bffff"/>
<path d="M521.4,132.2 524.4,131.6 522.3,129.4 519.3,130.0" fill="#29ea00"/>
<path d="M604.8,172.5 607.7,171.2 605.6,168.6 602.6,170.0" fill="#0fbdff"/>
<path d="M583.2,160.3 586.2,159.2 584.0,157.0 581.1,158.1" fill="#08ffe0"/>
<path d="M507.5,124.1 510.6,123.7 508.5,121.4 505.5,121.8" fill="#6ce600"/>
<path d="M597.0,167.6 599.9,166.3 597.8,164.0 594.9,165.2" fill="#0dedff"/>
<path d="M490.0,111.1 493.0,110.8 491.0,108.2 487.9,108.4" fill="#d2e100"/>
<path d="M499.7,118.8 502.7,118.5 500.7,116.0 497.6,116.3" fill="#96e300"/>
<path d="M577.2,157.7 580.2,156.6 578.0,154.5 575.1,155.5" fill="#05ffc3"/>
<path d="M571.2,155.1 574.2,154.1 572.0,152.0 569.1,153.0" fill="#02ffa6"/>
<path d="M553.2,147.5 556.2,146.6 554.1,144.6 551.1,145.4" fill="#00f759"/>
<path d="M547.2,144.9 550.2,144.1 548.1,142.0 545.1,142.8" fill="#00f441"/>
<path d="M559.2,150.0 562.2,149.1 560.0,147.1 557.1,148.0" fill="#00fa72"/>
<path d="M565.2,152.6 568.2,151.6 566.0,149.5 563.1,150.5" fill="#00fd8b"/>
<path d="M541.2,142.2 544.2,141.5 542.1,139.4 539.1,140.1" fill="#00f129"/>
<path d="M515.3,129.1 518.4,128.6 516.3,126.4 513.3,126.8" fill="#45e800"/>
<path d="M606.6,174.5 609.5,173.2 607.3,170.6 604.4,171.9" fill="#0fadff"/>
<path d="M535.2,139.5 538.2,138.8 536.1,136.7 533.1,137.4" fill="#00ef10"/>
<path d="M472.9,93.0 475.9,92.9 473.8,89.7 470.8,89.8" fill="#d95800"/>
<path d="M471.0,90.5 474.1,90.4 471.9,87.1 468.9,87.2" fill="#d84400"/>
<path d="M474.7,95.5 477.8,95.4 475.7,92.2 472.6,92.4" fill="#da6c00"/>
<path d="M591.0,164.8 593.9,163.6 591.8,161.3 588.9,162.5" fill="#0bffff"/>
<path d="M529.1,136.7 532.2,136.1 530.1,134.0 527.1,134.6" fill="#09ec00"/>
<path d="M476.6,97.9 479.6,97.7 477.5,94.7 474.5,94.9" fill="#db7f00"/>
<path d="M598.8,169.5 601.7,168.2 599.6,165.8 596.7,167.0" fill="#0ee0ff"/>
<path d="M491.8,113.1 494.8,112.8 492.8,110.2 489.7,110.5" fill="#c6e100"/>
<path d="M608.3,176.7 611.3,175.3 609.1,172.6 606.2,174.0" fill="#0e9aff"/>
<path d="M620.7,193.3 623.6,191.8 621.5,188.6 618.6,190.1" fill="#0303ff"/>
<path d="M478.4,100.2 481.5,100.1 479.4,97.1 476.3,97.3" fill="#dc9100"/>
<path d="M585.0,162.1 588.0,160.9 585.8,158.7 582.9,159.8" fill="#09ffeb"/>
<path d="M523.1,133.8 526.2,133.2 524.1,131.1 521.1,131.6" fill="#23ea00"/>
<path d="M501.5,120.7 504.5,120.3 502.5,117.9 499.4,118.2" fill="#8ce400"/>
<path d="M509.3,125.9 512.3,125.4 510.3,123.1 507.2,123.5" fill="#63e600"/>
<path d="M610.1,178.8 613.0,177.4 610.9,174.7 608.0,176.1" fill="#0e87ff"/>
<path d="M618.9,190.7 621.8,189.2 619.7,186.1 616.8,187.6" fill="#060cff"/>
<path d="M480.2,102.5 483.3,102.3 481.2,99.4 478.1,99.6" fill="#dda200"/>
<path d="M579.0,159.4 582.0,158.3 579.8,156.1 576.9,157.2" fill="#06ffcd"/>
<path d="M611.9,181.1 614.8,179.7 612.7,176.9 609.8,178.3" fill="#0d72ff"/>
<path d="M617.2,188.2 620.1,186.7 618.0,183.7 615.1,185.2" fill="#0828ff"/>
<path d="M600.6,171.5 603.5,170.2 601.4,167.7 598.5,169.0" fill="#0ed1ff"/>
<path d="M573.0,156.8 576.0,155.7 573.8,153.6 570.9,154.6" fill="#03ffaf"/>
<path d="M592.8,166.6 595.7,165.4 593.6,163.0 590.7,164.2" fill="#0cffff"/>
<path d="M613.7,183.4 616.6,181.9 614.4,179.1 611.5,180.5" fill="#0b5bff"/>
<path d="M615.4,185.7 618.3,184.3 616.2,181.4 613.3,182.8" fill="#0a42ff"/>
<path d="M567.0,154.2 569.9,153.2 567.8,151.1 564.9,152.1" fill="#00ff93"/>
<path d="M517.1,130.8 520.1,130.3 518.1,128.0 515.1,128.5" fill="#3fe800"/>
<path d="M561.0,151.6 563.9,150.7 561.8,148.6 558.9,149.5" fill="#00fb79"/>
<path d="M555.0,149.0 557.9,148.2 555.8,146.1 552.9,146.9" fill="#00f860"/>
<path d="M493.6,115.1 496.6,114.8 494.6,112.2 491.5,112.5" fill="#bae100"/>
<path d="M549.0,146.4 551.9,145.6 549.9,143.5 546.9,144.3" fill="#00f547"/>
<path d="M543.0,143.8 545.9,143.0 543.9,140.9 540.9,141.7" fill="#00f22f"/>
<path d="M482.1,104.7 485.1,104.5 483.0,101.7 480.0,101.9" fill="#ddb100"/>
<path d="M536.9,141.1 539.9,140.4 537.9,138.3 534.9,139.0" fill="#00f016"/>
<path d="M586.8,163.8 589.7,162.6 587.6,160.4 584.7,161.5" fill="#0afff7"/>
<path d="M530.9,138.3 533.9,137.6 531.9,135.5 528.9,136.2" fill="#03ed00"/>
<path d="M602.4,173.5 605.3,172.2 603.2,169.6 600.2,170.9" fill="#0ec2ff"/>
<path d="M503.3,122.5 506.3,122.1 504.2,119.7 501.2,120.1" fill="#83e400"/>
<path d="M483.9,106.9 486.9,106.7 484.8,103.9 481.8,104.1" fill="#dec100"/>
<path d="M511.1,127.6 514.1,127.1 512.1,124.9 509.0,125.3" fill="#5ce600"/>
<path d="M594.6,168.5 597.5,167.3 595.4,164.9 592.5,166.1" fill="#0df2ff"/>
<path d="M524.9,135.4 527.9,134.8 525.9,132.7 522.9,133.2" fill="#1deb00"/>
<path d="M580.8,161.1 583.8,160.0 581.6,157.8 578.7,158.9" fill="#07ffd7"/>
<path d="M495.4,117.0 498.4,116.7 496.4,114.2 493.3,114.4" fill="#b0e100"/>
<path d="M604.2,175.6 607.1,174.2 605.0,171.6 602.0,172.9" fill="#0eb0ff"/>
<path d="M574.8,158.4 577.8,157.4 575.6,155.2 572.7,156.2" fill="#04ffb9"/>
<path d="M618.3,194.5 621.2,193.0 619.1,189.8 616.2,191.3" fill="#0202ff"/>
<path d="M485.7,109.0 488.7,108.8 486.7,106.1 483.6,106.3" fill="#decf00"/>
<path d="M568.8,155.8 571.7,154.8 569.6,152.7 566.7,153.7" fill="#01ff9c"/>
<path d="M518.9,132.4 521.9,131.9 519.9,129.7 516.8,130.2" fill="#38e800"/>
<path d="M562.8,153.2 565.7,152.3 563.6,150.1 560.7,151.1" fill="#00fd80"/>
<path d="M588.6,165.6 591.5,164.4 589.4,162.1 586.5,163.3" fill="#0bffff"/>
<path d="M606.0,177.7 608.9,176.3 606.7,173.7 603.8,175.0" fill="#0e9eff"/>
<path d="M556.8,150.6 559.7,149.7 557.6,147.6 554.7,148.5" fill="#00f966"/>
<path d="M550.8,148.0 553.7,147.2 551.6,145.1 548.7,145.9" fill="#00f64d"/>
<path d="M596.4,170.4 599.3,169.2 597.2,166.7 594.3,168.0" fill="#0de5ff"/>
<path d="M544.7,145.3 547.7,144.6 545.6,142.5 542.7,143.2" fill="#00f334"/>
<path d="M616.5,191.9 619.4,190.4 617.3,187.3 614.4,188.8" fill="#050dff"/>
<path d="M538.7,142.6 541.7,141.9 539.7,139.8 536.7,140.5" fill="#00f01c"/>
<path d="M505.0,124.2 508.1,123.9 506.0,121.5 503.0,121.9" fill="#7be400"/>
<path d="M607.7,179.9 610.6,178.5 608.5,175.8 605.6,177.1" fill="#0d8aff"/>
<path d="M532.7,139.9 535.7,139.2 533.7,137.1 530.6,137.7" fill="#00ee03"/>
<path d="M497.2,118.9 500.2,118.6 498.2,116.1 495.1,116.4" fill="#a5e100"/>
<path d="M614.8,189.3 617.7,187.9 615.6,184.9 612.7,186.3" fill="#0729ff"/>
<path d="M582.6,162.8 585.6,161.7 583.4,159.4 580.5,160.6" fill="#08ffe3"/>
<path d="M487.5,111.1 490.5,110.8 488.5,108.2 485.4,108.4" fill="#dfdc00"/>
<path d="M609.5,182.1 612.4,180.7 610.3,177.9 607.4,179.3" fill="#0c74ff"/>
<path d="M512.9,129.3 515.9,128.8 513.9,126.6 510.8,127.0" fill="#54e600"/>
<path d="M613.0,186.9 615.9,185.4 613.8,182.5 610.9,183.9" fill="#0944ff"/>
<path d="M611.3,184.5 614.2,183.1 612.1,180.2 609.2,181.6" fill="#0a5dff"/>
<path d="M598.2,172.4 601.1,171.1 599.0,168.6 596.1,169.9" fill="#0ed6ff"/>
<path d="M526.7,137.0 529.7,136.4 527.7,134.3 524.6,134.8" fill="#17eb00"/>
<path d="M576.6,160.1 579.6,159.1 577.4,156.8 574.5,157.9" fill="#05ffc3"/>
<path d="M590.4,167.5 593.3,166.3 591.2,163.9 588.3,165.1" fill="#0cffff"/>
<path d="M470.3,92.9 473.4,92.8 471.3,89.6 468.2,89.7" fill="#d74600"/>
<path d="M468.5,90.4 471.5,90.3 469.4,87.0 466.3,87.1" fill="#d63200"/>
<path d="M472.2,95.4 475.2,95.3 473.1,92.2 470.1,92.3" fill="#d85a00"/>
<path d="M570.6,157.5 573.5,156.4 571.4,154.3 568.5,155.3" fill="#02ffa5"/>
<path d="M474.0,97.8 477.1,97.7 475.0,94.6 471.9,94.8" fill="#d96c00"/>
<path d="M520.7,134.0 523.7,133.5 521.7,131.3 518.6,131.8" fill="#32e900"/>
<path d="M564.6,154.8 567.5,153.9 565.4,151.7 562.5,152.7" fill="#00fe88"/>
<path d="M489.3,113.1 492.4,112.9 490.3,110.2 487.2,110.5" fill="#d5df00"/>
<path d="M600.0,174.5 602.9,173.1 600.8,170.6 597.9,171.9" fill="#0ec6ff"/>
<path d="M558.6,152.2 561.5,151.3 559.4,149.2 556.5,150.1" fill="#00fb6d"/>
<path d="M506.8,126.0 509.9,125.6 507.8,123.3 504.8,123.7" fill="#73e400"/>
<path d="M475.9,100.2 478.9,100.0 476.8,97.0 473.8,97.2" fill="#da7e00"/>
<path d="M552.5,149.6 555.5,148.7 553.4,146.6 550.4,147.4" fill="#00f754"/>
<path d="M499.0,120.7 502.0,120.4 500.0,118.0 496.9,118.3" fill="#9ce200"/>
<path d="M584.4,164.6 587.4,163.5 585.2,161.2 582.3,162.3" fill="#09ffef"/>
<path d="M546.5,146.9 549.5,146.1 547.4,144.0 544.4,144.8" fill="#00f43a"/>
<path d="M540.5,144.2 543.5,143.5 541.4,141.4 538.4,142.1" fill="#00f121"/>
<path d="M592.2,169.4 595.1,168.2 593.0,165.7 590.1,166.9" fill="#0cf8ff"/>
<path d="M615.9,195.7 618.8,194.2 616.7,191.0 613.8,192.5" fill="#0101ff"/>
<path d="M477.7,102.4 480.8,102.3 478.7,99.4 475.6,99.5" fill="#db8f00"/>
<path d="M514.7,131.0 517.7,130.5 515.6,128.2 512.6,128.7" fill="#4de600"/>
<path d="M601.8,176.6 604.7,175.2 602.6,172.6 599.6,173.9" fill="#0db4ff"/>
<path d="M534.5,141.4 537.5,140.8 535.4,138.7 532.4,139.3" fill="#00ee08"/>
<path d="M578.4,161.9 581.4,160.8 579.2,158.5 576.3,159.6" fill="#07ffce"/>
<path d="M491.1,115.1 494.2,114.8 492.1,112.2 489.0,112.5" fill="#cadf00"/>
<path d="M528.5,138.6 531.5,138.0 529.4,135.9 526.4,136.4" fill="#11ec00"/>
<path d="M603.6,178.7 606.5,177.4 604.3,174.7 601.4,176.0" fill="#0da1ff"/>
<path d="M614.2,193.1 617.0,191.6 614.9,188.5 612.1,189.9" fill="#040dff"/>
<path d="M479.5,104.7 482.6,104.5 480.5,101.7 477.4,101.8" fill="#db9e00"/>
<path d="M572.4,159.1 575.3,158.1 573.2,155.9 570.3,156.9" fill="#04ffaf"/>
<path d="M594.0,171.3 596.9,170.1 594.8,167.6 591.9,168.8" fill="#0deaff"/>
<path d="M586.2,166.5 589.2,165.3 587.0,162.9 584.1,164.1" fill="#0afffb"/>
<path d="M605.3,180.9 608.2,179.6 606.1,176.8 603.2,178.1" fill="#0c8dff"/>
<path d="M612.4,190.5 615.3,189.0 613.2,186.0 610.3,187.4" fill="#062aff"/>
<path d="M566.4,156.5 569.3,155.5 567.2,153.3 564.3,154.3" fill="#00ff91"/>
<path d="M500.8,122.5 503.8,122.2 501.8,119.8 498.7,120.1" fill="#93e200"/>
<path d="M522.5,135.7 525.5,135.1 523.4,132.9 520.4,133.5" fill="#2be900"/>
<path d="M508.6,127.7 511.7,127.3 509.6,125.0 506.6,125.4" fill="#6be400"/>
<path d="M607.1,183.2 610.0,181.8 607.9,179.0 605.0,180.4" fill="#0b77ff"/>
<path d="M610.6,188.0 613.5,186.6 611.4,183.6 608.5,185.0" fill="#0846ff"/>
<path d="M560.4,153.8 563.3,152.9 561.2,150.7 558.2,151.7" fill="#00fc75"/>
<path d="M608.9,185.6 611.8,184.2 609.7,181.3 606.8,182.6" fill="#095fff"/>
<path d="M481.4,106.8 484.4,106.7 482.3,103.9 479.3,104.0" fill="#dcad00"/>
<path d="M554.3,151.1 557.3,150.3 555.2,148.2 552.2,149.0" fill="#00f95a"/>
<path d="M548.3,148.5 551.3,147.7 549.2,145.6 546.2,146.4" fill="#00f541"/>
<path d="M492.9,117.0 496.0,116.7 493.9,114.2 490.8,114.5" fill="#bfdf00"/>
<path d="M580.2,163.6 583.2,162.5 581.0,160.2 578.1,161.3" fill="#08ffda"/>
<path d="M595.8,173.4 598.7,172.1 596.6,169.5 593.7,170.8" fill="#0ddbff"/>
<path d="M542.3,145.8 545.3,145.0 543.2,142.9 540.2,143.7" fill="#00f227"/>
<path d="M516.4,132.6 519.5,132.1 517.4,129.9 514.4,130.4" fill="#47e700"/>
<path d="M536.3,143.0 539.3,142.3 537.2,140.2 534.2,140.9" fill="#00ef0e"/>
<path d="M588.0,168.3 590.9,167.2 588.8,164.8 585.9,165.9" fill="#0bffff"/>
<path d="M483.2,109.0 486.2,108.8 484.2,106.0 481.1,106.2" fill="#dcbb00"/>
<path d="M574.2,160.9 577.1,159.8 575.0,157.6 572.1,158.6" fill="#05ffba"/>
<path d="M530.3,140.2 533.3,139.6 531.2,137.4 528.2,138.0" fill="#0bec00"/>
<path d="M597.6,175.4 600.5,174.1 598.4,171.5 595.5,172.8" fill="#0dcbff"/>
<path d="M502.6,124.3 505.6,124.0 503.6,121.6 500.5,122.0" fill="#8ae200"/>
<path d="M613.5,196.9 616.4,195.4 614.3,192.2 611.4,193.6" fill="#0000ff"/>
<path d="M568.2,158.1 571.1,157.1 569.0,154.9 566.1,155.9" fill="#02ff9b"/>
<path d="M510.4,129.4 513.4,129.0 511.4,126.7 508.3,127.2" fill="#64e400"/>
<path d="M494.7,118.9 497.8,118.6 495.7,116.1 492.6,116.4" fill="#b5e000"/>
<path d="M524.2,137.3 527.3,136.7 525.2,134.6 522.2,135.1" fill="#25ea00"/>
<path d="M582.0,165.4 585.0,164.3 582.8,162.0 579.9,163.1" fill="#09ffe6"/>
<path d="M562.2,155.4 565.1,154.5 563.0,152.3 560.0,153.3" fill="#00fd7d"/>
<path d="M485.0,111.0 488.0,110.8 486.0,108.2 482.9,108.3" fill="#ddc900"/>
<path d="M599.4,177.5 602.3,176.2 600.2,173.6 597.2,174.9" fill="#0db9ff"/>
<path d="M589.8,170.3 592.7,169.1 590.6,166.6 587.7,167.8" fill="#0cfeff"/>
<path d="M556.1,152.8 559.1,151.9 557.0,149.7 554.0,150.6" fill="#00fa62"/>
<path d="M611.8,194.2 614.7,192.8 612.6,189.6 609.7,191.0" fill="#020eff"/>
<path d="M550.1,150.1 553.1,149.2 551.0,147.1 548.0,147.9" fill="#00f747"/>
<path d="M518.2,134.3 521.3,133.8 519.2,131.6 516.2,132.1" fill="#40e700"/>
<path d="M601.2,179.7 604.1,178.4 601.9,175.7 599.0,177.0" fill="#0ca5ff"/>
<path d="M544.1,147.3 547.1,146.6 545.0,144.5 542.0,145.2" fill="#00f32e"/>
<path d="M576.0,162.6 578.9,161.5 576.8,159.3 573.9,160.3" fill="#06ffc5"/>
<path d="M610.0,191.6 612.9,190.2 610.8,187.1 607.9,188.5" fill="#052cff"/>
<path d="M467.8,92.8 470.9,92.7 468.7,89.5 465.7,89.6" fill="#d53400"/>
<path d="M465.9,90.3 469.0,90.2 466.8,86.9 463.8,87.0" fill="#d42000"/>
<path d="M469.6,95.3 472.7,95.2 470.6,92.1 467.5,92.2" fill="#d64700"/>
<path d="M602.9,182.0 605.9,180.6 603.7,177.8 600.8,179.2" fill="#0b90ff"/>
<path d="M538.1,144.6 541.1,143.9 539.0,141.8 536.0,142.5" fill="#00f014"/>
<path d="M608.3,189.1 611.2,187.7 609.0,184.7 606.1,186.1" fill="#0747ff"/>
<path d="M486.8,113.1 489.9,112.9 487.8,110.2 484.7,110.4" fill="#ddd500"/>
<path d="M591.6,172.3 594.5,171.0 592.4,168.5 589.5,169.7" fill="#0cf0ff"/>
<path d="M504.3,126.1 507.4,125.7 505.4,123.4 502.3,123.8" fill="#82e200"/>
<path d="M471.5,97.7 474.6,97.6 472.5,94.6 469.4,94.6" fill="#d75a00"/>
<path d="M604.7,184.3 607.6,182.9 605.5,180.0 602.6,181.4" fill="#0a7aff"/>
<path d="M606.5,186.7 609.4,185.3 607.3,182.3 604.4,183.7" fill="#0961ff"/>
<path d="M583.8,167.3 586.7,166.1 584.6,163.8 581.7,164.9" fill="#0afff3"/>
<path d="M496.5,120.8 499.5,120.5 497.5,118.0 494.4,118.3" fill="#abe000"/>
<path d="M570.0,159.8 572.9,158.8 570.8,156.6 567.9,157.6" fill="#03ffa5"/>
<path d="M532.1,141.8 535.1,141.1 533.0,139.0 530.0,139.6" fill="#05ed00"/>
<path d="M473.3,100.1 476.4,100.0 474.3,97.0 471.2,97.1" fill="#d86b00"/>
<path d="M512.2,131.1 515.2,130.7 513.2,128.4 510.1,128.9" fill="#5ce500"/>
<path d="M564.0,157.1 566.9,156.1 564.8,153.9 561.8,154.9" fill="#00ff86"/>
<path d="M526.0,138.9 529.1,138.3 527.0,136.2 524.0,136.7" fill="#1fea00"/>
<path d="M475.2,102.3 478.2,102.2 476.1,99.3 473.1,99.4" fill="#d97b00"/>
<path d="M593.4,174.3 596.3,173.0 594.2,170.5 591.3,171.7" fill="#0ce0ff"/>
<path d="M557.9,154.4 560.9,153.5 558.8,151.3 555.8,152.2" fill="#00fb6a"/>
<path d="M577.8,164.4 580.7,163.3 578.6,161.0 575.7,162.1" fill="#07ffd1"/>
<path d="M488.6,115.0 491.7,114.8 489.6,112.2 486.5,112.4" fill="#d9dd00"/>
<path d="M551.9,151.7 554.9,150.8 552.8,148.7 549.8,149.5" fill="#00f84e"/>
<path d="M585.6,169.2 588.5,168.0 586.4,165.6 583.5,166.7" fill="#0affff"/>
<path d="M611.1,198.1 614.0,196.6 611.9,193.3 609.0,194.8" fill="#0000fe"/>
<path d="M520.0,135.9 523.0,135.4 521.0,133.2 517.9,133.7" fill="#3ae800"/>
<path d="M477.0,104.6 480.1,104.5 478.0,101.6 474.9,101.7" fill="#d98b00"/>
<path d="M545.9,148.9 548.9,148.2 546.8,146.0 543.8,146.8" fill="#00f434"/>
<path d="M595.2,176.4 598.1,175.1 596.0,172.5 593.1,173.7" fill="#0ccfff"/>
<path d="M498.3,122.6 501.3,122.3 499.3,119.9 496.2,120.2" fill="#a2e000"/>
<path d="M506.1,127.8 509.2,127.5 507.1,125.2 504.1,125.5" fill="#7ae200"/>
<path d="M571.8,161.6 574.7,160.5 572.6,158.3 569.7,159.3" fill="#04ffb0"/>
<path d="M539.9,146.2 542.9,145.5 540.8,143.3 537.8,144.0" fill="#00f11a"/>
<path d="M609.4,195.4 612.3,193.9 610.2,190.7 607.3,192.2" fill="#010fff"/>
<path d="M478.8,106.8 481.9,106.6 479.8,103.8 476.7,103.9" fill="#da9a00"/>
<path d="M533.9,143.4 536.9,142.7 534.8,140.6 531.8,141.2" fill="#00ee00"/>
<path d="M597.0,178.5 599.9,177.2 597.8,174.5 594.9,175.8" fill="#0cbdff"/>
<path d="M514.0,132.8 517.0,132.3 515.0,130.1 511.9,130.6" fill="#56e500"/>
<path d="M565.8,158.8 568.7,157.8 566.6,155.6 563.6,156.6" fill="#01ff90"/>
<path d="M490.4,117.0 493.5,116.8 491.4,114.2 488.3,114.4" fill="#cfdd00"/>
<path d="M587.4,171.1 590.3,169.9 588.2,167.5 585.3,168.6" fill="#0bffff"/>
<path d="M579.6,166.2 582.5,165.1 580.4,162.8 577.5,163.9" fill="#08ffdd"/>
<path d="M607.6,192.8 610.5,191.3 608.4,188.2 605.5,189.6" fill="#042dff"/>
<path d="M598.8,180.7 601.7,179.4 599.6,176.7 596.6,178.0" fill="#0ba9ff"/>
<path d="M527.8,140.5 530.9,139.9 528.8,137.8 525.8,138.3" fill="#19eb00"/>
<path d="M559.7,156.0 562.7,155.1 560.6,152.9 557.6,153.8" fill="#00fd72"/>
<path d="M605.9,190.2 608.8,188.8 606.7,185.8 603.8,187.2" fill="#0649ff"/>
<path d="M600.6,183.0 603.5,181.7 601.3,178.8 598.4,180.2" fill="#0a94ff"/>
<path d="M480.6,108.9 483.7,108.7 481.6,106.0 478.6,106.1" fill="#daa800"/>
<path d="M604.1,187.7 607.0,186.4 604.9,183.4 602.0,184.8" fill="#0764ff"/>
<path d="M602.3,185.3 605.2,184.0 603.1,181.1 600.2,182.4" fill="#097dff"/>
<path d="M553.7,153.3 556.7,152.4 554.6,150.3 551.6,151.1" fill="#00f956"/>
<path d="M500.1,124.4 503.1,124.1 501.1,121.7 498.0,122.0" fill="#9ae000"/>
<path d="M573.6,163.3 576.5,162.3 574.4,160.0 571.5,161.0" fill="#05ffbb"/>
<path d="M521.8,137.5 524.8,137.0 522.8,134.8 519.7,135.3" fill="#34e800"/>
<path d="M589.2,173.1 592.1,171.9 590.0,169.4 587.1,170.6" fill="#0bf5ff"/>
<path d="M507.9,129.6 511.0,129.2 508.9,126.9 505.9,127.3" fill="#73e300"/>
<path d="M547.7,150.5 550.7,149.7 548.6,147.6 545.6,148.4" fill="#00f63b"/>
<path d="M581.4,168.1 584.3,167.0 582.2,164.6 579.3,165.7" fill="#09ffeb"/>
<path d="M492.2,118.9 495.3,118.7 493.2,116.2 490.1,116.4" fill="#c5de00"/>
<path d="M541.7,147.8 544.7,147.0 542.6,144.9 539.6,145.6" fill="#00f220"/>
<path d="M567.6,160.5 570.5,159.5 568.4,157.3 565.4,158.2" fill="#02ff9a"/>
<path d="M482.4,111.0 485.5,110.8 483.5,108.1 480.4,108.3" fill="#dab500"/>
<path d="M515.8,134.5 518.8,134.0 516.7,131.8 513.7,132.2" fill="#4fe600"/>
<path d="M535.6,145.0 538.7,144.3 536.6,142.2 533.6,142.8" fill="#00ef06"/>
<path d="M608.8,199.3 611.6,197.8 609.5,194.5 606.7,195.9" fill="#0000fc"/>
<path d="M591.0,175.2 593.9,174.0 591.8,171.4 588.9,172.6" fill="#0be5ff"/>
<path d="M561.5,157.7 564.5,156.8 562.4,154.6 559.4,155.5" fill="#00fe7b"/>
<path d="M529.6,142.1 532.6,141.5 530.6,139.3 527.5,139.9" fill="#14ec00"/>
<path d="M575.4,165.2 578.3,164.1 576.2,161.7 573.3,162.8" fill="#06ffc7"/>
<path d="M501.8,126.2 504.9,125.8 502.9,123.5 499.8,123.8" fill="#91e000"/>
<path d="M583.2,170.0 586.1,168.9 584.0,166.4 581.1,167.6" fill="#0afff9"/>
<path d="M465.2,92.7 468.3,92.6 466.2,89.4 463.1,89.4" fill="#d32200"/>
<path d="M592.8,177.3 595.7,176.1 593.6,173.4 590.7,174.6" fill="#0bd4ff"/>
<path d="M463.4,90.1 466.4,90.1 464.3,86.8 461.2,86.8" fill="#d20e00"/>
<path d="M467.1,95.1 470.2,95.1 468.0,92.0 465.0,92.0" fill="#d43500"/>
<path d="M607.0,196.5 609.9,195.1 607.8,191.9 604.9,193.3" fill="#0010ff"/>
<path d="M555.5,154.9 558.5,154.1 556.4,151.9 553.4,152.7" fill="#00fa5e"/>
<path d="M484.3,113.0 487.3,112.8 485.3,110.2 482.2,110.3" fill="#dbc100"/>
<path d="M494.0,120.8 497.1,120.5 495.0,118.1 491.9,118.3" fill="#bbde00"/>
<path d="M468.9,97.6 472.0,97.5 469.9,94.4 466.8,94.5" fill="#d54700"/>
<path d="M509.7,131.3 512.8,130.9 510.7,128.6 507.7,129.0" fill="#6ce300"/>
<path d="M523.6,139.2 526.6,138.6 524.6,136.4 521.5,137.0" fill="#2ee900"/>
<path d="M549.5,152.2 552.5,151.4 550.4,149.2 547.4,150.0" fill="#00f742"/>
<path d="M594.6,179.5 597.5,178.2 595.4,175.5 592.5,176.7" fill="#0bc1ff"/>
<path d="M470.8,99.9 473.9,99.8 471.8,96.8 468.7,96.9" fill="#d65800"/>
<path d="M569.4,162.3 572.3,161.2 570.2,159.0 567.2,160.0" fill="#03ffa5"/>
<path d="M605.2,193.9 608.1,192.5 606.0,189.3 603.1,190.7" fill="#022fff"/>
<path d="M543.5,149.4 546.5,148.6 544.4,146.5 541.4,147.2" fill="#00f327"/>
<path d="M585.0,172.0 587.9,170.8 585.8,168.3 582.9,169.5" fill="#0affff"/>
<path d="M596.4,181.7 599.3,180.4 597.2,177.6 594.2,178.9" fill="#0aadff"/>
<path d="M603.5,191.3 606.4,189.9 604.3,186.9 601.4,188.2" fill="#054bff"/>
<path d="M517.5,136.1 520.6,135.6 518.5,133.4 515.5,133.9" fill="#49e600"/>
<path d="M472.6,102.2 475.7,102.1 473.6,99.2 470.5,99.3" fill="#d66800"/>
<path d="M577.2,167.0 580.1,165.9 578.0,163.5 575.1,164.6" fill="#07ffd4"/>
<path d="M598.2,184.0 601.1,182.7 598.9,179.8 596.0,181.1" fill="#0997ff"/>
<path d="M537.4,146.6 540.4,145.9 538.4,143.7 535.4,144.4" fill="#00f00d"/>
<path d="M601.7,188.8 604.6,187.4 602.5,184.4 599.6,185.8" fill="#0666ff"/>
<path d="M486.1,115.0 489.1,114.8 487.1,112.2 484.0,112.4" fill="#dbcd00"/>
<path d="M563.3,159.4 566.3,158.5 564.2,156.2 561.2,157.2" fill="#00ff85"/>
<path d="M599.9,186.4 602.8,185.0 600.7,182.1 597.8,183.4" fill="#0880ff"/>
<path d="M503.6,127.9 506.7,127.6 504.7,125.3 501.6,125.6" fill="#8ae100"/>
<path d="M495.8,122.6 498.8,122.4 496.8,119.9 493.7,120.2" fill="#b2de00"/>
<path d="M531.4,143.7 534.4,143.1 532.4,140.9 529.3,141.5" fill="#0ded00"/>
<path d="M474.5,104.4 477.5,104.4 475.5,101.5 472.4,101.6" fill="#d77800"/>
<path d="M557.3,156.6 560.3,155.7 558.2,153.5 555.2,154.4" fill="#00fc66"/>
<path d="M586.8,174.0 589.7,172.8 587.6,170.3 584.7,171.4" fill="#0afbff"/>
<path d="M511.5,133.0 514.5,132.5 512.5,130.3 509.4,130.7" fill="#65e400"/>
<path d="M571.2,164.1 574.1,163.0 572.0,160.7 569.0,161.7" fill="#05ffb1"/>
<path d="M606.4,200.4 609.2,199.0 607.2,195.7 604.3,197.1" fill="#0000fb"/>
<path d="M525.4,140.8 528.4,140.2 526.3,138.0 523.3,138.6" fill="#28ea00"/>
<path d="M551.3,153.8 554.3,153.0 552.2,150.8 549.2,151.6" fill="#00f84a"/>
<path d="M579.0,168.9 581.9,167.8 579.8,165.4 576.9,166.5" fill="#08ffe2"/>
<path d="M476.3,106.6 479.4,106.5 477.3,103.7 474.2,103.8" fill="#d88600"/>
<path d="M487.9,117.0 490.9,116.8 488.9,114.2 485.8,114.4" fill="#dbd800"/>
<path d="M588.6,176.1 591.5,174.9 589.4,172.3 586.5,173.5" fill="#0aebff"/>
<path d="M545.3,151.0 548.3,150.2 546.2,148.1 543.2,148.8" fill="#00f52e"/>
<path d="M565.2,161.2 568.1,160.2 566.0,157.9 563.0,158.9" fill="#01ff8f"/>
<path d="M604.6,197.7 607.5,196.3 605.4,193.0 602.5,194.4" fill="#0013fe"/>
<path d="M519.3,137.8 522.4,137.3 520.3,135.1 517.3,135.6" fill="#43e700"/>
<path d="M539.2,148.2 542.2,147.5 540.2,145.3 537.1,146.0" fill="#00f113"/>
<path d="M497.6,124.4 500.6,124.2 498.6,121.8 495.5,122.0" fill="#a9de00"/>
<path d="M478.1,108.8 481.2,108.7 479.1,105.9 476.0,106.0" fill="#d89400"/>
<path d="M505.4,129.7 508.5,129.3 506.4,127.0 503.4,127.4" fill="#82e100"/>
<path d="M590.4,178.2 593.3,177.0 591.2,174.3 588.3,175.5" fill="#0ad9ff"/>
<path d="M580.8,170.9 583.7,169.7 581.6,167.2 578.7,168.3" fill="#09fff1"/>
<path d="M573.0,165.9 575.9,164.8 573.8,162.5 570.8,163.5" fill="#06ffbe"/>
<path d="M559.1,158.3 562.1,157.4 560.0,155.2 557.0,156.1" fill="#00fd70"/>
<path d="M602.9,195.0 605.7,193.6 603.6,190.4 600.7,191.8" fill="#0130ff"/>
<path d="M533.2,145.3 536.2,144.7 534.1,142.5 531.1,143.2" fill="#07ee00"/>
<path d="M592.2,180.4 595.1,179.2 593.0,176.4 590.1,177.7" fill="#0ac6ff"/>
<path d="M489.7,118.9 492.7,118.7 490.7,116.2 487.6,116.3" fill="#d4dc00"/>
<path d="M513.3,134.6 516.3,134.2 514.3,132.0 511.2,132.4" fill="#5ee400"/>
<path d="M601.1,192.4 604.0,191.0 601.9,187.9 599.0,189.3" fill="#034eff"/>
<path d="M553.1,155.5 556.1,154.6 554.0,152.4 551.0,153.3" fill="#00f952"/>
<path d="M594.0,182.7 596.9,181.4 594.8,178.6 591.8,179.9" fill="#09b1ff"/>
<path d="M527.2,142.4 530.2,141.8 528.1,139.6 525.1,140.2" fill="#22eb00"/>
<path d="M479.9,110.9 483.0,110.7 480.9,108.0 477.8,108.1" fill="#d8a100"/>
<path d="M599.3,189.9 602.2,188.5 600.1,185.5 597.2,186.8" fill="#0569ff"/>
<path d="M595.8,185.0 598.7,183.7 596.5,180.8 593.6,182.1" fill="#089bff"/>
<path d="M567.0,162.9 569.9,161.9 567.8,159.6 564.8,160.6" fill="#03ff9b"/>
<path d="M582.6,172.8 585.5,171.7 583.4,169.2 580.5,170.3" fill="#09ffff"/>
<path d="M597.5,187.4 600.4,186.1 598.3,183.1 595.4,184.4" fill="#0783ff"/>
<path d="M547.1,152.7 550.1,151.9 548.0,149.7 545.0,150.5" fill="#00f635"/>
<path d="M574.8,167.8 577.7,166.7 575.6,164.3 572.7,165.3" fill="#07ffcb"/>
<path d="M499.3,126.2 502.4,125.9 500.4,123.6 497.3,123.8" fill="#a1df00"/>
<path d="M521.1,139.4 524.2,138.9 522.1,136.7 519.0,137.2" fill="#3de800"/>
<path d="M604.0,201.6 606.9,200.2 604.8,196.8 601.9,198.2" fill="#0000fa"/>
<path d="M507.2,131.4 510.3,131.0 508.2,128.7 505.2,129.1" fill="#7be100"/>
<path d="M541.0,149.8 544.0,149.1 541.9,146.9 538.9,147.6" fill="#00f21a"/>
<path d="M560.9,160.0 563.9,159.1 561.8,156.8 558.8,157.8" fill="#00fe79"/>
<path d="M462.7,92.5 465.7,92.5 463.6,89.2 460.5,89.2" fill="#d10f00"/>
<path d="M491.5,120.8 494.5,120.5 492.5,118.1 489.4,118.3" fill="#cbdc00"/>
<path d="M481.7,112.9 484.8,112.8 482.8,110.1 479.7,110.2" fill="#d9ae00"/>
<path d="M460.8,89.9 463.9,89.9 461.7,86.6 458.6,86.6" fill="#d00000"/>
<path d="M464.5,94.9 467.6,94.9 465.5,91.8 462.4,91.8" fill="#d22200"/>
<path d="M584.4,174.9 587.3,173.7 585.2,171.1 582.3,172.3" fill="#0affff"/>
<path d="M466.4,97.4 469.5,97.4 467.4,94.3 464.3,94.3" fill="#d33400"/>
<path d="M535.0,146.9 538.0,146.3 535.9,144.1 532.9,144.8" fill="#01ef00"/>
<path d="M515.1,136.3 518.1,135.8 516.1,133.6 513.0,134.1" fill="#58e500"/>
<path d="M554.9,157.2 557.9,156.3 555.8,154.1 552.8,154.9" fill="#00fb5b"/>
<path d="M568.8,164.8 571.7,163.7 569.6,161.4 566.6,162.4" fill="#04ffa7"/>
<path d="M468.2,99.7 471.3,99.7 469.2,96.7 466.1,96.7" fill="#d44500"/>
<path d="M602.2,198.8 605.1,197.4 603.0,194.1 600.1,195.5" fill="#0015fc"/>
<path d="M576.6,169.7 579.5,168.6 577.4,166.1 574.5,167.2" fill="#07ffd9"/>
<path d="M586.2,177.0 589.1,175.8 587.0,173.1 584.1,174.3" fill="#0af0ff"/>
<path d="M528.9,144.0 532.0,143.4 529.9,141.3 526.9,141.8" fill="#1cec00"/>
<path d="M470.1,102.0 473.2,102.0 471.1,99.1 468.0,99.1" fill="#d45500"/>
<path d="M483.5,114.9 486.6,114.8 484.6,112.2 481.5,112.3" fill="#d9b900"/>
<path d="M548.9,154.3 551.9,153.5 549.8,151.3 546.8,152.1" fill="#00f73d"/>
<path d="M501.1,128.0 504.2,127.7 502.2,125.3 499.1,125.6" fill="#99df00"/>
<path d="M600.5,196.1 603.4,194.7 601.2,191.5 598.4,192.9" fill="#0032ff"/>
<path d="M588.0,179.2 590.9,177.9 588.8,175.2 585.9,176.4" fill="#09deff"/>
<path d="M493.3,122.6 496.3,122.4 494.3,119.9 491.2,120.2" fill="#c2dc00"/>
<path d="M562.7,161.8 565.7,160.8 563.6,158.6 560.6,159.5" fill="#01ff84"/>
<path d="M522.9,141.0 525.9,140.5 523.9,138.3 520.8,138.8" fill="#36e800"/>
<path d="M509.0,133.1 512.1,132.7 510.0,130.4 507.0,130.8" fill="#74e200"/>
<path d="M471.9,104.3 475.0,104.2 472.9,101.4 469.8,101.4" fill="#d56400"/>
<path d="M542.8,151.5 545.8,150.7 543.7,148.5 540.7,149.3" fill="#00f421"/>
<path d="M578.4,171.7 581.3,170.5 579.2,168.0 576.3,169.1" fill="#08ffe8"/>
<path d="M598.7,193.5 601.6,192.1 599.5,189.0 596.6,190.3" fill="#0250ff"/>
<path d="M589.8,181.4 592.7,180.1 590.6,177.4 587.7,178.6" fill="#09caff"/>
<path d="M570.6,166.6 573.5,165.6 571.4,163.2 568.4,164.2" fill="#05ffb4"/>
<path d="M591.6,183.7 594.5,182.4 592.4,179.6 589.4,180.8" fill="#08b5ff"/>
<path d="M596.9,190.9 599.8,189.6 597.7,186.5 594.8,187.8" fill="#046cff"/>
<path d="M536.8,148.6 539.8,147.9 537.7,145.7 534.7,146.4" fill="#00f006"/>
<path d="M556.7,158.9 559.7,158.0 557.6,155.7 554.6,156.6" fill="#00fc64"/>
<path d="M593.4,186.0 596.3,184.7 594.1,181.8 591.2,183.1" fill="#079eff"/>
<path d="M595.1,188.4 598.0,187.1 595.9,184.1 593.0,185.4" fill="#0686ff"/>
<path d="M485.3,116.9 488.4,116.7 486.4,114.2 483.3,114.3" fill="#d9c400"/>
<path d="M516.8,138.0 519.9,137.5 517.8,135.3 514.8,135.7" fill="#52e500"/>
<path d="M473.7,106.5 476.8,106.4 474.7,103.6 471.6,103.7" fill="#d57200"/>
<path d="M601.6,202.8 604.5,201.3 602.4,197.9 599.5,199.3" fill="#0000f8"/>
<path d="M580.2,173.7 583.1,172.5 581.0,170.0 578.1,171.1" fill="#08fff7"/>
<path d="M530.7,145.7 533.8,145.0 531.7,142.9 528.7,143.5" fill="#15ed00"/>
<path d="M550.7,156.0 553.7,155.2 551.5,153.0 548.6,153.8" fill="#00f946"/>
<path d="M502.9,129.7 506.0,129.4 504.0,127.1 500.9,127.4" fill="#92df00"/>
<path d="M495.0,124.4 498.1,124.2 496.1,121.8 493.0,122.0" fill="#b9dc00"/>
<path d="M564.5,163.6 567.5,162.6 565.4,160.3 562.4,161.3" fill="#02ff90"/>
<path d="M572.4,168.5 575.3,167.4 573.2,165.0 570.2,166.1" fill="#06ffc2"/>
<path d="M475.5,108.6 478.6,108.6 476.6,105.8 473.5,105.9" fill="#d68000"/>
<path d="M510.8,134.8 513.9,134.4 511.8,132.1 508.7,132.5" fill="#6ee300"/>
<path d="M524.7,142.7 527.7,142.1 525.7,139.9 522.6,140.5" fill="#30e900"/>
<path d="M582.0,175.8 584.9,174.6 582.8,172.0 579.9,173.1" fill="#09ffff"/>
<path d="M544.6,153.1 547.6,152.3 545.5,150.2 542.5,150.9" fill="#00f529"/>
<path d="M599.8,199.9 602.7,198.5 600.6,195.2 597.7,196.6" fill="#0018fb"/>
<path d="M487.1,118.8 490.2,118.6 488.2,116.1 485.1,116.3" fill="#dacf00"/>
<path d="M558.5,160.6 561.5,159.7 559.4,157.4 556.4,158.3" fill="#00fd6e"/>
<path d="M538.6,150.2 541.6,149.5 539.5,147.3 536.5,148.0" fill="#00f10d"/>
<path d="M477.4,110.7 480.5,110.6 478.4,107.9 475.3,108.0" fill="#d68d00"/>
<path d="M583.8,177.9 586.7,176.7 584.6,174.0 581.7,175.2" fill="#09f6ff"/>
<path d="M518.6,139.6 521.7,139.1 519.6,136.9 516.6,137.4" fill="#4be600"/>
<path d="M574.2,170.5 577.1,169.4 575.0,166.9 572.0,168.0" fill="#07ffd0"/>
<path d="M598.1,197.2 601.0,195.8 598.9,192.6 596.0,193.9" fill="#0035fe"/>
<path d="M566.3,165.4 569.3,164.4 567.2,162.1 564.2,163.1" fill="#03ff9d"/>
<path d="M496.8,126.3 499.9,126.0 497.9,123.6 494.8,123.9" fill="#b1dd00"/>
<path d="M552.5,157.7 555.5,156.9 553.3,154.6 550.4,155.5" fill="#00fa4f"/>
<path d="M504.7,131.5 507.8,131.1 505.7,128.8 502.7,129.2" fill="#8be000"/>
<path d="M532.5,147.3 535.6,146.7 533.5,144.5 530.5,145.1" fill="#0fee00"/>
<path d="M585.6,180.1 588.5,178.8 586.4,176.1 583.5,177.3" fill="#08e3ff"/>
<path d="M596.3,194.5 599.2,193.2 597.1,190.0 594.2,191.4" fill="#0152ff"/>
<path d="M488.9,120.7 492.0,120.5 490.0,118.0 486.9,118.2" fill="#dad900"/>
<path d="M587.4,182.3 590.3,181.1 588.2,178.3 585.2,179.5" fill="#08cfff"/>
<path d="M479.2,112.8 482.3,112.7 480.2,110.0 477.1,110.1" fill="#d79a00"/>
<path d="M512.6,136.5 515.6,136.0 513.6,133.8 510.5,134.2" fill="#67e300"/>
<path d="M460.1,92.2 463.2,92.3 461.0,89.0 457.9,89.0" fill="#cf0000"/>
<path d="M546.4,154.8 549.4,154.0 547.3,151.8 544.3,152.6" fill="#00f631"/>
<path d="M594.5,192.0 597.4,190.6 595.3,187.5 592.4,188.8" fill="#036fff"/>
<path d="M576.0,172.5 578.9,171.3 576.8,168.8 573.8,169.9" fill="#07ffdf"/>
<path d="M461.9,94.7 465.0,94.8 462.9,91.6 459.8,91.6" fill="#d00f00"/>
<path d="M458.2,89.7 461.3,89.7 459.1,86.4 456.0,86.4" fill="#ce0000"/>
<path d="M560.3,162.4 563.3,161.5 561.2,159.2 558.2,160.1" fill="#00ff79"/>
<path d="M526.5,144.3 529.5,143.7 527.5,141.6 524.4,142.1" fill="#2aea00"/>
<path d="M589.2,184.6 592.1,183.4 590.0,180.5 587.0,181.7" fill="#07baff"/>
<path d="M592.7,189.4 595.7,188.1 593.5,185.1 590.6,186.4" fill="#0589ff"/>
<path d="M591.0,187.0 593.9,185.7 591.7,182.8 588.8,184.0" fill="#06a2ff"/>
<path d="M599.2,203.9 602.1,202.5 600.0,199.1 597.1,200.4" fill="#0000f7"/>
<path d="M463.8,97.2 466.9,97.2 464.8,94.1 461.7,94.1" fill="#d12000"/>
<path d="M568.1,167.3 571.1,166.3 569.0,163.9 566.0,164.9" fill="#04ffaa"/>
<path d="M465.6,99.5 468.7,99.5 466.7,96.5 463.5,96.5" fill="#d13100"/>
<path d="M540.4,151.9 543.4,151.2 541.3,149.0 538.3,149.7" fill="#00f314"/>
<path d="M520.4,141.3 523.5,140.8 521.4,138.6 518.4,139.1" fill="#45e700"/>
<path d="M498.6,128.0 501.7,127.7 499.7,125.4 496.6,125.7" fill="#a9dd00"/>
<path d="M577.8,174.5 580.7,173.4 578.6,170.8 575.6,171.9" fill="#08ffef"/>
<path d="M554.3,159.5 557.3,158.6 555.1,156.3 552.2,157.2" fill="#00fb58"/>
<path d="M481.0,114.8 484.1,114.7 482.0,112.1 478.9,112.2" fill="#d7a500"/>
<path d="M467.5,101.8 470.6,101.8 468.5,98.9 465.4,98.9" fill="#d24100"/>
<path d="M506.5,133.2 509.6,132.8 507.5,130.5 504.5,130.9" fill="#84e000"/>
<path d="M490.7,122.6 493.8,122.4 491.8,119.9 488.7,120.1" fill="#d1da00"/>
<path d="M597.5,201.1 600.3,199.7 598.2,196.3 595.3,197.7" fill="#001afa"/>
<path d="M534.3,148.9 537.4,148.3 535.3,146.1 532.2,146.7" fill="#08ef00"/>
<path d="M562.1,164.3 565.1,163.3 563.0,160.9 560.0,161.9" fill="#01ff85"/>
<path d="M570.0,169.2 572.9,168.2 570.8,165.7 567.8,166.8" fill="#05ffb8"/>
<path d="M469.3,104.1 472.4,104.1 470.4,101.2 467.2,101.2" fill="#d35000"/>
<path d="M579.6,176.6 582.5,175.4 580.4,172.8 577.4,173.9" fill="#08ffff"/>
<path d="M548.2,156.5 551.2,155.7 549.1,153.5 546.1,154.3" fill="#00f839"/>
<path d="M514.4,138.1 517.4,137.7 515.4,135.5 512.3,135.9" fill="#61e400"/>
<path d="M528.3,146.0 531.3,145.4 529.2,143.2 526.2,143.8" fill="#24eb00"/>
<path d="M595.7,198.3 598.6,196.9 596.5,193.7 593.6,195.0" fill="#0038fc"/>
<path d="M482.8,116.8 485.9,116.7 483.9,114.1 480.7,114.2" fill="#d7b000"/>
<path d="M581.4,178.7 584.3,177.6 582.2,174.9 579.2,176.0" fill="#08fcff"/>
<path d="M471.1,106.3 474.3,106.3 472.2,103.4 469.1,103.5" fill="#d35f00"/>
<path d="M542.2,153.6 545.2,152.8 543.1,150.6 540.1,151.3" fill="#00f41c"/>
<path d="M556.1,161.2 559.1,160.3 556.9,158.0 554.0,158.9" fill="#00fd62"/>
<path d="M500.4,129.8 503.5,129.5 501.5,127.2 498.4,127.4" fill="#a1dd00"/>
<path d="M571.8,171.2 574.7,170.1 572.6,167.6 569.6,168.7" fill="#06ffc6"/>
<path d="M492.5,124.4 495.6,124.2 493.6,121.8 490.5,122.0" fill="#c9da00"/>
<path d="M593.9,195.6 596.8,194.3 594.7,191.1 591.8,192.4" fill="#0055ff"/>
<path d="M522.2,142.9 525.3,142.4 523.2,140.2 520.2,140.7" fill="#3fe800"/>
<path d="M583.2,181.0 586.1,179.8 584.0,177.0 581.0,178.2" fill="#07e9ff"/>
<path d="M563.9,166.1 566.9,165.1 564.8,162.7 561.8,163.7" fill="#02ff92"/>
<path d="M508.3,134.9 511.4,134.5 509.3,132.3 506.2,132.6" fill="#7de100"/>
<path d="M536.1,150.6 539.1,149.9 537.1,147.7 534.0,148.4" fill="#01f000"/>
<path d="M592.1,193.0 595.0,191.7 592.9,188.6 590.0,189.8" fill="#0272ff"/>
<path d="M596.8,205.0 599.7,203.6 597.6,200.2 594.7,201.5" fill="#0000f6"/>
<path d="M473.0,108.5 476.1,108.4 474.0,105.6 470.9,105.7" fill="#d46c00"/>
<path d="M585.0,183.2 587.9,182.0 585.8,179.2 582.8,180.4" fill="#07d4ff"/>
<path d="M550.0,158.2 553.0,157.4 550.9,155.1 547.9,156.0" fill="#00f942"/>
<path d="M590.4,190.4 593.3,189.1 591.1,186.1 588.2,187.4" fill="#038dff"/>
<path d="M586.8,185.6 589.7,184.3 587.6,181.4 584.6,182.6" fill="#06beff"/>
<path d="M588.6,188.0 591.5,186.7 589.3,183.7 586.4,185.0" fill="#05a6ff"/>
<path d="M484.6,118.7 487.7,118.6 485.7,116.0 482.5,116.2" fill="#d7bb00"/>
<path d="M573.6,173.2 576.5,172.1 574.4,169.6 571.4,170.6" fill="#06ffd6"/>
<path d="M516.2,139.8 519.2,139.3 517.2,137.1 514.1,137.6" fill="#5ae500"/>
<path d="M530.1,147.6 533.1,147.0 531.0,144.8 528.0,145.4" fill="#1ded00"/>
<path d="M557.9,163.0 560.9,162.1 558.7,159.8 555.8,160.7" fill="#00fe6d"/>
<path d="M565.7,168.0 568.7,167.0 566.6,164.6 563.6,165.6" fill="#03ff9f"/>
<path d="M474.8,110.6 477.9,110.5 475.9,107.8 472.7,107.8" fill="#d47900"/>
<path d="M544.0,155.3 547.0,154.5 544.9,152.3 541.9,153.0" fill="#00f524"/>
<path d="M502.2,131.5 505.3,131.2 503.3,128.9 500.2,129.2" fill="#9ade00"/>
<path d="M494.3,126.2 497.4,126.0 495.4,123.6 492.3,123.8" fill="#c1db00"/>
<path d="M595.1,202.2 597.9,200.8 595.8,197.4 593.0,198.7" fill="#001df8"/>
<path d="M575.4,175.3 578.3,174.2 576.2,171.6 573.2,172.7" fill="#07ffe6"/>
<path d="M524.0,144.6 527.1,144.0 525.0,141.8 521.9,142.4" fill="#39e900"/>
<path d="M510.1,136.6 513.2,136.2 511.1,133.9 508.0,134.3" fill="#77e200"/>
<path d="M486.4,120.6 489.5,120.5 487.5,118.0 484.3,118.1" fill="#d8c500"/>
<path d="M537.9,152.3 540.9,151.6 538.9,149.4 535.8,150.1" fill="#00f106"/>
<path d="M551.8,160.0 554.8,159.2 552.7,156.9 549.7,157.7" fill="#00fa4c"/>
<path d="M593.3,199.4 596.2,198.0 594.1,194.7 591.2,196.0" fill="#003cfb"/>
<path d="M476.6,112.6 479.7,112.6 477.7,109.9 474.6,109.9" fill="#d48500"/>
<path d="M577.2,177.4 580.1,176.3 578.0,173.6 575.0,174.7" fill="#07fff7"/>
<path d="M567.5,170.0 570.5,168.9 568.4,166.4 565.4,167.5" fill="#04ffad"/>
<path d="M457.5,92.0 460.6,92.0 458.4,88.8 455.3,88.7" fill="#cc0000"/>
<path d="M559.7,164.9 562.7,163.9 560.5,161.6 557.6,162.5" fill="#00ff79"/>
<path d="M459.3,94.5 462.4,94.5 460.3,91.4 457.2,91.3" fill="#cd0000"/>
<path d="M455.6,89.4 458.7,89.5 456.6,86.2 453.4,86.1" fill="#cb0000"/>
<path d="M517.9,141.5 521.0,141.0 518.9,138.8 515.9,139.2" fill="#54e600"/>
<path d="M461.2,96.9 464.3,97.0 462.2,93.9 459.1,93.8" fill="#ce0d00"/>
<path d="M531.9,149.3 534.9,148.7 532.8,146.4 529.8,147.1" fill="#16ee00"/>
<path d="M591.5,196.6 594.4,195.3 592.3,192.1 589.4,193.4" fill="#0059fd"/>
<path d="M579.0,179.6 581.9,178.4 579.8,175.7 576.8,176.8" fill="#07ffff"/>
<path d="M496.1,128.0 499.2,127.8 497.2,125.4 494.1,125.7" fill="#b9db00"/>
<path d="M545.8,157.0 548.8,156.2 546.7,153.9 543.7,154.7" fill="#00f72c"/>
<path d="M504.0,133.3 507.1,132.9 505.0,130.6 502.0,131.0" fill="#93df00"/>
<path d="M463.0,99.3 466.2,99.3 464.1,96.3 460.9,96.2" fill="#cf1e00"/>
<path d="M594.4,206.2 597.3,204.8 595.2,201.3 592.3,202.6" fill="#0001f4"/>
<path d="M478.4,114.7 481.5,114.6 479.5,112.0 476.4,112.0" fill="#d59100"/>
<path d="M580.8,181.8 583.7,180.7 581.6,177.9 578.6,179.0" fill="#06efff"/>
<path d="M589.7,194.0 592.6,192.7 590.5,189.6 587.6,190.8" fill="#0075ff"/>
<path d="M488.2,122.5 491.3,122.4 489.3,119.9 486.1,120.0" fill="#d8cf00"/>
<path d="M569.3,172.0 572.3,170.9 570.2,168.4 567.2,169.4" fill="#05ffbc"/>
<path d="M464.9,101.6 468.0,101.6 465.9,98.7 462.8,98.6" fill="#d02d00"/>
<path d="M525.8,146.3 528.8,145.7 526.8,143.5 523.7,144.0" fill="#32ea00"/>
<path d="M553.6,161.8 556.6,160.9 554.5,158.6 551.5,159.5" fill="#00fc57"/>
<path d="M511.9,138.3 514.9,137.9 512.9,135.6 509.8,136.0" fill="#70e200"/>
<path d="M582.6,184.1 585.5,182.9 583.4,180.1 580.4,181.3" fill="#06daff"/>
<path d="M587.9,191.4 590.9,190.1 588.7,187.1 585.8,188.3" fill="#0291ff"/>
<path d="M539.7,154.0 542.7,153.3 540.6,151.0 537.6,151.7" fill="#00f30e"/>
<path d="M561.5,166.8 564.5,165.8 562.3,163.4 559.4,164.3" fill="#01ff86"/>
<path d="M584.4,186.5 587.3,185.3 585.1,182.3 582.2,183.5" fill="#05c3ff"/>
<path d="M586.2,188.9 589.1,187.7 586.9,184.7 584.0,185.9" fill="#04abff"/>
<path d="M466.7,103.9 469.9,103.9 467.8,101.0 464.7,101.0" fill="#d03c00"/>
<path d="M571.1,174.0 574.1,172.9 572.0,170.3 569.0,171.4" fill="#05ffcc"/>
<path d="M592.7,203.2 595.6,201.9 593.4,198.5 590.6,199.8" fill="#0020f7"/>
<path d="M519.7,143.2 522.8,142.6 520.7,140.4 517.7,140.9" fill="#4ee700"/>
<path d="M480.2,116.7 483.4,116.6 481.3,114.0 478.2,114.0" fill="#d59c00"/>
<path d="M533.7,151.0 536.7,150.3 534.6,148.1 531.6,148.7" fill="#0fef00"/>
<path d="M547.6,158.8 550.6,157.9 548.5,155.6 545.5,156.4" fill="#00f836"/>
<path d="M497.9,129.8 501.0,129.5 499.0,127.2 495.9,127.5" fill="#b1dc00"/>
<path d="M468.6,106.1 471.7,106.1 469.6,103.2 466.5,103.2" fill="#d14b00"/>
<path d="M505.8,135.0 508.9,134.6 506.8,132.4 503.7,132.7" fill="#8ddf00"/>
<path d="M490.0,124.4 493.1,124.2 491.1,121.8 487.9,121.9" fill="#d8d800"/>
<path d="M563.3,168.7 566.3,167.7 564.1,165.2 561.2,166.2" fill="#02ff94"/>
<path d="M555.4,163.6 558.4,162.7 556.3,160.4 553.3,161.2" fill="#00fd62"/>
<path d="M572.9,176.1 575.9,175.0 573.8,172.4 570.8,173.4" fill="#06ffdd"/>
<path d="M590.9,200.4 593.8,199.1 591.7,195.7 588.8,197.1" fill="#003ffa"/>
<path d="M527.6,147.9 530.6,147.3 528.6,145.1 525.5,145.7" fill="#2beb00"/>
<path d="M513.7,140.0 516.7,139.5 514.7,137.3 511.6,137.7" fill="#6ae300"/>
<path d="M541.5,155.7 544.5,155.0 542.4,152.7 539.4,153.4" fill="#00f417"/>
<path d="M470.4,108.2 473.5,108.2 471.5,105.5 468.3,105.4" fill="#d15800"/>
<path d="M482.0,118.6 485.2,118.5 483.1,116.0 480.0,116.0" fill="#d5a700"/>
<path d="M574.8,178.2 577.7,177.1 575.6,174.4 572.6,175.5" fill="#06ffee"/>
<path d="M589.1,197.7 592.0,196.4 589.9,193.1 587.0,194.4" fill="#005dfc"/>
<path d="M565.1,170.7 568.1,169.7 565.9,167.1 563.0,168.1" fill="#03ffa3"/>
<path d="M549.4,160.5 552.4,159.7 550.3,157.4 547.3,158.2" fill="#00f940"/>
<path d="M592.1,207.3 594.9,205.9 592.8,202.4 589.9,203.7" fill="#0003f3"/>
<path d="M499.7,131.6 502.8,131.3 500.8,129.0 497.7,129.2" fill="#aadc00"/>
<path d="M521.5,144.8 524.6,144.3 522.5,142.1 519.5,142.6" fill="#47e800"/>
<path d="M535.5,152.7 538.5,152.0 536.4,149.8 533.4,150.4" fill="#07f000"/>
<path d="M576.6,180.4 579.5,179.3 577.4,176.5 574.4,177.7" fill="#06ffff"/>
<path d="M557.2,165.5 560.2,164.6 558.1,162.2 555.1,163.1" fill="#00fe6e"/>
<path d="M491.8,126.2 494.9,126.0 492.9,123.6 489.7,123.8" fill="#d1d900"/>
<path d="M472.2,110.4 475.4,110.4 473.3,107.6 470.2,107.6" fill="#d26500"/>
<path d="M587.3,195.0 590.2,193.7 588.1,190.5 585.2,191.8" fill="#0079fe"/>
<path d="M507.6,136.7 510.7,136.3 508.6,134.1 505.5,134.4" fill="#86e000"/>
<path d="M578.4,182.7 581.3,181.5 579.1,178.7 576.2,179.9" fill="#05f4ff"/>
<path d="M585.5,192.4 588.5,191.1 586.3,188.0 583.4,189.3" fill="#0195ff"/>
<path d="M580.2,185.0 583.1,183.8 580.9,181.0 578.0,182.1" fill="#05dfff"/>
<path d="M566.9,172.7 569.9,171.6 567.7,169.1 564.8,170.1" fill="#04ffb2"/>
<path d="M543.3,157.5 546.3,156.7 544.2,154.4 541.2,155.2" fill="#00f620"/>
<path d="M583.8,189.9 586.7,188.6 584.5,185.6 581.6,186.8" fill="#02afff"/>
<path d="M483.8,120.5 487.0,120.4 484.9,117.9 481.8,118.0" fill="#d6b100"/>
<path d="M582.0,187.4 584.9,186.2 582.7,183.2 579.8,184.4" fill="#04c8ff"/>
<path d="M529.4,149.6 532.4,149.0 530.4,146.8 527.3,147.4" fill="#24ec00"/>
<path d="M515.5,141.7 518.5,141.2 516.5,139.0 513.4,139.4" fill="#63e400"/>
<path d="M590.3,204.3 593.2,203.0 591.0,199.5 588.2,200.8" fill="#0023f6"/>
<path d="M474.0,112.4 477.2,112.4 475.1,109.7 472.0,109.7" fill="#d27100"/>
<path d="M551.2,162.4 554.2,161.5 552.1,159.1 549.1,160.0" fill="#00fb4b"/>
<path d="M559.1,167.4 562.0,166.5 559.9,164.0 556.9,164.9" fill="#00ff7b"/>
<path d="M454.8,91.6 458.0,91.8 455.8,88.5 452.7,88.4" fill="#ca0000"/>
<path d="M456.7,94.2 459.9,94.3 457.7,91.1 454.6,91.0" fill="#cb0000"/>
<path d="M501.5,133.3 504.6,133.0 502.5,130.7 499.4,131.0" fill="#a3dd00"/>
<path d="M493.6,128.0 496.7,127.8 494.7,125.4 491.5,125.6" fill="#c9d900"/>
<path d="M453.0,89.1 456.1,89.2 453.9,85.9 450.8,85.7" fill="#c90000"/>
<path d="M568.7,174.7 571.7,173.7 569.5,171.1 566.6,172.1" fill="#04ffc2"/>
<path d="M537.3,154.4 540.3,153.7 538.2,151.4 535.2,152.1" fill="#00f201"/>
<path d="M523.3,146.5 526.4,146.0 524.3,143.7 521.3,144.3" fill="#41e900"/>
<path d="M458.6,96.6 461.7,96.7 459.6,93.6 456.5,93.5" fill="#cc0000"/>
<path d="M588.5,201.5 591.4,200.1 589.3,196.8 586.4,198.1" fill="#0042f8"/>
<path d="M509.4,138.4 512.5,138.0 510.4,135.8 507.3,136.1" fill="#80e100"/>
<path d="M460.4,99.0 463.6,99.1 461.5,96.0 458.3,95.9" fill="#cd0a00"/>
<path d="M485.6,122.4 488.8,122.3 486.7,119.8 483.6,119.9" fill="#d6bb00"/>
<path d="M475.9,114.5 479.0,114.4 476.9,111.8 473.8,111.8" fill="#d27d00"/>
<path d="M545.1,159.2 548.1,158.5 546.0,156.1 543.0,156.9" fill="#00f729"/>
<path d="M570.5,176.9 573.5,175.8 571.3,173.1 568.4,174.2" fill="#05ffd3"/>
<path d="M560.9,169.3 563.8,168.4 561.7,165.9 558.7,166.8" fill="#01ff89"/>
<path d="M462.3,101.3 465.4,101.4 463.3,98.4 460.2,98.3" fill="#cd1a00"/>
<path d="M531.2,151.3 534.2,150.7 532.2,148.4 529.1,149.1" fill="#1dee00"/>
<path d="M553.0,164.2 556.0,163.3 553.9,160.9 550.9,161.8" fill="#00fc56"/>
<path d="M517.3,143.4 520.3,142.9 518.3,140.6 515.2,141.1" fill="#5de500"/>
<path d="M586.7,198.7 589.6,197.4 587.5,194.1 584.6,195.4" fill="#0060fb"/>
<path d="M589.7,208.4 592.5,207.0 590.4,203.4 587.6,204.8" fill="#0006f1"/>
<path d="M572.3,179.0 575.3,177.9 573.1,175.2 570.2,176.3" fill="#05ffe5"/>
<path d="M464.1,103.6 467.3,103.7 465.2,100.8 462.1,100.7" fill="#ce2800"/>
<path d="M495.4,129.8 498.5,129.6 496.4,127.2 493.3,127.4" fill="#c1da00"/>
<path d="M503.3,135.1 506.4,134.7 504.3,132.4 501.2,132.7" fill="#9cdd00"/>
<path d="M539.1,156.1 542.1,155.4 540.0,153.1 537.0,153.8" fill="#00f309"/>
<path d="M584.9,196.0 587.8,194.7 585.7,191.5 582.8,192.8" fill="#007dfd"/>
<path d="M477.7,116.5 480.8,116.4 478.8,113.8 475.6,113.9" fill="#d38800"/>
<path d="M562.7,171.3 565.6,170.4 563.5,167.8 560.5,168.8" fill="#02ff98"/>
<path d="M574.1,181.3 577.1,180.1 574.9,177.4 572.0,178.4" fill="#04fff8"/>
<path d="M525.1,148.2 528.2,147.6 526.1,145.4 523.1,145.9" fill="#3aea00"/>
<path d="M487.4,124.3 490.6,124.1 488.5,121.7 485.4,121.8" fill="#d6c400"/>
<path d="M583.1,193.4 586.0,192.1 583.9,189.0 581.0,190.2" fill="#0099ff"/>
<path d="M511.2,140.1 514.2,139.7 512.2,137.5 509.1,137.8" fill="#79e200"/>
<path d="M546.9,161.0 549.9,160.2 547.8,157.9 544.8,158.7" fill="#00f833"/>
<path d="M466.0,105.8 469.1,105.9 467.0,103.0 463.9,103.0" fill="#cf3700"/>
<path d="M575.9,183.6 578.9,182.4 576.7,179.6 573.8,180.7" fill="#04faff"/>
<path d="M554.8,166.1 557.8,165.2 555.7,162.8 552.7,163.6" fill="#00fd62"/>
<path d="M587.9,205.4 590.8,204.1 588.7,200.6 585.8,201.9" fill="#0027f4"/>
<path d="M581.3,190.8 584.3,189.6 582.1,186.5 579.2,187.7" fill="#01b4ff"/>
<path d="M577.7,185.9 580.7,184.7 578.5,181.8 575.6,183.0" fill="#03e4ff"/>
<path d="M579.5,188.3 582.5,187.1 580.3,184.1 577.4,185.3" fill="#02cdff"/>
<path d="M533.0,153.0 536.0,152.4 533.9,150.1 530.9,150.8" fill="#15ef00"/>
<path d="M564.5,173.4 567.4,172.4 565.3,169.8 562.4,170.8" fill="#03ffa8"/>
<path d="M519.0,145.1 522.1,144.6 520.0,142.3 517.0,142.8" fill="#56e600"/>
<path d="M467.8,108.0 471.0,108.0 468.9,105.2 465.7,105.2" fill="#cf4400"/>
<path d="M479.5,118.5 482.6,118.4 480.6,115.8 477.4,115.9" fill="#d39300"/>
<path d="M497.2,131.6 500.3,131.3 498.2,129.0 495.1,129.2" fill="#bada00"/>
<path d="M540.9,157.9 543.9,157.2 541.8,154.9 538.8,155.6" fill="#00f412"/>
<path d="M586.1,202.5 589.0,201.2 586.9,197.8 584.0,199.1" fill="#0046f7"/>
<path d="M505.1,136.8 508.2,136.4 506.1,134.2 503.0,134.5" fill="#96de00"/>
<path d="M489.2,126.1 492.4,126.0 490.3,123.5 487.2,123.7" fill="#d7cd00"/>
<path d="M556.6,168.0 559.6,167.1 557.5,164.6 554.5,165.5" fill="#00fe6f"/>
<path d="M548.7,162.9 551.7,162.0 549.6,159.7 546.6,160.5" fill="#00fa3e"/>
<path d="M526.9,149.9 530.0,149.3 527.9,147.1 524.8,147.6" fill="#33eb00"/>
<path d="M566.3,175.5 569.2,174.4 567.1,171.8 564.2,172.8" fill="#03ffb8"/>
<path d="M469.6,110.1 472.8,110.2 470.7,107.4 467.6,107.4" fill="#cf5100"/>
<path d="M513.0,141.8 516.0,141.4 514.0,139.1 510.9,139.5" fill="#73e300"/>
<path d="M587.3,209.4 590.2,208.1 588.0,204.5 585.2,205.8" fill="#000af0"/>
<path d="M584.3,199.7 587.2,198.4 585.1,195.1 582.2,196.3" fill="#0064f9"/>
<path d="M481.3,120.4 484.4,120.3 482.4,117.8 479.2,117.8" fill="#d49d00"/>
<path d="M534.8,154.8 537.8,154.1 535.7,151.8 532.7,152.5" fill="#0df100"/>
<path d="M568.1,177.6 571.1,176.6 568.9,173.9 566.0,174.9" fill="#03ffca"/>
<path d="M558.4,170.0 561.4,169.0 559.3,166.5 556.3,167.4" fill="#00ff7e"/>
<path d="M520.8,146.8 523.9,146.2 521.8,144.0 518.8,144.5" fill="#50e700"/>
<path d="M542.7,159.7 545.7,158.9 543.6,156.6 540.6,157.3" fill="#00f61c"/>
<path d="M471.5,112.2 474.6,112.2 472.6,109.5 469.4,109.5" fill="#d05d00"/>
<path d="M499.0,133.3 502.1,133.1 500.0,130.7 496.9,131.0" fill="#b3db00"/>
<path d="M582.5,197.0 585.4,195.7 583.3,192.5 580.4,193.7" fill="#0082fb"/>
<path d="M569.9,179.8 572.9,178.7 570.7,176.0 567.8,177.0" fill="#03ffdc"/>
<path d="M550.6,164.8 553.5,163.9 551.4,161.5 548.4,162.3" fill="#00fb4a"/>
<path d="M491.0,128.0 494.2,127.8 492.1,125.4 489.0,125.5" fill="#d7d600"/>
<path d="M506.9,138.5 510.0,138.2 507.9,135.9 504.8,136.2" fill="#8fdf00"/>
<path d="M528.7,151.6 531.8,151.0 529.7,148.8 526.6,149.4" fill="#2bed00"/>
<path d="M452.2,91.3 455.4,91.5 453.2,88.2 450.1,88.0" fill="#c80000"/>
<path d="M571.7,182.1 574.7,181.0 572.5,178.1 569.6,179.2" fill="#03ffef"/>
<path d="M580.7,194.3 583.6,193.1 581.5,189.9 578.6,191.1" fill="#009efd"/>
<path d="M454.1,93.8 457.2,94.0 455.1,90.8 452.0,90.6" fill="#c90000"/>
<path d="M585.5,206.4 588.4,205.1 586.3,201.6 583.4,202.9" fill="#002af3"/>
<path d="M450.3,88.7 453.5,88.9 451.3,85.6 448.2,85.4" fill="#c70000"/>
<path d="M456.0,96.3 459.1,96.4 457.0,93.3 453.9,93.2" fill="#ca0000"/>
<path d="M560.2,172.0 563.2,171.0 561.1,168.5 558.1,169.4" fill="#01ff8d"/>
<path d="M573.5,184.4 576.5,183.3 574.3,180.4 571.4,181.5" fill="#03ffff"/>
<path d="M483.1,122.3 486.2,122.2 484.2,119.7 481.0,119.8" fill="#d4a600"/>
<path d="M578.9,191.7 581.8,190.5 579.7,187.4 576.8,188.6" fill="#00b9ff"/>
<path d="M514.8,143.5 517.8,143.1 515.8,140.8 512.7,141.3" fill="#6ce400"/>
<path d="M575.3,186.8 578.3,185.6 576.1,182.7 573.2,183.8" fill="#02eaff"/>
<path d="M577.1,189.2 580.1,188.0 577.9,185.0 575.0,186.2" fill="#01d2ff"/>
<path d="M473.3,114.3 476.4,114.3 474.4,111.6 471.2,111.6" fill="#d06900"/>
<path d="M457.8,98.7 461.0,98.8 458.9,95.8 455.7,95.6" fill="#ca0000"/>
<path d="M536.6,156.5 539.6,155.8 537.5,153.5 534.5,154.2" fill="#04f200"/>
<path d="M552.4,166.7 555.4,165.8 553.2,163.3 550.2,164.2" fill="#00fc56"/>
<path d="M544.5,161.5 547.5,160.7 545.4,158.4 542.4,159.1" fill="#00f727"/>
<path d="M522.6,148.5 525.7,147.9 523.6,145.7 520.6,146.2" fill="#49e900"/>
<path d="M459.7,101.0 462.8,101.1 460.7,98.1 457.6,98.0" fill="#cb0600"/>
<path d="M583.7,203.5 586.6,202.2 584.5,198.8 581.6,200.1" fill="#004af5"/>
<path d="M562.1,174.1 565.0,173.1 562.9,170.5 559.9,171.4" fill="#02ff9d"/>
<path d="M500.8,135.1 503.9,134.8 501.8,132.5 498.7,132.8" fill="#acdc00"/>
<path d="M492.8,129.8 496.0,129.6 493.9,127.2 490.8,127.4" fill="#d1d800"/>
<path d="M508.7,140.2 511.7,139.9 509.7,137.6 506.6,137.9" fill="#89e000"/>
<path d="M461.5,103.3 464.7,103.4 462.6,100.5 459.4,100.4" fill="#cc1400"/>
<path d="M530.5,153.4 533.6,152.8 531.5,150.5 528.4,151.1" fill="#23ee00"/>
<path d="M475.1,116.3 478.2,116.3 476.2,113.7 473.0,113.7" fill="#d17400"/>
<path d="M484.9,124.2 488.0,124.1 486.0,121.6 482.8,121.7" fill="#d4b000"/>
<path d="M584.9,210.5 587.8,209.2 585.6,205.6 582.8,206.8" fill="#000dee"/>
<path d="M563.9,176.2 566.8,175.2 564.7,172.5 561.7,173.5" fill="#02ffae"/>
<path d="M554.2,168.6 557.2,167.7 555.0,165.2 552.1,166.1" fill="#00fd64"/>
<path d="M581.9,200.7 584.8,199.4 582.7,196.1 579.8,197.3" fill="#0069f8"/>
<path d="M516.6,145.2 519.6,144.8 517.6,142.5 514.5,143.0" fill="#65e500"/>
<path d="M538.4,158.3 541.4,157.6 539.3,155.3 536.3,156.0" fill="#00f305"/>
<path d="M463.4,105.5 466.5,105.6 464.5,102.8 461.3,102.7" fill="#cc2200"/>
<path d="M546.3,163.4 549.3,162.6 547.2,160.2 544.2,161.0" fill="#00f932"/>
<path d="M565.7,178.4 568.6,177.3 566.5,174.6 563.5,175.6" fill="#02ffbf"/>
<path d="M524.4,150.2 527.5,149.6 525.4,147.4 522.4,147.9" fill="#41ea00"/>
<path d="M580.1,197.9 583.0,196.7 580.9,193.4 578.0,194.6" fill="#0086fa"/>
<path d="M494.6,131.6 497.8,131.3 495.7,129.0 492.6,129.2" fill="#cad800"/>
<path d="M476.9,118.3 480.0,118.2 478.0,115.7 474.9,115.7" fill="#d17e00"/>
<path d="M502.5,136.8 505.7,136.5 503.6,134.2 500.5,134.5" fill="#a5dd00"/>
<path d="M465.2,107.7 468.4,107.8 466.3,105.0 463.1,104.9" fill="#cd3000"/>
<path d="M556.0,170.6 559.0,169.7 556.8,167.1 553.9,168.0" fill="#00fe72"/>
<path d="M583.1,207.5 586.0,206.2 583.9,202.6 581.0,203.9" fill="#002ef1"/>
<path d="M567.5,180.6 570.4,179.5 568.3,176.7 565.3,177.8" fill="#02ffd2"/>
<path d="M486.7,126.0 489.8,125.9 487.8,123.5 484.6,123.6" fill="#d5b900"/>
<path d="M532.3,155.1 535.4,154.5 533.3,152.2 530.2,152.8" fill="#1bef00"/>
<path d="M578.3,195.2 581.2,194.0 579.1,190.8 576.2,192.0" fill="#00a3fc"/>
<path d="M510.5,142.0 513.5,141.6 511.5,139.3 508.4,139.7" fill="#82e100"/>
<path d="M569.3,182.9 572.2,181.8 570.1,178.9 567.2,180.0" fill="#02ffe6"/>
<path d="M548.1,165.3 551.1,164.5 549.0,162.0 546.0,162.8" fill="#00fa3e"/>
<path d="M540.2,160.2 543.2,159.4 541.1,157.0 538.1,157.8" fill="#00f50f"/>
<path d="M576.5,192.6 579.4,191.4 577.3,188.3 574.4,189.5" fill="#00befd"/>
<path d="M571.1,185.2 574.0,184.1 571.9,181.2 569.0,182.3" fill="#02fffa"/>
<path d="M518.3,147.0 521.4,146.5 519.4,144.2 516.3,144.7" fill="#5fe600"/>
<path d="M574.7,190.1 577.6,188.9 575.5,185.9 572.6,187.0" fill="#00d8ff"/>
<path d="M467.0,109.9 470.2,109.9 468.1,107.2 465.0,107.1" fill="#cd3c00"/>
<path d="M572.9,187.6 575.8,186.5 573.7,183.5 570.8,184.6" fill="#01f0ff"/>
<path d="M557.8,172.7 560.8,171.7 558.6,169.1 555.7,170.0" fill="#00ff81"/>
<path d="M478.7,120.2 481.9,120.2 479.8,117.6 476.7,117.7" fill="#d18800"/>
<path d="M581.3,204.5 584.2,203.3 582.1,199.8 579.2,201.0" fill="#004ef4"/>
<path d="M526.2,151.9 529.3,151.4 527.2,149.1 524.2,149.6" fill="#3aeb00"/>
<path d="M496.4,133.3 499.5,133.1 497.5,130.8 494.4,131.0" fill="#c3d900"/>
<path d="M504.3,138.6 507.4,138.3 505.4,136.0 502.3,136.3" fill="#9fdd00"/>
<path d="M488.5,127.9 491.6,127.7 489.6,125.3 486.4,125.4" fill="#d5c200"/>
<path d="M582.5,211.6 585.4,210.3 583.2,206.6 580.4,207.9" fill="#0010ed"/>
<path d="M549.9,167.2 552.9,166.4 550.8,163.9 547.8,164.7" fill="#00fb4a"/>
<path d="M468.9,112.0 472.0,112.0 470.0,109.3 466.8,109.2" fill="#ce4900"/>
<path d="M534.1,156.9 537.2,156.3 535.1,153.9 532.0,154.6" fill="#12f100"/>
<path d="M559.6,174.7 562.6,173.8 560.4,171.1 557.5,172.1" fill="#00ff92"/>
<path d="M512.2,143.7 515.3,143.3 513.3,141.0 510.2,141.4" fill="#7be200"/>
<path d="M542.0,162.0 545.0,161.2 542.9,158.8 539.9,159.6" fill="#00f61a"/>
<path d="M579.5,201.7 582.4,200.4 580.3,197.0 577.4,198.3" fill="#006df6"/>
<path d="M449.6,90.9 452.7,91.1 450.6,87.9 447.4,87.7" fill="#c60000"/>
<path d="M480.5,122.1 483.7,122.1 481.6,119.6 478.5,119.6" fill="#d29200"/>
<path d="M520.1,148.7 523.2,148.2 521.1,145.9 518.1,146.4" fill="#57e700"/>
<path d="M451.4,93.5 454.6,93.6 452.5,90.5 449.3,90.3" fill="#c60000"/>
<path d="M447.7,88.3 450.8,88.5 448.7,85.2 445.5,85.0" fill="#c50000"/>
<path d="M561.4,176.9 564.4,175.9 562.3,173.2 559.3,174.2" fill="#01ffa3"/>
<path d="M453.3,95.9 456.5,96.1 454.4,93.0 451.2,92.8" fill="#c70000"/>
<path d="M470.7,114.0 473.8,114.1 471.8,111.4 468.6,111.3" fill="#ce5400"/>
<path d="M551.7,169.2 554.7,168.3 552.6,165.8 549.6,166.6" fill="#00fc58"/>
<path d="M577.7,198.9 580.6,197.7 578.5,194.4 575.6,195.5" fill="#008bf8"/>
<path d="M528.0,153.7 531.1,153.1 529.0,150.8 526.0,151.4" fill="#32ed00"/>
<path d="M455.2,98.3 458.4,98.5 456.3,95.4 453.1,95.3" fill="#c80000"/>
<path d="M498.2,135.1 501.3,134.9 499.3,132.5 496.2,132.8" fill="#bcda00"/>
<path d="M580.7,208.5 583.6,207.2 581.5,203.6 578.6,204.9" fill="#0032f0"/>
<path d="M563.2,179.1 566.2,178.1 564.1,175.3 561.1,176.3" fill="#01ffb5"/>
<path d="M490.3,129.7 493.4,129.5 491.4,127.1 488.2,127.3" fill="#d6cb00"/>
<path d="M506.1,140.3 509.2,140.0 507.2,137.7 504.1,138.0" fill="#98de00"/>
<path d="M535.9,158.7 539.0,158.0 536.9,155.7 533.8,156.4" fill="#09f200"/>
<path d="M543.8,163.9 546.8,163.1 544.7,160.7 541.7,161.4" fill="#00f725"/>
<path d="M457.0,100.7 460.2,100.8 458.1,97.8 455.0,97.7" fill="#c90000"/>
<path d="M575.9,196.2 578.8,195.0 576.7,191.7 573.8,192.9" fill="#00a8fa"/>
<path d="M565.1,181.3 568.0,180.3 565.9,177.5 562.9,178.5" fill="#01ffc8"/>
<path d="M514.0,145.4 517.1,145.0 515.1,142.7 512.0,143.1" fill="#75e300"/>
<path d="M482.3,124.0 485.5,124.0 483.4,121.5 480.3,121.5" fill="#d29c00"/>
<path d="M553.5,171.2 556.5,170.3 554.4,167.7 551.4,168.6" fill="#00fd67"/>
<path d="M574.1,193.5 577.0,192.4 574.9,189.2 572.0,190.3" fill="#00c3fc"/>
<path d="M472.5,116.1 475.7,116.1 473.6,113.4 470.5,113.4" fill="#ce5f00"/>
<path d="M458.9,103.0 462.1,103.1 460.0,100.2 456.8,100.0" fill="#c90100"/>
<path d="M566.9,183.6 569.8,182.6 567.7,179.7 564.7,180.7" fill="#01ffdc"/>
<path d="M522.0,150.4 525.0,149.9 522.9,147.6 519.9,148.1" fill="#50e900"/>
<path d="M572.3,190.9 575.2,189.8 573.1,186.7 570.2,187.8" fill="#00defd"/>
<path d="M568.7,186.0 571.6,184.9 569.5,182.0 566.5,183.0" fill="#00fff1"/>
<path d="M570.5,188.4 573.4,187.3 571.3,184.3 568.4,185.4" fill="#00f6fe"/>
<path d="M578.9,205.5 581.8,204.3 579.7,200.8 576.8,202.0" fill="#0052f2"/>
<path d="M529.9,155.5 532.9,154.9 530.8,152.5 527.8,153.1" fill="#29ee00"/>
<path d="M545.7,165.8 548.7,165.0 546.5,162.5 543.5,163.3" fill="#00f931"/>
<path d="M460.7,105.2 463.9,105.3 461.9,102.5 458.7,102.3" fill="#ca0e00"/>
<path d="M537.8,160.6 540.8,159.9 538.7,157.5 535.6,158.2" fill="#00f402"/>
<path d="M500.0,136.9 503.1,136.6 501.1,134.3 498.0,134.5" fill="#b5db00"/>
<path d="M580.1,212.6 583.0,211.3 580.8,207.6 578.0,208.9" fill="#0014eb"/>
<path d="M555.4,173.3 558.3,172.4 556.2,169.7 553.2,170.6" fill="#00fe76"/>
<path d="M492.1,131.5 495.2,131.3 493.2,128.9 490.0,129.1" fill="#d7d300"/>
<path d="M507.9,142.1 511.0,141.7 509.0,139.4 505.9,139.7" fill="#92df00"/>
<path d="M474.3,118.1 477.5,118.1 475.4,115.5 472.3,115.4" fill="#cf6a00"/>
<path d="M484.1,125.9 487.3,125.8 485.2,123.4 482.1,123.4" fill="#d3a500"/>
<path d="M577.1,202.6 580.0,201.4 577.9,198.0 575.0,199.2" fill="#0071f5"/>
<path d="M515.8,147.2 518.9,146.7 516.9,144.4 513.8,144.8" fill="#6ee400"/>
<path d="M462.6,107.4 465.8,107.5 463.7,104.7 460.5,104.6" fill="#ca1c00"/>
<path d="M557.2,175.4 560.1,174.5 558.0,171.8 555.0,172.7" fill="#00fe86"/>
<path d="M547.5,167.8 550.5,166.9 548.3,164.4 545.3,165.2" fill="#00fa3e"/>
<path d="M523.8,152.2 526.8,151.7 524.7,149.3 521.7,149.9" fill="#48ea00"/>
<path d="M531.7,157.3 534.7,156.6 532.6,154.3 529.6,154.9" fill="#20ef00"/>
<path d="M539.6,162.5 542.6,161.7 540.5,159.3 537.5,160.0" fill="#00f50c"/>
<path d="M575.3,199.8 578.2,198.6 576.1,195.3 573.2,196.4" fill="#0090f7"/>
<path d="M578.3,209.5 581.2,208.3 579.1,204.6 576.2,205.9" fill="#0036ee"/>
<path d="M464.4,109.6 467.6,109.7 465.5,106.9 462.4,106.8" fill="#cb2800"/>
<path d="M559.0,177.6 562.0,176.6 559.8,173.9 556.9,174.8" fill="#00ff98"/>
<path d="M476.1,120.0 479.3,120.0 477.3,117.4 474.1,117.4" fill="#cf7400"/>
<path d="M493.9,133.3 497.0,133.1 495.0,130.7 491.8,130.9" fill="#d3d700"/>
<path d="M501.8,138.6 504.9,138.3 502.9,136.0 499.8,136.3" fill="#afdc00"/>
<path d="M509.7,143.8 512.8,143.4 510.8,141.1 507.7,141.5" fill="#8be100"/>
<path d="M573.5,197.1 576.4,195.9 574.3,192.6 571.4,193.8" fill="#00adf9"/>
<path d="M549.3,169.8 552.3,168.9 550.1,166.4 547.2,167.2" fill="#00fb4c"/>
<path d="M485.9,127.8 489.1,127.6 487.0,125.2 483.9,125.3" fill="#d3ae00"/>
<path d="M560.8,179.8 563.8,178.8 561.6,176.0 558.7,177.0" fill="#00ffaa"/>
<path d="M517.7,148.9 520.7,148.4 518.7,146.1 515.6,146.6" fill="#67e600"/>
<path d="M466.2,111.7 469.4,111.8 467.4,109.0 464.2,108.9" fill="#cb3400"/>
<path d="M562.6,182.1 565.6,181.0 563.4,178.2 560.5,179.2" fill="#00ffbe"/>
<path d="M571.7,194.4 574.6,193.2 572.5,190.1 569.6,191.2" fill="#00c9fb"/>
<path d="M525.6,154.0 528.6,153.4 526.5,151.1 523.5,151.6" fill="#40eb00"/>
<path d="M541.4,164.4 544.4,163.6 542.3,161.1 539.3,161.9" fill="#00f618"/>
<path d="M576.5,206.5 579.4,205.3 577.3,201.7 574.4,203.0" fill="#0056f1"/>
<path d="M533.5,159.1 536.5,158.5 534.4,156.1 531.4,156.7" fill="#16f100"/>
<path d="M564.4,184.4 567.4,183.4 565.2,180.5 562.3,181.5" fill="#00ffd2"/>
<path d="M569.9,191.8 572.8,190.7 570.7,187.6 567.7,188.7" fill="#00e4fc"/>
<path d="M566.3,186.8 569.2,185.7 567.0,182.8 564.1,183.8" fill="#00fee7"/>
<path d="M477.9,122.0 481.1,121.9 479.1,119.4 475.9,119.4" fill="#d07e00"/>
<path d="M568.1,189.3 571.0,188.2 568.9,185.1 565.9,186.2" fill="#00fdfd"/>
<path d="M551.1,171.8 554.1,170.9 552.0,168.3 549.0,169.2" fill="#00fc5b"/>
<path d="M577.7,213.7 580.6,212.4 578.4,208.6 575.6,209.9" fill="#0018e9"/>
<path d="M446.9,90.5 450.1,90.7 448.0,87.5 444.8,87.2" fill="#c30000"/>
<path d="M495.7,135.1 498.8,134.9 496.8,132.5 493.6,132.7" fill="#ccd800"/>
<path d="M448.8,93.0 452.0,93.3 449.9,90.1 446.7,89.8" fill="#c40000"/>
<path d="M445.0,87.9 448.2,88.2 446.0,84.8 442.9,84.6" fill="#c20000"/>
<path d="M503.6,140.4 506.7,140.1 504.7,137.8 501.6,138.0" fill="#a8dd00"/>
<path d="M468.1,113.8 471.2,113.8 469.2,111.1 466.0,111.1" fill="#cc4000"/>
<path d="M450.7,95.5 453.9,95.7 451.8,92.6 448.6,92.4" fill="#c50000"/>
<path d="M487.7,129.6 490.9,129.5 488.8,127.1 485.7,127.2" fill="#d4b600"/>
<path d="M511.5,145.6 514.6,145.2 512.6,142.8 509.5,143.2" fill="#84e200"/>
<path d="M574.7,203.6 577.6,202.4 575.5,198.9 572.6,200.1" fill="#0076f3"/>
<path d="M452.5,97.9 455.7,98.1 453.6,95.1 450.4,94.9" fill="#c60000"/>
<path d="M543.2,166.3 546.2,165.5 544.1,163.0 541.1,163.8" fill="#00f724"/>
<path d="M552.9,173.9 555.9,173.0 553.8,170.3 550.8,171.2" fill="#00fc6b"/>
<path d="M519.5,150.7 522.5,150.2 520.5,147.9 517.4,148.3" fill="#5fe700"/>
<path d="M527.4,155.8 530.4,155.2 528.3,152.8 525.3,153.4" fill="#37ed00"/>
<path d="M535.3,161.0 538.3,160.3 536.2,157.9 533.2,158.5" fill="#0cf200"/>
<path d="M454.4,100.3 457.6,100.5 455.5,97.5 452.3,97.3" fill="#c60000"/>
<path d="M479.7,123.9 482.9,123.8 480.9,121.3 477.7,121.3" fill="#d08700"/>
<path d="M469.9,115.8 473.1,115.9 471.0,113.2 467.8,113.1" fill="#cc4b00"/>
<path d="M575.9,210.5 578.8,209.3 576.7,205.6 573.8,206.8" fill="#003aec"/>
<path d="M554.7,176.0 557.7,175.1 555.6,172.4 552.6,173.3" fill="#00fd7b"/>
<path d="M572.9,200.7 575.8,199.5 573.7,196.2 570.8,197.3" fill="#0095f5"/>
<path d="M456.3,102.6 459.5,102.8 457.4,99.8 454.2,99.6" fill="#c70000"/>
<path d="M497.5,136.9 500.6,136.6 498.6,134.3 495.4,134.5" fill="#c5d900"/>
<path d="M545.0,168.3 548.0,167.5 545.9,164.9 542.9,165.7" fill="#00f932"/>
<path d="M505.4,142.1 508.5,141.8 506.5,139.5 503.4,139.8" fill="#a1de00"/>
<path d="M489.5,131.4 492.7,131.3 490.6,128.9 487.5,129.0" fill="#d5bf00"/>
<path d="M556.6,178.2 559.5,177.3 557.4,174.5 554.4,175.4" fill="#00fd8d"/>
<path d="M513.3,147.3 516.4,146.9 514.4,144.6 511.3,145.0" fill="#7de300"/>
<path d="M571.1,198.0 574.0,196.8 571.9,193.5 568.9,194.6" fill="#00b2f7"/>
<path d="M458.1,104.9 461.3,105.0 459.2,102.1 456.0,102.0" fill="#c70000"/>
<path d="M537.1,162.9 540.1,162.2 538.0,159.7 535.0,160.4" fill="#01f400"/>
<path d="M521.3,152.5 524.3,151.9 522.2,149.6 519.2,150.1" fill="#57e800"/>
<path d="M529.2,157.6 532.2,157.0 530.1,154.6 527.1,155.2" fill="#2eee00"/>
<path d="M471.7,117.8 474.9,117.8 472.9,115.2 469.7,115.2" fill="#cc5500"/>
<path d="M481.5,125.8 484.7,125.7 482.7,123.2 479.5,123.3" fill="#d19000"/>
<path d="M558.4,180.5 561.3,179.5 559.2,176.7 556.2,177.6" fill="#00fea0"/>
<path d="M574.1,207.5 577.0,206.3 574.8,202.7 572.0,203.9" fill="#005bef"/>
<path d="M569.3,195.3 572.2,194.1 570.0,190.9 567.1,192.0" fill="#00cff9"/>
<path d="M546.8,170.3 549.8,169.5 547.7,166.9 544.7,167.7" fill="#00fa40"/>
<path d="M460.0,107.1 463.1,107.2 461.1,104.4 457.9,104.2" fill="#c80700"/>
<path d="M575.3,214.7 578.2,213.4 576.0,209.6 573.2,210.9" fill="#001ce8"/>
<path d="M560.2,182.8 563.1,181.8 561.0,178.9 558.0,179.9" fill="#00fdb3"/>
<path d="M567.5,192.6 570.4,191.5 568.2,188.4 565.3,189.5" fill="#00eafb"/>
<path d="M562.0,185.1 565.0,184.1 562.8,181.2 559.9,182.2" fill="#00fdc8"/>
<path d="M565.6,190.1 568.6,189.0 566.4,185.9 563.5,187.0" fill="#00fcf4"/>
<path d="M563.8,187.6 566.8,186.5 564.6,183.5 561.7,184.5" fill="#00fdde"/>
<path d="M499.3,138.6 502.4,138.4 500.4,136.0 497.2,136.3" fill="#bfda00"/>
<path d="M507.2,143.9 510.3,143.6 508.3,141.2 505.2,141.6" fill="#9bdf00"/>
<path d="M491.3,133.2 494.5,133.1 492.4,130.7 489.3,130.8" fill="#d5c800"/>
<path d="M538.9,164.8 541.9,164.1 539.8,161.6 536.8,162.3" fill="#00f50b"/>
<path d="M515.1,149.1 518.2,148.6 516.2,146.3 513.1,146.7" fill="#76e400"/>
<path d="M548.6,172.4 551.6,171.5 549.5,168.9 546.5,169.7" fill="#00fa4f"/>
<path d="M461.8,109.2 465.0,109.4 462.9,106.6 459.7,106.4" fill="#c81400"/>
<path d="M473.5,119.8 476.7,119.8 474.7,117.2 471.5,117.2" fill="#cd5f00"/>
<path d="M572.3,204.5 575.2,203.3 573.0,199.8 570.2,201.0" fill="#007bf2"/>
<path d="M523.1,154.3 526.1,153.7 524.0,151.4 521.0,151.9" fill="#4fea00"/>
<path d="M531.0,159.5 534.0,158.8 531.9,156.4 528.9,157.0" fill="#24f000"/>
<path d="M483.3,127.6 486.5,127.5 484.5,125.1 481.3,125.2" fill="#d19900"/>
<path d="M573.5,211.5 576.4,210.3 574.2,206.6 571.4,207.8" fill="#003eeb"/>
<path d="M550.5,174.5 553.4,173.6 551.3,170.9 548.3,171.8" fill="#00fb5f"/>
<path d="M463.6,111.4 466.8,111.5 464.8,108.7 461.6,108.6" fill="#c92000"/>
<path d="M540.7,166.8 543.7,166.0 541.6,163.5 538.6,164.2" fill="#00f617"/>
<path d="M570.5,201.6 573.4,200.5 571.2,197.1 568.3,198.2" fill="#009af4"/>
<path d="M501.1,140.4 504.2,140.1 502.2,137.8 499.0,138.1" fill="#b8db00"/>
<path d="M475.3,121.7 478.5,121.7 476.5,119.2 473.3,119.2" fill="#cd6900"/>
<path d="M493.1,135.0 496.3,134.8 494.2,132.5 491.1,132.6" fill="#d6d000"/>
<path d="M509.0,145.7 512.1,145.3 510.1,143.0 507.0,143.3" fill="#94e000"/>
<path d="M532.8,161.4 535.8,160.7 533.7,158.3 530.7,158.9" fill="#1af100"/>
<path d="M552.3,176.7 555.3,175.8 553.1,173.0 550.1,173.9" fill="#00fc70"/>
<path d="M516.9,150.9 520.0,150.4 518.0,148.1 514.9,148.5" fill="#6ee600"/>
<path d="M524.9,156.1 527.9,155.5 525.8,153.1 522.8,153.7" fill="#46eb00"/>
<path d="M568.7,198.8 571.6,197.7 569.4,194.4 566.5,195.5" fill="#00b8f6"/>
<path d="M485.1,129.5 488.3,129.4 486.3,126.9 483.1,127.0" fill="#d2a200"/>
<path d="M444.2,90.0 447.4,90.3 445.3,87.1 442.1,86.8" fill="#c10000"/>
<path d="M465.4,113.4 468.6,113.6 466.6,110.9 463.4,110.7" fill="#c92b00"/>
<path d="M446.1,92.6 449.3,92.9 447.2,89.7 444.0,89.4" fill="#c20000"/>
<path d="M442.3,87.4 445.5,87.7 443.4,84.4 440.2,84.1" fill="#c00000"/>
<path d="M542.5,168.8 545.5,168.0 543.4,165.4 540.4,166.2" fill="#00f725"/>
<path d="M554.1,178.9 557.1,177.9 554.9,175.2 552.0,176.1" fill="#00fc82"/>
<path d="M571.7,208.4 574.6,207.2 572.4,203.6 569.6,204.8" fill="#005fed"/>
<path d="M448.0,95.1 451.2,95.3 449.1,92.2 445.9,91.9" fill="#c20000"/>
<path d="M572.9,215.7 575.8,214.4 573.6,210.6 570.8,211.8" fill="#0020e6"/>
<path d="M566.9,196.1 569.8,195.0 567.6,191.7 564.7,192.8" fill="#00d5f8"/>
<path d="M449.9,97.5 453.1,97.7 451.0,94.7 447.8,94.4" fill="#c30000"/>
<path d="M555.9,181.2 558.9,180.2 556.7,177.4 553.8,178.3" fill="#00fc95"/>
<path d="M477.1,123.7 480.3,123.6 478.3,121.1 475.1,121.1" fill="#ce7300"/>
<path d="M565.0,193.4 568.0,192.4 565.8,189.2 562.9,190.2" fill="#00f0f9"/>
<path d="M534.6,163.3 537.6,162.6 535.5,160.1 532.5,160.8" fill="#0ff200"/>
<path d="M451.7,99.9 455.0,100.1 452.9,97.1 449.7,96.8" fill="#c40000"/>
<path d="M557.8,183.5 560.7,182.5 558.6,179.6 555.6,180.6" fill="#00fca9"/>
<path d="M502.9,142.2 506.0,141.9 503.9,139.6 500.8,139.8" fill="#b1dc00"/>
<path d="M494.9,136.8 498.1,136.6 496.0,134.3 492.9,134.5" fill="#d6d700"/>
<path d="M510.8,147.5 513.9,147.1 511.9,144.7 508.8,145.1" fill="#8de100"/>
<path d="M563.2,190.9 566.1,189.8 564.0,186.7 561.1,187.7" fill="#00faea"/>
<path d="M467.3,115.5 470.5,115.6 468.4,112.9 465.2,112.8" fill="#ca3600"/>
<path d="M544.4,170.8 547.4,170.0 545.2,167.4 542.2,168.2" fill="#00f833"/>
<path d="M559.6,185.9 562.5,184.9 560.4,181.9 557.4,182.9" fill="#00fcbe"/>
<path d="M526.7,157.9 529.7,157.3 527.6,154.9 524.6,155.5" fill="#3ded00"/>
<path d="M518.8,152.7 521.8,152.2 519.8,149.8 516.7,150.3" fill="#66e700"/>
<path d="M561.4,188.3 564.3,187.3 562.2,184.3 559.2,185.3" fill="#00fbd4"/>
<path d="M486.9,131.3 490.1,131.2 488.1,128.8 484.9,128.9" fill="#d3ab00"/>
<path d="M569.9,205.4 572.8,204.3 570.6,200.8 567.7,201.9" fill="#0080f0"/>
<path d="M453.6,102.2 456.8,102.4 454.7,99.5 451.5,99.2" fill="#c40000"/>
<path d="M571.1,212.5 574.0,211.3 571.8,207.6 569.0,208.7" fill="#0042e9"/>
<path d="M546.2,172.9 549.2,172.1 547.0,169.4 544.1,170.2" fill="#00f943"/>
<path d="M536.4,165.2 539.5,164.5 537.3,162.0 534.3,162.7" fill="#03f400"/>
<path d="M455.5,104.5 458.7,104.7 456.6,101.8 453.4,101.5" fill="#c50000"/>
<path d="M478.9,125.6 482.1,125.5 480.1,123.0 476.9,123.1" fill="#cf7c00"/>
<path d="M469.1,117.5 472.3,117.6 470.3,115.0 467.1,114.9" fill="#ca4100"/>
<path d="M568.1,202.5 571.0,201.4 568.8,197.9 565.9,199.1" fill="#009ff2"/>
<path d="M528.5,159.8 531.5,159.2 529.4,156.8 526.4,157.4" fill="#33ee00"/>
<path d="M504.7,144.0 507.8,143.7 505.7,141.3 502.6,141.6" fill="#aadd00"/>
<path d="M496.7,138.6 499.9,138.4 497.8,136.0 494.7,136.2" fill="#cfd800"/>
<path d="M512.6,149.3 515.7,148.8 513.7,146.5 510.6,146.9" fill="#85e300"/>
<path d="M520.6,154.5 523.6,154.0 521.6,151.6 518.5,152.1" fill="#5ee800"/>
<path d="M548.0,175.1 551.0,174.2 548.9,171.5 545.9,172.3" fill="#00fa53"/>
<path d="M457.3,106.7 460.5,106.9 458.5,104.0 455.2,103.8" fill="#c50000"/>
<path d="M488.8,133.1 491.9,133.0 489.9,130.6 486.7,130.7" fill="#d3b400"/>
<path d="M538.3,167.2 541.3,166.5 539.2,163.9 536.1,164.6" fill="#00f50a"/>
<path d="M566.3,199.7 569.2,198.6 567.0,195.2 564.1,196.3" fill="#00bef4"/>
<path d="M549.8,177.3 552.8,176.4 550.7,173.6 547.7,174.5" fill="#00fa64"/>
<path d="M569.3,209.4 572.2,208.2 570.0,204.6 567.1,205.7" fill="#0064ec"/>
<path d="M470.9,119.5 474.1,119.6 472.1,117.0 468.9,116.9" fill="#cb4b00"/>
<path d="M570.5,216.7 573.4,215.5 571.2,211.6 568.4,212.8" fill="#0024e4"/>
<path d="M480.8,127.4 483.9,127.4 481.9,124.9 478.7,125.0" fill="#cf8500"/>
<path d="M459.1,108.9 462.4,109.0 460.3,106.2 457.1,106.0" fill="#c60000"/>
<path d="M564.4,196.9 567.3,195.8 565.2,192.6 562.3,193.6" fill="#00dbf6"/>
<path d="M530.3,161.7 533.4,161.1 531.3,158.6 528.2,159.2" fill="#28f000"/>
<path d="M551.7,179.5 554.6,178.6 552.5,175.8 549.5,176.7" fill="#00fb76"/>
<path d="M522.4,156.4 525.4,155.8 523.4,153.4 520.3,153.9" fill="#55ea00"/>
<path d="M540.1,169.3 543.1,168.5 541.0,165.9 538.0,166.6" fill="#00f618"/>
<path d="M506.5,145.8 509.6,145.4 507.5,143.1 504.4,143.4" fill="#a3de00"/>
<path d="M514.4,151.1 517.5,150.6 515.4,148.2 512.4,148.7" fill="#7ee400"/>
<path d="M498.5,140.4 501.7,140.2 499.6,137.8 496.5,138.0" fill="#c8d900"/>
<path d="M562.6,194.2 565.5,193.2 563.4,190.0 560.5,191.0" fill="#00f6f8"/>
<path d="M553.5,181.8 556.4,180.9 554.3,178.0 551.3,178.9" fill="#00fb8a"/>
<path d="M490.6,135.0 493.7,134.8 491.7,132.4 488.5,132.5" fill="#d4bc00"/>
<path d="M461.0,111.0 464.2,111.2 462.2,108.4 458.9,108.2" fill="#c60b00"/>
<path d="M560.8,191.6 563.7,190.6 561.6,187.5 558.6,188.5" fill="#00f9e1"/>
<path d="M555.3,184.2 558.3,183.2 556.1,180.3 553.2,181.2" fill="#00fb9e"/>
<path d="M567.5,206.4 570.4,205.2 568.2,201.6 565.3,202.8" fill="#0085ee"/>
<path d="M472.7,121.5 475.9,121.5 473.9,119.0 470.7,118.9" fill="#cb5500"/>
<path d="M559.0,189.1 561.9,188.1 559.7,185.0 556.8,186.0" fill="#00faca"/>
<path d="M557.1,186.6 560.1,185.6 557.9,182.6 555.0,183.6" fill="#00fab3"/>
<path d="M482.6,129.3 485.7,129.2 483.7,126.8 480.5,126.8" fill="#d08e00"/>
<path d="M532.1,163.7 535.2,163.0 533.1,160.5 530.0,161.1" fill="#1df100"/>
<path d="M541.9,171.3 544.9,170.5 542.8,167.9 539.8,168.7" fill="#00f726"/>
<path d="M568.7,213.4 571.6,212.3 569.4,208.5 566.6,209.7" fill="#0047e7"/>
<path d="M462.8,113.1 466.0,113.3 464.0,110.5 460.8,110.4" fill="#c71700"/>
<path d="M524.2,158.2 527.2,157.7 525.2,155.2 522.1,155.8" fill="#4beb00"/>
<path d="M441.5,89.6 444.8,89.9 442.6,86.6 439.4,86.3" fill="#be0000"/>
<path d="M443.4,92.1 446.7,92.4 444.5,89.2 441.3,88.9" fill="#bf0000"/>
<path d="M565.7,203.4 568.6,202.3 566.4,198.8 563.5,199.9" fill="#00a5f1"/>
<path d="M516.2,152.9 519.3,152.4 517.2,150.0 514.2,150.5" fill="#75e600"/>
<path d="M439.6,86.9 442.8,87.3 440.7,83.9 437.5,83.6" fill="#bd0000"/>
<path d="M508.3,147.6 511.4,147.2 509.3,144.8 506.2,145.2" fill="#9ce000"/>
<path d="M500.3,142.2 503.5,141.9 501.4,139.6 498.3,139.8" fill="#c1da00"/>
<path d="M445.3,94.6 448.5,94.9 446.4,91.8 443.2,91.4" fill="#c00000"/>
<path d="M543.7,173.5 546.7,172.6 544.6,170.0 541.6,170.7" fill="#00f836"/>
<path d="M492.4,136.8 495.5,136.6 493.5,134.2 490.3,134.4" fill="#d5c500"/>
<path d="M474.5,123.4 477.7,123.4 475.7,120.9 472.5,120.9" fill="#cc5e00"/>
<path d="M447.2,97.0 450.4,97.3 448.3,94.2 445.1,93.9" fill="#c10000"/>
<path d="M534.0,165.6 537.0,165.0 534.9,162.4 531.8,163.1" fill="#10f200"/>
<path d="M484.4,131.2 487.5,131.1 485.5,128.7 482.3,128.7" fill="#d19700"/>
<path d="M449.1,99.4 452.3,99.7 450.2,96.7 447.0,96.4" fill="#c10000"/>
<path d="M464.6,115.2 467.9,115.3 465.8,112.6 462.6,112.5" fill="#c72200"/>
<path d="M563.8,200.5 566.7,199.4 564.6,196.0 561.7,197.1" fill="#00c3f3"/>
<path d="M568.1,217.7 571.0,216.4 568.8,212.6 566.0,213.7" fill="#0028e2"/>
<path d="M566.9,210.3 569.8,209.1 567.6,205.5 564.7,206.6" fill="#0069ea"/>
<path d="M545.5,175.6 548.5,174.8 546.4,172.0 543.4,172.9" fill="#00f947"/>
<path d="M526.0,160.1 529.1,159.5 527.0,157.1 523.9,157.6" fill="#41ed00"/>
<path d="M450.9,101.7 454.2,102.0 452.1,99.0 448.9,98.8" fill="#c20000"/>
<path d="M518.1,154.7 521.1,154.2 519.0,151.8 516.0,152.3" fill="#6de700"/>
<path d="M562.0,197.7 564.9,196.7 562.8,193.4 559.8,194.4" fill="#00e1f4"/>
<path d="M547.4,177.8 550.4,177.0 548.2,174.2 545.2,175.0" fill="#00f958"/>
<path d="M535.8,167.7 538.8,166.9 536.7,164.4 533.7,165.1" fill="#03f400"/>
<path d="M510.1,149.4 513.2,149.0 511.1,146.6 508.0,147.0" fill="#95e100"/>
<path d="M476.3,125.3 479.5,125.3 477.5,122.8 474.3,122.8" fill="#cc6700"/>
<path d="M502.1,144.0 505.3,143.7 503.2,141.4 500.1,141.6" fill="#badc00"/>
<path d="M494.2,138.6 497.3,138.4 495.3,136.0 492.1,136.2" fill="#d6ce00"/>
<path d="M452.8,104.0 456.0,104.3 454.0,101.4 450.7,101.1" fill="#c20000"/>
<path d="M466.5,117.2 469.7,117.3 467.6,114.7 464.4,114.5" fill="#c82c00"/>
<path d="M549.2,180.1 552.2,179.2 550.0,176.4 547.1,177.2" fill="#00f96b"/>
<path d="M560.2,195.0 563.1,194.0 560.9,190.7 558.0,191.8" fill="#00f6ef"/>
<path d="M565.1,207.2 567.9,206.1 565.8,202.5 562.9,203.6" fill="#008aed"/>
<path d="M486.2,133.0 489.3,132.9 487.3,130.5 484.1,130.6" fill="#d19f00"/>
<path d="M551.0,182.4 554.0,181.5 551.9,178.6 548.9,179.5" fill="#00f97e"/>
<path d="M527.8,162.1 530.9,161.4 528.8,159.0 525.7,159.5" fill="#36ee00"/>
<path d="M558.3,192.4 561.3,191.4 559.1,188.2 556.2,189.2" fill="#00f7d7"/>
<path d="M537.6,169.7 540.6,169.0 538.5,166.4 535.5,167.1" fill="#00f50b"/>
<path d="M552.9,184.8 555.8,183.9 553.7,180.9 550.7,181.8" fill="#00f993"/>
<path d="M566.3,214.4 569.2,213.2 567.0,209.4 564.1,210.6" fill="#004be6"/>
<path d="M454.6,106.3 457.9,106.5 455.8,103.6 452.6,103.4" fill="#c30000"/>
<path d="M556.5,189.8 559.5,188.8 557.3,185.7 554.4,186.7" fill="#00f8bf"/>
<path d="M554.7,187.3 557.6,186.3 555.5,183.3 552.5,184.2" fill="#00f9a9"/>
<path d="M519.9,156.6 522.9,156.1 520.9,153.7 517.8,154.1" fill="#64e800"/>
<path d="M478.2,127.2 481.3,127.2 479.3,124.7 476.1,124.7" fill="#cd7000"/>
<path d="M511.9,151.2 515.0,150.8 512.9,148.4 509.8,148.8" fill="#8de300"/>
<path d="M468.3,119.2 471.5,119.3 469.5,116.7 466.3,116.6" fill="#c83600"/>
<path d="M503.9,145.8 507.1,145.5 505.0,143.1 501.9,143.4" fill="#b3dd00"/>
<path d="M563.2,204.3 566.1,203.2 564.0,199.7 561.1,200.7" fill="#00aaef"/>
<path d="M456.5,108.5 459.7,108.7 457.7,105.9 454.4,105.6" fill="#c30000"/>
<path d="M539.4,171.8 542.4,171.1 540.3,168.4 537.3,169.1" fill="#00f619"/>
<path d="M496.0,140.4 499.1,140.2 497.1,137.8 493.9,138.0" fill="#d7d700"/>
<path d="M529.6,164.0 532.7,163.4 530.6,160.9 527.5,161.5" fill="#2bf000"/>
<path d="M488.0,134.9 491.1,134.7 489.1,132.3 485.9,132.4" fill="#d2a800"/>
<path d="M565.7,218.6 568.6,217.4 566.4,213.5 563.6,214.7" fill="#002de1"/>
<path d="M564.5,211.2 567.4,210.1 565.2,206.4 562.3,207.5" fill="#006ee8"/>
<path d="M541.3,174.0 544.3,173.2 542.1,170.5 539.1,171.2" fill="#00f629"/>
<path d="M521.7,158.5 524.7,158.0 522.7,155.5 519.6,156.0" fill="#5aea00"/>
<path d="M561.4,201.4 564.3,200.3 562.2,196.9 559.2,197.9" fill="#00c9f1"/>
<path d="M458.3,110.6 461.6,110.8 459.5,108.0 456.3,107.8" fill="#c40000"/>
<path d="M470.1,121.2 473.3,121.3 471.3,118.7 468.1,118.6" fill="#c94000"/>
<path d="M480.0,129.1 483.2,129.1 481.1,126.6 477.9,126.6" fill="#ce7900"/>
<path d="M513.7,153.1 516.8,152.6 514.7,150.2 511.6,150.6" fill="#85e400"/>
<path d="M531.5,166.0 534.5,165.4 532.4,162.8 529.4,163.4" fill="#1ef100"/>
<path d="M505.8,147.7 508.9,147.3 506.8,144.9 503.7,145.2" fill="#acde00"/>
<path d="M543.1,176.2 546.1,175.3 543.9,172.6 540.9,173.4" fill="#00f73a"/>
<path d="M497.8,142.2 500.9,142.0 498.9,139.6 495.7,139.8" fill="#d1d900"/>
<path d="M559.6,198.5 562.5,197.5 560.3,194.1 557.4,195.2" fill="#00e7f3"/>
<path d="M460.2,112.7 463.4,112.9 461.4,110.2 458.1,110.0" fill="#c40200"/>
<path d="M489.8,136.7 493.0,136.5 490.9,134.1 487.8,134.3" fill="#d3b100"/>
<path d="M544.9,178.4 547.9,177.6 545.8,174.7 542.8,175.6" fill="#00f84c"/>
<path d="M523.5,160.4 526.6,159.9 524.5,157.4 521.4,157.9" fill="#50eb00"/>
<path d="M562.6,208.1 565.5,207.0 563.4,203.4 560.5,204.5" fill="#008feb"/>
<path d="M557.7,195.8 560.7,194.8 558.5,191.5 555.6,192.5" fill="#00f4e5"/>
<path d="M471.9,123.1 475.1,123.2 473.1,120.7 469.9,120.6" fill="#ca4900"/>
<path d="M438.8,89.0 442.1,89.4 439.9,86.1 436.7,85.7" fill="#bc0000"/>
<path d="M440.7,91.6 444.0,91.9 441.9,88.7 438.6,88.3" fill="#bd0000"/>
<path d="M533.3,168.1 536.3,167.4 534.2,164.8 531.2,165.4" fill="#11f200"/>
<path d="M436.9,86.4 440.1,86.8 438.0,83.4 434.8,83.0" fill="#bb0000"/>
<path d="M442.6,94.1 445.9,94.4 443.8,91.3 440.5,90.9" fill="#bd0000"/>
<path d="M563.9,215.3 566.8,214.2 564.6,210.3 561.7,211.4" fill="#0050e4"/>
<path d="M546.7,180.7 549.7,179.8 547.6,177.0 544.6,177.8" fill="#00f85f"/>
<path d="M481.8,131.0 485.0,130.9 482.9,128.5 479.7,128.5" fill="#cf8200"/>
<path d="M555.9,193.1 558.8,192.1 556.7,188.9 553.7,189.9" fill="#00f6cc"/>
<path d="M515.5,154.9 518.6,154.5 516.5,152.0 513.5,152.5" fill="#7ce500"/>
<path d="M444.5,96.5 447.7,96.9 445.7,93.8 442.4,93.4" fill="#be0000"/>
<path d="M548.6,183.1 551.5,182.2 549.4,179.2 546.4,180.1" fill="#00f873"/>
<path d="M554.1,190.5 557.0,189.5 554.9,186.4 551.9,187.3" fill="#00f7b5"/>
<path d="M462.0,114.8 465.2,115.0 463.2,112.3 460.0,112.1" fill="#c50d00"/>
<path d="M507.6,149.5 510.7,149.1 508.6,146.7 505.5,147.1" fill="#a4e000"/>
<path d="M550.4,185.5 553.4,184.6 551.2,181.6 548.3,182.5" fill="#00f888"/>
<path d="M552.2,188.0 555.2,187.0 553.0,184.0 550.1,184.9" fill="#00f79e"/>
<path d="M446.4,98.9 449.6,99.2 447.5,96.2 444.3,95.9" fill="#bf0000"/>
<path d="M499.6,144.0 502.7,143.8 500.7,141.4 497.5,141.6" fill="#cada00"/>
<path d="M535.1,170.2 538.1,169.4 536.0,166.8 533.0,167.5" fill="#03f300"/>
<path d="M560.8,205.1 563.7,204.0 561.5,200.5 558.6,201.5" fill="#00b0ed"/>
<path d="M525.3,162.4 528.4,161.8 526.3,159.3 523.2,159.8" fill="#45ed00"/>
<path d="M491.6,138.5 494.8,138.4 492.7,136.0 489.6,136.1" fill="#d4ba00"/>
<path d="M448.2,101.3 451.5,101.6 449.4,98.6 446.2,98.3" fill="#bf0000"/>
<path d="M473.7,125.1 476.9,125.1 474.9,122.6 471.7,122.5" fill="#ca5300"/>
<path d="M563.3,219.6 566.2,218.4 564.0,214.4 561.1,215.6" fill="#0032df"/>
<path d="M517.4,156.8 520.4,156.3 518.3,153.9 515.3,154.3" fill="#73e700"/>
<path d="M463.8,116.8 467.0,117.0 465.0,114.4 461.8,114.2" fill="#c61700"/>
<path d="M483.6,132.9 486.8,132.8 484.7,130.4 481.6,130.4" fill="#cf8b00"/>
<path d="M562.1,212.1 564.9,211.0 562.8,207.2 559.9,208.3" fill="#0073e7"/>
<path d="M536.9,172.3 540.0,171.5 537.8,168.8 534.8,169.6" fill="#00f40c"/>
<path d="M450.1,103.6 453.4,103.8 451.3,100.9 448.0,100.6" fill="#c00000"/>
<path d="M559.0,202.2 561.9,201.1 559.7,197.7 556.8,198.7" fill="#00cfef"/>
<path d="M509.4,151.3 512.5,151.0 510.4,148.5 507.3,148.9" fill="#9de100"/>
<path d="M527.1,164.4 530.2,163.8 528.1,161.2 525.0,161.8" fill="#39ee00"/>
<path d="M501.4,145.9 504.5,145.6 502.5,143.2 499.3,143.5" fill="#c3db00"/>
<path d="M538.8,174.5 541.8,173.7 539.6,170.9 536.6,171.7" fill="#00f51c"/>
<path d="M452.0,105.8 455.2,106.1 453.2,103.2 449.9,102.9" fill="#c10000"/>
<path d="M475.5,127.0 478.7,127.0 476.7,124.5 473.5,124.5" fill="#cb5c00"/>
<path d="M493.4,140.3 496.6,140.2 494.5,137.8 491.4,137.9" fill="#d6c300"/>
<path d="M557.1,199.3 560.1,198.3 557.9,194.9 555.0,195.9" fill="#00eef1"/>
<path d="M465.6,118.9 468.9,119.0 466.8,116.4 463.6,116.2" fill="#c62200"/>
<path d="M519.2,158.7 522.2,158.2 520.2,155.7 517.1,156.2" fill="#69e800"/>
<path d="M540.6,176.7 543.6,175.9 541.5,173.1 538.5,173.8" fill="#00f62e"/>
<path d="M560.2,209.0 563.1,207.9 560.9,204.2 558.0,205.3" fill="#0095e9"/>
<path d="M485.4,134.7 488.6,134.6 486.5,132.2 483.4,132.3" fill="#d09400"/>
<path d="M529.0,166.4 532.0,165.8 529.9,163.2 526.9,163.8" fill="#2cef00"/>
<path d="M453.8,108.0 457.1,108.3 455.0,105.4 451.8,105.2" fill="#c10000"/>
<path d="M561.5,216.2 564.3,215.1 562.2,211.2 559.3,212.3" fill="#0055e2"/>
<path d="M555.3,196.5 558.2,195.5 556.1,192.2 553.1,193.2" fill="#00f3db"/>
<path d="M511.2,153.2 514.3,152.8 512.2,150.4 509.1,150.7" fill="#94e200"/>
<path d="M542.4,178.9 545.4,178.1 543.3,175.3 540.3,176.1" fill="#00f640"/>
<path d="M503.2,147.7 506.3,147.4 504.3,145.0 501.1,145.3" fill="#bcdc00"/>
<path d="M553.5,193.8 556.4,192.9 554.2,189.6 551.3,190.6" fill="#00f4c2"/>
<path d="M544.3,181.3 547.3,180.4 545.1,177.5 542.1,178.3" fill="#00f653"/>
<path d="M477.4,128.9 480.6,128.9 478.5,126.4 475.3,126.4" fill="#cc6500"/>
<path d="M467.5,120.9 470.7,121.0 468.7,118.4 465.4,118.3" fill="#c72b00"/>
<path d="M455.7,110.2 458.9,110.4 456.9,107.6 453.6,107.4" fill="#c20000"/>
<path d="M551.6,191.2 554.6,190.2 552.4,187.1 549.5,188.0" fill="#00f5aa"/>
<path d="M495.2,142.2 498.4,142.0 496.3,139.6 493.2,139.8" fill="#d7cc00"/>
<path d="M530.8,168.5 533.8,167.8 531.7,165.2 528.7,165.8" fill="#1ff100"/>
<path d="M521.0,160.7 524.1,160.2 522.0,157.6 518.9,158.1" fill="#5fea00"/>
<path d="M546.1,183.7 549.1,182.8 546.9,179.8 544.0,180.7" fill="#00f667"/>
<path d="M549.8,188.6 552.7,187.7 550.6,184.6 547.6,185.5" fill="#00f693"/>
<path d="M558.4,205.9 561.3,204.9 559.1,201.3 556.2,202.3" fill="#00b6eb"/>
<path d="M547.9,186.1 550.9,185.2 548.8,182.2 545.8,183.0" fill="#00f67c"/>
<path d="M487.2,136.6 490.4,136.5 488.3,134.0 485.2,134.1" fill="#d19d00"/>
<path d="M560.9,220.5 563.8,219.3 561.6,215.3 558.7,216.5" fill="#0036dd"/>
<path d="M513.0,155.1 516.1,154.7 514.0,152.2 510.9,152.6" fill="#8be400"/>
<path d="M559.6,213.0 562.5,211.9 560.3,208.1 557.5,209.2" fill="#0078e5"/>
<path d="M532.6,170.6 535.7,169.9 533.5,167.2 530.5,167.9" fill="#10f200"/>
<path d="M457.5,112.3 460.7,112.5 458.7,109.8 455.5,109.5" fill="#c20000"/>
<path d="M469.3,122.8 472.5,122.9 470.5,120.4 467.3,120.3" fill="#c73500"/>
<path d="M505.0,149.6 508.1,149.2 506.1,146.8 503.0,147.1" fill="#b4de00"/>
<path d="M522.8,162.7 525.9,162.1 523.8,159.6 520.7,160.1" fill="#53eb00"/>
<path d="M556.5,203.0 559.4,201.9 557.3,198.4 554.4,199.4" fill="#00d6ee"/>
<path d="M479.2,130.8 482.4,130.8 480.3,128.3 477.1,128.3" fill="#cd6e00"/>
<path d="M436.1,88.4 439.4,88.8 437.2,85.5 434.0,85.1" fill="#b90000"/>
<path d="M438.0,91.0 441.3,91.4 439.2,88.2 435.9,87.8" fill="#ba0000"/>
<path d="M497.0,144.0 500.2,143.8 498.1,141.4 495.0,141.6" fill="#d8d600"/>
<path d="M434.2,85.8 437.4,86.2 435.3,82.8 432.0,82.4" fill="#b80000"/>
<path d="M439.9,93.5 443.2,93.9 441.1,90.7 437.8,90.3" fill="#bb0000"/>
<path d="M534.5,172.7 537.5,172.0 535.3,169.3 532.3,170.0" fill="#01f300"/>
<path d="M441.8,96.0 445.1,96.4 443.0,93.3 439.7,92.9" fill="#bc0000"/>
<path d="M459.3,114.4 462.6,114.6 460.5,111.9 457.3,111.7" fill="#c30000"/>
<path d="M514.8,157.0 517.9,156.6 515.8,154.1 512.7,154.5" fill="#82e500"/>
<path d="M489.0,138.4 492.2,138.3 490.2,135.9 487.0,136.0" fill="#d3a600"/>
<path d="M554.7,200.1 557.6,199.1 555.5,195.7 552.5,196.6" fill="#00efeb"/>
<path d="M443.7,98.4 446.9,98.7 444.9,95.7 441.6,95.3" fill="#bc0000"/>
<path d="M524.6,164.7 527.7,164.1 525.6,161.5 522.5,162.1" fill="#47ed00"/>
<path d="M557.8,209.8 560.7,208.7 558.5,205.0 555.6,206.1" fill="#009be7"/>
<path d="M536.3,174.9 539.3,174.2 537.2,171.4 534.2,172.1" fill="#00f40f"/>
<path d="M471.1,124.8 474.3,124.9 472.3,122.3 469.1,122.2" fill="#c83e00"/>
<path d="M559.1,217.1 561.9,216.0 559.8,212.1 556.9,213.2" fill="#005be0"/>
<path d="M506.8,151.4 509.9,151.1 507.9,148.6 504.8,149.0" fill="#acdf00"/>
<path d="M481.0,132.7 484.2,132.6 482.2,130.2 479.0,130.2" fill="#cd7700"/>
<path d="M445.5,100.7 448.8,101.1 446.7,98.1 443.5,97.7" fill="#bd0000"/>
<path d="M552.9,197.3 555.8,196.3 553.6,192.9 550.7,193.9" fill="#00f1d1"/>
<path d="M538.1,177.2 541.1,176.4 539.0,173.6 536.0,174.3" fill="#00f421"/>
<path d="M461.2,116.5 464.4,116.7 462.4,114.0 459.1,113.8" fill="#c30300"/>
<path d="M498.8,145.9 502.0,145.6 499.9,143.2 496.8,143.4" fill="#d3d900"/>
<path d="M516.7,159.0 519.7,158.5 517.6,156.0 514.6,156.4" fill="#78e700"/>
<path d="M551.0,194.5 554.0,193.6 551.8,190.3 548.8,191.2" fill="#00f2b7"/>
<path d="M526.5,166.7 529.5,166.1 527.4,163.5 524.4,164.1" fill="#3bee00"/>
<path d="M447.4,103.0 450.7,103.4 448.6,100.4 445.3,100.1" fill="#bd0000"/>
<path d="M540.0,179.5 543.0,178.7 540.8,175.8 537.8,176.6" fill="#00f533"/>
<path d="M490.8,140.3 494.0,140.1 492.0,137.7 488.8,137.8" fill="#d4af00"/>
<path d="M555.9,206.7 558.8,205.7 556.7,202.1 553.8,203.1" fill="#00bcea"/>
<path d="M549.2,191.9 552.1,190.9 550.0,187.7 547.0,188.6" fill="#00f39f"/>
<path d="M541.8,181.8 544.8,181.0 542.6,178.1 539.7,178.9" fill="#00f547"/>
<path d="M558.5,221.4 561.4,220.3 559.2,216.2 556.3,217.3" fill="#003bdb"/>
<path d="M472.9,126.7 476.1,126.8 474.1,124.3 470.9,124.2" fill="#c94700"/>
<path d="M547.3,189.3 550.3,188.4 548.1,185.2 545.2,186.1" fill="#00f487"/>
<path d="M543.6,184.2 546.6,183.4 544.5,180.4 541.5,181.2" fill="#00f55b"/>
<path d="M508.7,153.3 511.8,153.0 509.7,150.5 506.6,150.8" fill="#a4e100"/>
<path d="M545.5,186.7 548.5,185.8 546.3,182.8 543.3,183.6" fill="#00f571"/>
<path d="M449.3,105.3 452.5,105.6 450.5,102.7 447.2,102.4" fill="#be0000"/>
<path d="M463.0,118.5 466.2,118.7 464.2,116.0 461.0,115.8" fill="#c40d00"/>
<path d="M482.8,134.5 486.0,134.5 484.0,132.0 480.8,132.1" fill="#ce7f00"/>
<path d="M557.2,213.8 560.1,212.8 557.9,208.9 555.0,210.0" fill="#007ee3"/>
<path d="M528.3,168.8 531.3,168.2 529.2,165.5 526.2,166.1" fill="#2def00"/>
<path d="M518.5,160.9 521.5,160.4 519.4,157.9 516.4,158.4" fill="#6de800"/>
<path d="M500.6,147.7 503.8,147.5 501.7,145.0 498.6,145.3" fill="#ccdb00"/>
<path d="M554.1,203.7 557.0,202.7 554.8,199.2 551.9,200.2" fill="#00dcec"/>
<path d="M451.1,107.5 454.4,107.8 452.3,105.0 449.1,104.7" fill="#bf0000"/>
<path d="M492.6,142.1 495.8,141.9 493.8,139.5 490.6,139.7" fill="#d5b800"/>
<path d="M530.1,171.0 533.2,170.3 531.0,167.6 528.0,168.2" fill="#1ef000"/>
<path d="M474.7,128.6 478.0,128.7 475.9,126.2 472.7,126.1" fill="#ca5000"/>
<path d="M510.5,155.2 513.6,154.8 511.5,152.4 508.4,152.7" fill="#9be200"/>
<path d="M464.8,120.5 468.1,120.7 466.0,118.1 462.8,117.9" fill="#c41700"/>
<path d="M520.3,162.9 523.4,162.4 521.3,159.8 518.2,160.3" fill="#62ea00"/>
<path d="M453.0,109.7 456.2,110.0 454.2,107.2 450.9,106.9" fill="#bf0000"/>
<path d="M552.3,200.8 555.2,199.8 553.0,196.4 550.1,197.3" fill="#00eee0"/>
<path d="M484.6,136.4 487.8,136.3 485.8,133.9 482.6,133.9" fill="#cf8800"/>
<path d="M555.4,210.6 558.3,209.6 556.1,205.9 553.2,206.9" fill="#00a0e6"/>
<path d="M556.6,218.0 559.5,216.9 557.3,213.0 554.5,214.0" fill="#0060de"/>
<path d="M532.0,173.1 535.0,172.5 532.9,169.7 529.8,170.4" fill="#0ff100"/>
<path d="M502.5,149.6 505.6,149.3 503.5,146.9 500.4,147.1" fill="#c4dc00"/>
<path d="M550.4,198.0 553.3,197.0 551.2,193.6 548.2,194.6" fill="#00efc6"/>
<path d="M533.8,175.4 536.8,174.7 534.7,171.8 531.7,172.5" fill="#00f202"/>
<path d="M494.4,144.0 497.6,143.8 495.6,141.4 492.4,141.5" fill="#d6c200"/>
<path d="M454.8,111.8 458.1,112.1 456.1,109.4 452.8,109.1" fill="#c00000"/>
<path d="M476.5,130.5 479.8,130.6 477.7,128.1 474.5,128.0" fill="#ca5900"/>
<path d="M466.6,122.5 469.9,122.6 467.9,120.1 464.6,119.9" fill="#c52000"/>
<path d="M512.3,157.2 515.4,156.8 513.3,154.2 510.2,154.6" fill="#91e400"/>
<path d="M522.1,165.0 525.2,164.4 523.1,161.8 520.0,162.3" fill="#56eb00"/>
<path d="M535.6,177.6 538.7,176.9 536.5,174.0 533.5,174.8" fill="#00f314"/>
<path d="M548.6,195.2 551.5,194.3 549.3,191.0 546.4,191.9" fill="#00f1ac"/>
<path d="M556.1,222.3 558.9,221.2 556.8,217.1 553.9,218.2" fill="#0041d9"/>
<path d="M553.5,207.5 556.4,206.5 554.2,202.9 551.3,203.9" fill="#00c2e8"/>
<path d="M486.4,138.3 489.6,138.2 487.6,135.7 484.4,135.8" fill="#d19100"/>
<path d="M504.3,151.5 507.4,151.2 505.3,148.7 502.2,149.0" fill="#bcde00"/>
<path d="M537.5,180.0 540.5,179.2 538.3,176.3 535.3,177.0" fill="#00f326"/>
<path d="M546.7,192.5 549.7,191.6 547.5,188.4 544.5,189.2" fill="#00f294"/>
<path d="M456.7,114.0 459.9,114.2 457.9,111.5 454.6,111.2" fill="#c00000"/>
<path d="M554.8,214.7 557.7,213.6 555.5,209.8 552.6,210.8" fill="#0084e1"/>
<path d="M524.0,167.0 527.0,166.5 524.9,163.8 521.8,164.4" fill="#49ec00"/>
<path d="M539.3,182.4 542.3,181.6 540.2,178.6 537.2,179.4" fill="#00f33a"/>
<path d="M544.9,189.9 547.8,189.0 545.7,185.8 542.7,186.7" fill="#00f27c"/>
<path d="M541.2,184.8 544.2,184.0 542.0,180.9 539.0,181.7" fill="#00f34f"/>
<path d="M514.1,159.1 517.2,158.7 515.1,156.2 512.0,156.6" fill="#87e500"/>
<path d="M543.0,187.3 546.0,186.5 543.8,183.4 540.9,184.2" fill="#00f365"/>
<path d="M468.5,124.5 471.7,124.6 469.7,122.0 466.4,121.9" fill="#c62a00"/>
<path d="M496.3,145.9 499.4,145.6 497.4,143.2 494.2,143.4" fill="#d8cc00"/>
<path d="M478.4,132.4 481.6,132.5 479.6,130.0 476.3,129.9" fill="#cb6200"/>
<path d="M551.7,204.5 554.6,203.5 552.4,199.9 549.5,200.9" fill="#00e2ea"/>
<path d="M525.8,169.2 528.8,168.6 526.7,165.9 523.7,166.4" fill="#3bee00"/>
<path d="M488.2,140.2 491.4,140.0 489.4,137.6 486.2,137.7" fill="#d29b00"/>
<path d="M458.5,116.0 461.8,116.3 459.7,113.6 456.5,113.3" fill="#c10000"/>
<path d="M506.1,153.4 509.2,153.1 507.1,150.6 504.0,150.9" fill="#b4df00"/>
<path d="M515.9,161.1 519.0,160.7 516.9,158.1 513.8,158.6" fill="#7de700"/>
<path d="M554.2,218.9 557.1,217.8 554.9,213.8 552.0,214.8" fill="#0065dc"/>
<path d="M552.9,211.5 555.8,210.4 553.6,206.6 550.7,207.7" fill="#00a6e4"/>
<path d="M470.3,126.4 473.5,126.5 471.5,124.0 468.3,123.9" fill="#c63300"/>
<path d="M549.8,201.6 552.7,200.6 550.6,197.1 547.6,198.0" fill="#00ecd6"/>
<path d="M527.6,171.3 530.7,170.7 528.5,168.0 525.5,168.6" fill="#2cef00"/>
<path d="M498.1,147.7 501.2,147.5 499.2,145.0 496.0,145.3" fill="#d9d600"/>
<path d="M480.2,134.3 483.4,134.3 481.4,131.9 478.1,131.8" fill="#cc6b00"/>
<path d="M460.3,118.1 463.6,118.3 461.6,115.7 458.3,115.4" fill="#c10000"/>
<path d="M507.9,155.4 511.0,155.0 509.0,152.5 505.8,152.8" fill="#abe100"/>
<path d="M529.5,173.5 532.5,172.9 530.4,170.1 527.3,170.7" fill="#1cf000"/>
<path d="M490.0,142.0 493.2,141.9 491.2,139.4 488.0,139.6" fill="#d3a400"/>
<path d="M548.0,198.7 550.9,197.7 548.7,194.3 545.8,195.2" fill="#00edbb"/>
<path d="M517.8,163.2 520.9,162.7 518.7,160.1 515.7,160.5" fill="#71e800"/>
<path d="M553.7,223.2 556.5,222.1 554.3,218.0 551.5,219.0" fill="#0046d8"/>
<path d="M472.1,128.3 475.3,128.4 473.3,125.9 470.1,125.8" fill="#c73c00"/>
<path d="M551.1,208.3 554.0,207.3 551.8,203.6 548.9,204.6" fill="#00c8e6"/>
<path d="M531.3,175.8 534.3,175.1 532.2,172.3 529.2,172.9" fill="#0bf000"/>
<path d="M546.1,195.9 549.0,195.0 546.9,191.6 543.9,192.5" fill="#00efa1"/>
<path d="M499.9,149.6 503.0,149.4 501.0,146.9 497.8,147.1" fill="#d4da00"/>
<path d="M482.0,136.2 485.2,136.2 483.2,133.7 480.0,133.7" fill="#cd7400"/>
<path d="M462.1,120.1 465.4,120.3 463.4,117.7 460.1,117.5" fill="#c20200"/>
<path d="M552.4,215.5 555.2,214.5 553.1,210.6 550.2,211.6" fill="#0089df"/>
<path d="M533.2,178.1 536.2,177.4 534.0,174.5 531.0,175.2" fill="#00f107"/>
<path d="M519.6,165.2 522.7,164.7 520.6,162.1 517.5,162.6" fill="#65ea00"/>
<path d="M544.2,193.1 547.2,192.3 545.0,189.0 542.1,189.8" fill="#00f088"/>
<path d="M509.8,157.3 512.9,156.9 510.8,154.4 507.7,154.8" fill="#a1e200"/>
<path d="M535.0,180.5 538.0,179.7 535.9,176.8 532.8,177.5" fill="#00f119"/>
<path d="M491.9,143.9 495.0,143.8 493.0,141.3 489.8,141.4" fill="#d4ae00"/>
<path d="M542.4,190.5 545.4,189.6 543.2,186.4 540.2,187.2" fill="#00f170"/>
<path d="M536.8,182.9 539.8,182.1 537.7,179.1 534.7,179.8" fill="#00f22e"/>
<path d="M540.5,187.9 543.5,187.1 541.4,183.9 538.4,184.7" fill="#00f159"/>
<path d="M538.7,185.3 541.7,184.5 539.5,181.5 536.5,182.2" fill="#00f243"/>
<path d="M549.2,205.2 552.1,204.3 550.0,200.7 547.0,201.6" fill="#00e8e7"/>
<path d="M473.9,130.3 477.1,130.3 475.1,127.8 471.9,127.7" fill="#c84500"/>
<path d="M521.4,167.3 524.5,166.8 522.4,164.1 519.3,164.6" fill="#58eb00"/>
<path d="M464.0,122.1 467.2,122.3 465.2,119.7 462.0,119.5" fill="#c30c00"/>
<path d="M501.7,151.6 504.9,151.3 502.8,148.8 499.6,149.0" fill="#ccdc00"/>
<path d="M483.8,138.1 487.0,138.1 485.0,135.6 481.8,135.6" fill="#cf7d00"/>
<path d="M511.6,159.3 514.7,158.9 512.6,156.3 509.5,156.7" fill="#97e400"/>
<path d="M551.8,219.7 554.7,218.6 552.5,214.6 549.6,215.6" fill="#006bdb"/>
<path d="M550.5,212.2 553.4,211.2 551.2,207.4 548.3,208.4" fill="#00ace2"/>
<path d="M547.4,202.3 550.3,201.3 548.1,197.8 545.2,198.7" fill="#00eacb"/>
<path d="M523.3,169.5 526.3,168.9 524.2,166.2 521.2,166.7" fill="#49ec00"/>
<path d="M493.7,145.8 496.8,145.6 494.8,143.2 491.6,143.3" fill="#d6b800"/>
<path d="M475.7,132.2 479.0,132.2 476.9,129.7 473.7,129.7" fill="#c94e00"/>
<path d="M465.8,124.1 469.1,124.3 467.0,121.7 463.8,121.5" fill="#c31500"/>
<path d="M503.5,153.5 506.7,153.2 504.6,150.7 501.5,151.0" fill="#c4dd00"/>
<path d="M513.4,161.3 516.5,160.9 514.4,158.3 511.3,158.7" fill="#8ce500"/>
<path d="M525.1,171.7 528.2,171.1 526.0,168.3 523.0,168.9" fill="#3aed00"/>
<path d="M551.2,224.0 554.1,223.0 551.9,218.8 549.0,219.8" fill="#004bd6"/>
<path d="M485.6,140.0 488.8,139.9 486.8,137.5 483.6,137.5" fill="#d08600"/>
<path d="M545.5,199.4 548.4,198.4 546.3,195.0 543.3,195.9" fill="#00ecb0"/>
<path d="M548.6,209.1 551.5,208.1 549.4,204.4 546.4,205.3" fill="#00cfe4"/>
<path d="M527.0,173.9 530.0,173.3 527.9,170.5 524.8,171.1" fill="#2aee00"/>
<path d="M495.5,147.7 498.7,147.5 496.6,145.0 493.4,145.2" fill="#d7c200"/>
<path d="M549.9,216.3 552.8,215.3 550.6,211.4 547.7,212.3" fill="#008fdd"/>
<path d="M543.6,196.5 546.6,195.6 544.4,192.3 541.5,193.1" fill="#00ed96"/>
<path d="M515.2,163.4 518.3,162.9 516.2,160.3 513.1,160.7" fill="#80e700"/>
<path d="M467.6,126.1 470.9,126.2 468.9,123.7 465.6,123.5" fill="#c41e00"/>
<path d="M477.5,134.1 480.8,134.1 478.8,131.6 475.5,131.6" fill="#ca5600"/>
<path d="M505.4,155.5 508.5,155.1 506.4,152.6 503.3,152.9" fill="#badf00"/>
<path d="M528.8,176.2 531.8,175.5 529.7,172.7 526.7,173.3" fill="#19ef00"/>
<path d="M541.8,193.8 544.7,192.9 542.6,189.6 539.6,190.4" fill="#00ee7d"/>
<path d="M487.4,141.9 490.6,141.8 488.6,139.3 485.4,139.4" fill="#d19000"/>
<path d="M530.7,178.5 533.7,177.8 531.5,174.9 528.5,175.6" fill="#07ef00"/>
<path d="M539.9,191.1 542.9,190.2 540.7,187.0 537.7,187.8" fill="#00ef64"/>
<path d="M546.8,206.0 549.7,205.0 547.5,201.4 544.6,202.3" fill="#00e6dd"/>
<path d="M532.5,180.9 535.5,180.2 533.4,177.2 530.4,177.9" fill="#00f00c"/>
<path d="M517.1,165.5 520.2,165.0 518.0,162.3 515.0,162.8" fill="#74e800"/>
<path d="M538.1,188.4 541.0,187.6 538.9,184.5 535.9,185.2" fill="#00f04d"/>
<path d="M497.3,149.6 500.5,149.4 498.4,146.9 495.3,147.1" fill="#d9cd00"/>
<path d="M534.4,183.4 537.4,182.6 535.2,179.6 532.2,180.3" fill="#00f021"/>
<path d="M536.2,185.9 539.2,185.1 537.0,182.0 534.0,182.7" fill="#00f036"/>
<path d="M549.4,220.5 552.2,219.5 550.0,215.4 547.2,216.4" fill="#0071d9"/>
<path d="M507.2,157.4 510.3,157.1 508.2,154.5 505.1,154.9" fill="#b1e000"/>
<path d="M469.4,128.0 472.7,128.1 470.7,125.6 467.4,125.5" fill="#c52700"/>
<path d="M479.4,136.0 482.6,136.0 480.6,133.5 477.3,133.5" fill="#cb5f00"/>
<path d="M548.1,213.0 550.9,212.0 548.8,208.2 545.9,209.1" fill="#00b3e0"/>
<path d="M518.9,167.6 522.0,167.1 519.9,164.4 516.8,164.9" fill="#66e900"/>
<path d="M544.9,202.9 547.8,202.0 545.6,198.5 542.7,199.4" fill="#00e8c1"/>
<path d="M489.3,143.8 492.4,143.7 490.4,141.2 487.2,141.3" fill="#d29a00"/>
<path d="M499.1,151.6 502.3,151.3 500.2,148.8 497.1,149.0" fill="#dad800"/>
<path d="M548.8,224.9 551.7,223.8 549.5,219.6 546.6,220.6" fill="#0051d4"/>
<path d="M509.0,159.5 512.1,159.1 510.0,156.5 506.9,156.8" fill="#a6e200"/>
<path d="M520.8,169.8 523.8,169.2 521.7,166.5 518.6,167.0" fill="#58ea00"/>
<path d="M471.3,130.0 474.5,130.1 472.5,127.5 469.2,127.4" fill="#c63000"/>
<path d="M543.0,200.0 546.0,199.1 543.8,195.6 540.8,196.5" fill="#00eaa5"/>
<path d="M481.2,137.9 484.4,137.9 482.4,135.4 479.2,135.4" fill="#cd6900"/>
<path d="M546.2,209.8 549.1,208.8 546.9,205.1 544.0,206.0" fill="#00d5e2"/>
<path d="M547.5,217.1 550.4,216.1 548.2,212.1 545.3,213.1" fill="#0095db"/>
<path d="M522.6,172.0 525.7,171.4 523.5,168.6 520.5,169.2" fill="#49eb00"/>
<path d="M491.1,145.7 494.3,145.6 492.2,143.1 489.0,143.2" fill="#d4a400"/>
<path d="M510.9,161.5 514.0,161.1 511.9,158.5 508.8,158.9" fill="#9be300"/>
<path d="M541.2,197.1 544.1,196.3 541.9,192.9 539.0,193.7" fill="#00eb8b"/>
<path d="M501.0,153.5 504.1,153.3 502.0,150.7 498.9,151.0" fill="#d3dc00"/>
<path d="M524.5,174.3 527.5,173.7 525.4,170.8 522.3,171.4" fill="#38ec00"/>
<path d="M473.1,131.9 476.3,132.0 474.3,129.5 471.1,129.4" fill="#c73900"/>
<path d="M539.3,194.3 542.3,193.5 540.1,190.2 537.1,191.0" fill="#00ec71"/>
<path d="M483.0,139.8 486.2,139.8 484.2,137.3 481.0,137.3" fill="#ce7200"/>
<path d="M526.3,176.6 529.3,175.9 527.2,173.0 524.2,173.6" fill="#27ed00"/>
<path d="M544.3,206.7 547.2,205.7 545.0,202.1 542.1,203.0" fill="#00e4d2"/>
<path d="M512.7,163.6 515.8,163.1 513.7,160.5 510.6,160.9" fill="#8fe500"/>
<path d="M537.4,191.6 540.4,190.8 538.2,187.5 535.3,188.3" fill="#00ed58"/>
<path d="M492.9,147.7 496.1,147.5 494.0,145.0 490.9,145.1" fill="#d5ae00"/>
<path d="M546.9,221.3 549.8,220.3 547.6,216.2 544.7,217.2" fill="#0077d7"/>
<path d="M528.2,178.9 531.2,178.3 529.0,175.3 526.0,175.9" fill="#14ee00"/>
<path d="M502.8,155.5 505.9,155.2 503.9,152.7 500.7,152.9" fill="#cadd00"/>
<path d="M535.6,189.0 538.6,188.2 536.4,185.0 533.4,185.7" fill="#00ee40"/>
<path d="M530.0,181.3 533.0,180.7 530.9,177.6 527.8,178.3" fill="#01ee00"/>
<path d="M545.6,213.8 548.5,212.8 546.3,208.9 543.4,209.9" fill="#00b9de"/>
<path d="M533.7,186.4 536.7,185.6 534.6,182.5 531.6,183.2" fill="#00ee29"/>
<path d="M531.9,183.8 534.9,183.1 532.7,180.0 529.7,180.7" fill="#00ee14"/>
<path d="M474.9,133.8 478.1,133.9 476.1,131.4 472.9,131.3" fill="#c84200"/>
<path d="M514.5,165.7 517.6,165.2 515.5,162.5 512.4,163.0" fill="#83e600"/>
<path d="M542.4,203.6 545.4,202.7 543.2,199.1 540.2,200.0" fill="#00e6b6"/>
<path d="M484.8,141.8 488.0,141.7 486.0,139.2 482.8,139.2" fill="#cf7c00"/>
<path d="M546.4,225.7 549.3,224.7 547.0,220.4 544.2,221.4" fill="#0057d2"/>
<path d="M494.7,149.6 497.9,149.4 495.8,146.9 492.7,147.1" fill="#d7b900"/>
<path d="M504.6,157.5 507.8,157.2 505.7,154.6 502.5,154.9" fill="#c0df00"/>
<path d="M516.4,167.9 519.5,167.4 517.3,164.6 514.3,165.1" fill="#75e800"/>
<path d="M540.6,200.6 543.5,199.8 541.3,196.3 538.4,197.1" fill="#00e89a"/>
<path d="M543.7,210.5 546.6,209.6 544.4,205.8 541.5,206.7" fill="#00dce0"/>
<path d="M545.0,217.9 547.9,216.9 545.7,212.9 542.8,213.8" fill="#009cda"/>
<path d="M476.7,135.8 480.0,135.8 477.9,133.3 474.7,133.2" fill="#c94b00"/>
<path d="M518.2,170.1 521.3,169.5 519.2,166.7 516.1,167.2" fill="#67e900"/>
<path d="M486.7,143.7 489.9,143.6 487.8,141.1 484.6,141.2" fill="#d08500"/>
<path d="M506.5,159.6 509.6,159.2 507.5,156.6 504.4,156.9" fill="#b6e000"/>
<path d="M496.6,151.6 499.7,151.3 497.7,148.8 494.5,149.0" fill="#d8c400"/>
<path d="M538.7,197.7 541.6,196.9 539.5,193.5 536.5,194.3" fill="#00e97f"/>
<path d="M520.1,172.3 523.1,171.7 521.0,168.9 517.9,169.4" fill="#57ea00"/>
<path d="M536.8,194.9 539.8,194.1 537.6,190.7 534.6,191.5" fill="#00ea65"/>
<path d="M541.8,207.4 544.8,206.4 542.6,202.7 539.6,203.6" fill="#00e2c7"/>
<path d="M508.3,161.6 511.4,161.3 509.3,158.6 506.2,159.0" fill="#abe200"/>
<path d="M478.6,137.7 481.8,137.7 479.8,135.2 476.5,135.2" fill="#ca5400"/>
<path d="M544.5,222.1 547.4,221.1 545.2,217.0 542.3,217.9" fill="#007dd5"/>
<path d="M521.9,174.6 525.0,174.0 522.8,171.1 519.8,171.7" fill="#47eb00"/>
<path d="M488.5,145.6 491.7,145.5 489.6,143.0 486.4,143.1" fill="#d28f00"/>
<path d="M498.4,153.6 501.5,153.3 499.5,150.7 496.3,151.0" fill="#dad000"/>
<path d="M535.0,192.2 537.9,191.4 535.8,188.1 532.8,188.8" fill="#00eb4c"/>
<path d="M523.8,176.9 526.8,176.3 524.7,173.4 521.6,174.0" fill="#35eb00"/>
<path d="M543.2,214.5 546.1,213.6 543.9,209.6 540.9,210.5" fill="#00c0dc"/>
<path d="M533.1,189.5 536.1,188.7 533.9,185.5 530.9,186.2" fill="#00ec34"/>
<path d="M525.6,179.3 528.7,178.7 526.5,175.7 523.5,176.3" fill="#22ec00"/>
<path d="M510.2,163.8 513.3,163.3 511.1,160.6 508.0,161.0" fill="#9fe300"/>
<path d="M531.2,186.8 534.2,186.1 532.1,182.9 529.1,183.6" fill="#00ec1d"/>
<path d="M527.5,181.8 530.5,181.1 528.4,178.1 525.3,178.7" fill="#0eec00"/>
<path d="M529.4,184.3 532.4,183.6 530.2,180.5 527.2,181.1" fill="#00ec07"/>
<path d="M544.0,226.5 546.8,225.5 544.6,221.2 541.7,222.2" fill="#005dd0"/>
<path d="M540.0,204.3 542.9,203.4 540.7,199.8 537.8,200.6" fill="#00e4aa"/>
<path d="M480.4,139.6 483.6,139.6 481.6,137.1 478.3,137.1" fill="#cc5e00"/>
<path d="M500.2,155.6 503.4,155.3 501.3,152.7 498.1,152.9" fill="#dadb00"/>
<path d="M490.3,147.6 493.5,147.4 491.4,144.9 488.2,145.0" fill="#d39a00"/>
<path d="M512.0,165.9 515.1,165.5 513.0,162.7 509.9,163.1" fill="#92e500"/>
<path d="M541.3,211.2 544.2,210.3 542.0,206.5 539.1,207.3" fill="#00deda"/>
<path d="M542.6,218.6 545.5,217.7 543.3,213.6 540.4,214.5" fill="#00a2d8"/>
<path d="M538.1,201.3 541.0,200.4 538.8,196.9 535.9,197.7" fill="#00e68e"/>
<path d="M513.8,168.1 516.9,167.6 514.8,164.8 511.7,165.3" fill="#84e600"/>
<path d="M502.1,157.6 505.2,157.3 503.1,154.7 500.0,155.0" fill="#d0dd00"/>
<path d="M482.2,141.6 485.4,141.5 483.4,139.0 480.2,139.0" fill="#cd6700"/>
<path d="M492.1,149.5 495.3,149.4 493.3,146.8 490.1,147.0" fill="#d5a500"/>
<path d="M536.2,198.3 539.2,197.5 537.0,194.0 534.0,194.8" fill="#00e773"/>
<path d="M515.7,170.3 518.8,169.8 516.6,167.0 513.6,167.5" fill="#75e700"/>
<path d="M542.1,222.9 544.9,221.9 542.7,217.7 539.8,218.7" fill="#0083d3"/>
<path d="M539.4,208.0 542.3,207.1 540.1,203.4 537.2,204.2" fill="#00e1bc"/>
<path d="M503.9,159.7 507.0,159.3 504.9,156.7 501.8,157.0" fill="#c6de00"/>
<path d="M534.3,195.5 537.3,194.7 535.1,191.3 532.2,192.0" fill="#00e959"/>
<path d="M517.5,172.6 520.6,172.0 518.5,169.2 515.4,169.7" fill="#66e800"/>
<path d="M484.0,143.5 487.2,143.5 485.2,140.9 482.0,141.0" fill="#cf7100"/>
<path d="M494.0,151.5 497.1,151.3 495.1,148.8 491.9,148.9" fill="#d6b000"/>
<path d="M540.7,215.2 543.6,214.3 541.4,210.3 538.5,211.2" fill="#00c6da"/>
<path d="M532.5,192.7 535.4,191.9 533.3,188.6 530.3,189.3" fill="#00e93f"/>
<path d="M519.4,174.9 522.5,174.3 520.3,171.4 517.3,171.9" fill="#55e900"/>
<path d="M505.7,161.8 508.9,161.4 506.8,158.7 503.6,159.0" fill="#bae000"/>
<path d="M521.3,177.3 524.3,176.7 522.2,173.7 519.1,174.3" fill="#43ea00"/>
<path d="M530.6,189.9 533.6,189.2 531.4,186.0 528.4,186.6" fill="#00ea27"/>
<path d="M537.5,204.9 540.4,204.0 538.2,200.4 535.3,201.2" fill="#00e29f"/>
<path d="M523.1,179.7 526.2,179.1 524.0,176.1 521.0,176.6" fill="#30ea00"/>
<path d="M528.7,187.3 531.7,186.6 529.6,183.4 526.5,184.1" fill="#00ea0f"/>
<path d="M525.0,182.2 528.0,181.5 525.8,178.4 522.8,179.0" fill="#1cea00"/>
<path d="M526.9,184.7 529.9,184.0 527.7,180.9 524.7,181.5" fill="#07eb00"/>
<path d="M495.8,153.5 499.0,153.3 496.9,150.7 493.7,150.9" fill="#d8bc00"/>
<path d="M485.9,145.5 489.1,145.4 487.0,142.9 483.8,142.9" fill="#d07b00"/>
<path d="M507.6,163.9 510.7,163.5 508.6,160.8 505.5,161.1" fill="#aee100"/>
<path d="M540.1,219.4 543.0,218.4 540.8,214.3 537.9,215.2" fill="#00a8d6"/>
<path d="M538.8,211.9 541.7,211.0 539.5,207.1 536.6,208.0" fill="#00dccf"/>
<path d="M535.6,201.9 538.6,201.0 536.4,197.4 533.4,198.2" fill="#00e483"/>
<path d="M497.6,155.6 500.8,155.3 498.7,152.7 495.6,152.9" fill="#dac900"/>
<path d="M509.4,166.1 512.5,165.6 510.4,162.9 507.3,163.3" fill="#a1e300"/>
<path d="M487.7,147.5 490.9,147.3 488.8,144.8 485.6,144.9" fill="#d18600"/>
<path d="M533.7,198.9 536.7,198.1 534.5,194.6 531.5,195.3" fill="#00e567"/>
<path d="M511.3,168.3 514.4,167.8 512.3,165.0 509.2,165.4" fill="#93e400"/>
<path d="M536.9,208.7 539.8,207.8 537.6,204.0 534.7,204.8" fill="#00dfb1"/>
<path d="M499.5,157.6 502.6,157.4 500.5,154.7 497.4,155.0" fill="#dbd600"/>
<path d="M538.2,215.9 541.2,215.0 538.9,211.0 536.0,211.9" fill="#00cdd8"/>
<path d="M531.8,196.0 534.8,195.2 532.6,191.8 529.7,192.5" fill="#00e74c"/>
<path d="M513.1,170.5 516.2,170.1 514.1,167.2 511.0,167.6" fill="#84e500"/>
<path d="M489.5,149.4 492.7,149.3 490.7,146.7 487.5,146.8" fill="#d39100"/>
<path d="M515.0,172.8 518.1,172.3 515.9,169.4 512.9,169.9" fill="#74e600"/>
<path d="M530.0,193.2 533.0,192.4 530.8,189.1 527.8,189.8" fill="#00e833"/>
<path d="M501.3,159.7 504.5,159.4 502.4,156.7 499.2,157.0" fill="#d6dd00"/>
<path d="M535.0,205.5 538.0,204.7 535.8,201.0 532.8,201.8" fill="#00e094"/>
<path d="M516.9,175.2 519.9,174.6 517.8,171.7 514.7,172.2" fill="#63e700"/>
<path d="M528.1,190.4 531.1,189.7 528.9,186.4 525.9,187.1" fill="#00e81a"/>
<path d="M491.4,151.5 494.5,151.3 492.5,148.7 489.3,148.8" fill="#d59c00"/>
<path d="M518.7,177.6 521.8,177.0 519.6,174.0 516.6,174.5" fill="#51e800"/>
<path d="M526.2,187.7 529.2,187.0 527.0,183.8 524.0,184.4" fill="#00e902"/>
<path d="M520.6,180.0 523.6,179.4 521.5,176.4 518.4,176.9" fill="#3ee800"/>
<path d="M524.3,185.1 527.4,184.4 525.2,181.3 522.2,181.9" fill="#14e900"/>
<path d="M522.5,182.5 525.5,181.9 523.3,178.8 520.3,179.4" fill="#2ae900"/>
<path d="M503.2,161.8 506.3,161.5 504.2,158.8 501.1,159.1" fill="#cade00"/>
<path d="M536.3,212.6 539.3,211.7 537.0,207.8 534.1,208.6" fill="#00dac4"/>
<path d="M533.1,202.4 536.1,201.6 533.9,198.0 530.9,198.8" fill="#00e277"/>
<path d="M493.2,153.5 496.4,153.3 494.3,150.7 491.1,150.8" fill="#d6a800"/>
<path d="M505.0,164.0 508.1,163.6 506.0,160.9 502.9,161.2" fill="#bee000"/>
<path d="M531.2,199.4 534.2,198.7 532.0,195.1 529.0,195.8" fill="#00e45b"/>
<path d="M506.9,166.2 510.0,165.8 507.9,163.0 504.8,163.4" fill="#b1e100"/>
<path d="M534.4,209.3 537.4,208.4 535.2,204.6 532.2,205.4" fill="#00dda6"/>
<path d="M495.0,155.6 498.2,155.3 496.1,152.7 493.0,152.9" fill="#d8b500"/>
<path d="M508.7,168.4 511.8,168.0 509.7,165.2 506.6,165.6" fill="#a3e200"/>
<path d="M529.3,196.5 532.3,195.8 530.1,192.3 527.2,193.0" fill="#00e540"/>
<path d="M496.9,157.6 500.0,157.4 498.0,154.7 494.8,154.9" fill="#d9c200"/>
<path d="M510.6,170.7 513.7,170.3 511.5,167.4 508.5,167.8" fill="#93e300"/>
<path d="M527.5,193.6 530.5,192.9 528.3,189.5 525.3,190.2" fill="#00e626"/>
<path d="M532.5,206.1 535.5,205.3 533.3,201.5 530.3,202.3" fill="#00de88"/>
<path d="M512.5,173.0 515.5,172.6 513.4,169.7 510.3,170.1" fill="#83e400"/>
<path d="M525.6,190.8 528.6,190.2 526.4,186.8 523.4,187.5" fill="#00e60d"/>
<path d="M514.3,175.4 517.4,174.9 515.2,172.0 512.2,172.4" fill="#72e500"/>
<path d="M498.7,159.8 501.9,159.5 499.8,156.8 496.6,157.0" fill="#dbd000"/>
<path d="M523.7,188.1 526.7,187.5 524.5,184.2 521.5,184.8" fill="#0be700"/>
<path d="M516.2,177.9 519.2,177.3 517.1,174.3 514.0,174.8" fill="#60e600"/>
<path d="M521.8,185.5 524.8,184.9 522.7,181.6 519.6,182.2" fill="#22e700"/>
<path d="M518.1,180.3 521.1,179.8 518.9,176.7 515.9,177.2" fill="#4ce600"/>
<path d="M519.9,182.9 523.0,182.3 520.8,179.1 517.8,179.7" fill="#38e700"/>
<path d="M530.6,203.0 533.6,202.2 531.4,198.5 528.4,199.3" fill="#00e06b"/>
<path d="M500.6,161.9 503.7,161.6 501.6,158.9 498.5,159.1" fill="#dadc00"/>
<path d="M528.7,199.9 531.7,199.2 529.5,195.6 526.5,196.3" fill="#00e24f"/>
<path d="M502.4,164.1 505.6,163.8 503.5,161.0 500.3,161.3" fill="#cdde00"/>
<path d="M504.3,166.3 507.4,166.0 505.3,163.1 502.2,163.5" fill="#c0df00"/>
<path d="M526.8,197.0 529.8,196.3 527.6,192.8 524.6,193.4" fill="#00e333"/>
<path d="M506.2,168.6 509.3,168.2 507.1,165.3 504.0,165.7" fill="#b2e000"/>
<path d="M524.9,194.1 527.9,193.4 525.8,190.0 522.8,190.6" fill="#00e419"/>
<path d="M508.0,170.9 511.1,170.5 509.0,167.6 505.9,168.0" fill="#a3e100"/>
<path d="M523.1,191.3 526.1,190.6 523.9,187.2 520.9,187.9" fill="#00e400"/>
<path d="M509.9,173.2 513.0,172.8 510.8,169.9 507.7,170.3" fill="#92e200"/>
<path d="M521.2,188.5 524.2,187.9 522.0,184.6 519.0,185.2" fill="#19e500"/>
<path d="M511.8,175.7 514.8,175.2 512.7,172.2 509.6,172.6" fill="#81e300"/>
<path d="M519.3,185.8 522.3,185.2 520.1,182.0 517.1,182.5" fill="#30e500"/>
<path d="M513.6,178.1 516.7,177.6 514.5,174.6 511.5,175.0" fill="#6ee400"/>
<path d="M517.4,183.2 520.4,182.6 518.3,179.5 515.2,180.0" fill="#46e500"/>
<path d="M515.5,180.6 518.6,180.1 516.4,177.0 513.4,177.5" fill="#5be400"/>
<path d="M544.0,226.1 L540.1,218.8 L536.3,211.9 L532.4,205.3 L528.6,199.1 L524.7,193.2 L520.9,187.5 L517.1,182.1 L513.2,177.0 L509.4,172.1 L505.7,167.4 L501.9,162.8 L498.1,158.5 L494.4,154.2 L490.7,150.1 L486.9,146.0 L483.2,142.1 L479.5,138.1 L475.8,134.2 L472.1,130.3 L468.4,126.3 L464.7,122.3 L461.0,118.2 L457.3,114.0 L453.5,109.7 L449.7,105.2 L446.0,100.6 L442.1,95.8 L438.3,90.7 L434.4,85.4 M551.3,223.6 L547.5,216.5 L543.7,209.9 L539.9,203.5 L536.0,197.5 L532.2,191.8 L528.4,186.3 L524.6,181.1 L520.9,176.2 L517.1,171.4 L513.3,166.9 L509.6,162.5 L505.9,158.3 L502.2,154.2 L498.4,150.2 L494.7,146.3 L491.1,142.5 L487.4,138.7 L483.7,134.9 L480.0,131.0 L476.3,127.2 L472.6,123.3 L468.9,119.3 L465.2,115.2 L461.5,111.0 L457.8,106.6 L454.0,102.0 L450.2,97.3 L446.4,92.3 L442.5,87.1 M558.6,221.0 L554.8,214.1 L551.0,207.7 L547.2,201.5 L543.5,195.7 L539.7,190.2 L535.9,184.9 L532.2,179.9 L528.4,175.1 L524.7,170.6 L521.0,166.2 L517.2,162.0 L513.5,157.9 L509.8,154.0 L506.1,150.1 L502.4,146.4 L498.8,142.6 L495.1,138.9 L491.4,135.3 L487.8,131.6 L484.1,127.8 L480.4,124.0 L476.8,120.1 L473.1,116.1 L469.4,111.9 L465.6,107.6 L461.9,103.2 L458.1,98.5 L454.3,93.5 L450.5,88.3 M565.8,218.2 L562.1,211.6 L558.3,205.3 L554.6,199.4 L550.8,193.7 L547.1,188.4 L543.4,183.3 L539.6,178.5 L535.9,173.9 L532.2,169.5 L528.5,165.3 L524.8,161.2 L521.1,157.3 L517.4,153.5 L513.7,149.8 L510.1,146.1 L506.4,142.5 L502.7,139.0 L499.1,135.4 L495.4,131.8 L491.8,128.1 L488.1,124.4 L484.5,120.6 L480.8,116.7 L477.1,112.6 L473.4,108.4 L469.7,103.9 L465.9,99.3 L462.2,94.4 L458.3,89.3 M573.0,215.2 L569.3,208.8 L565.6,202.8 L561.9,197.0 L558.2,191.6 L554.5,186.4 L550.8,181.5 L547.0,176.9 L543.3,172.4 L539.6,168.2 L535.9,164.1 L532.3,160.2 L528.6,156.4 L524.9,152.8 L521.2,149.2 L517.6,145.7 L513.9,142.2 L510.3,138.7 L506.7,135.2 L503.0,131.7 L499.4,128.2 L495.7,124.6 L492.1,120.8 L488.4,117.0 L484.7,113.0 L481.1,108.8 L477.4,104.4 L473.6,99.8 L469.9,95.0 L466.1,89.9 M580.2,212.2 L576.5,206.0 L572.9,200.1 L569.2,194.5 L565.5,189.3 L561.8,184.3 L558.1,179.6 L554.4,175.1 L550.7,170.8 L547.0,166.7 L543.3,162.8 L539.7,159.0 L536.0,155.4 L532.3,151.9 L528.7,148.4 L525.0,145.0 L521.4,141.6 L517.8,138.2 L514.1,134.9 L510.5,131.5 L506.9,128.0 L503.2,124.4 L499.6,120.8 L495.9,117.0 L492.3,113.0 L488.6,108.9 L484.9,104.6 L481.2,100.0 L477.5,95.3 L473.7,90.2 M587.4,209.0 L583.7,203.0 L580.1,197.3 L576.4,191.9 L572.8,186.8 L569.1,182.0 L565.4,177.5 L561.7,173.1 L558.0,169.0 L554.4,165.1 L550.7,161.3 L547.0,157.7 L543.4,154.1 L539.7,150.7 L536.1,147.4 L532.4,144.1 L528.8,140.8 L525.2,137.5 L521.5,134.3 L517.9,130.9 L514.3,127.5 L510.6,124.1 L507.0,120.5 L503.4,116.7 L499.7,112.8 L496.1,108.8 L492.4,104.5 L488.7,100.0 L485.0,95.2 L481.2,90.2 M594.5,205.7 L590.9,199.9 L587.3,194.4 L583.7,189.2 L580.0,184.3 L576.3,179.6 L572.7,175.2 L569.0,171.0 L565.3,167.1 L561.7,163.3 L558.0,159.6 L554.3,156.1 L550.7,152.7 L547.0,149.4 L543.4,146.2 L539.8,143.0 L536.1,139.8 L532.5,136.6 L528.9,133.4 L525.2,130.2 L521.6,126.9 L518.0,123.4 L514.4,119.9 L510.7,116.2 L507.1,112.4 L503.4,108.4 L499.8,104.1 L496.1,99.7 L492.4,94.9 L488.7,89.9 M601.7,202.3 L598.1,196.7 L594.5,191.3 L590.9,186.3 L587.2,181.6 L583.6,177.1 L579.9,172.8 L576.3,168.8 L572.6,165.0 L568.9,161.3 L565.3,157.8 L561.6,154.4 L558.0,151.1 L554.3,147.9 L550.7,144.8 L547.0,141.7 L543.4,138.6 L539.8,135.5 L536.1,132.4 L532.5,129.2 L528.9,125.9 L525.3,122.6 L521.6,119.1 L518.0,115.5 L514.4,111.7 L510.8,107.7 L507.1,103.5 L503.4,99.1 L499.8,94.3 L496.0,89.3 M608.8,198.8 L605.3,193.4 L601.7,188.2 L598.1,183.3 L594.4,178.7 L590.8,174.4 L587.1,170.3 L583.5,166.4 L579.8,162.7 L576.2,159.2 L572.5,155.8 L568.8,152.5 L565.2,149.3 L561.5,146.2 L557.9,143.2 L554.2,140.2 L550.6,137.2 L547.0,134.2 L543.3,131.1 L539.7,128.0 L536.1,124.8 L532.5,121.5 L528.9,118.1 L525.2,114.5 L521.6,110.8 L518.0,106.8 L514.4,102.6 L510.7,98.2 L507.0,93.5 L503.3,88.5 M616.0,195.3 L612.4,190.0 L608.8,185.0 L605.2,180.3 L601.6,175.8 L598.0,171.6 L594.3,167.7 L590.7,163.9 L587.0,160.3 L583.4,156.9 L579.7,153.6 L576.0,150.5 L572.4,147.4 L568.7,144.4 L565.1,141.5 L561.4,138.6 L557.8,135.6 L554.1,132.7 L550.5,129.7 L546.9,126.7 L543.3,123.5 L539.7,120.3 L536.0,116.9 L532.4,113.3 L528.8,109.6 L525.2,105.7 L521.6,101.5 L517.9,97.1 L514.3,92.4 L510.6,87.4 M623.1,191.6 L619.6,186.5 L616.0,181.7 L612.4,177.1 L608.8,172.8 L605.2,168.8 L601.5,164.9 L597.9,161.3 L594.2,157.9 L590.5,154.6 L586.9,151.4 L583.2,148.3 L579.5,145.4 L575.9,142.5 L572.2,139.6 L568.6,136.8 L564.9,133.9 L561.3,131.0 L557.6,128.1 L554.0,125.1 L550.4,122.0 L546.8,118.8 L543.2,115.5 L539.5,112.0 L535.9,108.3 L532.3,104.3 L528.7,100.2 L525.1,95.8 L521.4,91.1 L517.8,86.1 M630.3,187.9 L626.7,183.0 L623.2,178.3 L619.6,173.9 L616.0,169.7 L612.3,165.8 L608.7,162.1 L605.0,158.6 L601.4,155.3 L597.7,152.1 L594.0,149.0 L590.3,146.1 L586.7,143.2 L583.0,140.4 L579.3,137.6 L575.7,134.8 L572.0,132.0 L568.4,129.2 L564.7,126.3 L561.1,123.4 L557.5,120.4 L553.9,117.2 L550.2,113.9 L546.6,110.4 L543.0,106.7 L539.4,102.8 L535.8,98.7 L532.2,94.3 L528.6,89.6 L524.9,84.6 M637.4,184.2 L633.9,179.4 L630.3,174.8 L626.7,170.6 L623.1,166.5 L619.5,162.8 L615.8,159.2 L612.2,155.8 L608.5,152.6 L604.8,149.5 L601.1,146.5 L597.4,143.7 L593.8,140.9 L590.1,138.1 L586.4,135.4 L582.7,132.7 L579.1,130.0 L575.4,127.2 L571.8,124.4 L568.2,121.5 L564.5,118.5 L560.9,115.4 L557.3,112.1 L553.7,108.6 L550.1,105.0 L546.5,101.1 L542.9,96.9 L539.3,92.5 L535.7,87.8 L532.0,82.8 M644.6,180.4 L641.0,175.7 L637.5,171.3 L633.9,167.2 L630.3,163.3 L626.6,159.7 L623.0,156.2 L619.3,152.9 L615.6,149.8 L611.9,146.8 L608.2,143.9 L604.5,141.2 L600.8,138.5 L597.2,135.8 L593.5,133.1 L589.8,130.5 L586.1,127.8 L582.5,125.1 L578.8,122.4 L575.2,119.5 L571.5,116.5 L567.9,113.4 L564.3,110.2 L560.7,106.7 L557.1,103.0 L553.5,99.2 L549.9,95.0 L546.3,90.6 L542.7,85.9 L539.1,80.8 M651.7,176.6 L648.2,172.1 L644.6,167.8 L641.0,163.8 L637.4,160.0 L633.8,156.5 L630.1,153.1 L626.4,150.0 L622.7,146.9 L619.0,144.1 L615.3,141.3 L611.6,138.6 L607.9,135.9 L604.2,133.3 L600.5,130.8 L596.8,128.2 L593.1,125.6 L589.5,122.9 L585.8,120.2 L582.2,117.4 L578.5,114.4 L574.9,111.3 L571.3,108.1 L567.7,104.6 L564.1,101.0 L560.5,97.1 L556.9,92.9 L553.3,88.5 L549.8,83.7 L546.2,78.7 M658.9,172.8 L655.3,168.4 L651.8,164.2 L648.2,160.4 L644.5,156.7 L640.9,153.3 L637.2,150.0 L633.5,147.0 L629.8,144.0 L626.1,141.2 L622.4,138.5 L618.7,135.9 L615.0,133.3 L611.2,130.8 L607.5,128.3 L603.8,125.8 L600.1,123.2 L596.5,120.6 L592.8,117.9 L589.2,115.1 L585.5,112.1 L581.9,109.1 L578.3,105.8 L574.7,102.4 L571.1,98.7 L567.5,94.8 L563.9,90.7 L560.3,86.2 L556.8,81.4 L553.2,76.3 M666.0,168.9 L662.5,164.7 L658.9,160.6 L655.3,156.9 L651.6,153.4 L648.0,150.0 L644.3,146.9 L640.6,143.9 L636.9,141.1 L633.2,138.3 L629.4,135.7 L625.7,133.2 L622.0,130.7 L618.3,128.2 L614.5,125.7 L610.8,123.2 L607.1,120.7 L603.4,118.1 L599.8,115.4 L596.1,112.7 L592.5,109.8 L588.8,106.7 L585.2,103.4 L581.6,100.0 L578.0,96.3 L574.4,92.4 L570.9,88.2 L567.3,83.8 L563.8,79.0 L560.2,73.8 M673.2,165.1 L669.6,160.9 L666.0,157.0 L662.4,153.4 L658.8,150.0 L655.1,146.7 L651.4,143.7 L647.7,140.8 L643.9,138.1 L640.2,135.4 L636.5,132.9 L632.7,130.4 L629.0,127.9 L625.3,125.5 L621.5,123.1 L617.8,120.6 L614.1,118.1 L610.4,115.6 L606.7,112.9 L603.1,110.2 L599.4,107.3 L595.8,104.2 L592.2,101.0 L588.6,97.5 L585.0,93.8 L581.4,89.9 L577.9,85.7 L574.3,81.2 L570.8,76.3 L567.3,71.1 M544.0,226.1 L548.5,224.6 L552.9,223.0 L557.3,221.4 L561.7,219.7 L566.1,218.0 L570.5,216.2 L574.9,214.4 L579.3,212.6 L583.7,210.6 L588.1,208.7 L592.5,206.7 L596.8,204.6 L601.2,202.5 L605.6,200.4 L609.9,198.3 L614.3,196.1 L618.6,193.9 L623.0,191.7 L627.4,189.4 L631.7,187.2 L636.1,184.9 L640.4,182.6 L644.8,180.3 L649.2,178.0 L653.5,175.6 L657.9,173.3 L662.3,170.9 L666.6,168.6 L671.0,166.3 M538.3,215.5 L542.8,214.2 L547.3,212.8 L551.8,211.4 L556.2,209.9 L560.7,208.4 L565.1,206.8 L569.5,205.2 L573.9,203.5 L578.3,201.7 L582.7,199.9 L587.1,198.1 L591.5,196.2 L595.9,194.3 L600.3,192.4 L604.7,190.4 L609.0,188.3 L613.4,186.3 L617.8,184.2 L622.1,182.1 L626.5,180.0 L630.9,177.8 L635.2,175.7 L639.6,173.5 L644.0,171.3 L648.3,169.1 L652.7,166.9 L657.0,164.6 L661.4,162.4 L665.7,160.2 M532.6,205.6 L537.2,204.6 L541.7,203.4 L546.2,202.2 L550.7,200.9 L555.1,199.5 L559.6,198.1 L564.1,196.6 L568.5,195.1 L572.9,193.5 L577.3,191.9 L581.8,190.2 L586.2,188.5 L590.6,186.8 L594.9,184.9 L599.3,183.1 L603.7,181.2 L608.1,179.3 L612.5,177.4 L616.8,175.4 L621.2,173.4 L625.6,171.4 L629.9,169.3 L634.3,167.3 L638.7,165.2 L643.0,163.1 L647.4,161.0 L651.7,158.9 L656.1,156.8 L660.4,154.6 M526.9,196.5 L531.5,195.6 L536.1,194.7 L540.6,193.6 L545.1,192.5 L549.6,191.3 L554.1,190.1 L558.6,188.8 L563.0,187.4 L567.5,186.0 L571.9,184.5 L576.4,183.0 L580.8,181.4 L585.2,179.8 L589.6,178.1 L594.0,176.4 L598.4,174.7 L602.8,172.9 L607.1,171.1 L611.5,169.3 L615.9,167.4 L620.2,165.5 L624.6,163.6 L629.0,161.6 L633.3,159.7 L637.7,157.7 L642.0,155.7 L646.4,153.7 L650.7,151.6 L655.0,149.6 M521.3,188.1 L525.9,187.3 L530.5,186.5 L535.0,185.7 L539.6,184.7 L544.1,183.7 L548.6,182.6 L553.1,181.5 L557.6,180.3 L562.1,179.0 L566.5,177.7 L571.0,176.3 L575.4,174.9 L579.8,173.4 L584.2,171.9 L588.6,170.3 L593.0,168.7 L597.4,167.0 L601.8,165.4 L606.1,163.6 L610.5,161.9 L614.9,160.1 L619.2,158.3 L623.6,156.4 L627.9,154.6 L632.3,152.7 L636.6,150.8 L640.9,148.9 L645.3,146.9 L649.6,145.0 M515.6,180.2 L520.3,179.6 L524.9,179.0 L529.5,178.3 L534.1,177.5 L538.6,176.7 L543.1,175.7 L547.7,174.7 L552.1,173.7 L556.6,172.6 L561.1,171.4 L565.5,170.1 L570.0,168.8 L574.4,167.5 L578.8,166.1 L583.2,164.6 L587.6,163.1 L592.0,161.6 L596.4,160.0 L600.7,158.4 L605.1,156.8 L609.5,155.1 L613.8,153.4 L618.2,151.6 L622.5,149.9 L626.8,148.1 L631.2,146.3 L635.5,144.4 L639.8,142.6 L644.1,140.7 M510.0,172.8 L514.7,172.4 L519.3,172.0 L524.0,171.4 L528.6,170.8 L533.1,170.1 L537.7,169.3 L542.2,168.4 L546.7,167.5 L551.2,166.5 L555.7,165.5 L560.1,164.4 L564.6,163.2 L569.0,162.0 L573.4,160.7 L577.8,159.4 L582.2,158.0 L586.6,156.5 L591.0,155.1 L595.3,153.6 L599.7,152.0 L604.0,150.4 L608.4,148.8 L612.7,147.2 L617.0,145.5 L621.4,143.8 L625.7,142.0 L630.0,140.3 L634.3,138.5 L638.6,136.7 M504.4,165.9 L509.1,165.7 L513.8,165.3 L518.5,164.9 L523.1,164.4 L527.7,163.9 L532.2,163.2 L536.8,162.5 L541.3,161.7 L545.8,160.9 L550.3,159.9 L554.7,159.0 L559.2,157.9 L563.6,156.8 L568.0,155.6 L572.4,154.4 L576.8,153.1 L581.2,151.8 L585.6,150.4 L589.9,149.0 L594.3,147.5 L598.6,146.0 L602.9,144.5 L607.3,142.9 L611.6,141.3 L615.9,139.7 L620.2,138.0 L624.5,136.4 L628.8,134.6 L633.1,132.9 M498.9,159.3 L503.6,159.2 L508.3,159.1 L513.0,158.8 L517.6,158.5 L522.2,158.0 L526.8,157.5 L531.3,156.9 L535.9,156.3 L540.4,155.5 L544.9,154.7 L549.3,153.8 L553.8,152.9 L558.2,151.9 L562.6,150.8 L567.0,149.7 L571.4,148.5 L575.8,147.3 L580.1,146.0 L584.5,144.7 L588.8,143.3 L593.2,141.9 L597.5,140.4 L601.8,138.9 L606.1,137.4 L610.4,135.8 L614.7,134.2 L619.0,132.6 L623.3,130.9 L627.6,129.3 M493.4,153.1 L498.1,153.1 L502.8,153.1 L507.5,153.0 L512.2,152.7 L516.8,152.4 L521.4,152.0 L525.9,151.6 L530.5,151.0 L535.0,150.4 L539.5,149.7 L543.9,148.9 L548.4,148.1 L552.8,147.1 L557.2,146.2 L561.6,145.1 L566.0,144.1 L570.4,142.9 L574.7,141.7 L579.1,140.4 L583.4,139.1 L587.8,137.8 L592.1,136.4 L596.4,135.0 L600.7,133.5 L605.0,132.0 L609.3,130.5 L613.5,128.9 L617.8,127.3 L622.1,125.7 M487.9,147.0 L492.6,147.2 L497.4,147.3 L502.1,147.3 L506.7,147.2 L511.4,147.0 L516.0,146.7 L520.5,146.4 L525.1,145.9 L529.6,145.4 L534.1,144.8 L538.6,144.1 L543.0,143.4 L547.4,142.5 L551.9,141.7 L556.2,140.7 L560.6,139.7 L565.0,138.6 L569.4,137.5 L573.7,136.3 L578.0,135.1 L582.3,133.8 L586.7,132.5 L591.0,131.1 L595.2,129.7 L599.5,128.2 L603.8,126.7 L608.1,125.2 L612.3,123.6 L616.6,122.1 M482.4,141.2 L487.2,141.5 L491.9,141.7 L496.6,141.8 L501.3,141.8 L506.0,141.7 L510.6,141.5 L515.1,141.3 L519.7,140.9 L524.2,140.5 L528.7,140.0 L533.2,139.4 L537.6,138.7 L542.1,138.0 L546.5,137.2 L550.9,136.3 L555.3,135.4 L559.6,134.4 L564.0,133.3 L568.3,132.2 L572.6,131.0 L576.9,129.8 L581.2,128.5 L585.5,127.2 L589.8,125.8 L594.1,124.4 L598.4,122.9 L602.6,121.4 L606.9,119.9 L611.1,118.4 M476.9,135.4 L481.7,135.8 L486.5,136.1 L491.2,136.3 L495.9,136.4 L500.6,136.5 L505.2,136.4 L509.8,136.2 L514.3,135.9 L518.9,135.6 L523.4,135.2 L527.8,134.7 L532.3,134.1 L536.7,133.4 L541.1,132.7 L545.5,131.9 L549.9,131.0 L554.3,130.0 L558.6,129.0 L562.9,128.0 L567.3,126.8 L571.6,125.7 L575.9,124.4 L580.1,123.1 L584.4,121.8 L588.7,120.4 L593.0,119.0 L597.2,117.6 L601.5,116.1 L605.7,114.5 M471.5,129.6 L476.3,130.1 L481.1,130.5 L485.8,130.8 L490.5,131.0 L495.2,131.1 L499.8,131.2 L504.4,131.1 L509.0,130.9 L513.5,130.6 L518.0,130.3 L522.5,129.8 L526.9,129.3 L531.4,128.7 L535.8,128.0 L540.2,127.3 L544.6,126.5 L548.9,125.6 L553.3,124.6 L557.6,123.6 L561.9,122.5 L566.2,121.4 L570.5,120.2 L574.8,118.9 L579.0,117.6 L583.3,116.3 L587.6,114.9 L591.8,113.4 L596.1,112.0 L600.3,110.4 M466.0,123.7 L470.8,124.3 L475.7,124.8 L480.4,125.2 L485.1,125.5 L489.8,125.7 L494.4,125.8 L499.0,125.8 L503.6,125.7 L508.2,125.5 L512.7,125.2 L517.1,124.8 L521.6,124.4 L526.0,123.8 L530.5,123.2 L534.8,122.5 L539.2,121.7 L543.6,120.9 L547.9,120.0 L552.2,119.0 L556.6,118.0 L560.9,116.8 L565.1,115.7 L569.4,114.5 L573.7,113.2 L578.0,111.9 L582.2,110.5 L586.5,109.0 L590.7,107.6 L594.9,106.1 M460.5,117.7 L465.4,118.4 L470.2,119.0 L475.0,119.5 L479.7,119.9 L484.4,120.1 L489.1,120.3 L493.7,120.4 L498.2,120.3 L502.8,120.2 L507.3,120.0 L511.8,119.6 L516.3,119.2 L520.7,118.7 L525.1,118.2 L529.5,117.5 L533.9,116.8 L538.2,116.0 L542.6,115.1 L546.9,114.1 L551.2,113.1 L555.5,112.0 L559.8,110.9 L564.1,109.7 L568.4,108.4 L572.6,107.1 L576.9,105.7 L581.1,104.3 L585.4,102.8 L589.6,101.3 M455.0,111.4 L459.9,112.2 L464.7,112.9 L469.5,113.5 L474.3,113.9 L479.0,114.3 L483.6,114.5 L488.3,114.6 L492.9,114.6 L497.4,114.6 L501.9,114.4 L506.4,114.1 L510.9,113.7 L515.4,113.3 L519.8,112.8 L524.2,112.1 L528.6,111.4 L532.9,110.6 L537.3,109.8 L541.6,108.9 L545.9,107.9 L550.2,106.8 L554.5,105.7 L558.8,104.5 L563.0,103.2 L567.3,101.9 L571.6,100.5 L575.8,99.1 L580.0,97.6 L584.3,96.1 M449.5,104.9 L454.4,105.8 L459.2,106.5 L464.0,107.2 L468.8,107.7 L473.5,108.1 L478.2,108.3 L482.8,108.5 L487.4,108.6 L492.0,108.6 L496.5,108.4 L501.1,108.2 L505.5,107.9 L510.0,107.5 L514.4,106.9 L518.8,106.3 L523.2,105.7 L527.6,104.9 L531.9,104.1 L536.3,103.2 L540.6,102.2 L544.9,101.1 L549.2,100.0 L553.5,98.8 L557.7,97.5 L562.0,96.2 L566.3,94.8 L570.5,93.4 L574.8,91.9 L579.0,90.4 M443.9,98.0 L448.8,98.9 L453.7,99.7 L458.5,100.4 L463.3,101.0 L468.0,101.4 L472.7,101.8 L477.4,102.0 L482.0,102.1 L486.6,102.1 L491.1,102.0 L495.6,101.8 L500.1,101.5 L504.6,101.1 L509.0,100.6 L513.5,100.1 L517.8,99.4 L522.2,98.7 L526.6,97.8 L530.9,96.9 L535.3,95.9 L539.6,94.9 L543.9,93.8 L548.2,92.6 L552.4,91.3 L556.7,90.0 L561.0,88.6 L565.3,87.1 L569.5,85.6 L573.8,84.0 M438.2,90.6 L443.1,91.6 L448.0,92.5 L452.9,93.2 L457.7,93.8 L462.5,94.3 L467.2,94.7 L471.8,95.0 L476.5,95.1 L481.1,95.2 L485.7,95.1 L490.2,94.9 L494.7,94.6 L499.2,94.3 L503.6,93.8 L508.0,93.2 L512.5,92.6 L516.8,91.8 L521.2,91.0 L525.6,90.1 L529.9,89.1 L534.2,88.0 L538.6,86.9 L542.9,85.7 L547.2,84.4 L551.5,83.1 L555.7,81.6 L560.0,80.2 L564.3,78.6 L568.6,77.0 M432.4,82.7 L437.4,83.7 L442.3,84.7 L447.2,85.4 L452.0,86.1 L456.8,86.6 L461.6,87.0 L466.3,87.3 L470.9,87.5 L475.5,87.6 L480.1,87.5 L484.7,87.4 L489.2,87.1 L493.7,86.8 L498.2,86.3 L502.6,85.7 L507.0,85.1 L511.4,84.3 L515.8,83.5 L520.2,82.6 L524.6,81.6 L528.9,80.5 L533.2,79.3 L537.6,78.1 L541.9,76.8 L546.2,75.4 L550.5,74.0 L554.8,72.5 L559.1,70.9 L563.4,69.2" fill="none" stroke="#000" stroke-opacity="0.55" stroke-width="0.7"/>
<circle cx="443.9" cy="158.9" r="1.1" fill="#111"/>
<text x="439.555" y="156.699" font-size="7.3" fill="#2a2a2a" text-anchor="end" stroke="#2a2a2a" stroke-width=".15">4</text>
<circle cx="441.0" cy="139.4" r="1.1" fill="#111"/>
<text x="436.693" y="137.188" font-size="7.3" fill="#2a2a2a" text-anchor="end" stroke="#2a2a2a" stroke-width=".15">6</text>
<circle cx="438.0" cy="119.5" r="1.1" fill="#111"/>
<text x="433.732" y="117.346" font-size="7.3" fill="#2a2a2a" text-anchor="end" stroke="#2a2a2a" stroke-width=".15">8</text>
<circle cx="435.0" cy="99.4" r="1.1" fill="#111"/>
<text x="430.673" y="97.1746" font-size="7.3" fill="#2a2a2a" text-anchor="end" stroke="#2a2a2a" stroke-width=".15">10</text>
<circle cx="431.8" cy="78.9" r="1.1" fill="#111"/>
<text x="427.515" y="76.6724" font-size="7.3" fill="#2a2a2a" text-anchor="end" stroke="#2a2a2a" stroke-width=".15">12</text>
<circle cx="447.5" cy="184.0" r="1.1" fill="#111"/>
<circle cx="546.1" cy="263.7" r="1.1" fill="#111"/>
<text x="541.25" y="270.886" font-size="7.6" fill="#2a2a2a" text-anchor="end" stroke="#2a2a2a" stroke-width=".15">0</text>
<circle cx="531.5" cy="252.6" r="1.1" fill="#111"/>
<text x="526.714" y="259.811" font-size="7.6" fill="#2a2a2a" text-anchor="end" stroke="#2a2a2a" stroke-width=".15">0.1</text>
<circle cx="517.1" cy="241.4" r="1.1" fill="#111"/>
<text x="512.329" y="248.635" font-size="7.6" fill="#2a2a2a" text-anchor="end" stroke="#2a2a2a" stroke-width=".15">0.2</text>
<circle cx="502.9" cy="230.2" r="1.1" fill="#111"/>
<text x="498.094" y="237.359" font-size="7.6" fill="#2a2a2a" text-anchor="end" stroke="#2a2a2a" stroke-width=".15">0.3</text>
<circle cx="488.8" cy="218.8" r="1.1" fill="#111"/>
<text x="484.011" y="225.983" font-size="7.6" fill="#2a2a2a" text-anchor="end" stroke="#2a2a2a" stroke-width=".15">0.4</text>
<circle cx="474.9" cy="207.3" r="1.1" fill="#111"/>
<text x="470.079" y="214.506" font-size="7.6" fill="#2a2a2a" text-anchor="end" stroke="#2a2a2a" stroke-width=".15">0.5</text>
<circle cx="461.1" cy="195.7" r="1.1" fill="#111"/>
<text x="456.297" y="202.928" font-size="7.6" fill="#2a2a2a" text-anchor="end" stroke="#2a2a2a" stroke-width=".15">0.6</text>
<circle cx="447.5" cy="184.0" r="1.1" fill="#111"/>
<text x="442.667" y="191.25" font-size="7.6" fill="#2a2a2a" text-anchor="end" stroke="#2a2a2a" stroke-width=".15">0.7</text>
<circle cx="546.1" cy="263.7" r="1.1" fill="#111"/>
<text x="551.25" y="270.886" font-size="7.6" fill="#2a2a2a" stroke="#2a2a2a" stroke-width=".15">0</text>
<circle cx="576.7" cy="247.1" r="1.1" fill="#111"/>
<text x="581.863" y="254.267" font-size="7.6" fill="#2a2a2a" stroke="#2a2a2a" stroke-width=".15">5</text>
<circle cx="607.3" cy="230.1" r="1.1" fill="#111"/>
<text x="612.476" y="237.349" font-size="7.6" fill="#2a2a2a" stroke="#2a2a2a" stroke-width=".15">10</text>
<circle cx="637.9" cy="212.9" r="1.1" fill="#111"/>
<text x="643.088" y="220.132" font-size="7.6" fill="#2a2a2a" stroke="#2a2a2a" stroke-width=".15">15</text>
<circle cx="668.5" cy="195.4" r="1.1" fill="#111"/>
<text x="673.701" y="202.614" font-size="7.6" fill="#2a2a2a" stroke="#2a2a2a" stroke-width=".15">20</text>
<text x="576.8" y="10.8" font-size="13" fill="#222" text-anchor="middle" textLength="66" lengthAdjust="spacingAndGlyphs">3D Surface</text>
<text x="430" y="255.5" font-size="12.3" fill="#222" textLength="48.5" lengthAdjust="spacingAndGlyphs">B: AP (%)</text>
<text x="620.6" y="266" font-size="12.3" fill="#222" textLength="46.8" lengthAdjust="spacingAndGlyphs">A: SF (%)</text>
<text transform="translate(407.3,134.9) rotate(-90)" font-size="11.8" fill="#222" text-anchor="middle" textLength="34" lengthAdjust="spacingAndGlyphs">WA (%)</text>
<circle cx="504.5" cy="85.7" r="2.7" fill="#b00000"/>
<circle cx="463.8" cy="120.1" r="2.6" fill="#b00000"/>
<circle cx="594.6" cy="102.8" r="2.6" fill="#b00000"/>
<circle cx="672.5" cy="164.4" r="2.7" fill="#b00000"/>
<circle cx="545.2" cy="228.6" r="2.7" fill="#b00000"/>
<circle cx="510.8" cy="175.2" r="1.9" fill="#f2c4c4"/>
<circle cx="641.2" cy="134.7" r="1.6" fill="#f2c4c4"/>
<ellipse cx="580.1" cy="158.3" rx="4.2" ry="3.1" fill="#b00000" stroke="#8a0000" stroke-width=".5"/><circle cx="580.3" cy="158.9" r="2.4" fill="#c40000"/>
</svg>
</body></html>
